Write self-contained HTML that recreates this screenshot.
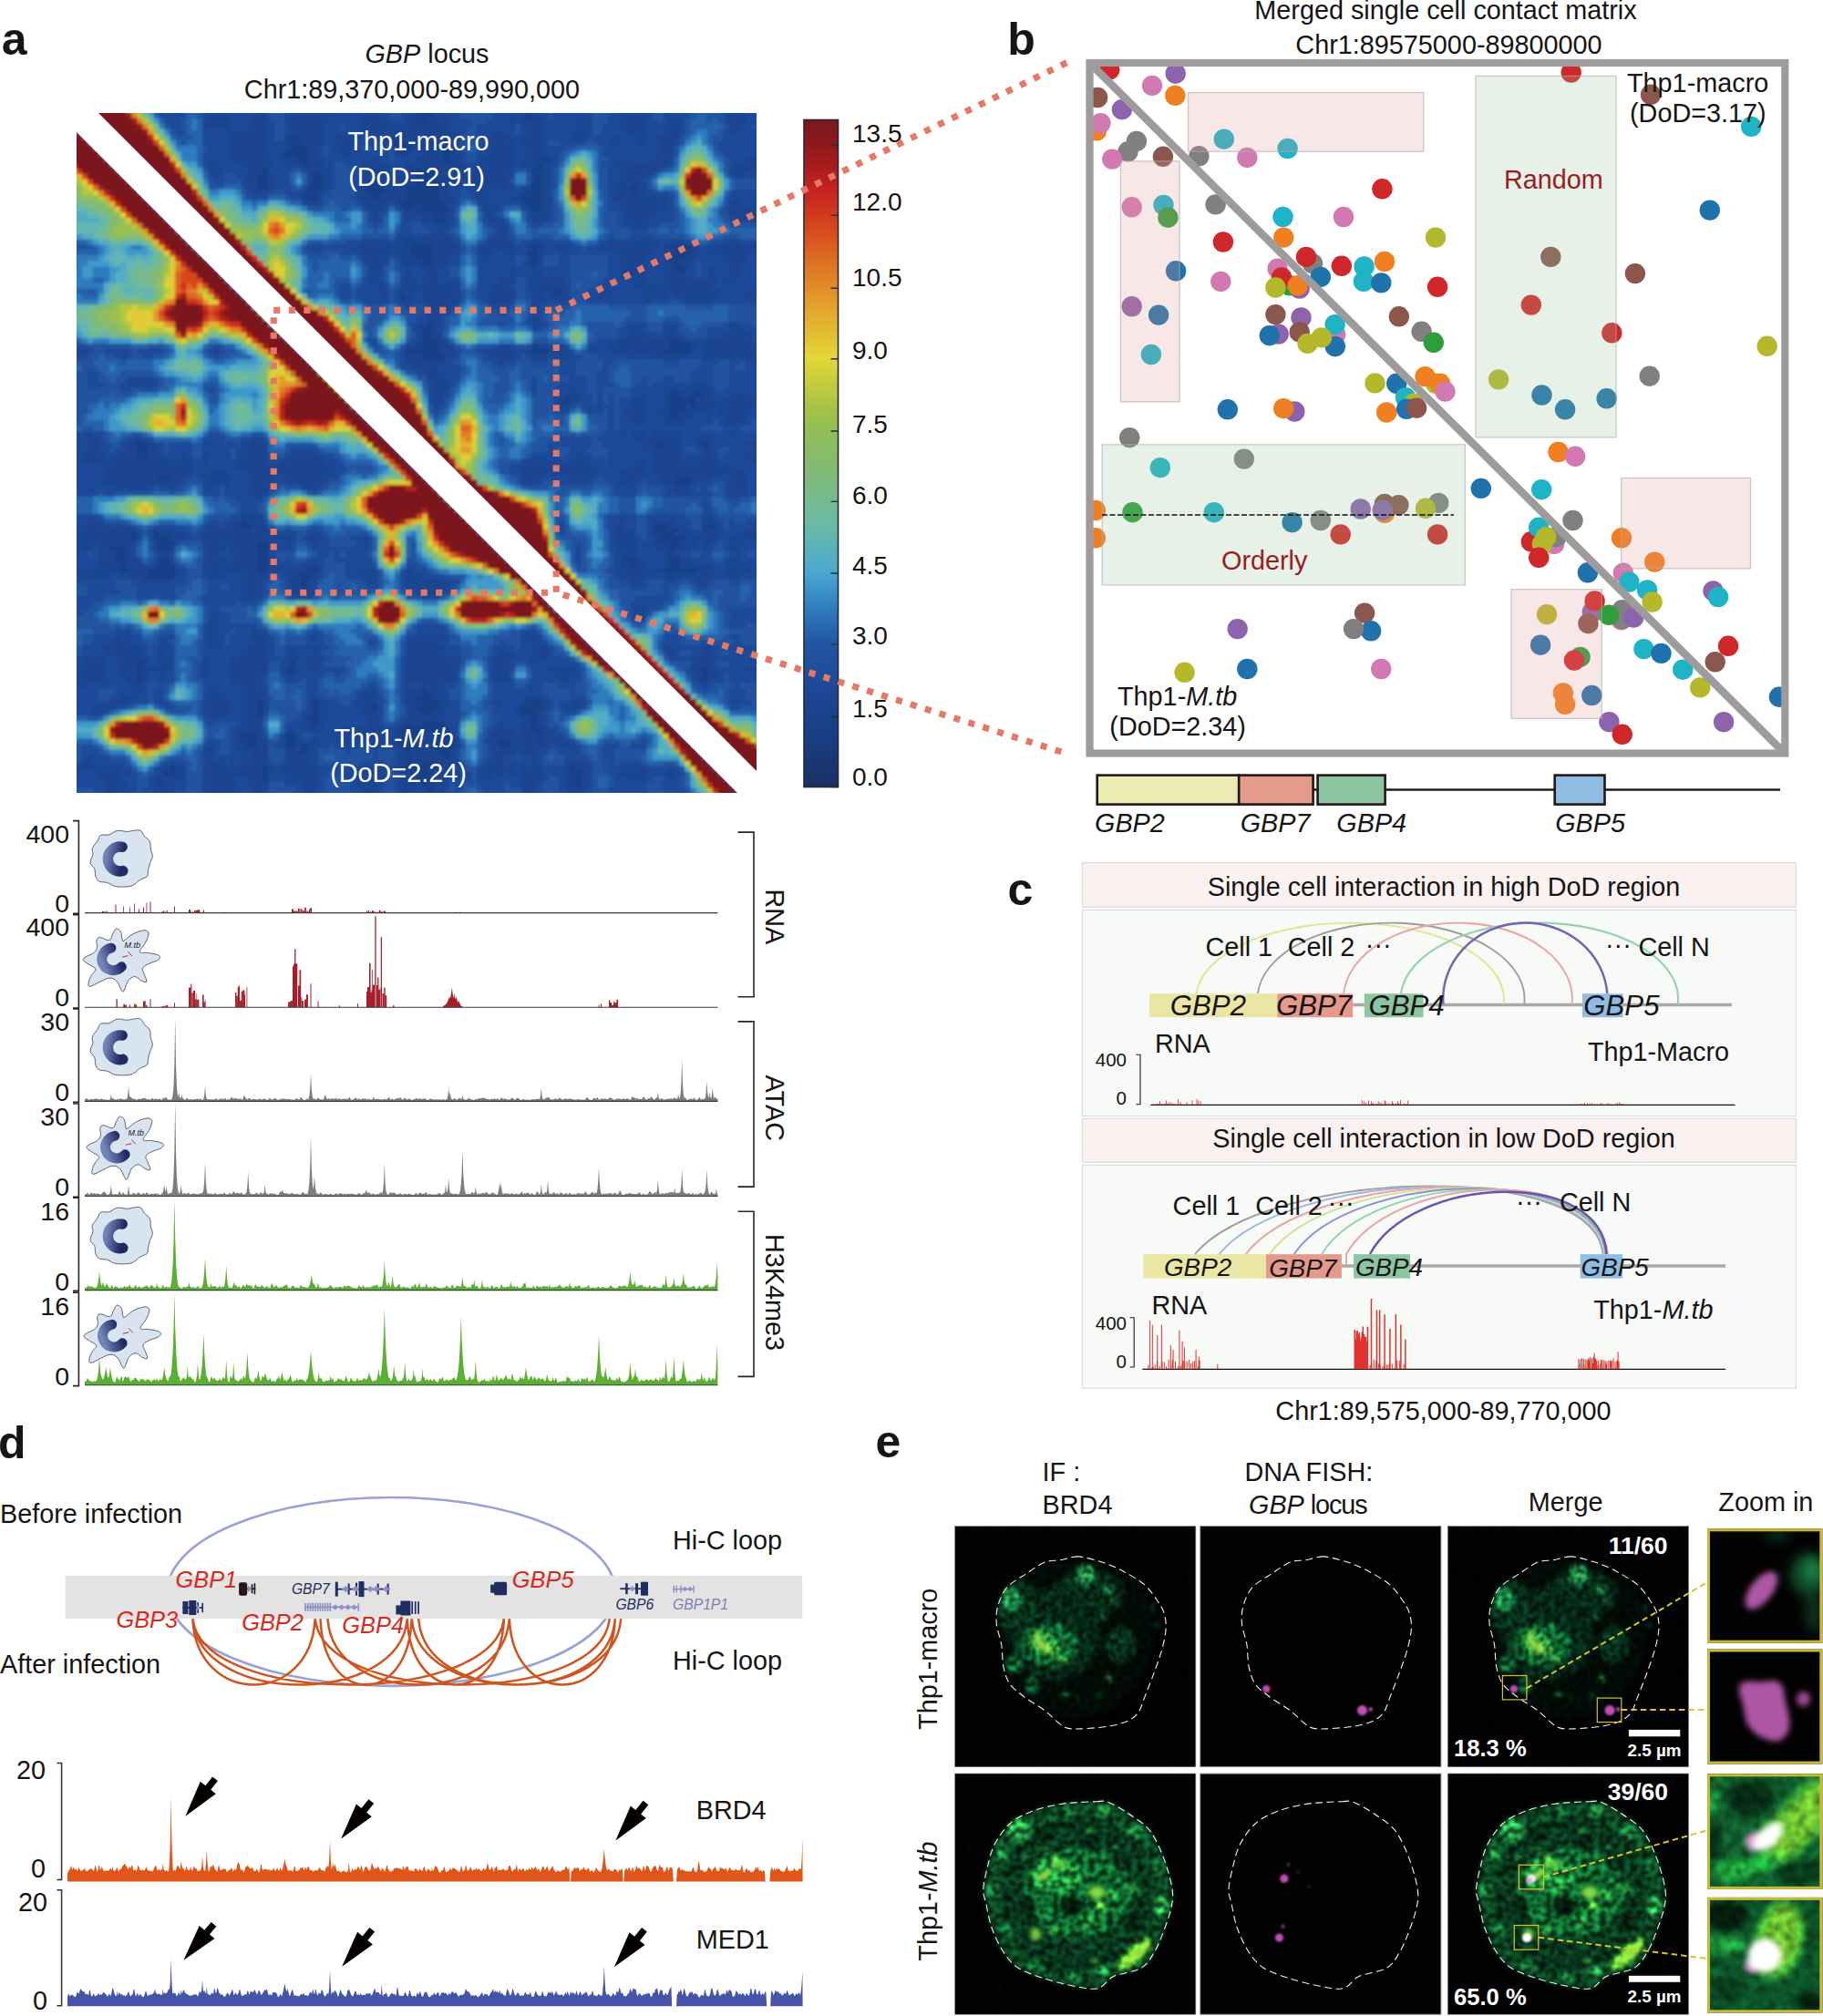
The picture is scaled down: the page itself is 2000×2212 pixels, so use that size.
<!DOCTYPE html>
<html><head><meta charset="utf-8"><title>Figure</title>
<style>
html,body{margin:0;padding:0;background:#fff}
svg{display:block}
text{font-family:"Liberation Sans",Arial,Helvetica,sans-serif}
.i{font-style:italic}
.b{font-weight:bold}
</style></head><body>
<svg fill="#161414" width="2000" height="2212" viewBox="0 0 2000 2212">
<rect width="2000" height="2212" fill="#fff"/>
<!-- pa -->
<defs>
<clipPath id="hmclip"><rect x="84" y="124" width="746" height="746"/></clipPath>
<filter id="hmblur" x="-2%" y="-2%" width="104%" height="104%"><feGaussianBlur stdDeviation="0.3"/></filter>
<linearGradient id="cbg" x1="0" y1="0" x2="0" y2="1">

<stop offset="0.0000" stop-color="rgb(122,24,28)"/>
<stop offset="0.0357" stop-color="rgb(142,25,29)"/>
<stop offset="0.0714" stop-color="rgb(169,29,30)"/>
<stop offset="0.1071" stop-color="rgb(200,35,31)"/>
<stop offset="0.1429" stop-color="rgb(209,59,30)"/>
<stop offset="0.1786" stop-color="rgb(218,84,31)"/>
<stop offset="0.2143" stop-color="rgb(222,113,36)"/>
<stop offset="0.2500" stop-color="rgb(226,140,40)"/>
<stop offset="0.2857" stop-color="rgb(228,165,44)"/>
<stop offset="0.3214" stop-color="rgb(227,190,50)"/>
<stop offset="0.3571" stop-color="rgb(226,216,56)"/>
<stop offset="0.3929" stop-color="rgb(196,205,60)"/>
<stop offset="0.4286" stop-color="rgb(169,196,69)"/>
<stop offset="0.4643" stop-color="rgb(146,190,85)"/>
<stop offset="0.5000" stop-color="rgb(136,188,104)"/>
<stop offset="0.5357" stop-color="rgb(127,186,122)"/>
<stop offset="0.5714" stop-color="rgb(117,186,144)"/>
<stop offset="0.6071" stop-color="rgb(107,186,165)"/>
<stop offset="0.6429" stop-color="rgb(90,177,186)"/>
<stop offset="0.6786" stop-color="rgb(74,168,208)"/>
<stop offset="0.7143" stop-color="rgb(56,139,196)"/>
<stop offset="0.7500" stop-color="rgb(41,110,182)"/>
<stop offset="0.7857" stop-color="rgb(34,86,162)"/>
<stop offset="0.8214" stop-color="rgb(32,78,156)"/>
<stop offset="0.8571" stop-color="rgb(29,70,150)"/>
<stop offset="0.8929" stop-color="rgb(26,66,140)"/>
<stop offset="0.9286" stop-color="rgb(24,62,130)"/>
<stop offset="0.9643" stop-color="rgb(26,54,114)"/>
<stop offset="1.0000" stop-color="rgb(27,47,99)"/>
</linearGradient>
<linearGradient id="nucg" x1="0" y1="0" x2="1" y2="0.3"><stop offset="0" stop-color="#7283b6"/><stop offset="1" stop-color="#232a63"/></linearGradient>
<linearGradient id="nucg2" x1="0" y1="0.6" x2="1" y2="0.2"><stop offset="0" stop-color="#7283b6"/><stop offset="0.8" stop-color="#232a63"/></linearGradient>
</defs>
<text x="1.8" y="59.6" font-size="50" class="b">a</text>
<text x="468.5" y="69" font-size="28.8" text-anchor="middle"><tspan class="i">GBP</tspan> locus</text>
<text x="452" y="107.5" font-size="28.8" text-anchor="middle">Chr1:89,370,000-89,990,000</text>
<g clip-path="url(#hmclip)"><g filter="url(#hmblur)" transform="translate(71.9677,111.968) scale(6.01613)" fill="none" stroke-width="1.12">
<rect x="0" y="0" width="129" height="129" fill="rgb(25,64,135)"/>
<path transform="translate(0,.5)" stroke="rgb(28,68,145)" d="M0 0h129M0 1h65M67 1h62M0 2h64M67 2h17M85 2h44M0 3h64M66 3h63M0 4h129M0 5h129M0 6h41M42 6h87M0 7h41M43 7h17M62 7h67M0 8h41M44 8h17M63 8h6M70 8h59M0 9h40M44 9h25M70 9h59M0 10h42M44 10h25M70 10h17M88 10h41M0 11h13M15 11h28M44 11h42M87 11h42M0 12h14M16 12h20M37 12h27M68 12h17M87 12h42M0 13h15M17 13h18M37 13h8M47 13h17M68 13h17M87 13h42M0 14h15M18 14h17M37 14h8M47 14h9M57 14h7M68 14h17M87 14h42M0 15h15M19 15h16M37 15h7M47 15h8M58 15h4M68 15h17M87 15h16M104 15h25M0 16h15M16 16h2M19 16h25M46 16h9M58 16h4M68 16h16M87 16h16M104 16h25M0 17h15M16 17h28M46 17h10M57 17h5M68 17h15M87 17h42M0 18h61M69 18h15M87 18h42M0 19h19M20 19h42M63 19h1M70 19h15M87 19h42M0 20h67M69 20h60M0 21h67M69 21h60M0 22h129M0 23h129M0 24h129M0 25h62M64 25h65M0 26h63M67 26h18M86 26h25M114 26h15M0 27h63M67 27h17M86 27h25M114 27h15M0 28h64M67 28h18M86 28h25M113 28h16M0 29h65M67 29h18M86 29h25M112 29h17M0 30h111M113 30h16M0 31h129M0 32h129M0 33h129M0 34h89M90 34h39M0 35h61M62 35h67M0 36h129M0 37h129M0 38h129M0 39h129M0 40h66M67 40h62M0 41h65M67 41h62M0 42h45M46 42h19M67 42h62M0 43h45M47 43h18M68 43h42M112 43h17M0 44h45M47 44h17M68 44h17M86 44h24M114 44h15M0 45h62M68 45h17M88 45h21M114 45h15M0 46h43M44 46h21M69 46h60M0 47h129M0 48h129M0 49h129M0 50h129M0 51h129M0 52h129M0 53h110M112 53h2M116 53h13M0 54h91M92 54h18M115 54h14M0 55h56M57 55h53M113 55h1M115 55h14M0 56h56M57 56h53M113 56h16M0 57h110M112 57h17M0 58h129M0 59h129M0 60h129M0 61h129M0 62h13M15 62h45M62 62h46M109 62h7M117 62h12M0 63h13M15 63h46M62 63h67M0 64h13M15 64h114M0 65h129M0 66h129M0 67h129M0 68h17M19 68h92M114 68h15M0 69h111M114 69h15M0 70h129M0 71h129M0 72h129M0 73h129M0 74h129M0 75h129M0 76h32M33 76h96M0 77h32M34 77h73M110 77h7M118 77h11M0 78h12M13 78h3M17 78h90M111 78h18M0 79h12M13 79h3M19 79h89M113 79h16M0 80h17M20 80h15M37 80h72M112 80h17M0 81h8M11 81h6M19 81h16M37 81h73M111 81h18M0 82h9M11 82h24M37 82h92M0 83h9M11 83h6M19 83h16M37 83h46M86 83h16M104 83h6M112 83h17M0 84h10M11 84h6M20 84h15M37 84h45M87 84h16M104 84h6M112 84h17M0 85h10M11 85h4M20 85h15M37 85h7M46 85h36M87 85h22M115 85h14M0 86h15M20 86h23M45 86h65M111 86h18M0 87h43M44 87h85M0 88h43M44 88h85M0 89h43M44 89h85M0 90h129M0 91h129M0 92h129M0 93h129M0 94h129M0 95h129M0 96h129M0 97h129M0 98h129M0 99h129M0 100h129M0 101h129M0 102h13M14 102h27M42 102h87M0 103h13M14 103h26M42 103h74M117 103h12M0 104h13M14 104h102M117 104h12M0 105h13M14 105h102M117 105h12M0 106h129M0 107h65M66 107h63M0 108h64M67 108h62M0 109h35M36 109h9M46 109h18M68 109h16M87 109h24M113 109h16M0 110h35M36 110h9M46 110h10M57 110h7M68 110h15M87 110h24M114 110h15M0 111h35M36 111h9M46 111h19M67 111h16M86 111h25M115 111h14M0 112h44M46 112h39M86 112h27M115 112h14M0 113h45M46 113h16M63 113h2M69 113h16M86 113h29M116 113h13M0 114h61M70 114h15M87 114h24M117 114h12M0 115h32M35 115h5M42 115h19M65 115h2M71 115h15M87 115h26M118 115h11M0 116h32M35 116h5M42 116h18M64 116h3M71 116h8M81 116h5M87 116h27M118 116h11M0 117h33M35 117h5M42 117h1M44 117h17M64 117h3M71 117h8M81 117h33M118 117h11M0 118h43M44 118h18M63 118h5M70 118h59M0 119h62M63 119h6M70 119h59M0 120h62M63 120h2M68 120h61M0 121h19M20 121h16M37 121h25M68 121h24M93 121h36M0 122h18M20 122h16M37 122h26M67 122h25M94 122h35M0 123h36M37 123h26M67 123h25M94 123h35M0 124h17M18 124h47M67 124h25M94 124h35M0 125h66M67 125h62M0 126h129M0 127h129M0 128h129"/>
<path transform="translate(0,.5)" stroke="rgb(30,74,153)" d="M0 0h25M29 0h5M37 0h6M47 0h7M57 0h7M69 0h12M82 0h1M87 0h16M106 0h15M123 0h6M0 1h26M30 1h4M37 1h4M49 1h5M57 1h7M69 1h12M82 1h1M87 1h14M106 1h15M124 1h5M0 2h19M20 2h6M30 2h4M37 2h4M49 2h5M58 2h4M69 2h12M82 2h1M87 2h7M95 2h6M106 2h5M112 2h9M124 2h5M0 3h25M30 3h4M37 3h3M48 3h6M59 3h3M70 3h11M82 3h1M87 3h6M96 3h5M106 3h4M112 3h9M124 3h5M0 4h7M8 4h17M30 4h3M37 4h4M47 4h7M70 4h14M87 4h6M96 4h5M106 4h3M112 4h9M123 4h6M0 5h5M9 5h21M37 5h4M47 5h7M72 5h6M80 5h4M87 5h5M95 5h7M106 5h3M112 5h9M122 5h6M0 6h4M10 6h20M37 6h3M47 6h2M54 6h3M72 6h5M81 6h2M87 6h5M95 6h5M101 6h3M106 6h2M112 6h17M0 7h5M7 7h3M11 7h19M37 7h3M47 7h2M53 7h5M72 7h5M82 7h1M87 7h12M101 7h3M106 7h2M111 7h18M0 8h6M7 8h3M12 8h18M37 8h3M46 8h4M52 8h8M72 8h6M82 8h2M87 8h21M111 8h18M0 9h7M8 9h2M13 9h17M38 9h1M46 9h4M52 9h8M63 9h2M72 9h5M82 9h2M88 9h20M111 9h18M0 10h8M14 10h12M27 10h3M37 10h2M47 10h8M57 10h7M72 10h4M82 10h1M89 10h12M102 10h1M104 10h3M110 10h14M0 11h8M15 11h11M28 11h4M38 11h2M47 11h7M59 11h3M73 11h2M82 11h1M88 11h12M110 11h12M0 12h9M16 12h10M28 12h5M37 12h7M48 12h6M59 12h3M73 12h1M82 12h3M88 12h13M108 12h13M0 13h10M17 13h10M28 13h5M38 13h6M48 13h6M81 13h4M88 13h13M106 13h16M124 13h4M0 14h11M18 14h15M38 14h6M48 14h5M72 14h1M81 14h4M89 14h12M105 14h24M0 15h12M19 15h14M39 15h5M48 15h5M70 15h1M72 15h3M81 15h3M88 15h12M106 15h22M0 16h13M20 16h14M37 16h6M47 16h6M70 16h5M77 16h6M88 16h12M106 16h20M0 17h14M20 17h23M47 17h6M71 17h4M77 17h4M88 17h12M110 17h12M123 17h2M0 18h15M21 18h23M46 18h8M59 18h1M71 18h5M78 18h5M88 18h13M110 18h11M123 18h2M0 19h16M22 19h33M58 19h3M71 19h5M79 19h5M88 19h13M110 19h11M0 20h17M22 20h34M57 20h5M70 20h7M78 20h7M88 20h14M108 20h13M128 20h1M0 21h19M22 21h34M57 21h5M63 21h2M70 21h7M80 21h5M88 21h14M107 21h16M128 21h1M0 22h67M70 22h8M80 22h23M106 22h23M0 23h68M69 23h10M80 23h49M0 24h26M27 24h34M63 24h2M70 24h8M80 24h49M0 25h25M28 25h26M59 25h1M71 25h6M82 25h3M87 25h12M108 25h2M113 25h8M123 25h6M0 26h25M29 26h16M46 26h7M72 26h3M82 26h2M88 26h1M92 26h5M108 26h1M115 26h2M127 26h1M0 27h25M30 27h24M59 27h1M72 27h3M78 27h2M82 27h2M87 27h3M92 27h8M107 27h2M115 27h2M125 27h3M0 28h26M31 28h23M59 28h2M70 28h6M77 28h7M87 28h14M106 28h3M115 28h5M124 28h5M0 29h27M30 29h25M58 29h3M70 29h14M87 29h14M106 29h3M114 29h7M124 29h5M0 30h28M30 30h25M58 30h4M63 30h2M69 30h12M82 30h3M86 30h15M106 30h3M114 30h3M118 30h3M123 30h6M0 31h29M30 31h3M34 31h22M57 31h5M63 31h3M68 31h13M82 31h3M87 31h14M106 31h3M113 31h4M118 31h3M123 31h6M0 32h31M36 32h19M57 32h4M64 32h1M68 32h11M82 32h3M91 32h12M106 32h3M119 32h1M122 32h6M0 33h31M36 33h21M58 33h3M64 33h1M72 33h6M81 33h4M91 33h8M100 33h4M108 33h1M118 33h7M126 33h2M0 34h32M37 34h20M59 34h2M72 34h5M82 34h3M92 34h5M100 34h5M120 34h5M0 35h33M37 35h21M59 35h2M63 35h2M72 35h5M82 35h3M87 35h1M92 35h5M100 35h5M110 35h1M119 35h5M0 36h34M37 36h24M63 36h2M72 36h5M81 36h4M86 36h3M91 36h8M100 36h5M107 36h6M118 36h7M126 36h3M0 37h35M36 37h30M70 37h59M0 38h67M68 38h61M0 39h66M68 39h17M87 39h42M0 40h42M44 40h20M68 40h17M87 40h34M123 40h6M0 41h42M45 41h19M68 41h17M86 41h17M105 41h4M111 41h10M124 41h5M0 42h42M46 42h18M68 42h34M106 42h3M112 42h8M125 42h4M0 43h42M47 43h17M69 43h31M114 43h3M125 43h4M0 44h1M2 44h39M48 44h14M71 44h8M81 44h4M88 44h9M98 44h1M115 44h1M4 45h6M11 45h4M16 45h11M28 45h14M49 45h13M71 45h5M82 45h2M92 45h7M115 45h1M0 46h43M48 46h14M70 46h7M82 46h3M88 46h2M92 46h11M104 46h3M113 46h3M126 46h2M0 47h44M47 47h15M69 47h10M80 47h49M0 48h63M68 48h61M0 49h66M69 49h60M0 50h12M16 50h50M70 50h59M0 51h12M16 51h51M70 51h44M117 51h11M0 52h54M56 52h11M70 52h22M93 52h16M118 52h10M0 53h53M57 53h10M69 53h21M94 53h11M106 53h3M118 53h3M125 53h3M0 54h52M58 54h9M69 54h21M94 54h9M106 54h3M119 54h1M126 54h2M0 55h53M59 55h8M68 55h22M92 55h11M106 55h3M126 55h2M0 56h54M60 56h42M106 56h2M118 56h1M125 56h3M0 57h55M59 57h1M61 57h42M106 57h3M114 57h6M124 57h5M0 58h56M57 58h3M62 58h41M106 58h3M113 58h7M124 58h5M0 59h60M63 59h66M0 60h4M5 60h52M59 60h1M64 60h37M102 60h1M106 60h1M112 60h4M117 60h4M122 60h7M0 61h4M6 61h6M14 61h20M36 61h22M64 61h40M112 61h3M118 61h11M0 62h3M7 62h3M17 62h8M26 62h6M37 62h22M66 62h39M112 62h3M118 62h6M127 62h2M0 63h4M6 63h5M17 63h15M37 63h23M67 63h38M106 63h1M112 63h4M118 63h7M127 63h2M0 64h3M7 64h3M18 64h3M22 64h3M26 64h6M37 64h4M46 64h15M68 64h25M94 64h13M112 64h4M118 64h6M128 64h1M0 65h2M7 65h2M23 65h2M26 65h5M37 65h2M47 65h1M49 65h13M69 65h15M89 65h3M96 65h3M100 65h4M106 65h1M119 65h6M1 66h6M23 66h8M49 66h15M70 66h13M96 66h7M106 66h1M122 66h5M2 67h5M23 67h3M30 67h3M49 67h16M70 67h13M97 67h4M106 67h1M124 67h4M2 68h5M22 68h3M30 68h4M38 68h2M48 68h18M70 68h13M87 68h5M96 68h5M105 68h3M118 68h3M124 68h4M0 69h1M2 69h5M21 69h4M30 69h4M38 69h3M47 69h20M69 69h14M86 69h8M95 69h6M104 69h5M115 69h6M124 69h4M0 70h9M15 70h4M20 70h6M27 70h7M37 70h6M46 70h22M69 70h33M103 70h7M114 70h7M124 70h5M0 71h33M37 71h74M114 71h7M124 71h5M0 72h129M0 73h129M0 74h129M0 75h32M36 75h42M79 75h22M102 75h14M118 75h11M0 76h4M5 76h25M36 76h42M80 76h21M102 76h5M111 76h5M119 76h10M0 77h3M8 77h1M12 77h14M27 77h2M37 77h40M81 77h19M102 77h5M113 77h3M119 77h6M0 78h2M13 78h3M22 78h3M37 78h8M46 78h31M82 78h18M104 78h3M114 78h2M119 78h4M13 79h3M22 79h3M42 79h2M47 79h7M55 79h22M83 79h17M104 79h3M119 79h2M13 80h3M20 80h5M38 80h2M41 80h4M46 80h31M84 80h16M104 80h3M115 80h1M118 80h3M124 80h2M5 81h1M12 81h4M20 81h5M29 81h1M37 81h17M55 81h23M85 81h16M104 81h4M114 81h2M117 81h4M123 81h6M1 82h6M12 82h5M19 82h7M28 82h3M37 82h46M86 82h15M104 82h5M112 82h17M2 83h4M13 83h4M20 83h5M29 83h1M38 83h42M87 83h13M105 83h4M114 83h7M123 83h6M0 84h1M2 84h4M14 84h2M20 84h5M38 84h5M46 84h35M88 84h13M106 84h3M118 84h3M125 84h4M22 85h3M39 85h1M47 85h6M57 85h5M63 85h19M89 85h12M119 85h1M127 85h2M0 86h2M8 86h3M20 86h6M29 86h3M37 86h4M46 86h8M57 86h5M65 86h18M86 86h15M106 86h3M118 86h2M123 86h6M0 87h14M19 87h13M36 87h5M46 87h9M56 87h6M70 87h15M86 87h17M105 87h10M117 87h12M0 88h32M36 88h5M45 88h17M70 88h59M0 89h32M36 89h5M45 89h19M68 89h61M0 90h32M36 90h56M93 90h36M0 91h91M95 91h33M0 92h91M96 92h8M106 92h21M0 93h27M28 93h63M96 93h8M106 93h16M123 93h4M0 94h26M28 94h64M96 94h32M0 95h26M28 95h65M95 95h34M0 96h26M28 96h6M36 96h93M0 97h9M10 97h1M12 97h14M28 97h6M37 97h8M46 97h18M69 97h15M86 97h43M0 98h8M12 98h5M18 98h8M28 98h6M37 98h25M68 98h17M86 98h43M0 99h7M14 99h3M19 99h7M28 99h5M37 99h7M46 99h16M69 99h16M88 99h13M102 99h7M111 99h5M118 99h11M0 100h7M14 100h3M18 100h14M37 100h4M42 100h3M46 100h16M69 100h10M81 100h4M88 100h22M111 100h5M118 100h11M0 101h3M7 101h2M15 101h2M19 101h6M26 101h4M37 101h3M43 101h1M47 101h15M72 101h6M82 101h3M88 101h26M118 101h11M0 102h3M7 102h3M15 102h2M19 102h6M26 102h4M37 102h3M42 102h2M46 102h16M72 102h6M81 102h4M86 102h28M118 102h9M0 103h2M7 103h3M19 103h6M26 103h4M37 103h3M43 103h1M46 103h16M72 103h6M81 103h7M93 103h12M106 103h8M119 103h5M0 104h2M7 104h3M15 104h2M18 104h7M26 104h4M36 104h4M42 104h20M71 104h7M81 104h8M93 104h14M108 104h7M119 104h10M0 105h1M8 105h3M15 105h2M18 105h12M36 105h4M42 105h20M71 105h7M81 105h4M86 105h4M92 105h15M109 105h6M118 105h11M0 106h3M4 106h8M14 106h13M28 106h3M36 106h26M63 106h2M69 106h40M110 106h19M0 107h12M14 107h12M28 107h4M37 107h17M57 107h5M69 107h16M86 107h24M111 107h18M0 108h10M13 108h13M29 108h3M37 108h8M46 108h8M57 108h5M69 108h15M87 108h23M112 108h17M2 109h6M12 109h5M18 109h7M30 109h2M37 109h7M48 109h5M57 109h5M70 109h8M80 109h3M88 109h4M94 109h16M113 109h8M123 109h6M1 110h4M9 110h16M30 110h2M37 110h7M48 110h5M57 110h5M70 110h9M80 110h2M88 110h3M94 110h16M114 110h15M0 111h5M7 111h18M30 111h2M37 111h7M48 111h6M57 111h5M69 111h13M87 111h23M115 111h14M0 112h26M28 112h4M36 112h8M48 112h7M57 112h5M69 112h14M87 112h23M115 112h14M0 113h32M36 113h7M47 113h8M57 113h4M70 113h9M80 113h3M87 113h23M116 113h13M0 114h31M36 114h4M42 114h2M47 114h3M58 114h2M71 114h7M82 114h1M89 114h22M117 114h12M0 115h31M36 115h4M42 115h7M58 115h2M71 115h6M82 115h1M89 115h23M118 115h11M0 116h31M37 116h3M43 116h2M46 116h3M59 116h1M72 116h5M91 116h22M119 116h10M0 117h26M27 117h4M37 117h3M46 117h5M53 117h3M58 117h2M72 117h5M88 117h2M93 117h6M100 117h14M119 117h10M0 118h25M27 118h5M37 118h3M46 118h15M71 118h7M82 118h1M86 118h29M118 118h11M0 119h4M5 119h20M27 119h5M33 119h1M37 119h3M45 119h16M71 119h7M80 119h5M86 119h43M0 120h3M5 120h14M20 120h6M29 120h1M31 120h1M37 120h3M45 120h16M72 120h5M80 120h5M86 120h6M95 120h34M0 121h1M10 121h7M22 121h3M38 121h1M46 121h6M59 121h1M72 121h4M82 121h1M87 121h4M96 121h5M106 121h4M111 121h10M124 121h5M0 122h1M3 122h2M12 122h5M22 122h3M38 122h1M47 122h6M59 122h2M70 122h1M72 122h3M80 122h1M87 122h4M96 122h5M106 122h3M112 122h8M124 122h5M0 123h6M10 123h6M22 123h3M31 123h2M37 123h3M46 123h7M58 123h3M69 123h7M78 123h5M87 123h4M95 123h7M106 123h4M111 123h10M123 123h6M0 124h7M11 124h5M20 124h5M31 124h2M37 124h6M46 124h7M57 124h4M69 124h14M86 124h5M96 124h33M0 125h7M11 125h5M20 125h5M31 125h3M37 125h6M46 125h8M57 125h4M64 125h1M69 125h14M86 125h5M95 125h34M0 126h7M10 126h7M20 126h5M31 126h1M37 126h6M46 126h8M57 126h4M63 126h2M69 126h14M86 126h6M95 126h34M0 127h7M8 127h9M20 127h5M29 127h3M37 127h6M45 127h10M57 127h5M63 127h2M70 127h15M86 127h7M94 127h35M0 128h12M16 128h1M20 128h5M26 128h6M37 128h6M45 128h16M70 128h8M81 128h4M86 128h28M115 128h14"/>
<path transform="translate(0,.5)" stroke="rgb(33,82,159)" d="M1 0h15M22 0h3M37 0h3M59 0h1M72 0h5M87 0h3M95 0h6M107 0h2M114 0h6M125 0h3M1 1h3M5 1h12M22 1h3M37 1h3M59 1h2M72 1h6M88 1h1M96 1h3M108 1h1M114 1h6M126 1h2M2 2h2M6 2h11M22 2h3M37 2h3M59 2h2M72 2h6M88 2h1M96 2h3M107 2h2M114 2h6M126 2h2M7 3h11M21 3h4M38 3h2M74 3h3M96 3h3M108 3h1M113 3h7M0 4h1M8 4h11M21 4h4M38 4h2M50 4h1M74 4h1M82 4h1M96 4h2M113 4h8M125 4h1M0 5h2M9 5h11M22 5h3M38 5h2M73 5h2M82 5h1M96 5h2M113 5h7M0 6h3M10 6h15M38 6h2M72 6h3M112 6h8M0 7h5M11 7h14M72 7h3M88 7h2M95 7h2M112 7h7M0 8h5M12 8h14M47 8h1M54 8h2M72 8h3M91 8h7M111 8h8M0 9h6M13 9h12M47 9h1M59 9h1M73 9h2M90 9h8M111 9h9M0 10h7M14 10h11M59 10h1M73 10h2M90 10h9M111 10h10M0 11h8M15 11h10M49 11h2M90 11h8M111 11h10M0 12h9M16 12h10M41 12h2M49 12h3M82 12h2M89 12h10M109 12h12M0 13h10M17 13h9M29 13h2M41 13h3M49 13h3M82 13h3M89 13h10M107 13h14M0 14h11M18 14h9M29 14h3M41 14h3M49 14h3M81 14h4M89 14h10M106 14h22M0 15h12M19 15h13M41 15h2M49 15h3M82 15h1M89 15h10M106 15h20M0 16h13M20 16h13M38 16h2M48 16h5M72 16h1M89 16h10M108 16h1M110 16h11M0 17h14M21 17h13M37 17h4M47 17h5M72 17h2M89 17h10M111 17h10M0 18h15M21 18h22M47 18h6M72 18h3M89 18h10M111 18h10M0 19h16M22 19h32M59 19h1M71 19h5M80 19h3M89 19h10M111 19h9M0 20h17M23 20h32M58 20h3M71 20h5M79 20h5M89 20h12M111 20h10M0 21h18M23 21h32M58 21h3M71 21h5M80 21h4M89 21h12M111 21h10M0 22h20M22 22h34M57 22h4M63 22h2M71 22h6M81 22h4M87 22h14M108 22h18M128 22h1M0 23h25M26 23h35M63 23h3M70 23h8M81 23h22M106 23h23M0 24h25M27 24h33M71 24h6M81 24h18M100 24h3M107 24h22M0 25h25M28 25h23M72 25h4M82 25h1M92 25h5M114 25h4M2 26h22M29 26h15M72 26h3M94 26h1M0 27h25M30 27h14M47 27h3M72 27h3M0 28h26M31 28h23M59 28h1M72 28h3M82 28h2M87 28h3M92 28h7M0 29h26M32 29h22M59 29h2M72 29h3M82 29h1M87 29h3M92 29h7M115 29h1M0 30h28M33 30h22M58 30h3M70 30h5M92 30h7M115 30h1M0 31h29M35 31h20M58 31h3M70 31h5M92 31h7M115 31h1M0 32h30M36 32h18M58 32h3M72 32h3M82 32h2M92 32h6M0 33h31M37 33h13M52 33h2M59 33h2M72 33h3M82 33h2M92 33h5M0 34h32M37 34h13M52 34h1M59 34h1M72 34h3M82 34h2M92 34h3M0 35h33M38 35h12M52 35h1M59 35h1M72 35h3M82 35h2M92 35h3M0 36h34M37 36h17M59 36h1M72 36h4M82 36h3M92 36h3M110 36h2M0 37h35M37 37h25M63 37h3M71 37h7M81 37h4M87 37h42M0 38h65M70 38h9M80 38h5M87 38h42M0 39h42M43 39h21M69 39h15M87 39h42M0 40h40M44 40h19M69 40h10M80 40h4M88 40h14M106 40h3M112 40h8M125 40h3M0 41h40M45 41h18M69 41h16M87 41h14M106 41h3M112 41h5M126 41h2M0 42h40M46 42h18M69 42h32M113 42h4M126 42h2M0 43h40M47 43h8M57 43h6M70 43h27M4 44h23M28 44h13M48 44h8M57 44h5M71 44h7M82 44h2M92 44h3M5 45h2M12 45h1M18 45h8M29 45h13M49 45h12M72 45h3M93 45h2M4 46h5M12 46h2M16 46h11M28 46h15M50 46h11M72 46h4M83 46h1M94 46h3M0 47h44M47 47h2M51 47h10M71 47h7M82 47h3M88 47h2M93 47h5M100 47h9M112 47h4M119 47h2M123 47h1M127 47h1M0 48h46M47 48h2M52 48h9M72 48h7M80 48h10M93 48h5M99 48h16M118 48h3M122 48h2M0 49h4M6 49h45M53 49h11M72 49h18M93 49h4M99 49h15M118 49h3M0 50h4M6 50h5M17 50h35M54 50h12M72 50h13M86 50h6M95 50h2M99 50h6M106 50h3M111 50h3M118 50h3M0 51h4M7 51h3M17 51h32M50 51h1M55 51h11M71 51h14M86 51h4M95 51h2M100 51h4M106 51h1M118 51h3M0 52h10M12 52h2M16 52h10M27 52h23M56 52h10M70 52h15M86 52h3M95 52h2M98 52h5M119 52h1M0 53h51M57 53h9M70 53h15M86 53h3M96 53h1M98 53h1M100 53h3M0 54h52M58 54h8M69 54h20M96 54h1M98 54h1M100 54h1M1 55h52M59 55h8M69 55h20M93 55h1M100 55h1M2 56h52M60 56h7M68 56h21M92 56h3M98 56h1M100 56h1M0 57h55M61 57h38M100 57h1M126 57h1M0 58h55M62 58h37M100 58h1M118 58h1M125 58h3M0 59h56M59 59h1M63 59h36M100 59h1M116 59h4M123 59h6M7 60h19M28 60h29M64 60h34M126 60h3M7 61h4M16 61h9M29 61h3M37 61h21M65 61h25M96 61h1M8 62h2M18 62h1M23 62h2M37 62h22M66 62h22M96 62h2M0 63h1M8 63h1M18 63h1M23 63h2M30 63h1M37 63h4M46 63h14M67 63h21M89 63h3M95 63h4M113 63h2M119 63h2M23 64h2M30 64h1M37 64h3M49 64h12M68 64h17M90 64h1M96 64h3M119 64h1M50 65h12M69 65h14M51 66h12M70 66h11M51 67h13M70 67h11M23 68h1M50 68h15M71 68h12M97 68h1M22 69h3M48 69h18M72 69h11M87 69h3M96 69h3M105 69h1M118 69h2M16 70h1M21 70h4M28 70h1M38 70h5M47 70h21M74 70h26M104 70h5M115 70h1M117 70h3M6 71h1M9 71h16M28 71h1M37 71h34M72 71h1M74 71h26M104 71h5M118 71h2M126 71h2M0 72h31M36 72h80M117 72h4M123 72h6M0 73h32M35 73h81M118 73h11M0 74h32M35 74h81M118 74h11M0 75h2M6 75h24M36 75h41M79 75h20M104 75h2M113 75h3M119 75h9M0 76h1M7 76h19M28 76h1M37 76h39M80 76h10M91 76h8M104 76h2M114 76h2M120 76h1M122 76h2M13 77h3M22 77h3M37 77h8M46 77h29M81 77h9M91 77h8M104 77h2M114 77h2M120 77h1M14 78h1M23 78h1M42 78h2M47 78h28M82 78h8M91 78h8M104 78h2M14 79h1M42 79h1M48 79h4M56 79h20M83 79h16M105 79h1M13 80h3M21 80h4M42 80h2M48 80h5M56 80h21M84 80h9M94 80h5M119 80h1M13 81h3M20 81h5M42 81h3M56 81h22M85 81h8M94 81h5M118 81h2M4 82h1M13 82h3M20 82h5M38 82h8M48 82h1M50 82h1M55 82h24M86 82h7M94 82h6M114 82h2M118 82h3M124 82h5M14 83h2M20 83h5M39 83h1M41 83h3M47 83h2M56 83h24M87 83h6M94 83h6M118 83h2M126 83h3M21 84h4M47 84h4M56 84h6M64 84h17M88 84h5M94 84h6M22 85h3M47 85h4M57 85h4M66 85h16M89 85h10M22 86h3M38 86h1M47 86h4M57 86h4M69 86h14M88 86h1M90 86h10M0 87h2M9 87h3M22 87h4M37 87h3M46 87h8M57 87h4M72 87h12M87 87h14M106 87h3M112 87h2M118 87h3M123 87h6M0 88h4M9 88h4M20 88h6M28 88h2M37 88h3M46 88h9M57 88h4M71 88h14M87 88h4M92 88h11M106 88h3M110 88h5M117 88h12M0 89h4M10 89h3M20 89h6M37 89h3M46 89h16M70 89h16M88 89h2M93 89h16M110 89h19M0 90h2M7 90h6M16 90h1M20 90h5M36 90h5M45 90h20M68 90h22M94 90h10M110 90h17M0 91h1M5 91h20M31 91h1M35 91h54M95 91h8M109 91h17M4 92h22M28 92h62M96 92h7M108 92h13M3 93h23M30 93h61M97 93h6M106 93h15M2 94h24M30 94h61M98 94h5M106 94h15M0 95h25M35 95h29M69 95h23M96 95h25M124 95h5M0 96h9M12 96h13M30 96h1M37 96h8M46 96h18M70 96h13M86 96h7M95 96h34M0 97h5M14 97h3M20 97h5M29 97h1M38 97h6M47 97h15M70 97h13M87 97h7M96 97h4M101 97h8M112 97h9M123 97h6M0 98h5M14 98h3M19 98h6M29 98h1M38 98h6M47 98h8M57 98h5M70 98h9M80 98h3M88 98h7M96 98h4M102 98h7M112 98h4M117 98h5M123 98h6M0 99h3M15 99h1M20 99h5M38 99h2M48 99h14M72 99h6M82 99h1M89 99h7M98 99h1M103 99h6M126 99h3M0 100h3M15 100h1M20 100h5M38 100h2M47 100h15M72 100h6M89 100h8M98 100h2M104 100h5M112 100h2M119 100h2M125 100h2M20 101h5M48 101h13M72 101h5M92 101h6M105 101h5M20 102h4M37 102h2M47 102h14M72 102h5M82 102h2M94 102h5M106 102h8M119 102h2M20 103h4M37 103h2M51 103h10M72 103h5M82 103h3M94 103h6M107 103h6M20 104h4M37 104h2M47 104h2M50 104h11M72 104h5M81 104h4M94 104h7M108 104h6M120 104h1M20 105h5M37 105h3M43 105h1M46 105h15M72 105h5M82 105h3M94 105h8M109 105h5M120 105h1M126 105h1M15 106h2M18 106h7M37 106h7M46 106h9M57 106h4M71 106h7M82 106h2M87 106h3M93 106h14M110 106h5M118 106h4M123 106h6M6 107h3M15 107h1M18 107h7M37 107h7M46 107h7M57 107h4M70 107h8M87 107h5M93 107h16M111 107h5M117 107h4M124 107h5M6 108h2M15 108h1M18 108h7M37 108h7M47 108h6M58 108h3M70 108h8M88 108h4M95 108h14M112 108h9M124 108h5M15 109h1M19 109h6M37 109h7M50 109h2M58 109h3M72 109h5M89 109h1M95 109h14M113 109h8M125 109h4M11 110h7M20 110h5M37 110h7M58 110h4M72 110h6M89 110h1M95 110h12M114 110h7M123 110h6M8 111h17M37 111h6M58 111h4M72 111h6M88 111h3M93 111h15M115 111h14M0 112h25M36 112h6M58 112h3M72 112h7M88 112h21M115 112h14M0 113h26M27 113h4M36 113h4M58 113h2M72 113h6M88 113h22M116 113h13M0 114h30M36 114h4M72 114h5M90 114h21M117 114h12M0 115h30M37 115h2M43 115h2M72 115h5M91 115h21M118 115h11M0 116h26M28 116h2M37 116h2M72 116h4M93 116h12M106 116h7M119 116h10M0 117h3M5 117h20M28 117h2M37 117h1M48 117h1M72 117h5M94 117h4M101 117h2M106 117h8M120 117h9M0 118h3M6 118h19M28 118h2M37 118h3M46 118h5M52 118h4M57 118h3M72 118h5M88 118h2M94 118h4M100 118h15M118 118h11M0 119h3M8 119h17M37 119h3M46 119h10M57 119h3M72 119h5M82 119h1M87 119h4M95 119h3M100 119h16M118 119h3M122 119h7M0 120h1M11 120h7M22 120h3M38 120h1M46 120h8M58 120h2M72 120h4M87 120h4M96 120h3M100 120h1M105 120h12M118 120h3M123 120h6M12 121h4M22 121h3M73 121h2M96 121h2M112 121h7M124 121h5M13 122h3M22 122h3M48 122h1M59 122h1M74 122h1M96 122h3M113 122h7M125 122h4M13 123h2M22 123h3M47 123h3M59 123h1M74 123h1M88 123h2M96 123h4M107 123h2M112 123h9M126 123h3M13 124h2M22 124h3M37 124h3M47 124h5M58 124h2M70 124h1M72 124h3M80 124h1M87 124h3M96 124h4M106 124h3M112 124h9M124 124h5M1 125h4M13 125h1M22 125h3M37 125h5M47 125h5M58 125h2M70 125h1M72 125h4M80 125h3M87 125h3M96 125h3M106 125h3M113 125h9M123 125h5M0 126h6M12 126h2M22 126h3M38 126h4M47 126h5M58 126h2M72 126h5M80 126h3M87 126h3M96 126h3M106 126h3M114 126h14M0 127h5M22 127h3M38 127h4M46 127h5M58 127h2M72 127h5M82 127h1M88 127h2M95 127h4M104 127h5M115 127h13M0 128h2M22 128h3M38 128h3M46 128h5M59 128h1M71 128h5M82 128h1M88 128h2M95 128h4M104 128h4M117 128h11"/>
<path transform="translate(0,.5)" stroke="rgb(37,98,172)" d="M4 0h11M23 0h1M72 0h3M96 0h3M115 0h3M5 1h11M23 1h1M74 1h1M97 1h2M115 1h2M6 2h11M22 2h2M115 2h2M7 3h11M22 3h3M114 3h3M118 3h1M0 4h1M8 4h10M22 4h3M114 4h6M0 5h2M9 5h10M22 5h3M114 5h5M0 6h3M10 6h10M23 6h2M113 6h5M0 7h4M11 7h10M22 7h3M113 7h5M0 8h5M12 8h13M73 8h2M93 8h4M112 8h6M0 9h6M13 9h12M91 9h6M112 9h7M0 10h7M14 10h11M91 10h6M111 10h9M0 11h8M15 11h10M90 11h7M111 11h9M0 12h9M16 12h9M90 12h7M110 12h10M0 13h10M17 13h9M41 13h3M82 13h2M90 13h7M108 13h13M0 14h11M18 14h8M41 14h3M82 14h2M90 14h7M107 14h15M0 15h12M19 15h7M29 15h3M42 15h1M90 15h7M107 15h15M0 16h13M20 16h12M89 16h9M111 16h10M0 17h14M21 17h12M37 17h3M89 17h9M111 17h9M0 18h15M22 18h21M48 18h1M72 18h3M90 18h8M111 18h9M0 19h16M22 19h22M47 19h3M52 19h2M59 19h1M72 19h3M80 19h3M90 19h8M112 19h7M0 20h17M23 20h32M59 20h2M71 20h5M80 20h4M90 20h8M112 20h7M0 21h18M24 21h31M58 21h3M72 21h4M81 21h3M90 21h8M112 21h8M0 22h19M23 22h1M26 22h29M58 22h3M72 22h4M81 22h3M89 22h9M112 22h9M0 23h21M22 23h3M27 23h29M57 23h3M71 23h6M82 23h3M86 23h13M108 23h2M111 23h16M0 24h22M23 24h2M28 24h26M59 24h1M72 24h5M82 24h3M89 24h9M113 24h7M123 24h3M2 25h22M29 25h15M47 25h1M72 25h3M93 25h4M115 25h2M5 26h19M30 26h13M73 26h1M2 27h23M31 27h12M73 27h1M0 28h25M31 28h13M48 28h2M52 28h1M72 28h3M0 29h26M32 29h13M46 29h8M59 29h1M72 29h3M0 30h27M33 30h12M46 30h8M59 30h1M72 30h3M0 31h29M35 31h19M59 31h2M72 31h3M96 31h1M0 32h30M36 32h13M52 32h2M59 32h2M72 32h3M0 33h31M37 33h12M52 33h1M59 33h1M72 33h3M93 33h1M0 34h4M5 34h27M38 34h6M45 34h4M73 34h1M0 35h33M38 35h11M73 35h1M0 36h34M39 36h11M52 36h1M73 36h2M82 36h2M0 37h35M37 37h18M58 37h3M72 37h5M82 37h2M92 37h7M106 37h7M118 37h3M0 38h36M37 38h3M42 38h14M58 38h3M71 38h6M81 38h3M88 38h2M91 38h12M106 38h15M126 38h2M0 39h40M43 39h12M58 39h4M70 39h6M82 39h2M88 39h14M106 39h3M112 39h9M0 40h38M44 40h11M57 40h5M70 40h5M82 40h1M89 40h6M100 40h1M113 40h3M0 41h39M45 41h10M56 41h7M70 41h15M88 41h7M114 41h1M0 42h40M46 42h9M56 42h7M69 42h27M2 43h38M47 43h8M57 43h5M70 43h15M88 43h7M12 44h3M18 44h8M29 44h12M48 44h7M58 44h3M72 44h3M92 44h3M19 45h6M31 45h11M49 45h7M59 45h1M93 45h1M6 46h1M18 46h8M30 46h13M50 46h10M72 46h3M5 47h5M11 47h33M51 47h9M72 47h4M0 48h3M6 48h40M52 48h9M73 48h4M82 48h1M101 48h2M0 49h2M7 49h3M16 49h31M53 49h9M73 49h5M81 49h2M100 49h3M0 50h1M8 50h1M18 50h30M54 50h10M72 50h7M81 50h2M87 50h1M100 50h3M18 51h7M28 51h21M55 51h10M72 51h6M81 51h3M101 51h2M17 52h8M28 52h22M56 52h10M71 52h7M81 52h3M8 53h1M12 53h14M28 53h23M57 53h9M71 53h7M80 53h5M6 54h20M28 54h24M58 54h8M70 54h7M80 54h5M4 55h49M59 55h7M70 55h15M4 56h50M60 56h6M69 56h16M92 56h2M3 57h51M61 57h6M68 57h17M88 57h1M91 57h4M3 58h52M62 58h23M86 58h3M91 58h5M0 59h3M5 59h51M63 59h34M126 59h2M8 60h4M14 60h12M29 60h5M36 60h21M64 60h25M93 60h1M8 61h2M16 61h9M37 61h21M65 61h14M80 61h6M37 62h3M46 62h13M66 62h13M80 62h5M37 63h3M47 63h13M67 63h18M50 64h11M68 64h16M51 65h11M69 65h10M56 66h7M70 66h9M52 67h1M56 67h8M71 67h8M50 68h15M72 68h9M50 69h16M73 69h9M22 70h3M39 70h1M48 70h20M74 70h10M88 70h2M96 70h3M118 70h1M16 71h3M20 71h5M38 71h6M46 71h23M75 71h14M92 71h7M105 71h1M0 72h27M28 72h1M37 72h38M76 72h25M104 72h5M118 72h2M125 72h3M0 73h30M36 73h65M104 73h5M114 73h1M118 73h3M123 73h6M0 74h31M36 74h41M78 74h23M104 74h3M113 74h3M119 74h2M122 74h7M7 75h19M37 75h38M79 75h10M91 75h7M11 76h14M37 76h38M80 76h9M91 76h7M14 77h1M23 77h1M38 77h2M41 77h3M47 77h27M81 77h8M92 77h6M48 78h3M55 78h20M82 78h7M92 78h7M14 79h1M56 79h20M83 79h7M95 79h4M14 80h1M56 80h7M64 80h13M84 80h8M95 80h4M13 81h2M20 81h4M42 81h2M56 81h7M64 81h14M85 81h7M95 81h4M13 82h3M20 82h5M42 82h3M56 82h7M64 82h15M86 82h6M95 82h4M118 82h2M14 83h1M20 83h4M56 83h6M64 83h16M87 83h5M95 83h4M22 84h2M57 84h5M66 84h15M88 84h5M95 84h4M58 85h3M67 85h15M89 85h4M95 85h3M48 86h1M58 86h3M73 86h10M90 86h9M23 87h2M38 87h1M47 87h2M58 87h3M72 87h12M91 87h8M23 88h2M37 88h2M46 88h3M52 88h1M58 88h3M72 88h13M88 88h1M92 88h7M112 88h2M123 88h2M22 89h3M37 89h3M46 89h3M56 89h5M71 89h15M93 89h8M111 89h4M118 89h2M123 89h2M21 90h3M37 90h3M46 90h3M50 90h12M69 90h18M94 90h7M111 90h6M118 90h1M123 90h1M7 91h18M36 91h53M95 91h6M111 91h8M6 92h19M33 92h1M35 92h55M96 92h6M109 92h10M5 93h20M33 93h58M97 93h5M107 93h13M6 94h19M35 94h30M67 94h24M98 94h5M106 94h14M8 95h1M10 95h1M12 95h13M36 95h27M70 95h15M86 95h6M99 95h5M105 95h5M111 95h9M1 96h4M14 96h3M20 96h5M37 96h7M47 96h15M70 96h11M87 96h6M96 96h3M100 96h9M112 96h9M126 96h3M1 97h2M14 97h2M20 97h5M39 97h1M49 97h5M57 97h5M72 97h6M87 97h7M97 97h2M101 97h8M113 97h7M126 97h3M0 98h3M20 98h4M39 98h1M49 98h6M57 98h4M72 98h6M88 98h7M98 98h1M102 98h6M20 99h4M50 99h5M57 99h4M74 99h3M90 99h6M103 99h5M20 100h4M49 100h12M74 100h3M91 100h6M104 100h5M20 101h2M52 101h9M74 101h2M93 101h5M105 101h4M20 102h3M51 102h10M73 102h4M94 102h5M106 102h4M20 103h3M52 103h9M72 103h5M82 103h2M95 103h5M107 103h5M20 104h3M37 104h2M52 104h9M72 104h5M82 104h3M95 104h6M108 104h5M20 105h3M37 105h2M47 105h2M51 105h4M57 105h4M72 105h5M82 105h2M95 105h7M109 105h5M19 106h6M37 106h3M47 106h7M57 106h4M72 106h5M95 106h8M110 106h4M126 106h3M19 107h6M37 107h3M42 107h1M48 107h1M50 107h2M58 107h2M72 107h5M95 107h9M106 107h1M111 107h4M119 107h1M126 107h3M18 108h7M38 108h2M41 108h2M58 108h3M72 108h5M95 108h10M106 108h2M112 108h8M126 108h3M20 109h4M42 109h1M59 109h2M72 109h4M96 109h10M113 109h7M127 109h1M12 110h5M23 110h1M42 110h1M58 110h3M72 110h4M95 110h12M114 110h7M8 111h11M22 111h2M37 111h2M58 111h3M73 111h4M89 111h1M94 111h14M115 111h12M0 112h4M6 112h19M37 112h3M58 112h2M72 112h5M89 112h1M91 112h18M116 112h12M0 113h25M36 113h4M72 113h5M90 113h20M116 113h12M0 114h26M28 114h1M37 114h3M72 114h4M91 114h20M117 114h11M0 115h26M27 115h2M37 115h2M72 115h4M92 115h13M106 115h6M118 115h10M0 116h25M72 116h4M93 116h5M101 116h2M107 116h6M119 116h10M0 117h2M6 117h19M73 117h3M95 117h2M106 117h8M120 117h9M0 118h2M7 118h17M72 118h4M95 118h2M106 118h9M121 118h8M0 119h2M11 119h8M22 119h2M47 119h2M72 119h4M88 119h1M96 119h1M105 119h11M119 119h1M122 119h7M12 120h5M23 120h1M73 120h2M106 120h3M111 120h6M123 120h6M13 121h3M23 121h1M113 121h5M124 121h5M14 122h1M113 122h6M126 122h3M97 123h2M113 123h7M127 123h2M97 124h2M113 124h8M128 124h1M73 125h2M114 125h8M39 126h1M72 126h3M115 126h8M39 127h1M47 127h1M72 127h3M117 127h7M23 128h1M47 128h2M72 128h3M117 128h8"/>
<path transform="translate(0,.5)" stroke="rgb(47,124,190)" d="M4 0h10M5 1h10M6 2h10M7 3h10M23 3h1M0 4h1M8 4h10M23 4h1M0 5h2M9 5h10M115 5h2M0 6h3M10 6h9M114 6h3M0 7h4M11 7h9M113 7h4M0 8h5M12 8h12M112 8h6M0 9h6M13 9h11M92 9h5M112 9h6M0 10h7M14 10h10M91 10h6M112 10h7M0 11h8M15 11h9M91 11h6M112 11h8M0 12h9M16 12h9M90 12h7M111 12h9M0 13h10M17 13h8M42 13h1M82 13h2M90 13h7M108 13h12M0 14h11M18 14h8M42 14h1M82 14h2M90 14h7M107 14h14M0 15h12M19 15h7M90 15h7M108 15h13M0 16h13M20 16h12M90 16h7M112 16h8M0 17h14M21 17h11M90 17h7M112 17h8M0 18h15M22 18h12M35 18h6M73 18h1M90 18h8M112 18h8M0 19h16M23 19h21M72 19h3M91 19h6M112 19h7M0 20h17M23 20h26M51 20h3M59 20h2M72 20h3M80 20h3M91 20h6M113 20h6M0 21h18M25 21h24M52 21h2M59 21h2M72 21h3M81 21h2M91 21h6M113 21h6M0 22h19M26 22h28M59 22h1M72 22h4M82 22h2M91 22h6M113 22h7M0 23h21M23 23h1M27 23h27M59 23h1M72 23h4M82 23h2M90 23h8M113 23h8M0 24h22M28 24h22M72 24h4M92 24h5M114 24h4M4 25h19M29 25h15M73 25h2M94 25h1M6 26h18M30 26h13M6 27h19M31 27h12M2 28h23M31 28h13M73 28h1M2 29h24M32 29h12M52 29h1M73 29h1M2 30h25M34 30h10M52 30h2M72 30h3M1 31h28M35 31h9M47 31h1M52 31h2M59 31h1M72 31h3M1 32h4M7 32h23M36 32h8M47 32h1M52 32h1M59 32h1M73 32h2M1 33h30M37 33h7M46 33h2M73 33h1M6 34h25M38 34h5M0 35h3M6 35h26M39 35h5M46 35h3M0 36h34M40 36h10M73 36h1M0 37h35M38 37h2M41 37h13M59 37h1M72 37h3M82 37h2M0 38h36M38 38h2M42 38h13M59 38h1M72 38h3M82 38h1M93 38h1M108 38h1M0 39h37M43 39h12M59 39h3M72 39h3M82 39h1M93 39h1M0 40h38M44 40h10M58 40h4M72 40h3M92 40h2M0 41h39M45 41h9M57 41h5M70 41h9M82 41h2M90 41h5M1 42h39M46 42h9M57 42h5M70 42h15M88 42h7M3 43h37M47 43h7M57 43h5M71 43h14M91 43h4M19 44h6M31 44h10M48 44h7M58 44h3M73 44h1M92 44h3M20 45h5M32 45h10M49 45h7M19 46h6M34 46h9M50 46h7M16 47h11M29 47h15M51 47h9M73 47h2M8 48h1M16 48h29M52 48h8M74 48h1M17 49h30M53 49h9M74 49h1M20 50h6M28 50h20M54 50h10M73 50h2M20 51h5M28 51h21M55 51h10M72 51h4M82 51h1M19 52h6M29 52h21M56 52h9M72 52h4M82 52h1M13 53h12M28 53h23M57 53h9M71 53h5M81 53h3M11 54h15M28 54h24M58 54h8M71 54h5M81 54h4M6 55h1M8 55h18M28 55h25M59 55h7M70 55h6M80 55h5M5 56h21M27 56h26M60 56h6M70 56h7M79 56h6M93 56h1M4 57h50M61 57h6M69 57h16M92 57h3M7 58h48M62 58h5M68 58h17M92 58h3M7 59h19M28 59h28M63 59h22M87 59h2M92 59h3M9 60h1M15 60h10M30 60h2M37 60h20M64 60h14M80 60h5M23 61h1M37 61h21M65 61h13M81 61h4M38 62h2M46 62h13M66 62h12M82 62h2M50 63h10M67 63h12M81 63h2M51 64h10M68 64h11M81 64h2M56 65h6M69 65h9M57 66h6M70 66h8M57 67h7M71 67h8M51 68h3M55 68h10M72 68h8M51 69h15M73 69h8M23 70h1M50 70h17M74 70h9M22 71h2M39 71h5M47 71h22M75 71h14M92 71h2M96 71h2M5 72h20M37 72h33M76 72h13M91 72h8M104 72h3M5 73h21M37 73h34M72 73h3M77 73h12M91 73h8M104 73h3M125 73h1M5 74h22M37 74h39M78 74h11M91 74h8M104 74h2M125 74h1M7 75h18M37 75h35M74 75h1M79 75h10M92 75h5M12 76h5M20 76h5M37 76h36M80 76h9M92 76h6M49 77h1M54 77h20M81 77h8M92 77h6M56 78h19M82 78h7M95 78h3M57 79h5M64 79h12M83 79h6M96 79h2M14 80h1M57 80h5M64 80h13M84 80h7M96 80h2M14 81h1M21 81h1M57 81h5M64 81h14M85 81h6M96 81h2M14 82h1M20 82h4M42 82h2M56 82h6M64 82h15M86 82h6M95 82h4M21 83h2M57 83h5M65 83h15M87 83h5M96 83h2M57 84h5M66 84h15M88 84h4M96 84h1M58 85h3M68 85h14M89 85h4M58 86h2M73 86h10M90 86h7M59 87h1M73 87h11M91 87h7M58 88h2M72 88h13M92 88h6M57 89h4M71 89h15M93 89h6M112 89h2M37 90h3M47 90h1M55 90h7M70 90h17M94 90h5M112 90h4M10 91h3M14 91h5M20 91h3M36 91h53M95 91h6M111 91h6M7 92h18M35 92h55M96 92h5M110 92h8M6 93h19M35 93h55M97 93h4M107 93h12M8 94h17M36 94h28M68 94h23M98 94h4M106 94h13M13 95h5M20 95h4M37 95h8M46 95h7M54 95h9M70 95h14M86 95h6M99 95h4M106 95h3M112 95h7M14 96h2M20 96h4M39 96h1M42 96h1M49 96h3M56 96h6M71 96h8M87 96h6M100 96h9M112 96h7M21 97h3M50 97h3M57 97h4M72 97h3M88 97h6M101 97h7M21 98h2M51 98h3M58 98h3M74 98h1M89 98h6M102 98h6M58 99h3M91 99h5M103 99h5M57 100h4M92 100h5M104 100h4M55 101h5M93 101h5M105 101h4M21 102h1M54 102h6M73 102h3M95 102h4M106 102h4M53 103h7M73 103h3M82 103h2M95 103h5M107 103h4M21 104h1M53 104h2M57 104h3M72 104h5M82 104h2M95 104h6M108 104h5M21 105h1M58 105h2M73 105h3M96 105h6M109 105h4M20 106h4M38 106h1M58 106h2M73 106h4M96 106h7M110 106h4M19 107h5M59 107h1M73 107h4M97 107h7M111 107h3M19 108h5M59 108h1M73 108h3M96 108h9M112 108h4M59 109h1M74 109h1M96 109h3M100 109h6M113 109h6M13 110h3M59 110h1M96 110h5M102 110h5M114 110h6M9 111h9M59 111h1M74 111h1M94 111h7M102 111h6M115 111h6M7 112h17M37 112h2M59 112h1M73 112h3M92 112h9M102 112h7M116 112h11M0 113h25M37 113h2M72 113h4M91 113h19M116 113h11M0 114h25M37 114h2M72 114h4M92 114h19M117 114h10M0 115h25M37 115h1M72 115h3M92 115h7M100 115h4M107 115h5M118 115h10M0 116h2M5 116h20M73 116h2M94 116h3M107 116h6M119 116h10M0 117h1M7 117h17M73 117h2M107 117h7M120 117h9M0 118h1M8 118h13M22 118h1M73 118h2M106 118h9M121 118h8M12 119h6M73 119h2M106 119h10M122 119h7M12 120h5M74 120h1M112 120h5M123 120h6M13 121h2M113 121h5M125 121h4M114 122h5M126 122h3M114 123h6M127 123h2M114 124h7M128 124h1M114 125h8M74 126h1M116 126h7M73 127h2M117 127h7M72 128h3M118 128h7"/>
<path transform="translate(0,.5)" stroke="rgb(65,153,202)" d="M4 0h10M5 1h10M6 2h10M7 3h10M0 4h1M8 4h9M0 5h2M9 5h9M0 6h3M10 6h9M115 6h1M0 7h4M11 7h9M114 7h2M0 8h5M12 8h8M113 8h4M0 9h6M13 9h8M93 9h3M112 9h6M0 10h7M14 10h7M92 10h4M112 10h6M0 11h8M15 11h9M91 11h5M112 11h7M0 12h9M16 12h9M91 12h5M112 12h7M0 13h10M17 13h8M91 13h6M109 13h11M0 14h11M18 14h7M42 14h1M91 14h6M108 14h13M0 15h12M19 15h7M90 15h7M108 15h1M111 15h10M0 16h13M20 16h6M28 16h3M90 16h7M112 16h8M0 17h14M21 17h11M90 17h7M112 17h8M0 18h15M22 18h10M37 18h3M91 18h6M112 18h7M0 19h16M23 19h11M35 19h8M72 19h3M91 19h6M113 19h5M0 20h17M23 20h22M52 20h2M59 20h1M72 20h3M81 20h2M91 20h6M113 20h5M0 21h18M25 21h23M52 21h2M59 21h1M72 21h3M82 21h1M91 21h6M114 21h3M0 22h19M26 22h23M52 22h1M59 22h1M72 22h3M91 22h6M114 22h4M0 23h20M27 23h23M72 23h3M91 23h6M114 23h5M1 24h20M28 24h20M73 24h2M92 24h5M115 24h2M5 25h17M29 25h14M7 26h5M14 26h9M30 26h12M7 27h17M31 27h11M6 28h19M32 28h11M4 29h22M33 29h10M3 30h2M8 30h19M34 30h10M52 30h1M73 30h1M3 31h2M8 31h20M35 31h9M52 31h1M73 31h1M8 32h21M36 32h7M73 32h1M7 33h23M37 33h6M7 34h24M38 34h5M6 35h26M39 35h5M0 36h2M6 36h27M40 36h9M0 37h35M41 37h10M52 37h2M73 37h2M0 38h36M42 38h12M72 38h3M0 39h37M43 39h11M59 39h2M72 39h2M0 40h38M44 40h10M58 40h4M72 40h1M1 41h38M45 41h9M57 41h5M71 41h4M92 41h3M2 42h37M46 42h8M57 42h5M70 42h15M89 42h1M91 42h4M4 43h1M8 43h18M28 43h12M47 43h7M58 43h4M71 43h8M82 43h3M92 43h3M20 44h5M31 44h10M48 44h7M59 44h1M93 44h1M20 45h4M33 45h9M49 45h7M20 46h5M34 46h9M50 46h7M18 47h8M31 47h13M51 47h7M17 48h28M52 48h8M18 49h8M28 49h19M53 49h8M21 50h4M28 50h20M54 50h9M29 51h20M55 51h10M73 51h2M20 52h4M30 52h20M56 52h9M72 52h3M17 53h8M29 53h5M35 53h16M57 53h8M72 53h3M82 53h1M12 54h13M29 54h23M58 54h8M71 54h4M82 54h2M10 55h16M28 55h25M59 55h7M71 55h5M81 55h3M9 56h17M28 56h25M60 56h6M70 56h6M80 56h4M8 57h18M28 57h26M61 57h5M70 57h7M79 57h5M92 57h3M8 58h18M28 58h27M62 58h5M69 58h8M79 58h5M92 58h3M8 59h18M29 59h27M63 59h15M79 59h6M92 59h3M16 60h9M37 60h20M64 60h13M80 60h4M38 61h20M65 61h12M82 61h2M50 62h9M66 62h11M50 63h10M67 63h11M52 64h1M55 64h6M68 64h10M57 65h5M69 65h8M59 66h4M70 66h7M58 67h6M71 67h7M57 68h8M72 68h7M52 69h14M73 69h7M51 70h16M74 70h8M23 71h1M41 71h2M50 71h19M75 71h13M9 72h16M38 72h32M76 72h12M92 72h6M6 73h19M37 73h34M77 73h12M92 73h5M105 73h1M6 74h20M37 74h34M78 74h11M91 74h6M10 75h15M37 75h35M79 75h10M92 75h5M13 76h3M23 76h1M38 76h7M47 76h3M51 76h22M80 76h9M92 76h5M55 77h19M81 77h8M93 77h4M56 78h7M64 78h11M82 78h7M96 78h1M57 79h5M64 79h12M83 79h6M96 79h1M57 80h5M64 80h13M84 80h6M96 80h2M57 81h5M64 81h14M85 81h6M96 81h1M21 82h2M57 82h5M65 82h14M86 82h6M96 82h2M57 83h5M66 83h14M87 83h5M57 84h4M67 84h14M88 84h4M58 85h2M70 85h12M89 85h3M59 86h1M74 86h1M76 86h7M90 86h3M73 87h11M91 87h6M73 88h12M92 88h5M57 89h3M72 89h14M93 89h5M55 90h7M70 90h17M94 90h5M113 90h1M15 91h2M20 91h1M37 91h28M68 91h20M95 91h5M112 91h5M8 92h16M36 92h54M96 92h4M110 92h7M8 93h16M35 93h55M97 93h4M108 93h10M10 94h14M36 94h28M69 94h22M98 94h3M107 94h2M112 94h6M14 95h3M37 95h7M55 95h7M71 95h10M82 95h1M87 95h5M99 95h4M106 95h3M112 95h6M22 96h2M56 96h6M72 96h5M88 96h5M100 96h4M106 96h2M113 96h4M58 97h3M89 97h5M101 97h6M58 98h2M90 98h5M102 98h5M58 99h2M91 99h5M103 99h4M58 100h2M92 100h5M104 100h4M57 101h3M94 101h4M105 101h4M56 102h4M74 102h1M95 102h4M106 102h3M57 103h3M73 103h3M96 103h4M107 103h4M58 104h2M73 104h3M82 104h2M96 104h5M108 104h4M59 105h1M73 105h3M97 105h5M109 105h4M20 106h2M59 106h1M74 106h1M98 106h5M110 106h4M20 107h3M99 107h5M111 107h3M19 108h4M100 108h5M112 108h3M102 109h4M113 109h4M15 110h1M59 110h1M96 110h3M103 110h4M114 110h6M10 111h8M95 111h4M103 111h5M115 111h6M7 112h17M74 112h1M93 112h7M104 112h5M116 112h10M0 113h25M37 113h2M72 113h3M92 113h9M102 113h8M116 113h11M0 114h25M37 114h2M72 114h3M92 114h9M102 114h3M106 114h5M117 114h10M0 115h25M72 115h3M93 115h5M108 115h4M118 115h9M0 116h1M6 116h19M73 116h2M95 116h2M108 116h5M119 116h10M7 117h14M22 117h1M108 117h6M120 117h9M11 118h9M74 118h1M107 118h8M121 118h8M12 119h5M74 119h1M107 119h9M122 119h7M13 120h3M112 120h5M123 120h6M14 121h1M113 121h5M125 121h4M114 122h5M126 122h3M114 123h6M127 123h2M114 124h7M128 124h1M115 125h7M117 126h6M118 127h6M118 128h7"/>
<path transform="translate(0,.5)" stroke="rgb(82,172,197)" d="M4 0h10M5 1h10M6 2h10M7 3h9M0 4h1M8 4h9M0 5h2M9 5h9M0 6h3M10 6h9M0 7h4M11 7h8M115 7h1M0 8h5M12 8h8M113 8h4M0 9h6M13 9h8M94 9h1M113 9h4M0 10h7M14 10h7M92 10h4M112 10h6M0 11h8M15 11h7M92 11h4M112 11h7M0 12h9M16 12h8M91 12h5M112 12h7M0 13h10M17 13h8M91 13h5M111 13h9M0 14h11M18 14h7M91 14h5M108 14h12M0 15h12M19 15h6M91 15h5M112 15h8M0 16h13M20 16h6M91 16h6M112 16h8M0 17h14M21 17h5M28 17h3M91 17h6M112 17h7M0 18h15M22 18h10M37 18h2M91 18h6M112 18h7M1 19h15M23 19h9M35 19h7M73 19h2M91 19h6M113 19h4M0 20h17M24 20h20M72 20h3M81 20h2M92 20h5M114 20h3M0 21h18M25 21h22M72 21h3M92 21h4M115 21h2M0 22h19M26 22h23M73 22h2M92 22h4M115 22h2M0 23h20M27 23h22M73 23h2M92 23h5M115 23h2M3 24h18M28 24h16M73 24h1M93 24h3M6 25h16M29 25h14M8 26h3M15 26h8M30 26h11M8 27h3M15 27h9M31 27h10M7 28h18M32 28h11M8 29h18M33 29h10M10 30h17M34 30h9M9 31h19M35 31h8M9 32h20M36 32h7M7 33h23M37 33h6M7 34h24M38 34h5M7 35h25M39 35h5M6 36h27M40 36h5M46 36h2M0 37h35M41 37h9M0 38h36M42 38h9M52 38h2M73 38h1M0 39h37M43 39h11M1 40h37M44 40h10M59 40h2M2 41h36M45 41h9M58 41h4M72 41h2M92 41h2M3 42h36M46 42h8M57 42h5M71 42h8M82 42h3M91 42h4M12 43h5M18 43h8M29 43h11M47 43h7M58 43h3M72 43h3M82 43h2M92 43h3M20 44h5M32 44h9M48 44h7M59 44h1M93 44h1M20 45h2M33 45h9M49 45h6M20 46h4M35 46h8M50 46h7M19 47h6M35 47h9M51 47h7M18 48h8M30 48h15M52 48h7M20 49h5M28 49h19M53 49h8M23 50h1M29 50h19M54 50h8M30 51h19M55 51h9M20 52h2M35 52h15M56 52h9M73 52h1M20 53h4M36 53h15M57 53h8M72 53h3M13 54h12M30 54h4M35 54h17M58 54h7M72 54h3M82 54h1M12 55h13M29 55h5M35 55h18M59 55h7M71 55h4M82 55h1M10 56h16M29 56h24M60 56h6M71 56h5M82 56h1M9 57h17M29 57h25M61 57h5M70 57h6M80 57h3M92 57h2M10 58h16M29 58h26M62 58h5M70 58h6M80 58h4M92 58h2M11 59h14M30 59h4M36 59h20M63 59h4M68 59h9M80 59h4M92 59h2M16 60h8M37 60h20M64 60h13M82 60h1M39 61h1M45 61h13M65 61h12M82 61h1M51 62h8M66 62h11M51 63h9M67 63h10M56 64h5M68 64h9M57 65h5M69 65h8M59 66h4M70 66h6M59 67h5M71 67h6M57 68h8M72 68h7M53 69h13M73 69h6M52 70h15M74 70h7M51 71h17M75 71h10M11 72h14M38 72h32M76 72h12M92 72h2M96 72h1M7 73h18M37 73h33M77 73h11M92 73h5M7 74h18M37 74h34M78 74h10M92 74h5M11 75h13M37 75h12M51 75h21M79 75h9M92 75h4M14 76h1M38 76h2M41 76h3M53 76h20M80 76h9M92 76h5M55 77h19M81 77h8M96 77h1M57 78h5M64 78h11M82 78h7M57 79h5M64 79h12M83 79h6M57 80h5M65 80h12M84 80h5M57 81h5M65 81h13M85 81h5M21 82h1M57 82h5M65 82h14M86 82h5M57 83h5M67 83h13M87 83h4M57 84h4M68 84h13M88 84h4M59 85h1M73 85h9M89 85h3M78 86h5M90 86h3M79 87h5M91 87h5M74 88h1M80 88h5M92 88h5M58 89h2M72 89h14M93 89h4M56 90h5M71 90h16M94 90h4M15 91h2M37 91h8M46 91h2M54 91h10M68 91h20M95 91h4M112 91h4M10 92h13M36 92h53M96 92h4M112 92h5M8 93h15M36 93h29M68 93h22M97 93h3M110 93h7M12 94h10M36 94h16M54 94h9M70 94h21M98 94h3M107 94h2M112 94h5M14 95h3M38 95h2M41 95h3M55 95h7M71 95h9M87 95h5M99 95h3M107 95h1M112 95h5M57 96h4M88 96h5M100 96h3M113 96h3M58 97h2M89 97h5M101 97h6M59 98h1M91 98h4M102 98h5M59 99h1M91 99h5M103 99h4M59 100h1M92 100h5M104 100h3M94 101h4M105 101h3M95 102h4M106 102h3M73 103h3M96 103h4M107 103h3M59 104h1M73 104h3M97 104h4M108 104h3M74 105h1M98 105h4M109 105h3M99 106h4M110 106h3M20 107h2M100 107h4M111 107h3M20 108h2M100 108h5M112 108h3M102 109h4M113 109h3M103 110h4M114 110h5M11 111h6M96 111h3M104 111h4M115 111h6M8 112h12M93 112h6M104 112h5M116 112h9M6 113h18M37 113h2M73 113h2M92 113h7M104 113h6M117 113h9M0 114h25M72 114h3M92 114h6M103 114h1M107 114h4M117 114h10M0 115h1M5 115h20M73 115h2M93 115h4M108 115h4M118 115h9M6 116h18M108 116h5M119 116h9M8 117h13M108 117h6M120 117h9M11 118h8M108 118h7M121 118h8M12 119h5M112 119h4M122 119h7M13 120h3M112 120h5M123 120h6M113 121h5M125 121h4M114 122h5M126 122h3M114 123h6M127 123h2M114 124h7M128 124h1M115 125h7M117 126h6M118 127h6M119 128h6"/>
<path transform="translate(0,.5)" stroke="rgb(99,182,176)" d="M4 0h9M5 1h9M6 2h9M7 3h9M0 4h1M8 4h9M0 5h2M9 5h9M0 6h3M10 6h8M0 7h4M11 7h8M0 8h5M12 8h8M114 8h2M0 9h6M13 9h7M113 9h4M0 10h7M14 10h7M92 10h3M113 10h4M0 11h8M15 11h7M92 11h4M112 11h6M0 12h9M16 12h7M91 12h5M112 12h7M0 13h10M17 13h7M91 13h5M112 13h7M0 14h11M18 14h7M91 14h5M108 14h12M0 15h12M19 15h6M91 15h5M112 15h8M0 16h13M20 16h6M91 16h5M112 16h8M1 17h13M21 17h5M91 17h5M113 17h6M1 18h14M22 18h9M91 18h5M113 18h5M2 19h14M23 19h9M36 19h4M73 19h1M92 19h4M114 19h3M4 20h13M24 20h8M35 20h9M72 20h3M92 20h4M114 20h3M6 21h12M25 21h9M35 21h10M73 21h1M92 21h4M1 22h18M26 22h22M92 22h4M1 23h19M27 23h21M93 23h3M5 24h16M28 24h16M94 24h1M8 25h14M29 25h13M15 26h8M30 26h4M36 26h5M9 27h1M16 27h8M31 27h10M8 28h3M13 28h1M15 28h10M32 28h10M9 29h1M11 29h15M33 29h10M11 30h16M34 30h9M11 31h17M35 31h8M11 32h18M36 32h7M8 33h22M37 33h6M8 34h3M12 34h19M38 34h4M7 35h25M39 35h5M7 36h26M40 36h5M0 37h35M41 37h8M0 38h36M42 38h8M52 38h1M0 39h37M43 39h11M2 40h36M44 40h10M59 40h2M3 41h35M45 41h9M58 41h4M93 41h1M4 42h35M46 42h8M58 42h4M71 42h4M77 42h1M82 42h2M92 42h3M12 43h3M18 43h8M30 43h10M47 43h7M58 43h3M72 43h3M92 43h2M20 44h4M32 44h9M48 44h6M21 45h1M34 45h8M49 45h6M21 46h1M35 46h8M50 46h6M20 47h5M36 47h8M51 47h7M19 48h6M35 48h10M52 48h7M22 49h3M29 49h18M53 49h8M29 50h19M54 50h8M31 51h1M35 51h14M55 51h9M21 52h1M36 52h14M56 52h9M20 53h3M36 53h15M57 53h8M16 54h9M31 54h1M36 54h16M58 54h7M72 54h3M13 55h12M30 55h4M36 55h16M59 55h6M72 55h3M12 56h13M30 56h4M36 56h17M60 56h6M71 56h4M10 57h16M30 57h24M61 57h5M70 57h6M81 57h2M93 57h1M11 58h14M30 58h4M36 58h19M62 58h5M70 58h6M81 58h2M92 58h2M13 59h12M31 59h1M37 59h19M63 59h4M69 59h8M80 59h3M93 59h1M20 60h3M38 60h19M64 60h3M69 60h7M82 60h1M46 61h3M50 61h8M65 61h11M52 62h1M54 62h5M66 62h10M55 63h5M67 63h10M57 64h4M68 64h9M58 65h4M69 65h7M59 66h4M70 66h6M60 67h4M71 67h5M58 68h7M72 68h6M55 69h11M73 69h6M52 70h15M74 70h6M52 71h16M75 71h9M11 72h13M39 72h9M50 72h19M76 72h12M92 72h2M8 73h17M38 73h32M77 73h11M92 73h3M8 74h17M37 74h34M78 74h10M92 74h4M12 75h5M22 75h2M38 75h8M51 75h21M79 75h9M92 75h3M42 76h2M54 76h19M80 76h8M93 76h1M56 77h18M81 77h8M57 78h5M65 78h10M82 78h7M57 79h5M65 79h11M83 79h6M57 80h5M65 80h12M84 80h5M57 81h5M65 81h13M85 81h5M57 82h5M66 82h13M86 82h5M57 83h5M67 83h13M87 83h4M58 84h3M68 84h13M88 84h3M75 85h7M89 85h3M78 86h5M90 86h3M80 87h4M91 87h4M80 88h5M92 88h5M72 89h7M80 89h6M93 89h4M56 90h5M71 90h16M94 90h3M37 91h3M42 91h3M55 91h8M69 91h19M95 91h4M113 91h3M12 92h10M36 92h29M68 92h21M96 92h3M112 92h5M10 93h12M36 93h29M68 93h22M97 93h2M112 93h5M13 94h6M20 94h1M37 94h12M55 94h8M70 94h21M98 94h2M112 94h5M15 95h2M42 95h1M56 95h6M72 95h7M88 95h4M99 95h2M113 95h4M57 96h4M88 96h5M100 96h3M114 96h2M59 97h1M90 97h4M101 97h5M91 98h4M102 98h5M92 99h4M103 99h4M93 100h4M104 100h3M94 101h4M105 101h3M96 102h3M106 102h3M74 103h1M97 103h3M107 103h3M73 104h2M98 104h3M108 104h3M99 105h3M109 105h3M100 106h3M110 106h3M20 107h1M100 107h4M111 107h2M20 108h1M101 108h4M112 108h3M103 109h3M113 109h3M104 110h3M114 110h4M12 111h5M105 111h3M115 111h5M8 112h11M94 112h3M105 112h4M116 112h5M6 113h18M73 113h2M92 113h5M106 113h4M117 113h9M5 114h19M73 114h2M93 114h4M108 114h3M117 114h9M5 115h19M73 115h2M93 115h4M109 115h3M118 115h8M7 116h16M109 116h4M119 116h9M8 117h12M110 117h4M120 117h9M12 118h7M108 118h1M110 118h5M121 118h8M13 119h4M112 119h4M122 119h7M14 120h1M113 120h4M124 120h5M113 121h5M125 121h4M114 122h5M126 122h3M115 123h5M127 123h2M115 124h6M128 124h1M116 125h6M117 126h6M118 127h6M119 128h6"/>
<path transform="translate(0,.5)" stroke="rgb(112,186,154)" d="M4 0h9M5 1h9M6 2h9M7 3h9M0 4h1M8 4h9M0 5h2M9 5h8M0 6h3M10 6h8M0 7h4M11 7h8M0 8h5M12 8h7M0 9h6M13 9h7M114 9h2M0 10h7M14 10h7M93 10h2M113 10h4M0 11h8M15 11h6M92 11h3M113 11h5M0 12h9M16 12h6M92 12h3M112 12h7M0 13h10M17 13h6M91 13h5M112 13h7M0 14h11M18 14h6M91 14h5M109 14h1M112 14h8M1 15h11M19 15h6M91 15h5M112 15h8M1 16h12M20 16h5M91 16h5M112 16h7M1 17h13M21 17h5M91 17h5M113 17h5M2 18h13M22 18h5M28 18h2M91 18h5M113 18h5M4 19h12M23 19h7M37 19h3M92 19h4M114 19h3M6 20h11M24 20h8M35 20h8M73 20h1M92 20h4M115 20h1M7 21h11M25 21h7M35 21h9M93 21h2M7 22h12M26 22h19M93 22h2M6 23h14M27 23h18M93 23h2M6 24h15M28 24h15M8 25h2M14 25h8M29 25h12M16 26h7M30 26h4M37 26h3M17 27h7M31 27h4M37 27h3M16 28h9M32 28h9M13 29h1M16 29h10M33 29h9M12 30h15M34 30h8M12 31h16M35 31h8M12 32h17M36 32h6M9 33h1M13 33h17M37 33h5M8 34h2M16 34h15M38 34h4M8 35h6M16 35h16M39 35h4M8 36h25M40 36h5M4 37h30M41 37h8M1 38h35M42 38h7M2 39h34M43 39h7M52 39h2M4 40h33M44 40h7M52 40h2M4 41h34M45 41h9M58 41h3M5 42h1M8 42h31M46 42h8M58 42h3M72 42h3M82 42h1M92 42h2M19 43h6M31 43h9M47 43h7M58 43h3M72 43h2M92 43h2M20 44h2M33 44h8M48 44h6M34 45h8M49 45h6M36 46h7M50 46h6M20 47h2M23 47h1M36 47h8M51 47h7M20 48h5M36 48h9M52 48h7M31 49h1M35 49h12M53 49h7M30 50h4M35 50h13M54 50h8M36 51h13M55 51h8M37 52h13M56 52h8M20 53h2M37 53h14M57 53h8M19 54h5M37 54h15M58 54h7M73 54h1M14 55h11M31 55h2M36 55h16M59 55h6M72 55h3M13 56h12M31 56h3M36 56h17M60 56h6M71 56h4M12 57h13M31 57h3M36 57h18M61 57h5M71 57h4M93 57h1M12 58h13M31 58h1M37 58h18M62 58h4M70 58h6M82 58h1M93 58h1M14 59h11M37 59h19M63 59h4M70 59h6M82 59h1M21 60h1M39 60h18M64 60h3M69 60h7M47 61h1M51 61h7M65 61h3M69 61h7M54 62h5M66 62h10M56 63h4M67 63h9M57 64h4M68 64h8M58 65h4M69 65h6M59 66h4M70 66h5M60 67h4M71 67h4M58 68h7M72 68h5M56 69h10M73 69h5M53 70h14M74 70h5M52 71h16M75 71h8M12 72h4M20 72h3M40 72h5M51 72h18M76 72h12M10 73h14M38 73h11M50 73h20M77 73h11M92 73h2M10 74h15M38 74h11M50 74h21M78 74h10M92 74h3M13 75h4M38 75h7M53 75h19M79 75h9M93 75h1M55 76h18M80 76h8M56 77h8M65 77h9M81 77h7M57 78h5M65 78h10M82 78h7M58 79h3M65 79h11M83 79h6M57 80h5M65 80h12M84 80h5M57 81h5M65 81h13M85 81h4M57 82h5M66 82h13M86 82h4M57 83h4M67 83h13M87 83h3M58 84h3M69 84h12M88 84h3M75 85h7M89 85h3M79 86h4M90 86h3M80 87h4M91 87h3M80 88h5M92 88h4M73 89h5M80 89h6M93 89h4M57 90h4M71 90h16M94 90h3M38 91h2M42 91h2M55 91h7M69 91h19M95 91h3M114 91h1M14 92h7M37 92h16M54 92h11M68 92h21M96 92h3M113 92h4M12 93h10M36 93h17M54 93h10M69 93h21M97 93h2M112 93h5M14 94h4M37 94h11M55 94h8M70 94h16M87 94h4M98 94h2M112 94h5M15 95h1M56 95h6M72 95h6M88 95h4M99 95h2M113 95h4M58 96h3M89 96h4M100 96h2M90 97h4M101 97h2M104 97h1M91 98h4M102 98h4M92 99h4M103 99h3M93 100h4M104 100h3M94 101h4M105 101h2M96 102h3M106 102h2M74 103h1M97 103h3M107 103h2M74 104h1M98 104h3M108 104h2M100 105h2M109 105h2M100 106h3M110 106h3M101 107h3M111 107h2M102 108h3M112 108h2M103 109h3M113 109h3M104 110h3M114 110h3M13 111h4M105 111h3M115 111h5M8 112h11M94 112h2M106 112h3M116 112h5M7 113h15M93 113h4M107 113h3M117 113h8M6 114h18M73 114h2M93 114h4M108 114h3M118 114h8M6 115h18M73 115h1M94 115h2M109 115h3M118 115h8M7 116h14M110 116h3M119 116h8M8 117h12M110 117h4M121 117h8M12 118h7M111 118h4M122 118h7M13 119h3M112 119h4M123 119h6M14 120h1M113 120h4M124 120h5M114 121h4M125 121h4M114 122h5M126 122h3M115 123h5M127 123h2M115 124h6M128 124h1M116 125h6M117 126h6M118 127h6M119 128h6"/>
<path transform="translate(0,.5)" stroke="rgb(122,186,133)" d="M4 0h8M5 1h9M6 2h9M7 3h9M0 4h1M8 4h8M0 5h2M9 5h8M0 6h3M10 6h8M0 7h4M11 7h8M0 8h5M12 8h7M0 9h6M13 9h7M115 9h1M0 10h7M14 10h7M113 10h4M0 11h8M15 11h6M92 11h3M113 11h4M0 12h9M16 12h6M92 12h3M113 12h5M0 13h10M17 13h6M92 13h4M112 13h7M0 14h11M18 14h6M91 14h5M112 14h8M1 15h11M19 15h6M91 15h5M112 15h8M1 16h12M20 16h5M91 16h5M112 16h7M2 17h12M21 17h5M91 17h5M113 17h5M3 18h12M22 18h5M92 18h4M113 18h4M5 19h11M23 19h4M28 19h2M37 19h2M92 19h4M114 19h2M7 20h10M24 20h7M36 20h7M73 20h1M93 20h2M8 21h10M25 21h6M35 21h9M93 21h2M8 22h11M26 22h18M93 22h1M7 23h13M27 23h17M7 24h14M28 24h15M15 25h7M29 25h5M36 25h5M16 26h7M30 26h4M37 26h3M17 27h7M31 27h3M37 27h3M17 28h8M32 28h3M36 28h5M17 29h9M33 29h8M16 30h11M34 30h8M13 31h15M35 31h7M15 32h14M36 32h6M16 33h14M37 33h4M16 34h15M38 34h4M8 35h2M16 35h16M39 35h4M8 36h25M40 36h4M6 37h28M41 37h7M4 38h31M42 38h7M4 39h32M43 39h7M52 39h1M5 40h32M44 40h7M52 40h2M5 41h33M45 41h9M59 41h2M9 42h17M28 42h11M46 42h8M58 42h3M72 42h3M92 42h2M20 43h5M32 43h8M47 43h7M59 43h1M93 43h1M21 44h1M33 44h8M48 44h6M35 45h7M49 45h6M36 46h7M50 46h6M37 47h7M51 47h6M23 48h1M36 48h9M52 48h7M36 49h10M53 49h7M35 50h13M54 50h7M36 51h13M55 51h8M37 52h13M56 52h8M20 53h2M37 53h14M57 53h8M20 54h3M37 54h15M58 54h7M16 55h8M37 55h15M59 55h6M72 55h2M14 56h11M37 56h16M60 56h6M72 56h3M14 57h11M37 57h17M61 57h5M71 57h4M14 58h11M37 58h18M62 58h4M70 58h5M93 58h1M14 59h10M37 59h19M63 59h4M70 59h6M41 60h16M64 60h3M70 60h6M52 61h6M65 61h3M69 61h7M55 62h4M66 62h10M56 63h4M67 63h9M57 64h4M68 64h8M58 65h4M69 65h6M59 66h4M70 66h5M60 67h4M71 67h4M59 68h1M61 68h4M72 68h3M57 69h9M73 69h2M54 70h13M74 70h5M53 71h15M75 71h8M41 72h4M51 72h18M76 72h11M11 73h13M39 73h9M51 73h19M77 73h11M92 73h2M11 74h13M38 74h10M51 74h20M78 74h10M92 74h2M13 75h3M41 75h4M53 75h19M79 75h9M93 75h1M55 76h18M80 76h8M57 77h7M65 77h9M81 77h7M57 78h4M65 78h10M82 78h7M58 79h3M65 79h11M83 79h6M57 80h5M65 80h12M84 80h5M57 81h5M65 81h13M85 81h4M57 82h5M67 82h12M86 82h4M58 83h3M68 83h12M87 83h3M58 84h3M70 84h11M88 84h3M76 85h6M89 85h3M79 86h4M90 86h3M81 87h3M91 87h3M81 88h4M92 88h3M73 89h4M81 89h5M93 89h3M57 90h4M72 90h15M94 90h3M55 91h7M70 91h18M95 91h2M14 92h4M20 92h1M37 92h11M50 92h1M54 92h10M68 92h21M96 92h2M113 92h3M13 93h8M37 93h12M54 93h10M69 93h21M97 93h2M113 93h4M14 94h4M37 94h8M55 94h7M71 94h14M87 94h4M98 94h2M113 94h4M56 95h5M73 95h4M88 95h4M99 95h2M113 95h3M58 96h2M89 96h4M100 96h2M90 97h4M101 97h2M91 98h4M102 98h4M92 99h4M103 99h3M93 100h4M104 100h2M94 101h4M105 101h2M96 102h3M106 102h2M97 103h3M107 103h2M74 104h1M99 104h2M108 104h2M100 105h2M109 105h2M101 106h2M110 106h2M101 107h3M111 107h2M102 108h3M112 108h2M104 109h2M113 109h3M105 110h2M114 110h3M13 111h4M106 111h2M115 111h4M9 112h10M106 112h3M116 112h5M7 113h14M93 113h3M107 113h3M117 113h5M123 113h1M6 114h17M73 114h1M93 114h3M108 114h3M118 114h7M6 115h17M109 115h3M118 115h8M7 116h14M110 116h3M119 116h8M10 117h9M111 117h3M121 117h8M12 118h6M111 118h4M122 118h7M13 119h3M112 119h4M123 119h6M113 120h4M124 120h5M114 121h4M125 121h4M115 122h4M126 122h3M115 123h5M127 123h2M115 124h6M128 124h1M117 125h5M118 126h5M118 127h6M119 128h6"/>
<path transform="translate(0,.5)" stroke="rgb(132,187,113)" d="M4 0h8M5 1h8M6 2h8M7 3h8M0 4h1M8 4h8M0 5h2M9 5h8M0 6h3M10 6h8M0 7h4M11 7h7M0 8h5M12 8h7M0 9h6M13 9h7M0 10h7M14 10h6M114 10h2M0 11h8M15 11h6M93 11h2M113 11h4M0 12h9M16 12h6M92 12h3M113 12h5M0 13h10M17 13h6M92 13h3M112 13h7M1 14h10M18 14h5M91 14h5M112 14h7M2 15h10M19 15h5M91 15h5M112 15h7M2 16h11M20 16h5M91 16h5M113 16h6M2 17h12M21 17h5M91 17h5M113 17h5M4 18h11M22 18h4M92 18h4M114 18h3M6 19h10M23 19h4M37 19h1M93 19h2M115 19h1M8 20h9M24 20h6M36 20h6M93 20h2M8 21h10M25 21h5M36 21h7M8 22h11M26 22h6M35 22h9M8 23h12M27 23h16M8 24h13M28 24h14M15 25h7M29 25h5M37 25h3M16 26h7M30 26h3M37 26h3M17 27h7M31 27h3M37 27h2M18 28h7M32 28h3M37 28h3M18 29h8M33 29h3M37 29h4M17 30h10M34 30h7M16 31h12M35 31h7M16 32h13M36 32h5M16 33h14M37 33h4M17 34h14M38 34h4M17 35h15M39 35h4M9 36h5M16 36h17M40 36h4M7 37h27M41 37h5M5 38h30M42 38h7M5 39h31M43 39h6M52 39h1M6 40h31M44 40h6M52 40h1M8 41h30M45 41h6M52 41h2M59 41h2M11 42h6M18 42h8M29 42h10M46 42h8M58 42h3M72 42h2M93 42h1M20 43h5M32 43h8M47 43h7M59 43h1M21 44h1M33 44h8M48 44h6M35 45h7M49 45h6M36 46h7M50 46h6M37 47h7M51 47h6M37 48h8M52 48h6M36 49h10M53 49h7M36 50h12M54 50h7M37 51h12M55 51h8M37 52h13M56 52h8M20 53h2M37 53h14M57 53h7M20 54h3M37 54h14M58 54h7M16 55h1M18 55h6M37 55h15M59 55h6M16 56h9M37 56h16M60 56h5M72 56h3M14 57h11M37 57h17M61 57h5M71 57h4M14 58h11M37 58h18M62 58h4M71 58h4M15 59h9M38 59h18M63 59h4M70 59h6M42 60h2M45 60h4M51 60h6M64 60h3M70 60h5M54 61h4M65 61h3M70 61h6M55 62h4M66 62h3M70 62h5M56 63h4M67 63h9M57 64h4M68 64h7M58 65h4M69 65h6M59 66h4M70 66h5M60 67h4M71 67h4M61 68h4M72 68h3M57 69h9M73 69h2M54 70h13M74 70h5M53 71h15M75 71h7M41 72h3M52 72h17M76 72h10M12 73h5M19 73h4M39 73h8M51 73h19M77 73h10M93 73h1M11 74h7M20 74h4M39 74h8M51 74h20M78 74h10M93 74h1M14 75h1M41 75h4M54 75h18M79 75h9M55 76h18M80 76h8M57 77h6M65 77h9M81 77h7M58 78h3M65 78h10M82 78h6M58 79h3M65 79h11M83 79h6M58 80h3M66 80h11M84 80h5M57 81h5M66 81h12M85 81h4M57 82h5M67 82h12M86 82h3M58 83h3M68 83h12M87 83h3M58 84h2M72 84h9M88 84h3M76 85h6M89 85h3M79 86h4M90 86h3M81 87h3M91 87h3M81 88h4M92 88h2M74 89h1M81 89h5M93 89h2M57 90h3M72 90h15M94 90h2M55 91h7M70 91h18M95 91h2M14 92h4M37 92h11M55 92h8M69 92h20M96 92h2M113 92h3M14 93h5M20 93h1M37 93h11M55 93h8M70 93h20M97 93h2M113 93h4M14 94h4M37 94h8M55 94h7M71 94h14M88 94h3M98 94h2M113 94h3M57 95h4M74 95h3M89 95h3M99 95h2M113 95h3M58 96h2M89 96h4M100 96h2M90 97h4M101 97h2M91 98h4M102 98h4M92 99h4M103 99h3M93 100h4M104 100h2M95 101h3M105 101h2M96 102h3M106 102h2M98 103h2M107 103h2M99 104h2M108 104h2M100 105h2M109 105h2M101 106h2M110 106h2M102 107h2M111 107h2M103 108h2M112 108h2M104 109h2M113 109h3M105 110h2M114 110h3M14 111h2M106 111h2M115 111h4M9 112h9M107 112h2M116 112h4M7 113h13M93 113h3M107 113h3M117 113h4M6 114h15M93 114h3M108 114h3M118 114h7M7 115h14M109 115h3M119 115h7M7 116h14M110 116h3M120 116h7M11 117h8M111 117h3M121 117h8M13 118h5M111 118h4M122 118h7M14 119h2M112 119h4M123 119h6M113 120h4M124 120h5M114 121h4M125 121h4M115 122h4M126 122h3M115 123h5M127 123h2M116 124h5M128 124h1M117 125h5M118 126h5M119 127h5M119 128h6"/>
<path transform="translate(0,.5)" stroke="rgb(141,189,94)" d="M4 0h8M5 1h8M6 2h8M7 3h8M0 4h1M8 4h8M0 5h2M9 5h8M0 6h3M10 6h7M0 7h4M11 7h7M0 8h5M12 8h7M0 9h6M13 9h7M0 10h7M14 10h6M115 10h1M0 11h8M15 11h6M93 11h1M113 11h4M0 12h9M16 12h6M92 12h3M113 12h5M1 13h9M17 13h5M92 13h3M112 13h7M1 14h10M18 14h5M91 14h4M112 14h7M2 15h10M19 15h5M91 15h5M112 15h7M2 16h11M20 16h5M91 16h5M113 16h6M3 17h11M21 17h4M92 17h4M113 17h5M7 18h8M22 18h4M92 18h3M114 18h3M8 19h8M23 19h4M93 19h2M9 20h8M24 20h4M37 20h3M10 21h8M25 21h4M36 21h7M9 22h10M26 22h5M35 22h8M8 23h12M27 23h16M9 24h2M14 24h7M28 24h6M35 24h7M15 25h7M29 25h3M37 25h3M16 26h7M30 26h3M38 26h1M18 27h6M31 27h3M37 27h2M18 28h7M32 28h3M37 28h3M18 29h8M33 29h3M37 29h4M18 30h9M34 30h7M17 31h11M35 31h6M17 32h12M36 32h4M17 33h13M37 33h4M18 34h13M38 34h4M17 35h15M39 35h4M16 36h17M40 36h4M8 37h26M41 37h5M6 38h29M42 38h6M6 39h30M43 39h6M9 40h28M44 40h6M52 40h1M10 41h28M45 41h6M52 41h2M59 41h1M12 42h4M18 42h8M29 42h10M46 42h8M59 42h2M20 43h4M32 43h8M47 43h7M34 44h7M48 44h6M35 45h7M49 45h5M36 46h7M50 46h5M38 47h6M51 47h6M37 48h8M52 48h6M37 49h9M53 49h6M37 50h11M54 50h7M37 51h12M55 51h7M37 52h13M56 52h8M21 53h1M37 53h14M57 53h7M20 54h2M37 54h14M58 54h7M20 55h4M37 55h15M59 55h6M16 56h3M20 56h4M37 56h16M60 56h5M72 56h2M15 57h9M37 57h17M61 57h5M72 57h3M15 58h9M37 58h18M62 58h4M71 58h4M15 59h8M38 59h18M63 59h4M70 59h5M46 60h2M52 60h5M64 60h3M70 60h5M54 61h4M65 61h3M70 61h5M55 62h4M66 62h3M70 62h5M56 63h4M67 63h8M57 64h4M68 64h7M59 65h3M69 65h6M60 66h3M70 66h4M61 67h3M71 67h3M62 68h3M72 68h2M57 69h9M73 69h2M55 70h12M74 70h4M54 71h14M75 71h7M41 72h3M52 72h17M76 72h9M12 73h5M20 73h3M40 73h6M52 73h18M77 73h10M12 74h5M20 74h3M40 74h6M52 74h19M78 74h9M93 74h1M41 75h3M54 75h18M79 75h9M55 76h18M80 76h8M57 77h5M65 77h9M81 77h7M58 78h3M65 78h10M82 78h6M58 79h3M66 79h10M83 79h6M58 80h3M66 80h11M84 80h5M58 81h3M66 81h12M85 81h4M57 82h4M68 82h11M86 82h3M58 83h3M69 83h11M87 83h3M59 84h1M73 84h8M88 84h3M77 85h5M89 85h3M80 86h3M90 86h3M82 87h2M91 87h3M82 88h3M92 88h2M82 89h4M93 89h2M57 90h3M72 90h15M94 90h2M56 91h6M70 91h18M95 91h2M14 92h4M37 92h9M55 92h8M69 92h20M96 92h2M113 92h3M14 93h4M37 93h10M55 93h8M70 93h20M97 93h2M113 93h3M14 94h3M38 94h7M56 94h6M71 94h14M88 94h3M98 94h2M113 94h3M57 95h4M89 95h3M99 95h2M114 95h2M59 96h1M90 96h3M100 96h2M90 97h4M101 97h2M91 98h4M102 98h3M92 99h4M103 99h2M93 100h4M104 100h2M95 101h3M105 101h2M96 102h3M106 102h2M98 103h2M107 103h2M99 104h2M108 104h2M101 105h1M109 105h2M101 106h2M110 106h2M102 107h2M111 107h2M103 108h2M112 108h2M104 109h2M113 109h2M105 110h2M114 110h3M106 111h2M115 111h3M9 112h9M107 112h2M116 112h4M7 113h13M94 113h2M107 113h3M117 113h4M7 114h14M94 114h1M108 114h3M118 114h7M7 115h14M109 115h3M119 115h6M8 116h12M110 116h3M120 116h6M12 117h7M111 117h3M121 117h7M13 118h4M112 118h3M122 118h7M14 119h1M112 119h4M123 119h6M113 120h4M124 120h5M114 121h4M125 121h4M115 122h4M126 122h3M116 123h4M127 123h2M116 124h5M128 124h1M117 125h5M118 126h5M119 127h5M119 128h6"/>
<path transform="translate(0,.5)" stroke="rgb(157,193,77)" d="M4 0h8M5 1h8M6 2h8M7 3h8M0 4h1M8 4h8M0 5h2M9 5h7M0 6h3M10 6h7M0 7h4M11 7h7M0 8h5M12 8h7M0 9h6M13 9h6M0 10h7M14 10h6M0 11h8M15 11h6M114 11h3M0 12h9M16 12h6M92 12h3M113 12h5M1 13h9M17 13h5M92 13h3M113 13h5M2 14h9M18 14h5M92 14h3M112 14h7M3 15h9M19 15h5M91 15h5M112 15h7M3 16h10M20 16h4M91 16h5M113 16h5M6 17h8M21 17h4M92 17h3M113 17h4M7 18h8M22 18h4M92 18h3M114 18h2M9 19h7M23 19h4M93 19h1M10 20h7M24 20h4M37 20h3M11 21h7M25 21h4M36 21h6M10 22h9M26 22h4M36 22h7M9 23h11M27 23h5M35 23h8M14 24h7M28 24h6M36 24h5M16 25h6M29 25h3M37 25h3M17 26h6M30 26h3M18 27h6M31 27h3M19 28h6M32 28h3M37 28h2M18 29h8M33 29h3M37 29h3M18 30h9M34 30h7M18 31h10M35 31h6M18 32h11M36 32h4M17 33h13M37 33h4M18 34h13M38 34h4M18 35h14M39 35h4M17 36h16M40 36h4M9 37h25M41 37h5M8 38h27M42 38h6M8 39h28M43 39h6M10 40h27M44 40h6M52 40h1M10 41h28M45 41h6M52 41h1M13 42h2M19 42h6M30 42h9M46 42h8M59 42h1M20 43h2M32 43h8M47 43h7M34 44h7M48 44h6M35 45h7M49 45h5M37 46h6M50 46h5M38 47h6M51 47h6M37 48h8M52 48h6M37 49h9M53 49h6M37 50h11M54 50h7M37 51h12M55 51h7M37 52h13M56 52h8M37 53h14M57 53h7M20 54h2M37 54h14M58 54h6M20 55h3M37 55h15M59 55h6M20 56h4M37 56h16M60 56h5M15 57h9M37 57h17M61 57h5M72 57h3M15 58h9M38 58h17M62 58h4M71 58h4M16 59h7M38 59h18M63 59h3M71 59h4M47 60h1M53 60h4M64 60h3M71 60h4M54 61h4M65 61h3M71 61h4M55 62h4M66 62h3M70 62h5M56 63h4M67 63h2M70 63h5M58 64h3M68 64h7M59 65h3M69 65h5M60 66h3M70 66h4M61 67h3M71 67h2M62 68h3M72 68h2M58 69h8M73 69h2M55 70h12M74 70h4M54 71h14M75 71h6M42 72h2M52 72h17M76 72h9M12 73h4M21 73h1M41 73h4M52 73h18M77 73h10M12 74h5M40 74h6M52 74h19M78 74h9M42 75h2M55 75h17M79 75h8M56 76h17M80 76h8M57 77h5M65 77h9M81 77h7M58 78h3M65 78h10M82 78h6M58 79h3M66 79h10M83 79h5M58 80h3M66 80h11M84 80h5M58 81h3M67 81h11M85 81h4M58 82h3M68 82h11M86 82h3M58 83h3M69 83h11M87 83h3M59 84h1M74 84h7M88 84h3M77 85h5M89 85h3M80 86h3M90 86h3M82 87h2M91 87h3M82 88h3M92 88h2M82 89h4M93 89h2M58 90h2M72 90h7M81 90h6M94 90h2M56 91h5M71 91h17M95 91h2M15 92h2M37 92h8M55 92h8M70 92h19M96 92h2M114 92h1M14 93h4M37 93h9M55 93h8M70 93h20M97 93h2M113 93h3M14 94h3M38 94h2M41 94h4M56 94h6M72 94h8M82 94h3M88 94h3M98 94h2M113 94h3M57 95h4M89 95h3M99 95h2M114 95h1M90 96h3M100 96h2M91 97h3M101 97h2M91 98h4M102 98h2M92 99h4M103 99h2M93 100h4M104 100h2M95 101h3M105 101h2M96 102h3M106 102h2M98 103h2M107 103h2M99 104h2M108 104h2M101 105h1M109 105h2M101 106h2M110 106h2M102 107h2M111 107h2M103 108h2M112 108h2M104 109h2M113 109h2M105 110h2M114 110h3M106 111h2M115 111h3M10 112h8M107 112h2M116 112h4M8 113h11M94 113h1M108 113h2M117 113h4M7 114h13M108 114h3M118 114h4M7 115h14M109 115h3M119 115h6M8 116h12M110 116h3M120 116h6M12 117h7M111 117h3M121 117h7M13 118h4M112 118h3M122 118h7M14 119h1M112 119h4M123 119h6M113 120h4M124 120h5M114 121h4M125 121h4M115 122h4M126 122h3M116 123h4M127 123h2M116 124h5M128 124h1M117 125h5M118 126h5M119 127h5M120 128h5"/>
<path transform="translate(0,.5)" stroke="rgb(181,199,62)" d="M4 0h7M5 1h8M6 2h8M7 3h8M0 4h1M8 4h8M0 5h2M9 5h7M0 6h3M10 6h7M0 7h4M11 7h7M0 8h5M12 8h7M0 9h6M13 9h6M0 10h7M14 10h6M0 11h8M15 11h6M114 11h3M0 12h9M16 12h5M93 12h1M113 12h5M2 13h8M17 13h5M92 13h3M113 13h5M2 14h9M18 14h5M92 14h3M112 14h7M3 15h9M19 15h5M92 15h3M113 15h6M3 16h10M20 16h4M91 16h5M113 16h5M6 17h8M21 17h4M92 17h3M114 17h3M8 18h7M22 18h4M92 18h3M114 18h2M9 19h7M23 19h4M10 20h7M24 20h4M37 20h2M11 21h7M25 21h4M37 21h3M12 22h7M26 22h4M36 22h7M14 23h6M27 23h3M36 23h6M15 24h6M28 24h4M37 24h4M16 25h6M29 25h3M37 25h2M17 26h6M30 26h3M18 27h6M31 27h3M19 28h6M32 28h3M38 28h1M19 29h7M33 29h3M37 29h3M19 30h8M34 30h6M18 31h10M35 31h5M18 32h11M36 32h4M18 33h12M37 33h4M18 34h13M38 34h4M18 35h14M39 35h4M17 36h16M40 36h4M10 37h24M41 37h5M10 38h25M42 38h6M10 39h26M43 39h6M11 40h26M44 40h6M12 41h14M28 41h10M45 41h6M52 41h1M20 42h5M30 42h9M46 42h8M59 42h1M20 43h2M33 43h7M47 43h7M34 44h7M48 44h5M36 45h6M49 45h5M37 46h6M50 46h5M38 47h6M51 47h5M38 48h7M52 48h6M37 49h9M53 49h6M37 50h10M54 50h6M37 51h12M55 51h7M38 52h11M56 52h7M38 53h12M57 53h7M20 54h2M37 54h14M58 54h6M20 55h2M37 55h15M59 55h6M20 56h3M37 56h16M60 56h5M16 57h3M20 57h4M37 57h17M61 57h5M72 57h2M15 58h8M38 58h17M62 58h4M72 58h3M16 59h3M20 59h2M39 59h17M63 59h3M71 59h4M53 60h4M64 60h3M71 60h4M54 61h4M65 61h3M71 61h4M55 62h4M66 62h2M71 62h4M56 63h4M67 63h2M70 63h5M58 64h3M68 64h2M71 64h3M59 65h3M69 65h2M72 65h2M60 66h3M70 66h3M61 67h3M71 67h2M62 68h3M72 68h2M58 69h8M73 69h2M56 70h11M74 70h4M54 71h14M75 71h6M42 72h1M53 72h16M76 72h8M13 73h3M41 73h4M52 73h18M77 73h10M13 74h3M41 74h4M53 74h18M78 74h9M42 75h2M55 75h17M79 75h8M56 76h17M80 76h8M57 77h5M65 77h9M81 77h7M58 78h2M66 78h9M82 78h6M59 79h1M66 79h10M83 79h5M58 80h3M66 80h11M84 80h4M58 81h3M67 81h11M85 81h4M58 82h3M68 82h11M86 82h3M58 83h3M70 83h10M87 83h3M59 84h1M74 84h7M88 84h3M77 85h5M89 85h3M80 86h3M90 86h3M82 87h2M91 87h3M83 88h2M92 88h2M84 89h2M93 89h2M58 90h2M72 90h7M81 90h6M94 90h2M56 91h5M71 91h17M95 91h2M15 92h2M38 92h7M55 92h7M70 92h19M96 92h2M14 93h4M37 93h9M55 93h7M70 93h20M97 93h2M113 93h3M15 94h2M41 94h3M56 94h6M72 94h8M82 94h2M88 94h3M98 94h2M113 94h3M57 95h4M89 95h3M99 95h2M90 96h3M100 96h2M91 97h3M101 97h2M92 98h3M102 98h2M92 99h4M103 99h2M94 100h3M104 100h2M95 101h3M105 101h2M96 102h3M106 102h2M98 103h2M107 103h2M99 104h2M108 104h2M101 105h1M109 105h2M102 106h1M110 106h2M102 107h2M111 107h2M103 108h2M112 108h2M104 109h2M113 109h2M105 110h2M114 110h3M106 111h2M115 111h3M10 112h8M107 112h2M116 112h3M8 113h11M108 113h2M117 113h4M7 114h13M108 114h3M118 114h4M7 115h13M109 115h3M119 115h6M8 116h12M110 116h3M120 116h6M12 117h7M111 117h3M121 117h7M13 118h4M112 118h3M122 118h7M113 119h3M123 119h6M113 120h4M124 120h5M114 121h4M125 121h4M115 122h4M126 122h3M116 123h4M127 123h2M117 124h4M128 124h1M117 125h5M118 126h5M119 127h5M120 128h5"/>
<path transform="translate(0,.5)" stroke="rgb(211,210,58)" d="M4 0h7M5 1h7M6 2h7M7 3h7M0 4h1M8 4h7M0 5h2M9 5h7M0 6h3M10 6h7M0 7h4M11 7h7M0 8h5M12 8h6M0 9h6M13 9h6M0 10h7M14 10h6M0 11h8M15 11h6M114 11h2M1 12h8M16 12h5M93 12h1M113 12h4M2 13h8M17 13h5M92 13h3M113 13h5M3 14h8M18 14h5M92 14h3M112 14h7M4 15h8M19 15h5M92 15h3M113 15h6M5 16h8M20 16h4M92 16h3M113 16h5M7 17h7M21 17h4M92 17h3M114 17h3M8 18h7M22 18h4M93 18h2M115 18h1M9 19h7M23 19h4M10 20h7M24 20h4M11 21h7M25 21h4M37 21h3M13 22h6M26 22h4M36 22h6M14 23h6M27 23h3M36 23h5M15 24h6M28 24h3M37 24h3M16 25h6M29 25h3M17 26h6M30 26h3M18 27h6M31 27h3M19 28h6M32 28h3M19 29h7M33 29h3M38 29h1M19 30h8M34 30h3M38 30h2M19 31h9M35 31h5M18 32h11M36 32h3M18 33h12M37 33h3M19 34h6M26 34h5M38 34h4M18 35h8M27 35h5M39 35h4M18 36h15M40 36h4M12 37h1M16 37h18M41 37h4M11 38h24M42 38h5M11 39h25M43 39h6M12 40h25M44 40h6M12 41h3M18 41h8M28 41h10M45 41h6M52 41h1M20 42h5M32 42h7M46 42h5M52 42h2M21 43h1M33 43h7M47 43h6M35 44h6M48 44h5M36 45h6M49 45h5M37 46h6M50 46h5M38 47h6M51 47h5M38 48h7M52 48h6M37 49h3M41 49h5M53 49h6M37 50h10M54 50h6M38 51h10M55 51h7M38 52h11M56 52h7M38 53h12M57 53h7M20 54h2M38 54h13M58 54h6M20 55h2M37 55h15M59 55h6M20 56h3M38 56h15M60 56h5M16 57h3M20 57h3M38 57h16M61 57h4M72 57h2M16 58h7M38 58h17M62 58h4M72 58h3M16 59h2M20 59h2M39 59h17M63 59h3M71 59h4M53 60h4M64 60h3M71 60h4M54 61h4M65 61h3M71 61h4M55 62h4M66 62h2M71 62h4M57 63h3M67 63h2M71 63h4M58 64h3M68 64h2M72 64h2M59 65h3M69 65h2M72 65h1M60 66h3M70 66h2M61 67h3M71 67h2M62 68h3M72 68h2M59 69h7M73 69h2M56 70h11M74 70h3M54 71h14M75 71h6M53 72h16M76 72h8M14 73h1M41 73h4M53 73h17M77 73h10M13 74h3M41 74h4M53 74h18M78 74h9M42 75h2M55 75h17M79 75h8M56 76h8M65 76h8M80 76h7M58 77h3M66 77h8M81 77h7M59 78h1M66 78h9M82 78h6M59 79h1M66 79h10M83 79h5M58 80h3M66 80h11M84 80h4M58 81h3M67 81h11M85 81h4M58 82h3M69 82h10M86 82h3M58 83h3M70 83h10M87 83h3M75 84h6M88 84h3M77 85h5M89 85h3M80 86h3M90 86h3M82 87h2M91 87h2M83 88h2M92 88h2M84 89h2M93 89h2M73 90h6M81 90h6M94 90h2M56 91h5M71 91h17M95 91h2M15 92h2M38 92h2M41 92h4M55 92h7M70 92h19M96 92h2M14 93h4M37 93h8M55 93h7M70 93h20M97 93h2M114 93h2M15 94h2M42 94h2M56 94h6M72 94h7M82 94h2M88 94h3M98 94h2M114 94h2M57 95h3M89 95h3M99 95h2M90 96h3M100 96h2M91 97h3M101 97h2M92 98h3M102 98h2M93 99h3M103 99h2M94 100h3M104 100h2M95 101h3M105 101h2M97 102h2M106 102h2M98 103h2M107 103h2M99 104h2M108 104h2M101 105h1M109 105h2M102 106h1M110 106h2M102 107h2M111 107h2M103 108h2M112 108h2M104 109h2M113 109h2M105 110h2M114 110h2M106 111h2M115 111h3M11 112h6M107 112h2M116 112h3M8 113h11M108 113h2M117 113h3M7 114h13M109 114h2M118 114h4M7 115h13M109 115h3M119 115h5M8 116h11M110 116h3M120 116h6M12 117h6M111 117h3M121 117h6M13 118h3M112 118h3M122 118h7M113 119h3M123 119h6M113 120h4M124 120h5M114 121h4M125 121h4M115 122h4M126 122h3M116 123h4M127 123h2M117 124h4M128 124h1M118 125h4M118 126h5M119 127h5M120 128h5"/>
<path transform="translate(0,.5)" stroke="rgb(226,203,53)" d="M4 0h7M5 1h7M6 2h7M7 3h7M0 4h1M8 4h7M0 5h2M9 5h7M0 6h3M10 6h7M0 7h4M11 7h6M0 8h5M12 8h6M0 9h6M13 9h6M0 10h7M14 10h6M0 11h8M15 11h5M114 11h2M1 12h8M16 12h5M113 12h4M2 13h8M17 13h5M92 13h3M113 13h5M3 14h8M18 14h5M92 14h3M113 14h6M4 15h8M19 15h4M92 15h3M113 15h5M6 16h7M20 16h4M92 16h3M113 16h5M7 17h7M21 17h4M92 17h3M114 17h3M8 18h7M22 18h4M93 18h1M9 19h7M23 19h4M10 20h7M24 20h4M12 21h6M25 21h4M37 21h2M13 22h6M26 22h3M37 22h3M14 23h6M27 23h3M36 23h5M15 24h6M28 24h3M37 24h3M16 25h6M29 25h3M17 26h6M30 26h3M18 27h6M31 27h3M20 28h5M32 28h3M20 29h6M33 29h3M38 29h1M19 30h8M34 30h3M38 30h1M19 31h9M35 31h4M19 32h10M36 32h3M19 33h11M37 33h3M20 34h5M26 34h5M38 34h3M19 35h7M27 35h5M39 35h3M18 36h15M40 36h4M16 37h18M41 37h4M12 38h2M15 38h20M42 38h5M12 39h24M43 39h6M12 40h3M16 40h21M44 40h6M14 41h1M19 41h7M29 41h9M45 41h5M52 41h1M20 42h5M32 42h7M46 42h5M52 42h1M21 43h1M33 43h7M47 43h6M35 44h6M48 44h5M36 45h6M49 45h5M37 46h6M50 46h5M38 47h6M51 47h5M40 48h5M52 48h5M38 49h2M41 49h5M53 49h6M38 50h3M42 50h5M54 50h6M38 51h10M55 51h6M38 52h11M56 52h7M38 53h12M57 53h7M20 54h2M38 54h13M58 54h6M20 55h2M38 55h14M59 55h5M20 56h2M38 56h15M60 56h5M16 57h1M20 57h2M38 57h16M61 57h4M16 58h3M20 58h2M38 58h17M62 58h4M72 58h2M20 59h2M40 59h9M52 59h4M63 59h3M72 59h3M53 60h4M64 60h3M72 60h3M54 61h4M65 61h3M72 61h3M55 62h4M66 62h2M72 62h2M57 63h3M67 63h2M72 63h2M58 64h3M68 64h2M72 64h2M59 65h3M69 65h2M60 66h3M70 66h2M61 67h3M71 67h2M62 68h3M72 68h2M59 69h1M61 69h5M73 69h2M56 70h11M74 70h3M55 71h13M75 71h5M53 72h16M76 72h7M41 73h4M53 73h17M77 73h9M14 74h2M41 74h4M54 74h17M78 74h9M55 75h17M79 75h8M57 76h7M66 76h7M80 76h7M58 77h3M66 77h8M81 77h7M59 78h1M66 78h9M82 78h6M59 79h1M66 79h10M83 79h5M58 80h3M67 80h10M84 80h4M58 81h3M68 81h10M85 81h3M58 82h3M69 82h10M86 82h3M58 83h3M71 83h9M87 83h3M75 84h6M88 84h3M78 85h4M89 85h3M80 86h3M90 86h2M82 87h2M91 87h2M83 88h2M92 88h2M84 89h2M93 89h2M73 90h5M82 90h5M94 90h2M56 91h5M71 91h17M95 91h2M15 92h2M41 92h4M56 92h6M70 92h19M96 92h2M14 93h4M38 93h7M56 93h6M71 93h15M87 93h3M97 93h2M114 93h2M15 94h2M42 94h2M56 94h5M72 94h7M88 94h3M98 94h2M114 94h1M58 95h2M89 95h3M99 95h2M90 96h3M100 96h2M91 97h3M101 97h2M92 98h3M102 98h2M93 99h3M103 99h2M94 100h3M104 100h2M95 101h3M105 101h2M97 102h2M106 102h2M98 103h2M107 103h2M99 104h2M108 104h2M101 105h1M109 105h2M102 106h1M110 106h2M102 107h2M111 107h2M103 108h2M112 108h2M104 109h2M113 109h2M105 110h2M114 110h2M106 111h2M115 111h3M12 112h5M107 112h2M116 112h3M8 113h11M108 113h2M117 113h3M7 114h13M109 114h2M118 114h4M8 115h12M109 115h3M119 115h5M9 116h10M110 116h3M120 116h5M13 117h5M111 117h3M121 117h6M14 118h2M112 118h3M122 118h7M113 119h3M123 119h6M114 120h3M124 120h5M114 121h4M125 121h4M115 122h4M126 122h3M116 123h4M127 123h2M117 124h4M128 124h1M118 125h4M118 126h5M119 127h5M120 128h5"/>
<path transform="translate(0,.5)" stroke="rgb(228,178,47)" d="M4 0h7M5 1h7M6 2h7M7 3h7M0 4h1M8 4h7M0 5h2M9 5h7M0 6h3M10 6h6M0 7h4M11 7h6M0 8h5M12 8h6M0 9h6M13 9h6M0 10h7M14 10h6M0 11h8M15 11h5M115 11h1M1 12h8M16 12h5M114 12h3M2 13h8M17 13h5M92 13h3M113 13h5M4 14h7M18 14h5M92 14h3M113 14h5M5 15h7M19 15h4M92 15h3M113 15h5M6 16h7M20 16h4M92 16h3M113 16h5M7 17h7M21 17h4M92 17h3M114 17h3M8 18h7M22 18h4M93 18h1M10 19h6M23 19h4M11 20h6M24 20h4M12 21h6M25 21h3M37 21h2M13 22h6M26 22h3M37 22h3M14 23h6M27 23h3M37 23h3M15 24h6M28 24h3M37 24h3M16 25h6M29 25h3M17 26h6M30 26h3M19 27h5M31 27h3M20 28h5M32 28h3M20 29h6M33 29h3M20 30h7M34 30h3M20 31h8M35 31h3M20 32h9M36 32h3M20 33h10M37 33h3M20 34h5M26 34h5M38 34h3M20 35h5M27 35h5M39 35h3M18 36h8M28 36h5M40 36h4M16 37h18M41 37h4M16 38h19M42 38h5M16 39h20M43 39h5M18 40h19M44 40h5M20 41h5M29 41h9M45 41h5M52 41h1M20 42h4M32 42h7M46 42h5M52 42h1M34 43h6M47 43h6M35 44h6M48 44h5M36 45h6M49 45h5M37 46h6M50 46h5M39 47h5M51 47h5M40 48h5M52 48h5M41 49h5M53 49h6M38 50h2M42 50h5M54 50h6M38 51h10M55 51h6M38 52h11M56 52h7M38 53h12M57 53h7M21 54h1M38 54h13M58 54h6M20 55h2M38 55h14M59 55h5M20 56h2M38 56h15M60 56h5M20 57h2M38 57h16M61 57h4M16 58h2M20 58h2M39 58h16M62 58h4M72 58h2M41 59h8M52 59h4M63 59h3M72 59h3M53 60h4M64 60h3M72 60h2M54 61h4M65 61h3M72 61h2M56 62h3M66 62h2M72 62h2M57 63h3M67 63h2M72 63h2M58 64h3M68 64h2M59 65h3M69 65h2M60 66h3M70 66h2M61 67h3M71 67h2M62 68h3M72 68h2M63 69h3M73 69h2M57 70h10M74 70h3M55 71h13M75 71h5M54 72h15M76 72h7M42 73h3M54 73h16M77 73h9M14 74h1M41 74h4M54 74h17M78 74h9M55 75h17M79 75h8M57 76h7M66 76h7M80 76h7M58 77h3M66 77h8M81 77h6M59 78h1M66 78h9M82 78h6M59 79h1M66 79h10M83 79h5M58 80h2M67 80h10M84 80h4M58 81h3M68 81h10M85 81h3M58 82h3M69 82h10M86 82h3M58 83h2M72 83h8M87 83h3M76 84h5M88 84h3M78 85h4M89 85h2M81 86h2M90 86h2M82 87h2M91 87h2M83 88h2M92 88h2M84 89h2M93 89h2M73 90h5M82 90h5M94 90h2M57 91h4M72 91h16M95 91h2M15 92h2M42 92h3M56 92h6M71 92h18M96 92h2M14 93h3M38 93h2M41 93h4M56 93h6M71 93h15M87 93h3M97 93h2M114 93h1M15 94h2M42 94h2M56 94h5M72 94h7M88 94h3M98 94h2M58 95h2M89 95h3M99 95h2M90 96h3M100 96h2M91 97h3M101 97h2M92 98h3M102 98h2M93 99h3M103 99h2M94 100h3M104 100h2M95 101h3M105 101h2M97 102h2M106 102h2M98 103h2M107 103h2M99 104h2M108 104h2M101 105h1M109 105h2M102 106h1M110 106h2M103 107h1M111 107h2M103 108h2M112 108h2M104 109h2M113 109h2M105 110h2M114 110h2M106 111h2M115 111h2M13 112h4M107 112h2M116 112h3M8 113h11M108 113h2M117 113h3M8 114h11M109 114h2M118 114h4M8 115h12M110 115h2M119 115h5M9 116h10M110 116h3M120 116h5M13 117h5M111 117h3M121 117h6M14 118h2M112 118h3M122 118h7M113 119h3M123 119h6M114 120h3M124 120h5M115 121h3M125 121h4M115 122h4M126 122h3M116 123h4M127 123h2M117 124h4M128 124h1M118 125h4M119 126h4M119 127h5M120 128h5"/>
<path transform="translate(0,.5)" stroke="rgb(227,152,42)" d="M4 0h7M5 1h7M6 2h7M7 3h7M0 4h1M8 4h7M0 5h2M9 5h7M0 6h3M10 6h6M0 7h4M11 7h6M0 8h5M12 8h6M0 9h6M13 9h6M0 10h7M14 10h5M0 11h8M15 11h5M2 12h7M16 12h5M114 12h3M3 13h7M17 13h5M92 13h3M113 13h5M4 14h7M18 14h4M92 14h3M113 14h5M5 15h7M19 15h4M92 15h3M113 15h5M6 16h7M20 16h4M92 16h3M113 16h5M7 17h7M21 17h4M92 17h3M114 17h2M9 18h6M22 18h4M93 18h1M10 19h6M23 19h4M11 20h6M24 20h4M12 21h6M25 21h3M13 22h6M26 22h3M37 22h3M14 23h6M27 23h3M37 23h3M15 24h6M28 24h3M37 24h2M17 25h5M29 25h3M18 26h5M30 26h3M19 27h5M31 27h3M20 28h5M32 28h3M20 29h6M33 29h3M20 30h7M34 30h3M20 31h8M35 31h3M20 32h9M36 32h3M20 33h10M37 33h3M20 34h4M26 34h5M38 34h3M20 35h5M27 35h5M39 35h3M18 36h8M28 36h5M40 36h3M17 37h17M41 37h4M16 38h19M42 38h5M16 39h20M43 39h5M18 40h8M28 40h9M44 40h5M20 41h5M30 41h8M45 41h5M20 42h2M23 42h1M33 42h6M46 42h5M52 42h1M34 43h6M47 43h6M35 44h6M48 44h5M36 45h6M49 45h5M38 46h5M50 46h5M39 47h5M51 47h5M40 48h5M52 48h5M41 49h5M53 49h5M39 50h1M42 50h5M54 50h6M39 51h9M55 51h6M39 52h10M56 52h6M39 53h11M57 53h6M21 54h1M38 54h13M58 54h6M20 55h2M38 55h14M59 55h5M20 56h2M38 56h15M60 56h5M20 57h2M38 57h16M61 57h4M20 58h2M39 58h10M51 58h4M62 58h4M72 58h2M41 59h3M45 59h3M52 59h4M63 59h3M72 59h2M53 60h4M64 60h3M72 60h2M55 61h3M65 61h2M72 61h2M56 62h3M66 62h2M57 63h3M67 63h2M72 63h2M58 64h3M68 64h2M59 65h3M69 65h2M60 66h3M70 66h2M61 67h3M71 67h2M62 68h3M72 68h2M63 69h3M73 69h2M57 70h10M74 70h3M55 71h13M75 71h5M54 72h15M76 72h6M42 73h2M54 73h16M77 73h8M42 74h3M54 74h17M78 74h8M56 75h9M66 75h6M79 75h8M57 76h6M66 76h7M80 76h7M58 77h3M66 77h8M81 77h6M66 78h9M82 78h6M67 79h9M83 79h5M59 80h1M67 80h10M84 80h4M58 81h3M68 81h10M85 81h3M58 82h3M70 82h9M86 82h3M59 83h1M72 83h8M87 83h3M76 84h5M88 84h3M78 85h4M89 85h2M81 86h2M90 86h2M82 87h2M91 87h2M83 88h2M92 88h2M84 89h2M93 89h2M73 90h5M82 90h2M85 90h2M94 90h2M57 91h4M72 91h16M95 91h2M15 92h2M42 92h3M56 92h6M71 92h18M96 92h2M15 93h2M41 93h4M56 93h6M71 93h15M88 93h2M97 93h2M15 94h2M42 94h1M57 94h4M73 94h5M88 94h3M98 94h2M58 95h2M89 95h3M99 95h2M90 96h3M100 96h2M91 97h3M101 97h2M92 98h3M102 98h2M93 99h3M103 99h2M94 100h3M104 100h2M95 101h3M105 101h2M97 102h2M106 102h2M98 103h2M107 103h2M99 104h2M108 104h2M101 105h1M109 105h2M102 106h1M110 106h2M103 107h1M111 107h2M103 108h2M112 108h2M104 109h2M113 109h2M105 110h2M114 110h2M106 111h2M115 111h2M13 112h4M107 112h2M116 112h3M8 113h11M108 113h2M117 113h3M8 114h11M109 114h2M118 114h4M8 115h11M110 115h2M119 115h4M9 116h10M110 116h3M120 116h5M13 117h5M111 117h3M121 117h6M14 118h1M112 118h3M122 118h6M113 119h3M123 119h6M114 120h3M124 120h5M115 121h3M125 121h4M115 122h4M126 122h3M116 123h4M127 123h2M117 124h4M128 124h1M118 125h4M119 126h4M120 127h4M120 128h5"/>
<path transform="translate(0,.5)" stroke="rgb(224,128,38)" d="M4 0h6M5 1h6M6 2h7M7 3h7M0 4h1M8 4h7M0 5h2M9 5h6M0 6h3M10 6h6M0 7h4M11 7h6M0 8h5M12 8h6M0 9h6M13 9h6M0 10h7M14 10h5M1 11h7M15 11h5M2 12h7M16 12h5M114 12h3M3 13h7M17 13h5M93 13h1M113 13h5M4 14h7M18 14h4M92 14h3M113 14h5M5 15h7M19 15h4M92 15h3M113 15h5M6 16h7M20 16h4M92 16h3M114 16h4M8 17h6M21 17h4M92 17h3M115 17h1M9 18h6M22 18h4M10 19h6M23 19h4M11 20h6M24 20h3M12 21h6M25 21h3M13 22h6M26 22h3M37 22h2M15 23h5M27 23h3M37 23h3M16 24h5M28 24h3M38 24h1M17 25h5M29 25h3M18 26h5M30 26h3M19 27h5M31 27h3M20 28h5M32 28h3M21 29h5M33 29h3M20 30h7M34 30h3M20 31h8M35 31h3M20 32h9M36 32h3M20 33h4M25 33h5M37 33h3M20 34h4M26 34h5M38 34h3M20 35h5M27 35h5M39 35h3M19 36h6M28 36h5M40 36h3M17 37h17M41 37h4M17 38h18M42 38h5M17 39h19M43 39h5M19 40h7M28 40h9M44 40h5M20 41h5M30 41h8M45 41h5M20 42h2M33 42h6M46 42h5M52 42h1M34 43h6M47 43h6M35 44h6M48 44h5M37 45h5M49 45h5M38 46h5M50 46h4M39 47h5M51 47h5M40 48h5M52 48h5M41 49h5M53 49h5M42 50h5M54 50h5M42 51h6M55 51h6M39 52h10M56 52h6M39 53h11M57 53h6M39 54h12M58 54h6M20 55h2M39 55h13M59 55h5M20 56h2M38 56h15M60 56h5M20 57h2M39 57h15M61 57h4M20 58h2M39 58h10M51 58h4M62 58h4M42 59h1M46 59h2M52 59h4M63 59h3M72 59h2M54 60h3M64 60h3M72 60h2M55 61h3M65 61h2M73 61h1M56 62h3M66 62h2M57 63h3M67 63h2M58 64h3M68 64h2M59 65h3M69 65h2M60 66h3M70 66h1M61 67h3M71 67h2M62 68h3M72 68h2M63 69h3M73 69h2M57 70h10M74 70h3M56 71h12M75 71h5M54 72h15M76 72h6M42 73h2M54 73h16M77 73h8M42 74h2M55 74h16M78 74h8M56 75h9M66 75h6M79 75h8M57 76h6M66 76h7M80 76h7M59 77h1M66 77h8M81 77h6M67 78h8M82 78h6M67 79h9M83 79h5M59 80h1M68 80h9M84 80h4M58 81h3M69 81h9M85 81h3M58 82h3M70 82h9M86 82h3M59 83h1M73 83h7M87 83h3M76 84h5M88 84h2M78 85h4M89 85h2M81 86h2M90 86h2M82 87h2M91 87h2M83 88h2M92 88h2M84 89h2M93 89h2M74 90h3M83 90h1M85 90h2M94 90h1M57 91h4M72 91h16M95 91h2M15 92h2M42 92h2M56 92h6M71 92h15M87 92h2M96 92h2M15 93h2M41 93h4M56 93h6M71 93h15M88 93h2M97 93h2M15 94h2M57 94h4M73 94h5M88 94h3M98 94h2M58 95h2M89 95h3M99 95h2M90 96h3M100 96h2M91 97h3M101 97h2M92 98h3M102 98h2M93 99h3M103 99h2M94 100h3M104 100h2M96 101h2M105 101h2M97 102h2M106 102h2M98 103h2M107 103h2M100 104h1M108 104h2M101 105h1M109 105h2M102 106h1M110 106h2M103 107h1M111 107h2M104 108h1M112 108h2M104 109h2M113 109h2M105 110h2M114 110h2M106 111h2M115 111h2M13 112h4M107 112h2M116 112h2M9 113h9M108 113h2M117 113h3M8 114h11M109 114h2M118 114h3M8 115h11M110 115h2M119 115h4M11 116h8M110 116h3M120 116h5M13 117h4M111 117h3M121 117h5M112 118h3M122 118h6M113 119h3M123 119h6M114 120h3M124 120h5M115 121h3M125 121h4M116 122h3M126 122h3M116 123h4M127 123h2M117 124h4M128 124h1M118 125h4M119 126h4M120 127h4M120 128h5"/>
<path transform="translate(0,.5)" stroke="rgb(220,99,34)" d="M4 0h6M5 1h6M6 2h6M7 3h6M0 4h1M8 4h6M0 5h2M9 5h6M0 6h3M10 6h6M0 7h4M11 7h6M0 8h5M12 8h6M0 9h6M13 9h5M0 10h7M14 10h5M1 11h7M15 11h5M2 12h7M16 12h5M114 12h3M3 13h7M17 13h4M93 13h1M113 13h5M4 14h7M18 14h4M92 14h3M113 14h5M5 15h7M19 15h4M92 15h3M113 15h5M7 16h6M20 16h4M92 16h3M114 16h3M8 17h6M21 17h4M92 17h3M115 17h1M9 18h6M22 18h4M10 19h6M23 19h3M11 20h6M24 20h3M12 21h6M25 21h3M14 22h5M26 22h3M38 22h1M15 23h5M27 23h3M37 23h2M16 24h5M28 24h3M17 25h5M29 25h3M18 26h5M30 26h3M19 27h5M31 27h3M20 28h5M32 28h3M21 29h5M33 29h3M21 30h6M34 30h3M20 31h8M35 31h3M20 32h9M36 32h3M20 33h4M25 33h5M37 33h3M20 34h2M26 34h5M38 34h3M20 35h4M27 35h5M39 35h3M20 36h5M28 36h5M40 36h3M18 37h16M41 37h3M17 38h18M42 38h4M17 39h19M43 39h5M20 40h5M29 40h8M44 40h5M20 41h5M32 41h6M45 41h5M20 42h2M33 42h6M46 42h5M52 42h1M34 43h6M47 43h6M36 44h5M48 44h5M37 45h5M49 45h4M38 46h5M50 46h4M39 47h5M51 47h4M40 48h5M52 48h5M41 49h5M53 49h5M42 50h5M54 50h5M43 51h5M55 51h6M40 52h9M56 52h6M39 53h11M57 53h6M39 54h12M58 54h6M20 55h2M39 55h13M59 55h5M20 56h2M39 56h14M60 56h5M20 57h2M39 57h15M61 57h4M21 58h1M40 58h9M51 58h4M62 58h4M47 59h1M53 59h3M63 59h3M72 59h2M54 60h3M64 60h3M55 61h3M65 61h2M56 62h3M66 62h2M57 63h3M67 63h2M58 64h3M68 64h2M59 65h3M69 65h2M60 66h3M70 66h1M61 67h3M71 67h2M62 68h3M72 68h2M63 69h3M73 69h2M58 70h9M74 70h3M56 71h12M75 71h4M54 72h15M76 72h6M42 73h2M54 73h16M77 73h7M42 74h2M55 74h16M78 74h8M56 75h9M66 75h6M79 75h7M57 76h5M66 76h7M80 76h7M59 77h1M66 77h8M81 77h6M67 78h8M82 78h5M67 79h9M83 79h5M59 80h1M68 80h9M84 80h4M58 81h2M69 81h9M85 81h3M58 82h3M70 82h9M86 82h3M59 83h1M73 83h7M87 83h2M76 84h5M88 84h2M79 85h3M89 85h2M81 86h2M90 86h2M83 87h1M91 87h2M84 88h1M92 88h2M84 89h2M93 89h2M74 90h3M85 90h2M94 90h1M57 91h3M72 91h16M95 91h1M16 92h1M42 92h2M56 92h5M71 92h15M87 92h2M96 92h2M15 93h2M41 93h4M56 93h6M72 93h13M88 93h2M97 93h2M57 94h4M73 94h5M89 94h2M98 94h2M89 95h3M99 95h2M90 96h3M100 96h2M91 97h3M101 97h2M92 98h3M102 98h2M93 99h3M103 99h2M94 100h3M104 100h2M96 101h2M105 101h2M97 102h2M106 102h2M98 103h2M107 103h2M100 104h1M108 104h2M101 105h1M109 105h2M102 106h1M110 106h2M103 107h1M111 107h2M104 108h1M112 108h2M104 109h2M113 109h2M105 110h2M114 110h2M106 111h2M115 111h2M14 112h2M107 112h2M116 112h2M9 113h9M108 113h2M117 113h3M8 114h11M109 114h2M118 114h3M8 115h11M110 115h2M119 115h4M12 116h7M111 116h2M120 116h5M13 117h4M111 117h3M121 117h5M112 118h3M122 118h6M113 119h3M123 119h6M114 120h3M124 120h5M115 121h3M125 121h4M116 122h3M126 122h3M116 123h4M127 123h2M117 124h4M128 124h1M118 125h4M119 126h4M120 127h4M120 128h5"/>
<path transform="translate(0,.5)" stroke="rgb(214,71,30)" d="M4 0h6M5 1h6M6 2h6M7 3h6M0 4h1M8 4h6M0 5h2M9 5h6M0 6h3M10 6h6M0 7h4M11 7h6M0 8h5M12 8h5M0 9h6M13 9h5M0 10h7M14 10h5M1 11h7M15 11h5M2 12h7M16 12h5M114 12h3M3 13h7M17 13h4M93 13h1M113 13h4M4 14h7M18 14h4M92 14h3M113 14h5M6 15h6M19 15h4M92 15h3M113 15h5M7 16h6M20 16h4M92 16h3M114 16h3M8 17h6M21 17h4M93 17h2M115 17h1M9 18h6M22 18h3M10 19h6M23 19h3M11 20h6M24 20h3M13 21h5M25 21h3M14 22h5M26 22h3M15 23h5M27 23h3M38 23h1M16 24h5M28 24h3M17 25h5M29 25h3M18 26h5M30 26h3M19 27h5M31 27h3M20 28h5M32 28h3M21 29h5M33 29h3M22 30h5M34 30h3M21 31h7M35 31h3M21 32h8M36 32h3M21 33h1M23 33h1M25 33h5M37 33h3M21 34h1M26 34h5M38 34h3M20 35h2M27 35h5M39 35h3M20 36h5M28 36h5M40 36h3M18 37h8M27 37h7M41 37h3M17 38h18M42 38h4M18 39h8M27 39h9M43 39h5M20 40h5M29 40h8M44 40h5M20 41h4M32 41h6M45 41h5M21 42h1M33 42h6M46 42h5M34 43h6M47 43h5M36 44h5M48 44h4M37 45h5M49 45h4M38 46h5M50 46h4M39 47h5M51 47h4M40 48h5M52 48h5M42 49h4M53 49h5M43 50h4M54 50h5M44 51h4M55 51h5M41 52h8M56 52h6M40 53h10M57 53h6M39 54h12M58 54h5M21 55h1M39 55h13M59 55h5M21 56h1M39 56h14M60 56h4M21 57h1M39 57h15M61 57h4M40 58h8M51 58h4M62 58h3M53 59h3M63 59h3M54 60h3M64 60h2M55 61h3M65 61h2M56 62h3M66 62h2M57 63h3M67 63h2M58 64h3M68 64h2M59 65h3M69 65h2M60 66h3M70 66h1M61 67h3M71 67h2M62 68h3M72 68h2M63 69h3M73 69h2M58 70h9M74 70h3M56 71h12M75 71h4M55 72h14M76 72h6M42 73h2M55 73h15M77 73h7M42 74h2M55 74h16M78 74h8M56 75h9M66 75h6M79 75h7M57 76h5M66 76h7M80 76h7M59 77h1M67 77h7M81 77h6M67 78h8M82 78h5M67 79h9M83 79h5M59 80h1M68 80h9M84 80h4M59 81h1M69 81h9M85 81h3M58 82h3M71 82h8M86 82h2M59 83h1M74 83h6M87 83h2M77 84h4M88 84h2M79 85h3M89 85h2M81 86h2M90 86h2M83 87h1M91 87h2M84 88h1M92 88h2M85 89h1M93 89h2M74 90h1M85 90h2M94 90h1M57 91h3M72 91h13M86 91h2M95 91h1M42 92h2M56 92h5M71 92h15M87 92h2M96 92h1M15 93h2M42 93h3M56 93h5M72 93h13M88 93h2M97 93h2M57 94h4M73 94h4M89 94h2M98 94h2M89 95h3M99 95h2M90 96h3M100 96h2M91 97h3M101 97h2M92 98h3M102 98h2M93 99h3M103 99h2M94 100h3M104 100h2M96 101h2M105 101h2M97 102h2M106 102h2M98 103h2M107 103h2M100 104h1M108 104h2M101 105h1M109 105h2M102 106h1M110 106h2M103 107h1M111 107h2M104 108h1M112 108h2M105 109h1M113 109h2M105 110h2M114 110h2M106 111h2M115 111h2M14 112h2M107 112h2M116 112h2M9 113h9M108 113h2M117 113h3M8 114h11M109 114h2M118 114h3M8 115h11M110 115h2M119 115h4M12 116h7M111 116h2M120 116h4M13 117h4M111 117h3M121 117h5M112 118h3M122 118h6M113 119h3M123 119h6M114 120h3M124 120h5M115 121h3M125 121h4M116 122h3M126 122h3M117 123h3M127 123h2M117 124h4M128 124h1M118 125h4M119 126h4M120 127h4M121 128h4"/>
<path transform="translate(0,.5)" stroke="rgb(205,47,31)" d="M4 0h6M5 1h6M6 2h6M7 3h6M0 4h1M8 4h6M0 5h2M9 5h6M0 6h3M10 6h6M0 7h4M11 7h5M0 8h5M12 8h5M0 9h6M13 9h5M0 10h7M14 10h5M1 11h7M15 11h5M2 12h7M16 12h4M114 12h2M4 13h6M17 13h4M93 13h1M113 13h4M5 14h6M18 14h4M92 14h3M113 14h5M6 15h6M19 15h4M92 15h3M113 15h5M7 16h6M20 16h4M92 16h3M114 16h3M8 17h6M21 17h3M93 17h1M9 18h6M22 18h3M11 19h5M23 19h3M12 20h5M24 20h3M13 21h5M25 21h3M14 22h5M26 22h3M15 23h5M27 23h3M16 24h5M28 24h3M17 25h5M29 25h3M18 26h5M30 26h3M19 27h5M31 27h2M20 28h5M32 28h3M21 29h5M33 29h3M22 30h5M34 30h3M24 31h4M35 31h3M25 32h4M36 32h3M21 33h1M26 33h4M37 33h3M27 34h4M38 34h3M20 35h2M27 35h5M39 35h3M20 36h4M28 36h5M40 36h3M18 37h8M28 37h6M41 37h3M18 38h8M27 38h8M42 38h4M18 39h8M28 39h8M43 39h5M20 40h5M30 40h7M44 40h5M20 41h2M23 41h1M32 41h6M45 41h5M21 42h1M33 42h6M46 42h5M35 43h5M47 43h4M36 44h5M48 44h4M37 45h5M49 45h4M38 46h5M50 46h4M40 47h4M51 47h4M41 48h4M52 48h4M42 49h4M53 49h5M43 50h4M54 50h5M44 51h4M55 51h5M41 52h8M56 52h6M40 53h10M57 53h6M39 54h12M58 54h5M21 55h1M39 55h13M59 55h5M21 56h1M39 56h14M60 56h4M21 57h1M39 57h10M50 57h4M61 57h4M41 58h7M52 58h3M62 58h3M53 59h3M63 59h3M54 60h3M64 60h2M55 61h3M65 61h2M56 62h3M66 62h2M57 63h3M67 63h2M58 64h3M68 64h2M60 65h2M69 65h2M61 66h2M70 66h1M62 67h2M71 67h1M62 68h3M72 68h2M63 69h3M73 69h2M58 70h9M74 70h2M56 71h12M75 71h4M55 72h14M76 72h5M43 73h1M55 73h15M77 73h7M42 74h2M55 74h16M78 74h8M56 75h8M66 75h6M79 75h7M58 76h4M66 76h7M80 76h6M67 77h7M81 77h6M67 78h8M82 78h5M67 79h9M83 79h5M68 80h9M84 80h4M59 81h1M70 81h8M85 81h3M58 82h2M71 82h8M86 82h2M74 83h6M87 83h2M77 84h4M88 84h2M79 85h3M89 85h2M81 86h2M90 86h2M83 87h1M91 87h2M84 88h1M92 88h2M85 89h1M93 89h2M85 90h2M94 90h1M57 91h3M72 91h8M81 91h4M86 91h2M95 91h1M42 92h2M56 92h5M71 92h15M87 92h2M96 92h1M15 93h2M42 93h2M56 93h5M72 93h13M88 93h2M97 93h1M57 94h4M74 94h3M89 94h2M98 94h2M90 95h2M99 95h2M90 96h3M100 96h2M91 97h3M101 97h2M92 98h3M102 98h2M93 99h3M103 99h2M94 100h3M104 100h2M96 101h2M105 101h2M97 102h2M106 102h2M98 103h2M107 103h2M100 104h1M108 104h2M101 105h1M109 105h2M102 106h1M110 106h2M103 107h1M111 107h2M104 108h1M112 108h2M105 109h1M113 109h2M105 110h2M114 110h2M106 111h2M115 111h2M107 112h2M116 112h2M9 113h9M108 113h2M117 113h2M8 114h11M109 114h2M118 114h3M8 115h11M110 115h2M119 115h4M12 116h6M111 116h2M120 116h4M14 117h3M112 117h2M121 117h5M112 118h3M122 118h5M113 119h3M123 119h6M114 120h3M124 120h5M115 121h3M125 121h4M116 122h3M126 122h3M117 123h3M127 123h2M117 124h4M128 124h1M118 125h4M119 126h4M120 127h4M121 128h4"/>
<path transform="translate(0,.5)" stroke="rgb(184,32,31)" d="M4 0h6M5 1h6M6 2h6M7 3h6M0 4h1M8 4h6M0 5h2M9 5h6M0 6h3M10 6h6M0 7h4M11 7h5M0 8h5M12 8h5M0 9h6M13 9h5M0 10h7M14 10h5M2 11h6M15 11h5M3 12h6M16 12h4M114 12h2M4 13h6M17 13h4M114 13h3M5 14h6M18 14h4M92 14h3M113 14h5M6 15h6M19 15h4M92 15h3M113 15h5M7 16h6M20 16h4M92 16h3M114 16h3M9 17h5M21 17h3M93 17h1M10 18h5M22 18h3M11 19h5M23 19h3M12 20h5M24 20h3M13 21h5M25 21h3M14 22h5M26 22h3M15 23h5M27 23h3M16 24h5M28 24h3M17 25h5M29 25h3M18 26h5M30 26h3M20 27h4M31 27h2M21 28h4M32 28h2M22 29h4M33 29h2M23 30h4M34 30h3M24 31h4M35 31h3M25 32h4M36 32h3M26 33h4M37 33h3M27 34h4M38 34h3M21 35h1M28 35h4M39 35h3M20 36h2M28 36h5M40 36h3M19 37h6M29 37h5M41 37h3M18 38h8M28 38h7M42 38h4M19 39h6M28 39h8M43 39h5M20 40h5M32 40h5M44 40h5M20 41h2M33 41h5M45 41h4M21 42h1M34 42h5M46 42h4M35 43h5M47 43h4M36 44h5M48 44h4M37 45h5M49 45h4M38 46h5M50 46h4M40 47h4M51 47h4M41 48h4M52 48h4M42 49h4M53 49h5M43 50h4M54 50h5M44 51h4M55 51h5M42 52h7M56 52h5M41 53h9M57 53h6M40 54h11M58 54h5M39 55h13M59 55h5M21 56h1M39 56h14M60 56h4M21 57h1M39 57h10M50 57h4M61 57h4M41 58h3M45 58h3M52 58h3M62 58h3M53 59h3M63 59h3M54 60h3M64 60h2M55 61h3M65 61h2M56 62h3M66 62h2M57 63h3M67 63h2M59 64h2M68 64h2M60 65h2M69 65h2M61 66h2M70 66h1M62 67h2M71 67h1M63 68h2M72 68h2M63 69h3M73 69h2M59 70h8M74 70h2M57 71h11M75 71h4M55 72h14M76 72h5M55 73h15M77 73h6M42 74h2M55 74h16M78 74h8M57 75h7M66 75h6M79 75h7M58 76h4M67 76h6M80 76h6M67 77h7M81 77h6M67 78h8M82 78h5M68 79h8M83 79h5M69 80h8M84 80h4M59 81h1M70 81h8M85 81h3M59 82h1M72 82h7M86 82h2M75 83h5M87 83h2M77 84h4M88 84h2M79 85h3M89 85h2M81 86h2M90 86h2M83 87h1M91 87h2M84 88h1M92 88h2M85 89h1M93 89h2M85 90h2M94 90h1M57 91h3M72 91h7M81 91h4M86 91h2M95 91h1M42 92h2M56 92h5M72 92h14M87 92h2M96 92h1M15 93h2M42 93h2M56 93h5M72 93h8M81 93h4M88 93h2M97 93h1M57 94h4M74 94h3M89 94h2M98 94h1M90 95h2M99 95h2M91 96h2M100 96h2M91 97h3M101 97h2M92 98h3M102 98h2M93 99h3M103 99h2M95 100h2M104 100h2M96 101h2M105 101h2M97 102h2M106 102h2M98 103h2M107 103h2M100 104h1M108 104h2M101 105h1M109 105h2M102 106h1M110 106h2M103 107h1M111 107h2M104 108h1M112 108h2M105 109h1M113 109h2M105 110h2M114 110h2M106 111h2M115 111h2M107 112h2M116 112h2M9 113h9M108 113h2M117 113h2M8 114h11M109 114h2M118 114h3M9 115h10M110 115h2M119 115h4M12 116h6M111 116h2M120 116h4M14 117h3M112 117h2M121 117h5M112 118h3M122 118h5M113 119h3M123 119h6M114 120h3M124 120h5M115 121h3M125 121h4M116 122h3M126 122h3M117 123h3M127 123h2M118 124h3M128 124h1M118 125h4M119 126h4M120 127h4M121 128h4"/>
<path transform="translate(0,.5)" stroke="rgb(153,27,30)" d="M4 0h6M5 1h6M6 2h6M7 3h6M0 4h1M8 4h6M0 5h2M9 5h6M0 6h3M10 6h5M0 7h4M11 7h5M0 8h5M12 8h5M0 9h6M13 9h5M1 10h6M14 10h5M2 11h6M15 11h4M3 12h6M16 12h4M115 12h1M4 13h6M17 13h4M114 13h3M5 14h6M18 14h4M92 14h3M113 14h5M6 15h6M19 15h4M92 15h3M113 15h5M8 16h5M20 16h3M92 16h3M114 16h3M9 17h5M21 17h3M93 17h1M10 18h5M22 18h3M11 19h5M23 19h3M12 20h5M24 20h3M13 21h5M25 21h3M14 22h5M26 22h3M15 23h5M27 23h3M16 24h5M28 24h3M18 25h4M29 25h3M19 26h4M30 26h2M20 27h4M31 27h2M21 28h4M32 28h2M22 29h4M33 29h2M23 30h4M34 30h2M24 31h4M35 31h3M25 32h4M36 32h3M26 33h4M37 33h3M27 34h4M38 34h3M21 35h1M28 35h4M39 35h3M20 36h2M29 36h4M40 36h3M19 37h6M29 37h5M41 37h3M18 38h7M28 38h7M42 38h4M19 39h6M29 39h7M43 39h4M20 40h5M32 40h5M44 40h4M20 41h2M33 41h5M45 41h4M21 42h1M34 42h5M46 42h4M35 43h5M47 43h4M36 44h5M48 44h4M38 45h4M49 45h4M39 46h4M50 46h4M40 47h4M51 47h4M41 48h4M52 48h4M42 49h4M53 49h4M43 50h4M54 50h5M44 51h4M55 51h5M42 52h7M56 52h5M41 53h9M57 53h5M40 54h11M58 54h5M40 55h12M59 55h5M21 56h1M40 56h13M60 56h4M40 57h9M51 57h3M61 57h4M42 58h1M46 58h1M52 58h3M62 58h3M53 59h3M63 59h3M54 60h3M64 60h2M55 61h3M65 61h2M56 62h3M66 62h2M57 63h3M67 63h2M59 64h2M68 64h2M60 65h2M69 65h1M61 66h2M70 66h1M62 67h2M71 67h1M63 68h2M72 68h2M63 69h3M73 69h2M59 70h3M64 70h3M74 70h2M57 71h11M75 71h4M55 72h14M76 72h5M55 73h15M77 73h6M43 74h1M56 74h9M66 74h5M78 74h7M57 75h7M66 75h6M79 75h7M58 76h3M67 76h6M80 76h6M67 77h7M81 77h6M67 78h8M82 78h5M68 79h8M83 79h4M69 80h8M84 80h4M59 81h1M70 81h8M85 81h3M59 82h1M72 82h7M86 82h2M75 83h5M87 83h2M77 84h4M88 84h2M79 85h3M89 85h2M81 86h2M90 86h2M83 87h1M91 87h2M84 88h1M92 88h2M85 89h1M93 89h2M85 90h2M94 90h1M58 91h2M72 91h7M81 91h4M86 91h2M95 91h1M43 92h1M57 92h4M72 92h14M87 92h2M96 92h1M15 93h2M42 93h2M57 93h4M72 93h8M82 93h3M88 93h2M97 93h1M57 94h3M89 94h2M98 94h1M90 95h2M99 95h1M91 96h2M100 96h1M92 97h2M101 97h1M92 98h3M102 98h1M93 99h3M103 99h1M95 100h2M104 100h1M96 101h2M105 101h1M97 102h2M106 102h1M99 103h1M107 103h1M100 104h1M108 104h1M101 105h1M109 105h1M102 106h1M110 106h1M103 107h1M111 107h2M104 108h1M112 108h2M105 109h1M113 109h2M106 110h1M114 110h2M106 111h2M115 111h2M107 112h2M116 112h2M10 113h8M108 113h2M117 113h2M8 114h11M109 114h2M118 114h3M9 115h10M110 115h2M119 115h3M13 116h5M111 116h2M120 116h4M14 117h2M112 117h2M121 117h5M113 118h2M122 118h5M113 119h3M123 119h5M114 120h3M124 120h5M115 121h3M125 121h4M116 122h3M126 122h3M117 123h3M127 123h2M118 124h3M128 124h1M119 125h3M119 126h4M120 127h4M121 128h4"/>
<path transform="translate(0,.5)" stroke="rgb(132,25,29)" d="M4 0h5M5 1h5M6 2h5M7 3h5M0 4h1M8 4h5M0 5h2M9 5h5M0 6h3M10 6h5M0 7h4M11 7h5M0 8h5M12 8h5M0 9h6M13 9h5M1 10h6M14 10h5M2 11h6M15 11h4M3 12h6M16 12h4M115 12h1M4 13h6M17 13h4M114 13h3M5 14h6M18 14h4M92 14h3M113 14h5M7 15h5M19 15h4M92 15h3M114 15h4M8 16h5M20 16h3M92 16h3M114 16h3M9 17h5M21 17h3M93 17h1M10 18h5M22 18h3M11 19h5M23 19h3M12 20h5M24 20h3M13 21h5M25 21h3M14 22h5M26 22h3M16 23h4M27 23h3M17 24h4M28 24h3M18 25h4M29 25h2M19 26h4M30 26h2M20 27h4M31 27h2M21 28h4M32 28h2M22 29h4M33 29h2M23 30h4M34 30h2M24 31h4M35 31h2M25 32h4M36 32h3M26 33h4M37 33h3M27 34h4M38 34h3M28 35h4M39 35h3M20 36h2M29 36h4M40 36h3M20 37h5M30 37h4M41 37h3M19 38h6M29 38h6M42 38h4M20 39h5M30 39h6M43 39h4M20 40h4M32 40h5M44 40h4M21 41h1M33 41h5M45 41h4M34 42h5M46 42h4M35 43h5M47 43h4M37 44h4M48 44h4M38 45h4M49 45h4M39 46h4M50 46h4M40 47h4M51 47h4M41 48h4M52 48h4M42 49h4M53 49h4M43 50h4M54 50h5M44 51h4M55 51h5M43 52h6M56 52h5M41 53h9M57 53h5M41 54h10M58 54h5M40 55h12M59 55h5M40 56h9M50 56h3M60 56h4M40 57h9M51 57h3M61 57h4M52 58h3M62 58h3M53 59h3M63 59h3M54 60h3M64 60h2M55 61h3M65 61h2M56 62h3M66 62h2M58 63h2M67 63h2M59 64h2M68 64h2M60 65h2M69 65h1M61 66h2M70 66h1M62 67h2M71 67h1M63 68h2M72 68h1M63 69h3M73 69h2M59 70h3M64 70h3M74 70h2M57 71h11M75 71h3M55 72h14M76 72h5M55 73h15M77 73h6M56 74h9M66 74h5M78 74h7M57 75h7M66 75h6M79 75h7M58 76h3M67 76h6M80 76h6M67 77h7M81 77h6M68 78h7M82 78h5M68 79h8M83 79h4M69 80h8M84 80h4M59 81h1M70 81h8M85 81h3M59 82h1M73 82h6M86 82h2M75 83h5M87 83h2M77 84h4M88 84h2M79 85h3M89 85h2M81 86h2M90 86h2M83 87h1M91 87h2M84 88h1M92 88h2M85 89h1M93 89h2M86 90h1M94 90h1M58 91h2M73 91h6M82 91h3M86 91h2M95 91h1M57 92h4M72 92h13M87 92h2M96 92h1M15 93h2M42 93h2M57 93h4M72 93h7M82 93h3M88 93h2M97 93h1M57 94h3M89 94h2M98 94h1M90 95h2M99 95h1M91 96h2M100 96h1M92 97h2M101 97h1M93 98h2M102 98h1M94 99h2M103 99h1M95 100h2M104 100h1M96 101h2M105 101h1M97 102h2M106 102h1M99 103h1M107 103h1M100 104h1M108 104h1M101 105h1M109 105h1M102 106h1M110 106h1M103 107h1M111 107h1M104 108h1M112 108h2M105 109h1M113 109h2M106 110h1M114 110h2M106 111h2M115 111h2M107 112h2M116 112h2M10 113h7M108 113h2M117 113h2M9 114h9M109 114h2M118 114h3M9 115h10M110 115h2M119 115h3M13 116h5M111 116h2M120 116h4M14 117h2M112 117h2M121 117h4M113 118h2M122 118h5M114 119h2M123 119h5M114 120h3M124 120h5M115 121h3M125 121h4M116 122h3M126 122h3M117 123h3M127 123h2M118 124h3M128 124h1M119 125h3M120 126h3M120 127h4M121 128h4"/>
<path transform="translate(0,.5)" stroke="rgb(122,24,28)" d="M4 0h5M5 1h5M6 2h5M7 3h5M0 4h1M8 4h5M0 5h2M9 5h5M0 6h3M10 6h5M0 7h4M11 7h5M0 8h5M12 8h5M0 9h6M13 9h5M1 10h6M14 10h4M2 11h6M15 11h4M3 12h6M16 12h4M115 12h1M4 13h6M17 13h4M114 13h3M6 14h5M18 14h4M93 14h1M113 14h5M7 15h5M19 15h3M92 15h3M114 15h3M8 16h5M20 16h3M92 16h3M114 16h3M9 17h5M21 17h3M93 17h1M10 18h5M22 18h3M11 19h5M23 19h3M12 20h5M24 20h3M14 21h4M25 21h3M15 22h4M26 22h3M16 23h4M27 23h3M17 24h4M28 24h2M18 25h4M29 25h2M19 26h4M30 26h2M20 27h4M31 27h2M21 28h4M32 28h2M22 29h4M33 29h2M23 30h4M34 30h2M24 31h4M35 31h2M25 32h4M36 32h2M26 33h4M37 33h3M27 34h4M38 34h3M28 35h4M39 35h3M20 36h2M29 36h4M40 36h3M20 37h4M30 37h4M41 37h3M19 38h6M31 38h4M42 38h3M20 39h5M31 39h5M43 39h4M20 40h2M32 40h5M44 40h4M21 41h1M33 41h5M45 41h4M34 42h5M46 42h4M36 43h4M47 43h4M37 44h4M48 44h4M38 45h4M49 45h4M39 46h4M50 46h4M40 47h4M51 47h4M41 48h4M52 48h4M42 49h4M53 49h4M43 50h4M54 50h4M44 51h4M55 51h5M44 52h5M56 52h5M41 53h9M57 53h5M41 54h10M58 54h5M40 55h12M59 55h4M40 56h9M50 56h3M60 56h4M41 57h7M51 57h3M61 57h4M52 58h3M62 58h3M53 59h3M63 59h3M54 60h3M64 60h2M55 61h3M65 61h2M57 62h2M66 62h2M58 63h2M67 63h2M59 64h2M68 64h2M60 65h2M69 65h1M61 66h2M70 66h1M62 67h2M71 67h1M63 68h2M72 68h1M63 69h3M73 69h2M59 70h1M64 70h3M74 70h2M57 71h7M65 71h3M75 71h3M56 72h13M76 72h4M55 73h15M77 73h6M56 74h9M66 74h5M78 74h7M57 75h6M67 75h5M79 75h7M59 76h2M67 76h6M80 76h6M67 77h7M81 77h5M68 78h7M82 78h5M68 79h8M83 79h4M70 80h7M84 80h4M59 81h1M71 81h7M85 81h3M59 82h1M73 82h6M86 82h2M76 83h4M87 83h2M77 84h4M88 84h2M79 85h3M89 85h2M81 86h2M90 86h2M83 87h1M91 87h2M84 88h1M92 88h2M85 89h1M93 89h1M86 90h1M94 90h1M58 91h2M73 91h6M82 91h3M86 91h2M95 91h1M57 92h4M72 92h13M87 92h2M96 92h1M15 93h2M42 93h2M57 93h4M72 93h7M82 93h3M88 93h2M97 93h1M58 94h2M89 94h2M98 94h1M90 95h2M99 95h1M91 96h2M100 96h1M92 97h2M101 97h1M93 98h2M102 98h1M94 99h2M103 99h1M95 100h2M104 100h1M96 101h2M105 101h1M97 102h2M106 102h1M99 103h1M107 103h1M100 104h1M108 104h1M101 105h1M109 105h1M102 106h1M110 106h1M103 107h1M111 107h1M104 108h1M112 108h2M105 109h1M113 109h2M106 110h1M114 110h2M107 111h1M115 111h2M107 112h2M116 112h2M12 113h5M108 113h2M117 113h2M9 114h9M109 114h2M118 114h3M9 115h10M110 115h2M119 115h3M13 116h5M111 116h2M120 116h4M112 117h2M121 117h4M113 118h2M122 118h5M114 119h2M123 119h5M114 120h3M124 120h5M115 121h3M125 121h4M116 122h3M126 122h3M117 123h3M127 123h2M118 124h3M128 124h1M119 125h3M120 126h3M120 127h4M121 128h4"/>
</g></g>
<polygon points="84,124 108,124 830,846 830,870 809,870 84,145" fill="#fff"/>
<text x="459" y="165" font-size="28.8" text-anchor="middle" fill="#fff">Thp1-macro</text>
<text x="457" y="203.5" font-size="28.8" text-anchor="middle" fill="#fff">(DoD=2.91)</text>
<text x="432" y="820" font-size="28.8" text-anchor="middle" fill="#fff">Thp1-<tspan class="i">M.tb</tspan></text>
<text x="437" y="858" font-size="28.8" text-anchor="middle" fill="#fff">(DoD=2.24)</text>
<rect x="882" y="131.5" width="37.5" height="732" fill="url(#cbg)" stroke="#2a2a33" stroke-width="1.6"/>
<text x="935" y="155.6" font-size="28">13.5</text>
<text x="935" y="231" font-size="28">12.0</text>
<text x="935" y="313.5" font-size="28">10.5</text>
<text x="935" y="394.4" font-size="28">9.0</text>
<text x="935" y="475" font-size="28">7.5</text>
<text x="935" y="553.2" font-size="28">6.0</text>
<text x="935" y="629.8" font-size="28">4.5</text>
<text x="935" y="707.1" font-size="28">3.0</text>
<text x="935" y="786.5" font-size="28">1.5</text>
<text x="935" y="861.9" font-size="28">0.0</text>
<path d="M911.5 159.5h8M911.5 236.1h8M911.5 316.3h8M911.5 393.7h8M911.5 473h8M911.5 550.4h8M911.5 629h8M911.5 707.1h8M911.5 786.5h8M911.5 863.5h8" stroke="#2a2a33" stroke-width="1.4" fill="none"/>
<g fill="none" stroke="#e47a65" stroke-width="7.1" stroke-dasharray="7.1 9.45"><rect x="300.2" y="340.4" width="310" height="309.8"/><path d="M1170.4 68.7L610.2 340.4" stroke-dasharray="7.1 9.54"/><path d="M1164.4 824.9L610.2 650.2" stroke-dasharray="7.1 9.55"/></g>
<path d="M80 900.6h6.4v101.8h-6.4M80 1003.7h6.4v102.3h-6.4M80 1106.9h6.4v102.3h-6.4M80 1211h6.4v102.3h-6.4M80 1314.1h6.4v102.3h-6.4M80 1418.3h6.4v102.3h-6.4" fill="none" stroke="#2e2222" stroke-width="1.6"/>
<text x="76" y="924.6" font-size="28.5" text-anchor="end">400</text>
<text x="76" y="1000.6" font-size="28.5" text-anchor="end">0</text>
<text x="76" y="1027" font-size="28.5" text-anchor="end">400</text>
<text x="76" y="1104" font-size="28.5" text-anchor="end">0</text>
<text x="76" y="1130.7" font-size="28.5" text-anchor="end">30</text>
<text x="76" y="1208.4" font-size="28.5" text-anchor="end">0</text>
<text x="76" y="1234.5" font-size="28.5" text-anchor="end">30</text>
<text x="76" y="1312" font-size="28.5" text-anchor="end">0</text>
<text x="76" y="1338.5" font-size="28.5" text-anchor="end">16</text>
<text x="76" y="1415.5" font-size="28.5" text-anchor="end">0</text>
<text x="76" y="1442.5" font-size="28.5" text-anchor="end">16</text>
<text x="76" y="1519.5" font-size="28.5" text-anchor="end">0</text>
<path d="M112.0 1001.6v-1.7h1.8v1.7zM113.8 1001.6v-1.4h0.8v1.4zM114.7 1001.6v-1.2h1.2v1.2zM116.5 1001.6v-2.0h1.3v2.0zM126.5 1001.6v-9h1v9zM135 1001.6v-7h0.8v7zM142 1001.6v-6h0.8v6zM147 1001.6v-10h0.8v10zM152 1001.6v-4h1v4zM157 1001.6v-6h1v6zM160.5 1001.6v-11h0.8v11zM164.5 1001.6v-12h1v12zM177.0 1001.6v-1.2h2.0v1.2zM179.0 1001.6v-2.3h1.3v2.3zM180.9 1001.6v-1.1h0.9v1.1zM182.6 1001.6v-2.9h1.1v2.9zM191 1001.6v-7h1v7zM207.0 1001.6v-3.6h2.0v3.6zM209.1 1001.6v-1.1h0.9v1.1zM210.9 1001.6v-1.3h1.3v1.3zM213.1 1001.6v-2.6h1.7v2.6zM215.1 1001.6v-3.1h1.9v3.1zM217.1 1001.6v-3.3h2.2v3.3zM223 1001.6v-3h1v3zM240.0 1001.6v-0.5h1.9v0.5zM242.2 1001.6v-0.6h2.1v0.6zM245.1 1001.6v-0.5h0.8v0.5zM246.0 1001.6v-0.8h0.9v0.8zM247.7 1001.6v-0.6h0.7v0.6zM250.1 1001.6v-0.4h1.5v0.4zM253.8 1001.6v-0.3h1.3v0.3zM257.1 1001.6v-0.6h0.7v0.6zM259.4 1001.6v-0.7h1.4v0.7zM320.0 1001.6v-4.1h2.0v4.1zM322.2 1001.6v-2.1h1.9v2.1zM324.5 1001.6v-2.2h2.1v2.2zM326.9 1001.6v-4.9h1.8v4.9zM329.5 1001.6v-4.3h1.8v4.3zM331.7 1001.6v-2.7h2.0v2.7zM334.2 1001.6v-5.8h1.7v5.8zM336.4 1001.6v-2.0h2.1v2.0zM339.0 1001.6v-4.1h1.3v4.1zM340.5 1001.6v-5.6h1.5v5.6zM402.0 1001.6v-2.1h1.1v2.1zM403.8 1001.6v-2.7h1.2v2.7zM406.0 1001.6v-2.2h0.6v2.2zM407.8 1001.6v-2.3h2.2v2.3zM410.2 1001.6v-1.1h2.1v1.1zM413.1 1001.6v-0.9h1.8v0.9zM415.8 1001.6v-2.8h1.7v2.8zM417.7 1001.6v-0.8h0.6v0.8zM418.4 1001.6v-1.3h2.0v1.3zM421.0 1001.6v-2.0h1.9v2.0zM488.0 1001.6v-0.5h1.5v0.5zM492.4 1001.6v-0.7h0.6v0.7zM495.5 1001.6v-0.4h1.9v0.4zM498.5 1001.6v-0.9h1.8v0.9zM502.0 1001.6v-0.4h0.7v0.4zM503.1 1001.6v-0.3h0.8v0.3zM504.5 1001.6v-0.8h1.5v0.8z" fill="#a31f2a"/>
<path d="M127.5 1105.2v-9h1.3v9zM135.0 1105.2v-3.5h0.6v3.5zM135.9 1105.2v-3.5h1.3v3.5zM137.4 1105.2v-2.4h1.6v2.4zM142 1105.2v-3h1v3zM147.0 1105.2v-3.6h1.6v3.6zM148.8 1105.2v-2.8h1.4v2.8zM157.0 1105.2v-6.7h2.0v6.7zM159.2 1105.2v-7.1h0.7v7.1zM160.1 1105.2v-2.4h1.3v2.4zM164.5 1105.2v-9h1v9zM177.0 1105.2v-1.0h1.6v1.0zM178.7 1105.2v-1.0h1.0v1.0zM179.9 1105.2v-1.8h0.9v1.8zM181.2 1105.2v-1.8h1.4v1.8zM182.8 1105.2v-2.5h1.5v2.5zM191 1105.2v-5h1v5zM207.0 1105.2v-21.7h2.1v21.7zM209.2 1105.2v-25.7h1.1v25.7zM210.5 1105.2v-16.0h1.3v16.0zM212.0 1105.2v-18.2h2.1v18.2zM214.2 1105.2v-8.7h1.2v8.7zM215.5 1105.2v-15.5h0.6v15.5zM216.2 1105.2v-8.4h2.2v8.4zM222.0 1105.2v-13.6h1.6v13.6zM223.7 1105.2v-6.0h1.1v6.0zM224.9 1105.2v-8.3h0.7v8.3zM258.0 1105.2v-16.3h1.4v16.3zM259.5 1105.2v-12.5h1.2v12.5zM260.8 1105.2v-22.5h1.2v22.5zM262.0 1105.2v-23.7h1.0v23.7zM263.1 1105.2v-7.5h1.7v7.5zM264.8 1105.2v-17.4h1.3v17.4zM266.2 1105.2v-18.6h2.2v18.6zM268.3 1105.2v-13.6h0.7v13.6zM270.5 1105.2v-22h0.8v22zM316.0 1105.2v-5.9h0.9v5.9zM317.1 1105.2v-5.9h1.7v5.9zM318.8 1105.2v-7.3h1.8v7.3zM320.7 1105.2v-7.2h1.8v7.2zM321.0 1105.2v-44.7h1.0v44.7zM322.0 1105.2v-47.2h1.2v47.2zM323.1 1105.2v-63.6h1.3v63.6zM324.4 1105.2v-48.0h1.9v48.0zM327.0 1105.2v-23.7h1.5v23.7zM328.5 1105.2v-41.0h1.7v41.0zM330.5 1105.2v-10.9h0.8v10.9zM331.3 1105.2v-7.2h1.6v7.2zM334.0 1105.2v-8.2h0.8v8.2zM334.8 1105.2v-8.6h1.1v8.6zM335.9 1105.2v-13.9h2.0v13.9zM340.5 1105.2v-26h1v26zM348.5 1105.2v-7h1v7zM372 1105.2v-2h1v2zM392 1105.2v-4h1v4zM402.0 1105.2v-17.2h1.0v17.2zM403.0 1105.2v-22.3h2.0v22.3zM405.0 1105.2v-48.4h1.6v48.4zM406.6 1105.2v-16.4h1.0v16.4zM407.6 1105.2v-18.9h0.6v18.9zM408.2 1105.2v-41.5h0.7v41.5zM408.9 1105.2v-17.0h1.2v17.0zM409.0 1105.2v-24.7h2.0v24.7zM411.3 1105.2v-100h1.3v100zM413.0 1105.2v-24.3h1.1v24.3zM414.1 1105.2v-32.8h1.3v32.8zM415.4 1105.2v-19.3h1.3v19.3zM416.7 1105.2v-21.9h0.7v21.9zM417.8 1105.2v-77h1.2v77zM419.5 1105.2v-15.3h1.7v15.3zM421.3 1105.2v-21.7h1.4v21.7zM422.8 1105.2v-13.0h1.4v13.0zM431 1105.2v-2h1.5v2zM656.6 1105.2v-2.5h1v2.5zM659 1105.2v-4h1v4zM668.0 1105.2v-8.0h1.3v8.0zM669.3 1105.2v-5.3h1.7v5.3zM671.1 1105.2v-2.4h2.1v2.4zM673.2 1105.2v-6.7h1.1v6.7zM674.3 1105.2v-4.9h2.1v4.9zM676.4 1105.2v-8.4h1.7v8.4z" fill="#a31f2a"/>
<path d="M486 1105.2L486 1104.0L486.7 1103.7L487.4 1103.3L488.1 1102.9L488.8 1102.2L489.5 1101.5L490.2 1100.5L490.9 1099.2L491.6 1097.7L492.3 1095.7L493 1093.2L493.7 1095.7L494.4 1093.6L495.1 1089.2L495.8 1083.2L496.5 1089.2L497.2 1093.6L497.9 1095.2L498.6 1089.2L499.3 1095.2L500 1096.7L500.7 1093.2L501.4 1096.7L502.1 1099.2L502.8 1100.2L503.5 1097.2L504.2 1100.2L504.9 1102.1L505.6 1103.2L506.3 1104.0L507 1104.4L507.7 1104.7L508.4 1104.9L509 1105.2Z" fill="#a31f2a"/>
<path d="M93 1208.4L93 1205.9L93.8 1206.0L94.6 1205.6L95.4 1204.7L96.2 1206.0L97 1206.8L97.8 1206.5L98.6 1206.6L99.4 1206.3L100.2 1205.8L101 1205.8L101.8 1206.2L102.6 1206.2L103.4 1205.9L104.2 1205.4L105 1205.4L105.8 1205.4L106.6 1205.6L107.4 1206.3L108.2 1206.2L109 1205.9L109.8 1206.2L110.6 1205.8L111.4 1205.3L112.2 1206.0L113 1206.6L113.8 1206.3L114.6 1206.3L115.4 1206.6L116.2 1206.6L117 1206.6L117.8 1206.7L118.6 1206.7L119.4 1206.8L120.2 1207.0L121 1205.5L121.8 1200.4L122.6 1205.2L123.4 1204.7L124.2 1205.4L125 1206.0L125.8 1206.0L126.6 1206.5L127.4 1206.7L128.2 1205.8L129 1205.8L129.8 1206.6L130.6 1206.3L131.4 1205.2L132.2 1205.2L133 1205.9L133.8 1205.9L134.6 1205.8L135.4 1206.2L136.2 1206.6L137 1206.5L137.8 1205.8L138.6 1205.9L139.4 1205.5L140.2 1201.4L141 1191.4L141.8 1201.4L142.6 1203.7L143.4 1203.5L144.2 1204.1L145 1205.4L145.8 1205.8L146.6 1205.2L147.4 1205.5L148.2 1206.2L149 1206.4L149.8 1206.4L150.6 1206.4L151.4 1206.1L152.2 1205.5L153 1205.5L153.8 1206.0L154.6 1206.1L155.4 1205.5L156.2 1205.0L157 1205.0L157.8 1205.0L158.6 1204.9L159.4 1204.8L160.2 1205.2L161 1206.0L161.8 1206.2L162.6 1206.0L163.4 1206.1L164.2 1206.6L165 1206.7L165.8 1206.3L166.6 1205.1L167.4 1204.7L168.2 1206.1L169 1206.6L169.8 1205.8L170.6 1205.3L171.4 1205.6L172.2 1206.0L173 1206.3L173.8 1206.1L174.6 1205.5L175.4 1205.6L176.2 1206.3L177 1206.9L177.8 1206.4L178.6 1204.7L179.4 1204.5L180.2 1205.4L181 1204.7L181.8 1203.8L182.6 1204.2L183.4 1205.5L184.2 1206.4L185 1206.4L185.8 1206.5L186.6 1206.7L187.4 1206.6L188.2 1206.2L189 1204.6L189.8 1200.1L190.6 1189.8L191.4 1167.1L192.2 1116.4L193 1167.1L193.8 1189.8L194.6 1200.1L195.4 1203.9L196.2 1198.4L197 1203.9L197.8 1204.4L198.6 1204.8L199.4 1200.4L200.2 1204.8L201 1205.4L201.8 1205.8L202.6 1206.7L203.4 1206.8L204.2 1205.8L205 1204.4L205.8 1205.1L206.6 1206.5L207.4 1206.4L208.2 1205.8L209 1205.9L209.8 1206.4L210.6 1206.6L211.4 1206.5L212.2 1206.2L213 1205.9L213.8 1206.0L214.6 1206.1L215.4 1205.8L216.2 1205.5L217 1205.8L217.8 1206.3L218.6 1206.2L219.4 1205.6L220.2 1205.8L221 1206.6L221.8 1206.8L222.6 1206.7L223.4 1205.5L224.2 1201.4L225 1191.4L225.8 1201.4L226.6 1205.2L227.4 1206.1L228.2 1206.3L229 1206.1L229.8 1206.1L230.6 1206.3L231.4 1206.4L232.2 1206.2L233 1206.3L233.8 1206.6L234.6 1206.5L235.4 1206.1L236.2 1206.0L237 1205.3L237.8 1205.3L238.6 1206.4L239.4 1207.0L240.2 1206.4L241 1205.2L241.8 1205.4L242.6 1206.0L243.4 1205.5L244.2 1205.3L245 1206.1L245.8 1206.2L246.6 1205.0L247.4 1204.9L248.2 1206.2L249 1206.9L249.8 1206.2L250.6 1205.7L251.4 1206.3L252.2 1206.2L253 1205.0L253.8 1203.8L254.6 1203.9L255.4 1205.2L256.2 1205.5L257 1205.1L257.8 1205.3L258.6 1205.1L259.4 1205.0L260.2 1205.6L261 1206.1L261.8 1205.4L262.6 1205.4L263.4 1205.7L264.2 1205.5L265 1206.2L265.8 1206.8L266.6 1205.5L267.4 1202.5L268.2 1201.7L269 1204.0L269.8 1205.0L270.6 1205.6L271.4 1206.5L272.2 1206.1L273 1204.7L273.8 1204.4L274.6 1205.6L275.4 1206.4L276.2 1206.4L277 1206.1L277.8 1205.7L278.6 1206.0L279.4 1206.1L280.2 1205.9L281 1206.2L281.8 1206.5L282.6 1206.2L283.4 1206.0L284.2 1206.1L285 1205.5L285.8 1205.6L286.6 1206.6L287.4 1206.7L288.2 1206.0L289 1205.8L289.8 1205.6L290.6 1205.4L291.4 1205.9L292.2 1206.7L293 1206.9L293.8 1206.7L294.6 1206.3L295.4 1205.2L296.2 1204.9L297 1205.8L297.8 1206.6L298.6 1206.7L299.4 1206.2L300.2 1205.5L301 1205.4L301.8 1205.1L302.6 1205.0L303.4 1206.0L304.2 1206.9L305 1206.7L305.8 1206.3L306.6 1206.5L307.4 1206.2L308.2 1205.5L309 1205.5L309.8 1206.0L310.6 1205.7L311.4 1205.1L312.2 1205.4L313 1206.0L313.8 1206.0L314.6 1206.2L315.4 1205.9L316.2 1205.5L317 1206.0L317.8 1206.3L318.6 1206.3L319.4 1206.5L320.2 1206.6L321 1206.6L321.8 1206.7L322.6 1207.0L323.4 1206.4L324.2 1205.5L325 1205.6L325.8 1205.4L326.6 1205.4L327.4 1206.2L328.2 1206.5L329 1205.4L329.8 1203.9L330.6 1204.2L331.4 1205.1L332.2 1205.9L333 1206.7L333.8 1207.1L334.6 1206.9L335.4 1206.3L336.2 1205.5L337 1205.5L337.8 1206.0L338.6 1205.6L339.4 1202.1L340.2 1194.5L341 1177.4L341.8 1194.5L342.6 1202.1L343.4 1205.2L344.2 1205.4L345 1205.6L345.8 1205.8L346.6 1206.5L347.4 1206.2L348.2 1205.1L349 1204.4L349.8 1204.9L350.6 1205.9L351.4 1206.1L352.2 1206.3L353 1206.5L353.8 1206.3L354.6 1206.3L355.4 1205.3L356.2 1202.4L357 1201.3L357.8 1203.7L358.6 1205.8L359.4 1206.0L360.2 1205.5L361 1205.3L361.8 1205.8L362.6 1205.9L363.4 1205.7L364.2 1205.1L365 1205.2L365.8 1205.6L366.6 1205.7L367.4 1205.6L368.2 1205.0L369 1204.8L369.8 1205.7L370.6 1206.2L371.4 1205.6L372.2 1205.1L373 1205.6L373.8 1206.2L374.6 1206.0L375.4 1205.9L376.2 1205.9L377 1205.7L377.8 1205.2L378.6 1205.2L379.4 1206.0L380.2 1206.1L381 1205.8L381.8 1205.5L382.6 1204.7L383.4 1204.0L384.2 1204.7L385 1206.5L385.8 1207.2L386.6 1206.6L387.4 1206.2L388.2 1206.0L389 1205.4L389.8 1204.4L390.6 1204.3L391.4 1205.6L392.2 1206.4L393 1205.7L393.8 1205.1L394.6 1205.8L395.4 1206.6L396.2 1206.2L397 1205.5L397.8 1205.5L398.6 1205.5L399.4 1205.6L400.2 1205.7L401 1205.3L401.8 1205.4L402.6 1206.3L403.4 1206.4L404.2 1205.7L405 1205.4L405.8 1206.2L406.6 1206.5L407.4 1206.5L408.2 1206.7L409 1204.9L409.8 1203.3L410.6 1205.0L411.4 1206.5L412.2 1206.1L413 1205.8L413.8 1205.7L414.6 1205.7L415.4 1206.0L416.2 1206.3L417 1205.9L417.8 1206.2L418.6 1206.7L419.4 1206.5L420.2 1206.2L421 1205.9L421.8 1205.6L422.6 1205.8L423.4 1206.5L424.2 1206.2L425 1205.6L425.8 1204.9L426.6 1203.6L427.4 1204.5L428.2 1206.5L429 1206.5L429.8 1205.5L430.6 1205.4L431.4 1206.2L432.2 1206.6L433 1206.3L433.8 1205.7L434.6 1205.3L435.4 1204.9L436.2 1205.1L437 1205.4L437.8 1205.1L438.6 1204.1L439.4 1204.2L440.2 1205.5L441 1206.2L441.8 1206.4L442.6 1206.1L443.4 1205.1L444.2 1204.4L445 1205.1L445.8 1206.3L446.6 1206.5L447.4 1206.0L448.2 1205.7L449 1205.4L449.8 1205.5L450.6 1206.3L451.4 1207.0L452.2 1207.1L453 1206.7L453.8 1206.1L454.6 1206.2L455.4 1205.8L456.2 1204.8L457 1204.9L457.8 1205.5L458.6 1206.1L459.4 1205.6L460.2 1205.2L461 1205.6L461.8 1205.6L462.6 1206.1L463.4 1206.1L464.2 1205.5L465 1205.7L465.8 1205.3L466.6 1204.9L467.4 1206.1L468.2 1207.0L469 1206.8L469.8 1206.8L470.6 1206.4L471.4 1205.7L472.2 1205.4L473 1205.4L473.8 1206.2L474.6 1206.2L475.4 1205.9L476.2 1206.6L477 1206.9L477.8 1206.3L478.6 1205.9L479.4 1206.3L480.2 1206.5L481 1206.4L481.8 1206.2L482.6 1206.1L483.4 1206.4L484.2 1206.6L485 1206.6L485.8 1206.4L486.6 1206.0L487.4 1206.4L488.2 1206.9L489 1206.6L489.8 1206.0L490.6 1205.4L491.4 1201.7L492.2 1193.4L493 1201.7L493.8 1198.4L494.6 1203.9L495.4 1205.7L496.2 1206.2L497 1206.2L497.8 1206.1L498.6 1205.3L499.4 1205.0L500.2 1206.3L501 1207.1L501.8 1206.4L502.6 1205.6L503.4 1205.0L504.2 1204.5L505 1205.3L505.8 1206.2L506.6 1205.3L507.4 1201.4L508.2 1205.3L509 1206.1L509.8 1206.4L510.6 1206.4L511.4 1206.6L512.2 1206.6L513 1206.0L513.8 1204.9L514.6 1204.7L515.4 1205.7L516.2 1206.2L517 1206.1L517.8 1206.4L518.6 1206.8L519.4 1207.0L520.2 1206.9L521 1206.5L521.8 1206.0L522.6 1205.9L523.4 1205.9L524.2 1205.5L525 1205.4L525.8 1205.1L526.6 1205.0L527.4 1205.2L528.2 1205.0L529 1204.8L529.8 1204.6L530.6 1204.8L531.4 1204.8L532.2 1205.0L533 1205.2L533.8 1205.7L534.6 1206.2L535.4 1205.8L536.2 1205.9L537 1206.4L537.8 1206.7L538.6 1206.1L539.4 1205.4L540.2 1205.4L541 1206.2L541.8 1205.9L542.6 1205.0L543.4 1205.8L544.2 1206.6L545 1205.7L545.8 1204.9L546.6 1205.8L547.4 1206.8L548.2 1206.7L549 1205.5L549.8 1204.4L550.6 1204.6L551.4 1205.3L552.2 1206.1L553 1205.7L553.8 1204.9L554.6 1205.4L555.4 1205.9L556.2 1206.2L557 1206.5L557.8 1206.5L558.6 1206.3L559.4 1206.3L560.2 1206.2L561 1204.6L561.8 1203.9L562.6 1205.2L563.4 1205.9L564.2 1206.2L565 1206.5L565.8 1206.2L566.6 1205.3L567.4 1204.8L568.2 1205.0L569 1204.9L569.8 1205.6L570.6 1206.7L571.4 1206.9L572.2 1206.8L573 1206.6L573.8 1206.0L574.6 1206.0L575.4 1206.5L576.2 1206.6L577 1206.9L577.8 1206.8L578.6 1206.4L579.4 1206.4L580.2 1206.9L581 1207.0L581.8 1206.6L582.6 1206.5L583.4 1206.3L584.2 1205.9L585 1206.1L585.8 1206.4L586.6 1206.3L587.4 1206.1L588.2 1205.9L589 1206.0L589.8 1205.7L590.6 1205.4L591.4 1206.1L592.2 1205.9L593 1202.2L593.8 1193.4L594.6 1202.2L595.4 1205.9L596.2 1206.0L597 1206.0L597.8 1205.9L598.6 1205.0L599.4 1204.3L600.2 1204.6L601 1204.3L601.8 1203.7L602.6 1204.6L603.4 1205.7L604.2 1205.9L605 1205.9L605.8 1206.4L606.6 1206.4L607.4 1206.3L608.2 1205.9L609 1205.2L609.8 1205.2L610.6 1205.8L611.4 1206.5L612.2 1206.1L613 1204.9L613.8 1204.6L614.6 1205.0L615.4 1205.6L616.2 1206.3L617 1206.5L617.8 1206.3L618.6 1206.1L619.4 1205.4L620.2 1205.2L621 1205.6L621.8 1205.8L622.6 1206.0L623.4 1205.7L624.2 1205.4L625 1205.4L625.8 1205.2L626.6 1205.7L627.4 1206.1L628.2 1205.9L629 1206.2L629.8 1206.5L630.6 1206.5L631.4 1206.5L632.2 1206.6L633 1206.4L633.8 1206.1L634.6 1206.1L635.4 1206.3L636.2 1206.5L637 1206.6L637.8 1206.6L638.6 1206.5L639.4 1206.7L640.2 1206.7L641 1206.4L641.8 1206.5L642.6 1205.7L643.4 1204.5L644.2 1204.1L645 1204.6L645.8 1205.9L646.6 1206.6L647.4 1206.4L648.2 1206.7L649 1207.1L649.8 1206.8L650.6 1205.4L651.4 1204.6L652.2 1205.0L653 1205.1L653.8 1205.8L654.6 1205.3L655.4 1203.8L656.2 1205.0L657 1206.4L657.8 1206.5L658.6 1206.2L659.4 1205.6L660.2 1205.3L661 1205.6L661.8 1205.9L662.6 1205.4L663.4 1205.4L664.2 1205.7L665 1205.5L665.8 1205.9L666.6 1206.0L667.4 1205.9L668.2 1204.8L669 1203.8L669.8 1204.6L670.6 1205.2L671.4 1205.1L672.2 1205.6L673 1206.4L673.8 1206.7L674.6 1206.4L675.4 1205.9L676.2 1205.4L677 1205.4L677.8 1205.6L678.6 1205.8L679.4 1205.6L680.2 1205.5L681 1206.0L681.8 1206.1L682.6 1205.9L683.4 1205.8L684.2 1205.1L685 1205.4L685.8 1206.1L686.6 1205.7L687.4 1205.6L688.2 1205.5L689 1205.3L689.8 1206.0L690.6 1206.5L691.4 1206.7L692.2 1206.3L693 1203.9L693.8 1202.5L694.6 1204.3L695.4 1204.6L696.2 1203.8L697 1205.4L697.8 1205.6L698.6 1204.4L699.4 1205.2L700.2 1206.3L701 1205.8L701.8 1205.4L702.6 1205.9L703.4 1206.0L704.2 1205.7L705 1204.7L705.8 1203.4L706.6 1203.5L707.4 1204.9L708.2 1205.9L709 1206.3L709.8 1206.4L710.6 1205.9L711.4 1205.1L712.2 1204.9L713 1205.2L713.8 1204.2L714.6 1203.2L715.4 1204.1L716.2 1205.3L717 1206.1L717.8 1206.5L718.6 1206.0L719.4 1204.9L720.2 1204.4L721 1203.9L721.8 1198.4L722.6 1203.9L723.4 1205.9L724.2 1206.2L725 1205.6L725.8 1205.1L726.6 1205.5L727.4 1206.2L728.2 1206.4L729 1206.4L729.8 1206.1L730.6 1206.2L731.4 1205.9L732.2 1205.3L733 1205.8L733.8 1205.9L734.6 1205.6L735.4 1205.4L736.2 1205.0L737 1205.5L737.8 1205.8L738.6 1205.5L739.4 1204.9L740.2 1204.1L741 1204.8L741.8 1205.9L742.6 1205.4L743.4 1204.8L744.2 1200.4L745 1204.8L745.8 1205.2L746.6 1200.6L747.4 1189.5L748.2 1162.4L749 1189.5L749.8 1200.6L750.6 1204.6L751.4 1204.6L752.2 1204.6L753 1205.8L753.8 1206.9L754.6 1206.7L755.4 1206.2L756.2 1206.1L757 1206.0L757.8 1205.3L758.6 1205.5L759.4 1206.2L760.2 1205.9L761 1204.6L761.8 1204.4L762.6 1205.8L763.4 1206.7L764.2 1206.9L765 1206.7L765.8 1205.8L766.6 1204.5L767.4 1204.1L768.2 1205.3L769 1206.5L769.8 1206.6L770.6 1205.9L771.4 1205.4L772.2 1205.8L773 1205.9L773.8 1204.0L774.6 1198.5L775.4 1186.4L776.2 1198.5L777 1204.0L777.8 1203.9L778.6 1198.4L779.4 1203.9L780.2 1205.4L781 1201.7L781.8 1193.4L782.6 1201.7L783.4 1205.4L784.2 1203.3L785 1204.4L785.8 1205.8L786.6 1205.1L787.4 1205.8L787.4 1208.4Z" fill="#7d7d7d"/>
<path d="M93 1312.5L93 1310.8L93.8 1310.3L94.6 1310.0L95.4 1309.3L96.2 1309.1L97 1309.5L97.8 1310.5L98.6 1310.8L99.4 1309.2L100.2 1308.0L101 1309.2L101.8 1310.1L102.6 1309.5L103.4 1309.0L104.2 1309.4L105 1310.1L105.8 1309.9L106.6 1309.5L107.4 1309.4L108.2 1309.5L109 1310.2L109.8 1310.6L110.6 1310.4L111.4 1310.0L112.2 1308.9L113 1307.9L113.8 1307.9L114.6 1307.8L115.4 1308.1L116.2 1309.4L117 1310.5L117.8 1310.9L118.6 1310.9L119.4 1310.3L120.2 1310.0L121 1307.6L121.8 1300.5L122.6 1307.6L123.4 1310.5L124.2 1310.4L125 1310.4L125.8 1310.3L126.6 1309.9L127.4 1310.2L128.2 1310.6L129 1310.6L129.8 1309.9L130.6 1307.7L131.4 1307.1L132.2 1309.2L133 1310.4L133.8 1309.9L134.6 1308.8L135.4 1308.3L136.2 1309.4L137 1310.7L137.8 1310.8L138.6 1310.5L139.4 1310.9L140.2 1308.1L141 1300.5L141.8 1308.1L142.6 1310.7L143.4 1310.4L144.2 1310.4L145 1310.1L145.8 1309.3L146.6 1309.1L147.4 1309.3L148.2 1309.8L149 1310.5L149.8 1310.1L150.6 1309.0L151.4 1308.4L152.2 1308.4L153 1308.9L153.8 1310.0L154.6 1310.6L155.4 1310.4L156.2 1309.9L157 1309.0L157.8 1309.0L158.6 1310.2L159.4 1310.1L160.2 1309.0L161 1308.5L161.8 1308.8L162.6 1310.0L163.4 1310.6L164.2 1310.6L165 1310.2L165.8 1309.6L166.6 1309.7L167.4 1310.1L168.2 1310.2L169 1309.9L169.8 1309.4L170.6 1309.3L171.4 1310.0L172.2 1310.2L173 1309.4L173.8 1309.5L174.6 1310.7L175.4 1311.1L176.2 1310.8L177 1310.1L177.8 1309.6L178.6 1308.4L179.4 1305.5L180.2 1300.5L181 1305.5L181.8 1307.6L182.6 1301.5L183.4 1307.6L184.2 1310.0L185 1309.9L185.8 1309.3L186.6 1309.2L187.4 1309.1L188.2 1308.8L189 1306.8L189.8 1300.8L190.6 1288.2L191.4 1262.2L192.2 1208.5L193 1262.2L193.8 1288.2L194.6 1300.8L195.4 1306.8L196.2 1309.8L197 1309.2L197.8 1307.1L198.6 1300.5L199.4 1307.1L200.2 1310.1L201 1310.3L201.8 1309.0L202.6 1309.1L203.4 1309.7L204.2 1309.7L205 1309.7L205.8 1309.2L206.6 1308.3L207.4 1309.1L208.2 1310.3L209 1310.6L209.8 1310.0L210.6 1309.7L211.4 1310.2L212.2 1309.6L213 1309.1L213.8 1310.1L214.6 1310.3L215.4 1309.9L216.2 1309.9L217 1310.2L217.8 1310.3L218.6 1310.0L219.4 1309.6L220.2 1309.8L221 1309.4L221.8 1308.6L222.6 1308.6L223.4 1305.0L224.2 1295.9L225 1275.5L225.8 1295.9L226.6 1305.0L227.4 1309.1L228.2 1309.7L229 1309.3L229.8 1309.9L230.6 1310.0L231.4 1309.4L232.2 1309.8L233 1310.1L233.8 1310.4L234.6 1310.2L235.4 1309.3L236.2 1309.1L237 1309.8L237.8 1310.4L238.6 1310.6L239.4 1310.4L240.2 1310.0L241 1310.1L241.8 1310.1L242.6 1309.6L243.4 1309.8L244.2 1310.4L245 1309.8L245.8 1308.5L246.6 1308.8L247.4 1309.9L248.2 1310.4L249 1310.4L249.8 1310.4L250.6 1310.2L251.4 1309.5L252.2 1309.1L253 1309.8L253.8 1310.1L254.6 1309.9L255.4 1308.5L256.2 1306.9L257 1307.9L257.8 1309.3L258.6 1309.3L259.4 1308.9L260.2 1309.0L261 1308.8L261.8 1308.8L262.6 1309.8L263.4 1309.7L264.2 1308.4L265 1308.4L265.8 1309.6L266.6 1310.4L267.4 1310.6L268.2 1310.6L269 1310.1L269.8 1309.2L270.6 1307.9L271.4 1301.4L272.2 1285.5L273 1301.4L273.8 1307.9L274.6 1309.7L275.4 1309.5L276.2 1309.9L277 1310.2L277.8 1310.2L278.6 1310.0L279.4 1310.2L280.2 1309.5L281 1308.3L281.8 1308.9L282.6 1309.8L283.4 1310.0L284.2 1310.0L285 1310.0L285.8 1308.7L286.6 1307.7L287.4 1309.2L288.2 1310.2L289 1309.5L289.8 1307.7L290.6 1299.5L291.4 1307.7L292.2 1309.6L293 1309.6L293.8 1310.1L294.6 1310.4L295.4 1310.3L296.2 1309.6L297 1309.0L297.8 1309.4L298.6 1309.8L299.4 1309.6L300.2 1309.4L301 1309.8L301.8 1310.1L302.6 1310.2L303.4 1310.7L304.2 1311.1L305 1310.9L305.8 1310.6L306.6 1308.9L307.4 1307.0L308.2 1308.0L309 1307.8L309.8 1305.5L310.6 1307.8L311.4 1309.3L312.2 1309.1L313 1309.4L313.8 1309.5L314.6 1308.6L315.4 1309.4L316.2 1310.6L317 1310.0L317.8 1309.4L318.6 1309.7L319.4 1309.4L320.2 1309.0L321 1309.3L321.8 1309.7L322.6 1310.1L323.4 1310.2L324.2 1310.0L325 1310.1L325.8 1310.3L326.6 1310.1L327.4 1310.0L328.2 1310.5L329 1310.7L329.8 1310.6L330.6 1310.1L331.4 1308.7L332.2 1307.9L333 1308.6L333.8 1309.3L334.6 1310.0L335.4 1310.1L336.2 1309.8L337 1310.3L337.8 1308.9L338.6 1305.1L339.4 1297.1L340.2 1280.6L341 1246.5L341.8 1280.6L342.6 1297.1L343.4 1305.1L344.2 1301.2L345 1290.5L345.8 1301.2L346.6 1306.7L347.4 1309.5L348.2 1309.5L349 1309.9L349.8 1310.3L350.6 1310.0L351.4 1308.5L352.2 1308.1L353 1309.8L353.8 1310.8L354.6 1310.7L355.4 1310.3L356.2 1310.0L357 1310.0L357.8 1309.9L358.6 1310.2L359.4 1310.7L360.2 1310.8L361 1310.4L361.8 1309.9L362.6 1309.8L363.4 1310.1L364.2 1310.8L365 1311.0L365.8 1310.8L366.6 1310.6L367.4 1310.5L368.2 1309.7L369 1309.0L369.8 1309.9L370.6 1310.7L371.4 1310.3L372.2 1309.6L373 1309.4L373.8 1309.3L374.6 1309.2L375.4 1309.9L376.2 1310.4L377 1309.9L377.8 1309.5L378.6 1310.0L379.4 1310.3L380.2 1310.3L381 1309.8L381.8 1309.6L382.6 1310.0L383.4 1310.0L384.2 1309.8L385 1309.7L385.8 1309.9L386.6 1309.8L387.4 1309.6L388.2 1310.1L389 1310.6L389.8 1310.5L390.6 1310.6L391.4 1310.8L392.2 1310.2L393 1309.3L393.8 1309.0L394.6 1309.4L395.4 1310.1L396.2 1310.7L397 1310.7L397.8 1310.0L398.6 1309.3L399.4 1309.2L400.2 1309.3L401 1307.8L401.8 1305.5L402.6 1307.8L403.4 1309.4L404.2 1308.5L405 1308.0L405.8 1309.1L406.6 1310.4L407.4 1310.6L408.2 1309.9L409 1309.4L409.8 1309.8L410.6 1310.2L411.4 1310.4L412.2 1310.8L413 1310.6L413.8 1310.0L414.6 1310.1L415.4 1310.2L416.2 1309.8L417 1308.8L417.8 1308.2L418.6 1308.6L419.4 1309.4L420.2 1306.4L421 1297.7L421.8 1276.5L422.6 1297.7L423.4 1306.4L424.2 1309.4L425 1310.0L425.8 1310.9L426.6 1310.6L427.4 1309.0L428.2 1308.1L429 1308.8L429.8 1309.1L430.6 1308.8L431.4 1309.0L432.2 1308.7L433 1308.6L433.8 1309.5L434.6 1310.2L435.4 1310.4L436.2 1310.3L437 1310.0L437.8 1310.0L438.6 1309.4L439.4 1308.9L440.2 1309.9L441 1310.7L441.8 1310.8L442.6 1310.6L443.4 1309.9L444.2 1309.7L445 1310.1L445.8 1310.2L446.6 1310.4L447.4 1310.6L448.2 1310.0L449 1309.6L449.8 1310.1L450.6 1310.5L451.4 1310.6L452.2 1310.8L453 1310.9L453.8 1311.1L454.6 1310.8L455.4 1309.6L456.2 1309.0L457 1309.6L457.8 1310.4L458.6 1310.5L459.4 1309.8L460.2 1308.7L461 1308.2L461.8 1309.0L462.6 1310.0L463.4 1309.9L464.2 1309.5L465 1309.7L465.8 1309.6L466.6 1308.8L467.4 1308.1L468.2 1309.3L469 1310.8L469.8 1310.6L470.6 1309.9L471.4 1309.8L472.2 1310.4L473 1310.5L473.8 1310.2L474.6 1310.4L475.4 1310.8L476.2 1310.5L477 1310.4L477.8 1310.6L478.6 1310.6L479.4 1310.6L480.2 1310.0L481 1309.1L481.8 1309.3L482.6 1309.5L483.4 1309.8L484.2 1310.8L485 1311.0L485.8 1309.9L486.6 1309.0L487.4 1309.1L488.2 1307.7L489 1299.5L489.8 1306.9L490.6 1308.5L491.4 1304.3L492.2 1292.5L493 1304.3L493.8 1309.0L494.6 1309.1L495.4 1309.8L496.2 1309.8L497 1310.0L497.8 1310.3L498.6 1310.0L499.4 1309.7L500.2 1309.5L501 1309.9L501.8 1310.2L502.6 1310.6L503.4 1310.5L504.2 1309.0L505 1305.7L505.8 1299.3L506.6 1286.8L507.4 1262.5L508.2 1286.8L509 1299.3L509.8 1305.7L510.6 1309.0L511.4 1310.3L512.2 1310.4L513 1310.1L513.8 1309.9L514.6 1309.9L515.4 1309.9L516.2 1310.3L517 1309.1L517.8 1307.4L518.6 1308.5L519.4 1309.6L520.2 1309.3L521 1308.0L521.8 1302.5L522.6 1308.0L523.4 1310.5L524.2 1310.3L525 1309.6L525.8 1309.6L526.6 1309.8L527.4 1309.7L528.2 1309.5L529 1309.0L529.8 1309.0L530.6 1309.3L531.4 1309.0L532.2 1309.2L533 1308.3L533.8 1307.4L534.6 1308.9L535.4 1310.0L536.2 1310.2L537 1310.2L537.8 1310.1L538.6 1310.0L539.4 1309.1L540.2 1308.3L541 1308.5L541.8 1309.4L542.6 1309.5L543.4 1309.9L544.2 1310.7L545 1311.0L545.8 1310.3L546.6 1308.3L547.4 1304.3L548.2 1296.5L549 1304.3L549.8 1298.5L550.6 1306.2L551.4 1309.7L552.2 1310.3L553 1309.5L553.8 1309.4L554.6 1309.2L555.4 1309.0L556.2 1310.1L557 1310.0L557.8 1309.1L558.6 1309.7L559.4 1310.4L560.2 1310.0L561 1309.3L561.8 1309.3L562.6 1309.8L563.4 1310.5L564.2 1310.5L565 1310.1L565.8 1309.8L566.6 1309.6L567.4 1309.9L568.2 1310.6L569 1310.4L569.8 1309.6L570.6 1309.7L571.4 1308.9L572.2 1307.3L573 1308.2L573.8 1310.1L574.6 1309.9L575.4 1309.1L576.2 1309.4L577 1309.5L577.8 1309.1L578.6 1308.7L579.4 1308.5L580.2 1309.0L581 1310.0L581.8 1310.8L582.6 1310.0L583.4 1308.8L584.2 1309.4L585 1310.4L585.8 1310.8L586.6 1310.8L587.4 1310.7L588.2 1308.9L589 1306.9L589.8 1307.7L590.6 1308.9L591.4 1309.9L592.2 1310.2L593 1307.7L593.8 1299.5L594.6 1307.7L595.4 1309.9L596.2 1310.0L597 1309.9L597.8 1308.7L598.6 1307.8L599.4 1309.2L600.2 1306.2L601 1295.5L601.8 1306.2L602.6 1309.5L603.4 1309.9L604.2 1310.1L605 1310.1L605.8 1309.8L606.6 1309.1L607.4 1308.2L608.2 1308.3L609 1309.6L609.8 1310.2L610.6 1309.5L611.4 1309.3L612.2 1309.9L613 1310.6L613.8 1310.3L614.6 1308.8L615.4 1308.2L616.2 1309.0L617 1309.6L617.8 1310.3L618.6 1310.5L619.4 1310.1L620.2 1309.4L621 1308.7L621.8 1309.4L622.6 1310.7L623.4 1310.6L624.2 1309.3L625 1308.6L625.8 1309.3L626.6 1310.2L627.4 1310.5L628.2 1310.5L629 1310.3L629.8 1309.9L630.6 1310.2L631.4 1310.6L632.2 1310.4L633 1309.5L633.8 1308.7L634.6 1309.2L635.4 1309.7L636.2 1309.3L637 1309.8L637.8 1310.0L638.6 1309.4L639.4 1309.8L640.2 1309.9L641 1308.9L641.8 1307.6L642.6 1307.3L643.4 1308.9L644.2 1310.3L645 1310.6L645.8 1310.5L646.6 1310.3L647.4 1310.0L648.2 1309.3L649 1308.2L649.8 1307.4L650.6 1308.5L651.4 1309.7L652.2 1308.9L653 1308.4L653.8 1309.2L654.6 1308.9L655.4 1305.0L656.2 1297.0L657 1280.5L657.8 1297.0L658.6 1305.0L659.4 1308.9L660.2 1310.7L661 1310.4L661.8 1309.4L662.6 1309.6L663.4 1310.3L664.2 1309.8L665 1309.6L665.8 1310.1L666.6 1310.1L667.4 1309.4L668.2 1308.9L669 1309.4L669.8 1309.3L670.6 1308.9L671.4 1310.0L672.2 1310.6L673 1309.7L673.8 1308.9L674.6 1308.7L675.4 1308.9L676.2 1309.8L677 1310.8L677.8 1310.1L678.6 1309.2L679.4 1307.8L680.2 1305.5L681 1307.8L681.8 1309.4L682.6 1310.4L683.4 1311.0L684.2 1310.9L685 1310.4L685.8 1309.9L686.6 1310.1L687.4 1309.9L688.2 1309.6L689 1309.8L689.8 1309.7L690.6 1309.0L691.4 1309.0L692.2 1309.5L693 1309.8L693.8 1310.0L694.6 1310.0L695.4 1310.0L696.2 1310.1L697 1310.2L697.8 1310.1L698.6 1310.0L699.4 1310.1L700.2 1309.3L701 1308.0L701.8 1308.3L702.6 1309.7L703.4 1310.6L704.2 1311.0L705 1310.3L705.8 1309.5L706.6 1310.1L707.4 1310.8L708.2 1310.7L709 1310.4L709.8 1310.3L710.6 1310.4L711.4 1309.5L712.2 1307.5L713 1306.8L713.8 1308.0L714.6 1309.2L715.4 1309.8L716.2 1309.9L717 1309.4L717.8 1308.9L718.6 1308.3L719.4 1308.2L720.2 1309.2L721 1305.1L721.8 1294.5L722.6 1305.1L723.4 1309.5L724.2 1310.0L725 1310.3L725.8 1309.7L726.6 1309.1L727.4 1309.2L728.2 1309.7L729 1309.8L729.8 1309.2L730.6 1308.9L731.4 1309.1L732.2 1309.3L733 1309.0L733.8 1308.5L734.6 1308.1L735.4 1308.3L736.2 1308.6L737 1308.1L737.8 1307.6L738.6 1308.5L739.4 1308.8L740.2 1302.5L741 1308.8L741.8 1308.9L742.6 1309.1L743.4 1308.8L744.2 1309.1L745 1308.7L745.8 1308.0L746.6 1307.4L747.4 1300.2L748.2 1282.5L749 1300.2L749.8 1307.4L750.6 1308.4L751.4 1308.9L752.2 1308.9L753 1310.0L753.8 1310.1L754.6 1309.1L755.4 1309.0L756.2 1309.4L757 1309.8L757.8 1310.1L758.6 1310.2L759.4 1309.5L760.2 1308.9L761 1310.1L761.8 1311.0L762.6 1310.3L763.4 1309.8L764.2 1310.2L765 1310.7L765.8 1310.3L766.6 1309.8L767.4 1309.5L768.2 1308.8L769 1308.8L769.8 1309.5L770.6 1310.2L771.4 1310.4L772.2 1309.6L773 1308.7L773.8 1306.6L774.6 1299.5L775.4 1283.5L776.2 1299.5L777 1306.6L777.8 1309.5L778.6 1310.7L779.4 1309.5L780.2 1307.9L781 1307.8L781.8 1309.0L782.6 1309.9L783.4 1309.8L784.2 1310.0L785 1308.9L785.8 1304.5L786.6 1308.9L787.4 1310.9L787.4 1312.5Z" fill="#7d7d7d"/>
<path d="M93 1415.6L93 1413.2L93.8 1412.8L94.6 1413.4L95.4 1412.1L96.2 1410.6L97 1411.3L97.8 1411.8L98.6 1411.5L99.4 1411.3L100.2 1411.6L101 1411.9L101.8 1411.9L102.6 1412.6L103.4 1413.0L104.2 1412.8L105 1413.2L105.8 1412.6L106.6 1410.9L107.4 1407.9L108.2 1402.9L109 1394.6L109.8 1402.9L110.6 1407.9L111.4 1410.9L112.2 1409.6L113 1406.6L113.8 1409.6L114.6 1411.6L115.4 1411.4L116.2 1410.2L117 1407.6L117.8 1410.2L118.6 1410.2L119.4 1412.2L120.2 1413.3L121 1413.2L121.8 1411.4L122.6 1409.5L123.4 1411.2L124.2 1413.4L125 1413.0L125.8 1411.7L126.6 1411.4L127.4 1411.7L128.2 1411.7L129 1412.4L129.8 1412.9L130.6 1413.4L131.4 1413.2L132.2 1412.3L133 1412.7L133.8 1413.2L134.6 1413.0L135.4 1412.4L136.2 1411.1L137 1411.0L137.8 1412.6L138.6 1412.3L139.4 1411.2L140.2 1412.1L141 1411.8L141.8 1409.8L142.6 1410.0L143.4 1411.9L144.2 1412.6L145 1412.7L145.8 1413.1L146.6 1413.2L147.4 1412.0L148.2 1410.2L149 1410.0L149.8 1411.5L150.6 1412.7L151.4 1412.4L152.2 1411.5L153 1411.6L153.8 1412.3L154.6 1412.9L155.4 1413.2L156.2 1413.0L157 1412.3L157.8 1411.8L158.6 1412.1L159.4 1411.2L160.2 1410.2L161 1410.9L161.8 1411.1L162.6 1411.8L163.4 1413.1L164.2 1412.4L165 1411.2L165.8 1410.2L166.6 1409.6L167.4 1410.9L168.2 1411.9L169 1412.5L169.8 1413.2L170.6 1412.6L171.4 1411.5L172.2 1407.6L173 1411.5L173.8 1412.3L174.6 1412.6L175.4 1413.0L176.2 1413.5L177 1413.1L177.8 1411.3L178.6 1409.7L179.4 1410.7L180.2 1413.0L181 1412.7L181.8 1411.2L182.6 1411.8L183.4 1412.4L184.2 1412.3L185 1412.3L185.8 1412.7L186.6 1412.4L187.4 1409.9L188.2 1405.4L189 1397.6L189.8 1383.7L190.6 1359.1L191.4 1315.6L192.2 1359.1L193 1383.7L193.8 1397.6L194.6 1405.4L195.4 1409.9L196.2 1411.7L197 1412.4L197.8 1412.7L198.6 1413.2L199.4 1413.7L200.2 1413.2L201 1412.1L201.8 1412.0L202.6 1412.3L203.4 1412.2L204.2 1412.5L205 1412.1L205.8 1411.3L206.6 1411.6L207.4 1406.6L208.2 1411.1L209 1412.0L209.8 1412.5L210.6 1412.4L211.4 1412.7L212.2 1412.5L213 1412.3L213.8 1412.9L214.6 1413.2L215.4 1413.0L216.2 1411.9L217 1410.8L217.8 1411.8L218.6 1413.0L219.4 1413.4L220.2 1413.3L221 1412.7L221.8 1411.5L222.6 1408.5L223.4 1403.6L224.2 1395.1L225 1380.6L225.8 1395.1L226.6 1403.6L227.4 1408.5L228.2 1411.5L229 1412.5L229.8 1412.1L230.6 1412.0L231.4 1407.6L232.2 1411.9L233 1411.1L233.8 1411.3L234.6 1411.8L235.4 1411.1L236.2 1411.1L237 1412.0L237.8 1412.8L238.6 1412.8L239.4 1412.5L240.2 1411.7L241 1410.7L241.8 1411.8L242.6 1413.2L243.4 1412.2L244.2 1410.9L245 1412.1L245.8 1411.9L246.6 1408.5L247.4 1401.7L248.2 1388.6L249 1401.7L249.8 1408.5L250.6 1411.9L251.4 1413.1L252.2 1412.7L253 1412.4L253.8 1412.8L254.6 1413.4L255.4 1411.6L256.2 1407.6L257 1407.6L257.8 1410.8L258.6 1410.6L259.4 1409.8L260.2 1412.0L261 1412.7L261.8 1411.1L262.6 1411.2L263.4 1412.8L264.2 1413.4L265 1412.4L265.8 1411.3L266.6 1410.3L267.4 1410.1L268.2 1411.4L269 1412.3L269.8 1410.5L270.6 1408.2L271.4 1409.7L272.2 1411.2L273 1409.8L273.8 1409.7L274.6 1411.3L275.4 1411.1L276.2 1410.4L277 1412.3L277.8 1413.9L278.6 1413.0L279.4 1411.3L280.2 1408.6L281 1410.3L281.8 1411.4L282.6 1411.7L283.4 1411.3L284.2 1411.8L285 1412.3L285.8 1411.8L286.6 1410.8L287.4 1409.9L288.2 1410.7L289 1411.9L289.8 1412.6L290.6 1413.2L291.4 1412.0L292.2 1410.7L293 1411.7L293.8 1412.3L294.6 1412.2L295.4 1413.0L296.2 1413.5L297 1411.8L297.8 1408.6L298.6 1408.3L299.4 1410.4L300.2 1412.1L301 1412.0L301.8 1411.3L302.6 1410.7L303.4 1409.9L304.2 1411.3L305 1412.9L305.8 1412.8L306.6 1412.9L307.4 1412.6L308.2 1412.4L309 1412.2L309.8 1411.8L310.6 1412.0L311.4 1411.1L312.2 1409.9L313 1410.4L313.8 1410.2L314.6 1409.3L315.4 1410.8L316.2 1412.7L317 1412.9L317.8 1413.1L318.6 1413.5L319.4 1412.2L320.2 1410.9L321 1410.8L321.8 1410.7L322.6 1411.6L323.4 1412.6L324.2 1413.0L325 1413.0L325.8 1412.5L326.6 1412.6L327.4 1413.2L328.2 1413.3L329 1411.5L329.8 1409.7L330.6 1410.7L331.4 1411.6L332.2 1412.0L333 1412.3L333.8 1411.7L334.6 1412.0L335.4 1412.9L336.2 1412.9L337 1412.6L337.8 1413.0L338.6 1412.2L339.4 1410.5L340.2 1408.0L341 1404.2L341.8 1398.6L342.6 1404.2L343.4 1408.0L344.2 1409.3L345 1408.9L345.8 1411.1L346.6 1413.2L347.4 1412.9L348.2 1411.0L349 1406.6L349.8 1411.0L350.6 1412.4L351.4 1412.6L352.2 1412.6L353 1412.9L353.8 1413.5L354.6 1413.3L355.4 1412.5L356.2 1412.7L357 1413.2L357.8 1412.9L358.6 1412.7L359.4 1412.4L360.2 1411.9L361 1411.9L361.8 1411.0L362.6 1409.5L363.4 1410.8L364.2 1412.3L365 1412.3L365.8 1413.1L366.6 1413.7L367.4 1412.9L368.2 1411.8L369 1412.2L369.8 1412.9L370.6 1412.4L371.4 1411.9L372.2 1411.9L373 1412.1L373.8 1411.8L374.6 1412.2L375.4 1413.1L376.2 1412.7L377 1411.7L377.8 1410.8L378.6 1410.6L379.4 1411.8L380.2 1411.9L381 1410.8L381.8 1410.8L382.6 1411.1L383.4 1411.0L384.2 1411.3L385 1412.5L385.8 1412.6L386.6 1412.6L387.4 1413.1L388.2 1413.2L389 1413.4L389.8 1413.6L390.6 1413.6L391.4 1413.4L392.2 1413.2L393 1411.8L393.8 1410.1L394.6 1411.1L395.4 1411.9L396.2 1411.9L397 1412.8L397.8 1411.6L398.6 1409.9L399.4 1411.5L400.2 1413.2L401 1412.4L401.8 1412.0L402.6 1412.8L403.4 1412.6L404.2 1412.2L405 1412.3L405.8 1412.4L406.6 1412.5L407.4 1411.7L408.2 1411.3L409 1411.4L409.8 1410.5L410.6 1410.3L411.4 1410.7L412.2 1410.4L413 1409.5L413.8 1409.8L414.6 1411.3L415.4 1412.5L416.2 1412.7L417 1411.6L417.8 1411.0L418.6 1412.2L419.4 1410.5L420.2 1406.3L421 1398.3L421.8 1383.6L422.6 1398.3L423.4 1406.3L424.2 1410.5L425 1411.4L425.8 1408.2L426.6 1406.6L427.4 1409.6L428.2 1412.5L429 1410.9L429.8 1407.0L430.6 1399.6L431.4 1407.0L432.2 1410.9L433 1411.7L433.8 1412.6L434.6 1412.7L435.4 1411.5L436.2 1410.6L437 1410.2L437.8 1408.8L438.6 1409.8L439.4 1412.5L440.2 1413.0L441 1412.5L441.8 1412.1L442.6 1411.8L443.4 1411.8L444.2 1412.6L445 1412.7L445.8 1412.7L446.6 1412.8L447.4 1412.4L448.2 1412.7L449 1413.4L449.8 1413.6L450.6 1413.4L451.4 1411.8L452.2 1410.4L453 1411.8L453.8 1411.7L454.6 1409.4L455.4 1408.7L456.2 1409.9L457 1412.4L457.8 1412.7L458.6 1410.5L459.4 1410.1L460.2 1406.6L461 1411.6L461.8 1412.4L462.6 1412.2L463.4 1412.4L464.2 1411.8L465 1411.5L465.8 1412.4L466.6 1411.4L467.4 1408.6L468.2 1409.0L469 1411.7L469.8 1412.8L470.6 1412.7L471.4 1412.4L472.2 1411.8L473 1411.9L473.8 1413.2L474.6 1413.6L475.4 1412.2L476.2 1411.2L477 1411.5L477.8 1411.8L478.6 1411.7L479.4 1412.1L480.2 1412.9L481 1413.1L481.8 1413.0L482.6 1413.0L483.4 1413.2L484.2 1413.4L485 1413.6L485.8 1412.9L486.6 1412.2L487.4 1412.5L488.2 1412.8L489 1411.9L489.8 1410.3L490.6 1410.8L491.4 1412.1L492.2 1412.6L493 1413.1L493.8 1413.3L494.6 1412.8L495.4 1410.6L496.2 1409.2L497 1411.0L497.8 1412.7L498.6 1413.1L499.4 1413.0L500.2 1411.7L501 1410.4L501.8 1410.7L502.6 1411.3L503.4 1411.1L504.2 1411.6L505 1412.1L505.8 1411.6L506.6 1407.9L507.4 1400.6L508.2 1407.9L509 1411.6L509.8 1410.8L510.6 1411.0L511.4 1412.5L512.2 1413.3L513 1413.1L513.8 1412.1L514.6 1412.0L515.4 1412.9L516.2 1412.9L517 1411.3L517.8 1409.1L518.6 1408.9L519.4 1410.2L520.2 1403.6L521 1410.2L521.8 1412.1L522.6 1411.2L523.4 1410.2L524.2 1412.0L525 1413.4L525.8 1413.7L526.6 1413.5L527.4 1412.6L528.2 1410.2L529 1403.6L529.8 1410.2L530.6 1412.8L531.4 1411.9L532.2 1412.1L533 1413.3L533.8 1413.3L534.6 1411.6L535.4 1411.5L536.2 1413.0L537 1413.6L537.8 1413.0L538.6 1411.7L539.4 1410.2L540.2 1410.4L541 1412.2L541.8 1413.6L542.6 1413.0L543.4 1411.7L544.2 1411.7L545 1411.9L545.8 1412.0L546.6 1413.1L547.4 1413.8L548.2 1413.5L549 1412.1L549.8 1409.5L550.6 1409.4L551.4 1411.8L552.2 1412.8L553 1412.3L553.8 1412.2L554.6 1412.3L555.4 1412.3L556.2 1412.1L557 1411.4L557.8 1411.4L558.6 1412.3L559.4 1411.1L560.2 1405.6L561 1410.6L561.8 1411.0L562.6 1412.3L563.4 1411.7L564.2 1410.8L565 1411.8L565.8 1412.8L566.6 1412.0L567.4 1411.0L568.2 1412.0L569 1413.2L569.8 1413.0L570.6 1412.7L571.4 1413.0L572.2 1412.4L573 1411.6L573.8 1410.3L574.6 1407.9L575.4 1408.6L576.2 1406.6L577 1411.0L577.8 1413.2L578.6 1413.1L579.4 1412.3L580.2 1412.5L581 1413.3L581.8 1413.0L582.6 1412.6L583.4 1413.3L584.2 1412.7L585 1410.9L585.8 1411.1L586.6 1412.9L587.4 1413.7L588.2 1412.3L589 1410.6L589.8 1410.9L590.6 1411.9L591.4 1412.4L592.2 1411.8L593 1411.3L593.8 1412.3L594.6 1412.4L595.4 1411.4L596.2 1410.9L597 1410.6L597.8 1411.2L598.6 1412.3L599.4 1411.4L600.2 1410.4L601 1412.2L601.8 1412.2L602.6 1409.9L603.4 1410.7L604.2 1413.0L605 1412.9L605.8 1411.6L606.6 1412.2L607.4 1412.7L608.2 1411.9L609 1411.9L609.8 1412.0L610.6 1411.7L611.4 1411.6L612.2 1411.8L613 1410.3L613.8 1409.2L614.6 1410.4L615.4 1411.2L616.2 1411.7L617 1412.4L617.8 1412.8L618.6 1413.3L619.4 1412.5L620.2 1411.3L621 1411.7L621.8 1411.6L622.6 1411.3L623.4 1411.9L624.2 1411.6L625 1406.6L625.8 1411.1L626.6 1411.4L627.4 1412.6L628.2 1413.1L629 1413.2L629.8 1412.7L630.6 1411.2L631.4 1410.9L632.2 1411.8L633 1411.7L633.8 1410.8L634.6 1410.5L635.4 1410.8L636.2 1410.9L637 1412.2L637.8 1413.4L638.6 1412.9L639.4 1412.3L640.2 1412.6L641 1413.2L641.8 1412.3L642.6 1411.2L643.4 1412.2L644.2 1412.6L645 1410.4L645.8 1409.4L646.6 1411.6L647.4 1413.3L648.2 1413.3L649 1413.0L649.8 1412.6L650.6 1412.7L651.4 1412.9L652.2 1412.7L653 1413.1L653.8 1413.5L654.6 1412.6L655.4 1412.0L656.2 1412.1L657 1411.8L657.8 1412.3L658.6 1413.2L659.4 1413.1L660.2 1412.5L661 1412.2L661.8 1412.1L662.6 1412.5L663.4 1413.1L664.2 1413.1L665 1412.6L665.8 1413.0L666.6 1413.1L667.4 1412.7L668.2 1412.4L669 1410.9L669.8 1410.1L670.6 1411.2L671.4 1411.7L672.2 1412.0L673 1412.7L673.8 1412.9L674.6 1413.2L675.4 1413.5L676.2 1413.3L677 1413.0L677.8 1412.6L678.6 1411.5L679.4 1410.4L680.2 1410.4L681 1411.6L681.8 1411.8L682.6 1411.0L683.4 1411.6L684.2 1410.8L685 1409.7L685.8 1410.7L686.6 1411.0L687.4 1411.7L688.2 1412.6L689 1411.1L689.8 1408.2L690.6 1403.5L691.4 1395.6L692.2 1403.5L693 1408.2L693.8 1409.5L694.6 1409.7L695.4 1409.1L696.2 1404.6L697 1409.1L697.8 1411.8L698.6 1411.7L699.4 1411.2L700.2 1411.2L701 1410.1L701.8 1409.4L702.6 1410.5L703.4 1410.3L704.2 1409.1L705 1410.6L705.8 1412.2L706.6 1412.1L707.4 1411.4L708.2 1411.5L709 1412.8L709.8 1412.8L710.6 1412.4L711.4 1412.7L712.2 1411.0L713 1409.4L713.8 1411.6L714.6 1413.6L715.4 1413.1L716.2 1412.6L717 1411.8L717.8 1411.1L718.6 1411.7L719.4 1411.7L720.2 1411.7L721 1412.8L721.8 1413.1L722.6 1412.6L723.4 1412.7L724.2 1413.0L725 1413.2L725.8 1412.5L726.6 1411.1L727.4 1409.1L728.2 1408.4L729 1411.4L729.8 1407.4L730.6 1398.6L731.4 1407.4L732.2 1411.0L733 1412.7L733.8 1412.4L734.6 1412.0L735.4 1412.2L736.2 1412.1L737 1410.9L737.8 1409.3L738.6 1408.8L739.4 1401.6L740.2 1408.8L741 1410.9L741.8 1410.9L742.6 1411.7L743.4 1410.7L744.2 1410.2L745 1411.3L745.8 1412.1L746.6 1411.2L747.4 1409.8L748.2 1409.0L749 1404.7L749.8 1397.6L750.6 1404.7L751.4 1409.0L752.2 1408.8L753 1410.3L753.8 1411.4L754.6 1412.4L755.4 1412.7L756.2 1412.6L757 1412.9L757.8 1412.2L758.6 1412.0L759.4 1412.1L760.2 1411.4L761 1410.6L761.8 1411.0L762.6 1412.6L763.4 1413.8L764.2 1413.7L765 1413.4L765.8 1412.9L766.6 1411.4L767.4 1410.3L768.2 1411.9L769 1413.4L769.8 1413.5L770.6 1412.9L771.4 1412.3L772.2 1412.1L773 1410.6L773.8 1409.8L774.6 1410.9L775.4 1410.3L776.2 1408.9L777 1409.9L777.8 1411.9L778.6 1412.7L779.4 1412.2L780.2 1411.7L781 1411.3L781.8 1411.5L782.6 1412.1L783.4 1411.4L784.2 1410.7L785 1407.7L785.8 1400.2L786.6 1385.6L787.4 1400.2L787.4 1415.6Z" fill="#5bb033"/>
<path d="M93 1519.8L93 1515.2L93.8 1515.8L94.6 1515.8L95.4 1512.9L96.2 1512.5L97 1514.1L97.8 1514.5L98.6 1515.3L99.4 1515.4L100.2 1514.9L101 1516.2L101.8 1516.4L102.6 1515.0L103.4 1515.3L104.2 1516.1L105 1515.5L105.8 1514.8L106.6 1513.1L107.4 1508.8L108.2 1501.6L109 1489.8L109.8 1501.6L110.6 1508.8L111.4 1510.5L112.2 1512.9L113 1514.2L113.8 1512.1L114.6 1509.3L115.4 1505.3L116.2 1499.8L117 1505.3L117.8 1509.3L118.6 1512.1L119.4 1510.8L120.2 1506.4L121 1499.8L121.8 1506.4L122.6 1510.8L123.4 1513.8L124.2 1515.8L125 1516.1L125.8 1516.5L126.6 1516.3L127.4 1512.6L128.2 1510.1L129 1512.5L129.8 1513.3L130.6 1513.5L131.4 1514.9L132.2 1512.5L133 1509.5L133.8 1511.7L134.6 1515.5L135.4 1514.9L136.2 1511.9L137 1510.5L137.8 1510.3L138.6 1511.7L139.4 1511.7L140.2 1510.6L141 1511.1L141.8 1512.2L142.6 1514.4L143.4 1515.9L144.2 1515.2L145 1514.0L145.8 1514.3L146.6 1514.1L147.4 1511.9L148.2 1511.1L149 1512.2L149.8 1512.7L150.6 1513.4L151.4 1514.9L152.2 1515.4L153 1515.8L153.8 1514.6L154.6 1512.6L155.4 1513.1L156.2 1513.8L157 1513.3L157.8 1513.3L158.6 1514.4L159.4 1515.5L160.2 1514.7L161 1513.2L161.8 1513.3L162.6 1513.9L163.4 1513.8L164.2 1514.0L165 1515.3L165.8 1516.3L166.6 1515.5L167.4 1514.2L168.2 1514.2L169 1513.6L169.8 1513.4L170.6 1514.9L171.4 1513.9L172.2 1512.0L173 1513.9L173.8 1516.0L174.6 1514.6L175.4 1512.8L176.2 1513.9L177 1514.3L177.8 1513.8L178.6 1510.8L179.4 1506.4L180.2 1499.8L181 1506.4L181.8 1510.8L182.6 1512.9L183.4 1514.2L184.2 1515.4L185 1513.5L185.8 1509.8L186.6 1510.6L187.4 1509.0L188.2 1502.9L189 1493.4L189.8 1478.7L190.6 1455.7L191.4 1419.8L192.2 1455.7L193 1478.7L193.8 1493.4L194.6 1502.9L195.4 1509.0L196.2 1510.1L197 1511.6L197.8 1515.4L198.6 1515.0L199.4 1513.4L200.2 1513.0L201 1511.4L201.8 1511.0L202.6 1513.3L203.4 1513.5L204.2 1513.1L205 1509.9L205.8 1497.8L206.6 1509.9L207.4 1511.7L208.2 1509.6L209 1511.0L209.8 1511.8L210.6 1513.0L211.4 1513.8L212.2 1513.0L213 1515.1L213.8 1517.1L214.6 1515.7L215.4 1513.2L216.2 1508.6L217 1494.8L217.8 1508.6L218.6 1513.5L219.4 1513.6L220.2 1510.2L221 1504.8L221.8 1496.4L222.6 1483.3L223.4 1462.8L224.2 1483.3L225 1496.4L225.8 1504.8L226.6 1510.2L227.4 1511.3L228.2 1513.5L229 1516.0L229.8 1516.4L230.6 1514.8L231.4 1511.1L232.2 1510.3L233 1512.4L233.8 1513.7L234.6 1512.2L235.4 1511.7L236.2 1513.7L237 1514.3L237.8 1514.5L238.6 1515.2L239.4 1515.0L240.2 1513.1L241 1512.6L241.8 1514.2L242.6 1514.6L243.4 1514.3L244.2 1512.4L245 1510.4L245.8 1511.8L246.6 1513.8L247.4 1507.2L248.2 1491.8L249 1507.2L249.8 1514.1L250.6 1516.0L251.4 1516.9L252.2 1512.9L253 1509.0L253.8 1510.9L254.6 1512.8L255.4 1508.6L256.2 1494.8L257 1508.6L257.8 1513.4L258.6 1513.8L259.4 1514.6L260.2 1515.5L261 1515.7L261.8 1514.7L262.6 1515.2L263.4 1513.8L264.2 1511.3L265 1513.2L265.8 1514.3L266.6 1511.2L267.4 1509.2L268.2 1512.0L269 1512.5L269.8 1507.4L270.6 1498.7L271.4 1483.8L272.2 1498.7L273 1507.4L273.8 1512.5L274.6 1514.5L275.4 1514.4L276.2 1515.6L277 1516.6L277.8 1516.6L278.6 1515.8L279.4 1513.1L280.2 1510.9L281 1513.1L281.8 1512.6L282.6 1509.1L283.4 1503.8L284.2 1509.1L285 1512.6L285.8 1515.0L286.6 1514.6L287.4 1510.7L288.2 1509.5L289 1511.8L289.8 1510.6L290.6 1507.5L291.4 1507.2L292.2 1511.0L293 1513.5L293.8 1514.0L294.6 1515.1L295.4 1513.6L296.2 1511.8L297 1513.4L297.8 1515.4L298.6 1515.8L299.4 1515.3L300.2 1514.8L301 1515.7L301.8 1516.4L302.6 1515.3L303.4 1513.5L304.2 1513.1L305 1511.9L305.8 1509.8L306.6 1511.7L307.4 1514.5L308.2 1510.9L309 1508.6L309.8 1505.8L310.6 1511.6L311.4 1515.0L312.2 1514.3L313 1513.0L313.8 1514.6L314.6 1515.7L315.4 1514.6L316.2 1513.3L317 1513.0L317.8 1510.8L318.6 1508.5L319.4 1510.9L320.2 1515.1L321 1516.4L321.8 1516.1L322.6 1515.1L323.4 1514.1L324.2 1515.4L325 1514.0L325.8 1511.5L326.6 1513.9L327.4 1515.0L328.2 1513.8L329 1513.4L329.8 1513.3L330.6 1513.6L331.4 1513.7L332.2 1514.2L333 1514.2L333.8 1514.3L334.6 1516.0L335.4 1516.5L336.2 1514.3L337 1512.9L337.8 1510.9L338.6 1507.0L339.4 1501.4L340.2 1493.4L341 1481.8L341.8 1493.4L342.6 1501.4L343.4 1507.0L344.2 1510.9L345 1513.6L345.8 1515.5L346.6 1515.8L347.4 1516.2L348.2 1515.0L349 1511.6L349.8 1505.8L350.6 1511.6L351.4 1513.3L352.2 1510.9L353 1513.4L353.8 1515.8L354.6 1515.6L355.4 1516.3L356.2 1516.1L357 1514.8L357.8 1514.5L358.6 1515.1L359.4 1515.1L360.2 1514.2L361 1515.2L361.8 1513.3L362.6 1509.6L363.4 1513.0L364.2 1514.4L365 1511.6L365.8 1513.6L366.6 1516.8L367.4 1516.5L368.2 1514.9L369 1514.9L369.8 1515.0L370.6 1513.0L371.4 1512.1L372.2 1513.0L373 1513.7L373.8 1513.5L374.6 1513.6L375.4 1514.4L376.2 1514.5L377 1515.0L377.8 1515.4L378.6 1512.4L379.4 1509.4L380.2 1511.0L381 1513.7L381.8 1515.3L382.6 1516.5L383.4 1516.0L384.2 1513.7L385 1511.6L385.8 1512.7L386.6 1514.7L387.4 1514.9L388.2 1514.9L389 1515.5L389.8 1515.7L390.6 1515.1L391.4 1513.1L392.2 1512.0L393 1514.0L393.8 1515.3L394.6 1514.5L395.4 1513.7L396.2 1514.7L397 1514.8L397.8 1513.4L398.6 1513.1L399.4 1512.2L400.2 1512.3L401 1513.7L401.8 1513.5L402.6 1513.5L403.4 1511.6L404.2 1509.1L405 1505.8L405.8 1509.1L406.6 1511.6L407.4 1513.5L408.2 1515.0L409 1516.1L409.8 1515.6L410.6 1514.6L411.4 1514.1L412.2 1515.1L413 1514.4L413.8 1511.7L414.6 1507.7L415.4 1501.8L416.2 1507.7L417 1511.7L417.8 1508.4L418.6 1502.8L419.4 1494.5L420.2 1482.1L421 1463.5L421.8 1435.8L422.6 1463.5L423.4 1482.1L424.2 1494.5L425 1502.8L425.8 1508.4L426.6 1512.2L427.4 1511.5L428.2 1514.1L429 1515.3L429.8 1513.8L430.6 1512.2L431.4 1506.9L432.2 1497.8L433 1506.9L433.8 1510.8L434.6 1510.8L435.4 1514.3L436.2 1515.3L437 1515.4L437.8 1515.8L438.6 1515.1L439.4 1514.8L440.2 1515.0L441 1514.7L441.8 1512.6L442.6 1511.9L443.4 1507.0L444.2 1494.8L445 1507.0L445.8 1513.2L446.6 1515.8L447.4 1514.7L448.2 1512.3L449 1513.6L449.8 1515.3L450.6 1514.9L451.4 1514.6L452.2 1513.3L453 1510.6L453.8 1501.8L454.6 1510.6L455.4 1509.5L456.2 1512.9L457 1516.1L457.8 1516.6L458.6 1515.8L459.4 1515.5L460.2 1515.6L461 1515.4L461.8 1514.9L462.6 1511.7L463.4 1501.8L464.2 1511.7L465 1509.8L465.8 1512.3L466.6 1514.9L467.4 1513.7L468.2 1513.3L469 1513.4L469.8 1514.5L470.6 1515.2L471.4 1513.9L472.2 1512.9L473 1514.1L473.8 1515.2L474.6 1515.0L475.4 1514.0L476.2 1512.6L477 1514.0L477.8 1515.7L478.6 1515.7L479.4 1516.3L480.2 1516.9L481 1515.8L481.8 1513.1L482.6 1512.1L483.4 1513.5L484.2 1513.6L485 1511.1L485.8 1510.9L486.6 1514.5L487.4 1515.8L488.2 1514.7L489 1514.5L489.8 1513.8L490.6 1513.5L491.4 1514.4L492.2 1515.0L493 1514.5L493.8 1513.4L494.6 1513.9L495.4 1513.9L496.2 1512.4L497 1512.5L497.8 1511.5L498.6 1510.9L499.4 1514.0L500.2 1514.7L501 1512.7L501.8 1509.5L502.6 1504.5L503.4 1496.9L504.2 1485.7L505 1468.9L505.8 1443.8L506.6 1468.9L507.4 1485.7L508.2 1496.9L509 1504.5L509.8 1509.5L510.6 1512.9L511.4 1513.9L512.2 1514.5L513 1514.1L513.8 1513.5L514.6 1511.3L515.4 1510.0L516.2 1511.4L517 1513.3L517.8 1514.5L518.6 1513.3L519.4 1512.5L520.2 1512.7L521 1505.9L521.8 1492.8L522.6 1505.9L523.4 1512.7L524.2 1515.1L525 1516.6L525.8 1516.9L526.6 1515.8L527.4 1515.2L528.2 1514.6L529 1514.2L529.8 1514.9L530.6 1514.0L531.4 1512.7L532.2 1514.1L533 1515.7L533.8 1515.3L534.6 1514.6L535.4 1515.6L536.2 1516.2L537 1515.1L537.8 1513.6L538.6 1513.8L539.4 1515.2L540.2 1512.6L541 1508.9L541.8 1511.4L542.6 1514.9L543.4 1514.4L544.2 1511.8L545 1507.8L545.8 1511.8L546.6 1514.4L547.4 1514.5L548.2 1514.0L549 1512.8L549.8 1511.8L550.6 1513.0L551.4 1513.7L552.2 1513.8L553 1512.7L553.8 1510.9L554.6 1509.6L555.4 1509.1L556.2 1511.5L557 1513.7L557.8 1513.3L558.6 1512.2L559.4 1513.0L560.2 1514.2L561 1511.9L561.8 1507.7L562.6 1507.7L563.4 1512.9L564.2 1515.0L565 1513.8L565.8 1514.7L566.6 1516.2L567.4 1515.6L568.2 1514.1L569 1514.6L569.8 1513.5L570.6 1510.2L571.4 1511.9L572.2 1513.1L573 1510.6L573.8 1512.6L574.6 1513.8L575.4 1510.8L576.2 1506.4L577 1499.8L577.8 1506.4L578.6 1510.8L579.4 1513.2L580.2 1514.1L581 1512.8L581.8 1510.3L582.6 1509.6L583.4 1510.2L584.2 1513.3L585 1514.1L585.8 1511.3L586.6 1510.7L587.4 1511.7L588.2 1513.5L589 1514.4L589.8 1512.9L590.6 1511.7L591.4 1511.6L592.2 1512.7L593 1513.9L593.8 1513.1L594.6 1512.4L595.4 1512.8L596.2 1513.1L597 1514.5L597.8 1515.8L598.6 1514.4L599.4 1511.8L600.2 1507.8L601 1511.8L601.8 1514.3L602.6 1514.5L603.4 1515.2L604.2 1515.3L605 1515.7L605.8 1513.9L606.6 1511.3L607.4 1513.7L608.2 1515.7L609 1513.5L609.8 1511.6L610.6 1513.2L611.4 1516.0L612.2 1517.2L613 1516.4L613.8 1515.5L614.6 1515.7L615.4 1516.1L616.2 1515.6L617 1515.5L617.8 1515.4L618.6 1514.8L619.4 1515.4L620.2 1516.0L621 1514.1L621.8 1510.8L622.6 1510.4L623.4 1511.6L624.2 1511.7L625 1512.2L625.8 1513.9L626.6 1515.5L627.4 1515.5L628.2 1514.9L629 1515.7L629.8 1516.1L630.6 1514.8L631.4 1514.5L632.2 1515.3L633 1515.3L633.8 1514.0L634.6 1512.9L635.4 1514.4L636.2 1516.5L637 1516.1L637.8 1513.5L638.6 1511.8L639.4 1513.3L640.2 1513.8L641 1512.3L641.8 1513.2L642.6 1514.7L643.4 1512.2L644.2 1510.4L645 1513.7L645.8 1515.9L646.6 1515.8L647.4 1515.6L648.2 1515.0L649 1513.7L649.8 1512.9L650.6 1514.0L651.4 1515.4L652.2 1516.0L653 1513.8L653.8 1510.5L654.6 1505.3L655.4 1497.2L656.2 1484.5L657 1464.8L657.8 1484.5L658.6 1497.2L659.4 1505.3L660.2 1510.5L661 1509.3L661.8 1511.8L662.6 1510.8L663.4 1506.4L664.2 1499.8L665 1506.4L665.8 1510.8L666.6 1513.8L667.4 1513.8L668.2 1511.3L669 1510.0L669.8 1512.2L670.6 1513.6L671.4 1513.9L672.2 1514.5L673 1514.6L673.8 1514.2L674.6 1514.8L675.4 1514.4L676.2 1512.0L677 1512.5L677.8 1514.3L678.6 1512.8L679.4 1510.3L680.2 1511.5L681 1514.7L681.8 1515.7L682.6 1515.3L683.4 1516.0L684.2 1516.7L685 1516.2L685.8 1515.5L686.6 1515.7L687.4 1514.9L688.2 1514.0L689 1513.5L689.8 1510.6L690.6 1504.6L691.4 1494.8L692.2 1504.6L693 1510.6L693.8 1514.2L694.6 1511.7L695.4 1509.9L696.2 1509.2L697 1501.8L697.8 1509.2L698.6 1511.0L699.4 1510.5L700.2 1514.0L701 1516.1L701.8 1515.6L702.6 1515.3L703.4 1513.9L704.2 1513.5L705 1514.9L705.8 1515.1L706.6 1515.5L707.4 1514.7L708.2 1513.6L709 1513.9L709.8 1513.3L710.6 1513.7L711.4 1515.1L712.2 1514.7L713 1513.9L713.8 1513.4L714.6 1513.5L715.4 1514.3L716.2 1514.7L717 1514.9L717.8 1514.3L718.6 1513.1L719.4 1511.9L720.2 1513.0L721 1514.2L721.8 1514.1L722.6 1515.6L723.4 1514.2L724.2 1510.8L725 1512.7L725.8 1514.3L726.6 1511.9L727.4 1510.4L728.2 1511.9L729 1512.4L729.8 1505.4L730.6 1491.8L731.4 1505.4L732.2 1512.4L733 1515.8L733.8 1515.7L734.6 1515.3L735.4 1513.0L736.2 1510.2L737 1511.1L737.8 1512.3L738.6 1504.3L739.4 1487.8L740.2 1504.3L741 1512.3L741.8 1516.2L742.6 1515.0L743.4 1514.6L744.2 1515.3L745 1515.1L745.8 1513.0L746.6 1512.9L747.4 1512.4L748.2 1508.3L749 1501.8L749.8 1491.8L750.6 1501.8L751.4 1508.3L752.2 1510.8L753 1512.9L753.8 1515.6L754.6 1516.4L755.4 1515.4L756.2 1514.3L757 1515.1L757.8 1515.6L758.6 1516.1L759.4 1516.4L760.2 1515.5L761 1514.7L761.8 1515.1L762.6 1516.1L763.4 1515.8L764.2 1514.3L765 1512.6L765.8 1513.3L766.6 1514.2L767.4 1513.7L768.2 1513.7L769 1511.6L769.8 1505.8L770.6 1511.6L771.4 1514.9L772.2 1512.5L773 1511.2L773.8 1514.0L774.6 1515.9L775.4 1515.6L776.2 1515.7L777 1513.3L777.8 1510.4L778.6 1511.8L779.4 1514.6L780.2 1514.8L781 1513.3L781.8 1511.9L782.6 1512.6L783.4 1514.3L784.2 1513.7L785 1510.7L785.8 1499.6L786.6 1474.8L787.4 1499.6L787.4 1519.8Z" fill="#5bb033"/>
<path d="M93 1001.6H787.4M93 1105.2H787.4M93 1208.4H787.4M93 1312.5H787.4M93 1415.6H787.4M93 1519.8H787.4" stroke="#3a3a3a" stroke-width="1.1" fill="none"/>
<path d="M128.6 911.4C132.6 910.7 135.8 912.5 139.5 912.4C143.3 912.4 144.5 911.3 147.5 911.1C150.5 910.9 152.2 910.2 154.4 911.4C156.6 912.7 156.4 915.0 158.4 917.4C160.4 919.8 163.0 920.5 164.4 923.3C165.7 926.2 164.7 928.5 165.3 931.8C165.9 935.1 167.5 936.5 167.3 939.7C167.1 942.9 165.3 944.5 164.4 947.7C163.4 950.8 163.0 952.8 162.4 955.6C161.8 958.4 163.2 959.6 161.4 961.5C159.6 963.5 156.6 963.5 153.4 965.5C150.3 967.5 149.1 970.0 145.5 971.5C141.9 973.0 139.5 972.8 135.6 973.0C131.6 973.1 129.2 973.1 125.7 972.3C122.1 971.4 121.1 969.5 117.7 968.5C114.4 967.4 111.4 968.4 108.8 967.0C106.2 965.6 105.8 964.2 104.8 961.5C103.8 958.9 105.0 956.6 103.8 953.6C102.7 950.6 99.5 949.8 99.1 946.7C98.7 943.5 101.4 940.9 101.9 937.7C102.3 934.6 100.4 933.8 101.4 930.8C102.3 927.8 104.9 925.7 106.8 922.9C108.7 920.0 108.2 917.8 110.8 916.4C113.4 915.0 116.1 916.9 119.7 915.9C123.3 914.9 124.7 912.1 128.6 911.4Z" fill="#d8e5f1" stroke="#3a3f4a" stroke-width="0.8"/><path d="M134.2 929.3A13.4 13.4 0 1 0 134.9 955.5" fill="none" stroke="url(#nucg)" stroke-width="11.4" stroke-linecap="round"/>
<path d="M128.6 1019.2C130.0 1019.8 131.4 1020.1 132.6 1022.6C133.8 1025.2 133.3 1028.5 134.1 1030.6C134.9 1032.7 133.8 1033.2 136.1 1032.1C138.4 1031.0 140.3 1028.0 144.5 1025.6C148.8 1023.2 151.7 1022.0 155.4 1021.2C159.1 1020.3 159.7 1020.7 161.4 1021.7C163.0 1022.6 163.3 1022.8 162.9 1025.6C162.4 1028.5 161.5 1030.4 159.4 1034.5C157.3 1038.7 152.8 1042.1 153.4 1044.5C154.1 1046.9 157.8 1044.6 162.4 1045.5C166.9 1046.3 171.9 1046.7 174.3 1048.4C176.7 1050.2 175.7 1051.4 173.3 1053.4C170.9 1055.4 167.1 1055.4 163.4 1057.4C159.6 1059.3 157.5 1059.7 156.4 1062.3C155.3 1064.9 157.4 1066.0 158.4 1069.3C159.4 1072.5 161.5 1075.7 160.9 1077.2C160.2 1078.7 158.2 1077.4 155.4 1076.2C152.7 1075.0 151.3 1072.2 148.5 1071.7C145.6 1071.3 144.5 1072.8 142.5 1074.2C140.6 1075.6 141.1 1075.3 139.5 1078.2C138.0 1081.1 137.1 1086.1 135.6 1087.6C134.1 1089.2 134.4 1087.7 132.6 1085.1C130.9 1082.6 130.5 1078.8 127.6 1076.2C124.8 1073.6 123.6 1073.0 119.7 1073.2C115.8 1073.5 114.4 1075.2 109.8 1077.2C105.2 1079.2 101.6 1082.2 98.9 1082.2C96.1 1082.2 96.9 1080.0 97.4 1077.2C97.8 1074.4 99.2 1072.3 100.9 1069.3C102.5 1066.2 105.5 1065.7 104.8 1063.3C104.2 1060.9 100.8 1060.5 97.9 1058.4C94.9 1056.2 92.1 1055.4 91.4 1053.4C90.8 1051.4 92.4 1051.2 94.9 1049.4C97.4 1047.7 100.3 1047.6 102.8 1045.5C105.4 1043.3 105.9 1042.5 106.6 1039.5C107.3 1036.6 105.3 1034.5 106.0 1032.1C106.7 1029.7 106.8 1028.7 109.8 1028.6C112.8 1028.5 116.7 1032.4 119.7 1031.6C122.8 1030.7 122.2 1027.2 123.7 1024.6C125.2 1022.1 125.4 1021.1 126.5 1019.9C127.5 1018.7 127.3 1018.6 128.6 1019.2Z" fill="#d8e5f1" stroke="#3a3f4a" stroke-width="0.8"/><path d="M122.0 1040.2A12.4 12.4 0 1 0 133.4 1060.7" fill="none" stroke="url(#nucg2)" stroke-width="10.9" stroke-linecap="round"/><path d="M134.1 1050.2L140.5 1048.6M140.5 1044.3L145.0 1049.2" stroke="#a3202a" stroke-width="0.9" fill="none"/><text x="136.6" y="1039.5" font-size="9" class="i">M.tb</text>
<path d="M128.6 1118.2C132.6 1117.5 135.8 1119.3 139.5 1119.2C143.3 1119.2 144.5 1118.1 147.5 1117.9C150.5 1117.7 152.2 1117.0 154.4 1118.2C156.6 1119.5 156.4 1121.8 158.4 1124.2C160.4 1126.6 163.0 1127.3 164.4 1130.1C165.7 1133.0 164.7 1135.3 165.3 1138.6C165.9 1141.9 167.5 1143.3 167.3 1146.5C167.1 1149.7 165.3 1151.3 164.4 1154.5C163.4 1157.6 163.0 1159.6 162.4 1162.4C161.8 1165.2 163.2 1166.4 161.4 1168.3C159.6 1170.3 156.6 1170.3 153.4 1172.3C150.3 1174.3 149.1 1176.8 145.5 1178.3C141.9 1179.8 139.5 1179.6 135.6 1179.8C131.6 1179.9 129.2 1179.9 125.7 1179.1C122.1 1178.2 121.1 1176.3 117.7 1175.3C114.4 1174.2 111.4 1175.2 108.8 1173.8C106.2 1172.4 105.8 1171.0 104.8 1168.3C103.8 1165.7 105.0 1163.4 103.8 1160.4C102.7 1157.4 99.5 1156.6 99.1 1153.5C98.7 1150.3 101.4 1147.7 101.9 1144.5C102.3 1141.4 100.4 1140.6 101.4 1137.6C102.3 1134.6 104.9 1132.5 106.8 1129.7C108.7 1126.8 108.2 1124.6 110.8 1123.2C113.4 1121.8 116.1 1123.7 119.7 1122.7C123.3 1121.7 124.7 1118.9 128.6 1118.2Z" fill="#d8e5f1" stroke="#3a3f4a" stroke-width="0.8"/><path d="M134.2 1136.1A13.4 13.4 0 1 0 134.9 1162.3" fill="none" stroke="url(#nucg)" stroke-width="11.4" stroke-linecap="round"/>
<path d="M132.4 1225.3C133.8 1225.9 135.2 1226.2 136.4 1228.7C137.6 1231.3 137.1 1234.6 137.9 1236.7C138.7 1238.8 137.6 1239.3 139.9 1238.2C142.2 1237.1 144.1 1234.1 148.3 1231.7C152.6 1229.3 155.5 1228.1 159.2 1227.3C162.9 1226.4 163.5 1226.8 165.2 1227.8C166.8 1228.7 167.1 1228.9 166.7 1231.7C166.2 1234.6 165.3 1236.5 163.2 1240.6C161.1 1244.8 156.6 1248.2 157.2 1250.6C157.9 1253.0 161.6 1250.7 166.2 1251.6C170.8 1252.4 175.7 1252.8 178.1 1254.5C180.5 1256.3 179.5 1257.5 177.1 1259.5C174.7 1261.5 170.9 1261.5 167.2 1263.5C163.4 1265.4 161.3 1265.8 160.2 1268.4C159.1 1271.0 161.2 1272.1 162.2 1275.4C163.2 1278.6 165.3 1281.8 164.7 1283.3C164.0 1284.8 162.0 1283.5 159.2 1282.3C156.5 1281.1 155.1 1278.3 152.3 1277.8C149.4 1277.4 148.3 1278.9 146.3 1280.3C144.4 1281.7 144.9 1281.4 143.3 1284.3C141.8 1287.2 140.9 1292.2 139.4 1293.7C137.9 1295.2 138.2 1293.8 136.4 1291.2C134.7 1288.7 134.3 1284.9 131.4 1282.3C128.6 1279.7 127.4 1279.1 123.5 1279.3C119.6 1279.6 118.2 1281.3 113.6 1283.3C109.0 1285.3 105.4 1288.3 102.7 1288.3C99.9 1288.3 100.8 1286.1 101.2 1283.3C101.6 1280.5 103.0 1278.4 104.7 1275.4C106.3 1272.3 109.3 1271.8 108.6 1269.4C108.0 1267.0 104.6 1266.6 101.7 1264.5C98.7 1262.3 95.9 1261.5 95.2 1259.5C94.6 1257.5 96.2 1257.3 98.7 1255.5C101.2 1253.8 104.1 1253.7 106.6 1251.6C109.2 1249.4 109.7 1248.6 110.4 1245.6C111.1 1242.7 109.1 1240.6 109.8 1238.2C110.5 1235.8 110.6 1234.8 113.6 1234.7C116.6 1234.6 120.5 1238.5 123.5 1237.7C126.6 1236.8 126.0 1233.3 127.5 1230.7C129.0 1228.2 129.2 1227.2 130.3 1226.0C131.3 1224.8 131.1 1224.7 132.4 1225.3Z" fill="#d8e5f1" stroke="#3a3f4a" stroke-width="0.8"/><path d="M125.8 1246.3A12.4 12.4 0 1 0 137.2 1266.8" fill="none" stroke="url(#nucg2)" stroke-width="10.9" stroke-linecap="round"/><path d="M137.9 1256.3L144.3 1254.7M144.3 1250.4L148.8 1255.3" stroke="#a3202a" stroke-width="0.9" fill="none"/><text x="140.4" y="1245.6" font-size="9" class="i">M.tb</text>
<path d="M128.6 1325.2C132.6 1324.5 135.8 1326.3 139.5 1326.2C143.3 1326.2 144.5 1325.1 147.5 1324.9C150.5 1324.7 152.2 1324.0 154.4 1325.2C156.6 1326.5 156.4 1328.8 158.4 1331.2C160.4 1333.6 163.0 1334.3 164.4 1337.1C165.7 1340.0 164.7 1342.3 165.3 1345.6C165.9 1348.9 167.5 1350.3 167.3 1353.5C167.1 1356.7 165.3 1358.3 164.4 1361.5C163.4 1364.6 163.0 1366.6 162.4 1369.4C161.8 1372.2 163.2 1373.4 161.4 1375.3C159.6 1377.3 156.6 1377.3 153.4 1379.3C150.3 1381.3 149.1 1383.8 145.5 1385.3C141.9 1386.8 139.5 1386.6 135.6 1386.8C131.6 1386.9 129.2 1386.9 125.7 1386.1C122.1 1385.2 121.1 1383.3 117.7 1382.3C114.4 1381.2 111.4 1382.2 108.8 1380.8C106.2 1379.4 105.8 1378.0 104.8 1375.3C103.8 1372.7 105.0 1370.4 103.8 1367.4C102.7 1364.4 99.5 1363.6 99.1 1360.5C98.7 1357.3 101.4 1354.7 101.9 1351.5C102.3 1348.4 100.4 1347.6 101.4 1344.6C102.3 1341.6 104.9 1339.5 106.8 1336.7C108.7 1333.8 108.2 1331.6 110.8 1330.2C113.4 1328.8 116.1 1330.7 119.7 1329.7C123.3 1328.7 124.7 1325.9 128.6 1325.2Z" fill="#d8e5f1" stroke="#3a3f4a" stroke-width="0.8"/><path d="M134.2 1343.1A13.4 13.4 0 1 0 134.9 1369.3" fill="none" stroke="url(#nucg)" stroke-width="11.4" stroke-linecap="round"/>
<path d="M129.4 1432.3C130.8 1432.9 132.2 1433.2 133.4 1435.7C134.6 1438.3 134.1 1441.6 134.9 1443.7C135.7 1445.8 134.6 1446.3 136.9 1445.2C139.2 1444.1 141.1 1441.1 145.3 1438.7C149.6 1436.3 152.5 1435.1 156.2 1434.3C159.9 1433.4 160.5 1433.8 162.2 1434.8C163.8 1435.7 164.1 1435.9 163.7 1438.7C163.2 1441.6 162.3 1443.5 160.2 1447.6C158.1 1451.8 153.6 1455.2 154.2 1457.6C154.9 1460.0 158.6 1457.7 163.2 1458.6C167.8 1459.4 172.7 1459.8 175.1 1461.5C177.5 1463.3 176.5 1464.5 174.1 1466.5C171.7 1468.5 167.9 1468.5 164.2 1470.5C160.4 1472.4 158.3 1472.8 157.2 1475.4C156.1 1478.0 158.2 1479.1 159.2 1482.4C160.2 1485.6 162.3 1488.8 161.7 1490.3C161.0 1491.8 159.0 1490.5 156.2 1489.3C153.5 1488.1 152.1 1485.3 149.3 1484.8C146.4 1484.4 145.3 1485.9 143.3 1487.3C141.4 1488.7 141.9 1488.4 140.3 1491.3C138.8 1494.2 137.9 1499.2 136.4 1500.7C134.9 1502.2 135.2 1500.8 133.4 1498.2C131.7 1495.7 131.3 1491.9 128.4 1489.3C125.6 1486.7 124.4 1486.1 120.5 1486.3C116.6 1486.6 115.2 1488.3 110.6 1490.3C106.0 1492.3 102.4 1495.3 99.7 1495.3C96.9 1495.3 97.8 1493.1 98.2 1490.3C98.6 1487.5 100.0 1485.4 101.7 1482.4C103.3 1479.3 106.3 1478.8 105.6 1476.4C105.0 1474.0 101.6 1473.6 98.7 1471.5C95.7 1469.3 92.9 1468.5 92.2 1466.5C91.6 1464.5 93.2 1464.3 95.7 1462.5C98.2 1460.8 101.1 1460.7 103.6 1458.6C106.2 1456.4 106.7 1455.6 107.4 1452.6C108.1 1449.7 106.1 1447.6 106.8 1445.2C107.5 1442.8 107.6 1441.8 110.6 1441.7C113.6 1441.6 117.5 1445.5 120.5 1444.7C123.6 1443.8 123.0 1440.3 124.5 1437.7C126.0 1435.2 126.2 1434.2 127.3 1433.0C128.3 1431.8 128.1 1431.7 129.4 1432.3Z" fill="#d8e5f1" stroke="#3a3f4a" stroke-width="0.8"/><path d="M122.8 1453.3A12.4 12.4 0 1 0 134.2 1473.8" fill="none" stroke="url(#nucg2)" stroke-width="10.9" stroke-linecap="round"/><path d="M134.9 1463.3L141.3 1461.7M141.3 1457.4L145.8 1462.3" stroke="#a3202a" stroke-width="0.9" fill="none"/>
<path d="M809.6 913.1h17.4v180.7h-17.4M809.6 1120.9h17.4v181.2h-17.4M809.6 1329.2h17.4v181.2h-17.4" fill="none" stroke="#2e2222" stroke-width="1.6"/>
<text transform="translate(839.5,1005.9) rotate(90)" font-size="28.8" text-anchor="middle">RNA</text>
<text transform="translate(839.5,1215.7) rotate(90)" font-size="28.8" text-anchor="middle">ATAC</text>
<text transform="translate(839.5,1418.1) rotate(90)" font-size="28.8" text-anchor="middle">H3K4me3</text>
<!-- pb -->
<text x="1105.3" y="59.7" font-size="50" class="b">b</text>
<text x="1586" y="21" font-size="28.8" text-anchor="middle">Merged single cell contact matrix</text>
<text x="1589.5" y="58.5" font-size="28.8" text-anchor="middle">Chr1:89575000-89800000</text>
<clipPath id="pbclip"><rect x="1195.5" y="69" width="763" height="757.5"/></clipPath>
<g clip-path="url(#pbclip)">
<circle cx="1217.3" cy="76.3" r="11.2" fill="#d0272a"/>
<circle cx="1289.7" cy="80.7" r="11.2" fill="#8c63ac"/>
<circle cx="1264.0" cy="93.9" r="11.2" fill="#d279b1"/>
<circle cx="1289.3" cy="104.9" r="11.2" fill="#f07f21"/>
<circle cx="1204.1" cy="107.0" r="11.2" fill="#8b564c"/>
<circle cx="1230.9" cy="120.2" r="11.2" fill="#8c63ac"/>
<circle cx="1203.0" cy="143.3" r="11.2" fill="#f07f21"/>
<circle cx="1207.4" cy="135.1" r="11.2" fill="#d279b1"/>
<circle cx="1246.9" cy="154.9" r="11.2" fill="#808080"/>
<circle cx="1237.5" cy="166.3" r="11.2" fill="#808080"/>
<circle cx="1220.2" cy="174.6" r="11.2" fill="#d279b1"/>
<circle cx="1275.9" cy="171.8" r="11.2" fill="#8b564c"/>
<circle cx="1315.4" cy="171.3" r="11.2" fill="#808080"/>
<circle cx="1342.8" cy="152.7" r="11.2" fill="#1fb3c6"/>
<circle cx="1368.3" cy="172.9" r="11.2" fill="#d279b1"/>
<circle cx="1412.6" cy="163.0" r="11.2" fill="#1fb3c6"/>
<circle cx="1516.4" cy="207.3" r="11.2" fill="#d0272a"/>
<circle cx="1333.6" cy="224.4" r="11.2" fill="#808080"/>
<circle cx="1241.7" cy="227.3" r="11.2" fill="#d279b1"/>
<circle cx="1276.5" cy="224.9" r="11.2" fill="#1fb3c6"/>
<circle cx="1281.4" cy="238.7" r="11.2" fill="#2f9e3a"/>
<circle cx="1407.5" cy="238.0" r="11.2" fill="#1fb3c6"/>
<circle cx="1474.0" cy="238.0" r="11.2" fill="#d279b1"/>
<circle cx="1575.0" cy="260.6" r="11.2" fill="#b5b82b"/>
<circle cx="1341.9" cy="265.5" r="11.2" fill="#d0272a"/>
<circle cx="1408.2" cy="260.6" r="11.2" fill="#f07f21"/>
<circle cx="1440.0" cy="289.2" r="11.2" fill="#808080"/>
<circle cx="1433.0" cy="281.9" r="11.2" fill="#d0272a"/>
<circle cx="1471.8" cy="291.8" r="11.2" fill="#d0272a"/>
<circle cx="1496.6" cy="292.5" r="11.2" fill="#1fb3c6"/>
<circle cx="1519.0" cy="287.0" r="11.2" fill="#f07f21"/>
<circle cx="1401.6" cy="294.7" r="11.2" fill="#d279b1"/>
<circle cx="1414.8" cy="313.3" r="11.2" fill="#2f9e3a"/>
<circle cx="1425.7" cy="316.6" r="11.2" fill="#8c63ac"/>
<circle cx="1406.0" cy="304.5" r="11.2" fill="#d0272a"/>
<circle cx="1448.8" cy="303.9" r="11.2" fill="#1f72ac"/>
<circle cx="1496.0" cy="308.9" r="11.2" fill="#1fb3c6"/>
<circle cx="1515.3" cy="310.4" r="11.2" fill="#1f72ac"/>
<circle cx="1290.1" cy="297.3" r="11.2" fill="#1f72ac"/>
<circle cx="1339.3" cy="308.9" r="11.2" fill="#d279b1"/>
<circle cx="1423.6" cy="313.3" r="11.2" fill="#f07f21"/>
<circle cx="1399.4" cy="315.5" r="11.2" fill="#b5b82b"/>
<circle cx="1577.1" cy="314.8" r="11.2" fill="#d0272a"/>
<circle cx="1241.7" cy="336.3" r="11.2" fill="#8c63ac"/>
<circle cx="1271.1" cy="345.6" r="11.2" fill="#1f72ac"/>
<circle cx="1399.4" cy="345.1" r="11.2" fill="#8b564c"/>
<circle cx="1427.5" cy="348.4" r="11.2" fill="#8c63ac"/>
<circle cx="1534.8" cy="347.3" r="11.2" fill="#8b564c"/>
<circle cx="1559.6" cy="363.8" r="11.2" fill="#808080"/>
<circle cx="1402.7" cy="366.6" r="11.2" fill="#8c63ac"/>
<circle cx="1392.8" cy="368.2" r="11.2" fill="#1f72ac"/>
<circle cx="1425.7" cy="364.4" r="11.2" fill="#8b564c"/>
<circle cx="1465.2" cy="367.1" r="11.2" fill="#d279b1"/>
<circle cx="1464.6" cy="356.1" r="11.2" fill="#1fb3c6"/>
<circle cx="1464.8" cy="380.2" r="11.2" fill="#1f72ac"/>
<circle cx="1449.9" cy="370.4" r="11.2" fill="#b5b82b"/>
<circle cx="1434.5" cy="376.9" r="11.2" fill="#b5b82b"/>
<circle cx="1572.8" cy="375.8" r="11.2" fill="#2f9e3a"/>
<circle cx="1262.9" cy="389.0" r="11.2" fill="#1fb3c6"/>
<circle cx="1508.5" cy="420.4" r="11.2" fill="#b5b82b"/>
<circle cx="1532.2" cy="420.8" r="11.2" fill="#1f72ac"/>
<circle cx="1542.0" cy="436.2" r="11.2" fill="#1fb3c6"/>
<circle cx="1575.0" cy="420.8" r="11.2" fill="#b5b82b"/>
<circle cx="1563.5" cy="413.1" r="11.2" fill="#f07f21"/>
<circle cx="1550.8" cy="442.8" r="11.2" fill="#b5b82b"/>
<circle cx="1420.3" cy="451.5" r="11.2" fill="#8c63ac"/>
<circle cx="1408.2" cy="448.2" r="11.2" fill="#f07f21"/>
<circle cx="1346.8" cy="449.3" r="11.2" fill="#1f72ac"/>
<circle cx="1723.7" cy="79.6" r="11.2" fill="#d0272a"/>
<circle cx="1811.0" cy="103.8" r="11.2" fill="#8b564c"/>
<circle cx="1921.2" cy="138.9" r="11.2" fill="#1fb3c6"/>
<circle cx="1875.8" cy="230.6" r="11.2" fill="#1f72ac"/>
<circle cx="1701.3" cy="281.9" r="11.2" fill="#8b564c"/>
<circle cx="1793.9" cy="300.1" r="11.2" fill="#8b564c"/>
<circle cx="1679.8" cy="334.6" r="11.2" fill="#d0272a"/>
<circle cx="1768.3" cy="365.3" r="11.2" fill="#d0272a"/>
<circle cx="1938.7" cy="379.8" r="11.2" fill="#b5b82b"/>
<circle cx="1809.7" cy="412.7" r="11.2" fill="#808080"/>
<circle cx="1644.1" cy="416.4" r="11.2" fill="#b5b82b"/>
<circle cx="1691.5" cy="433.5" r="11.2" fill="#1f72ac"/>
<circle cx="1762.6" cy="437.3" r="11.2" fill="#1f72ac"/>
<circle cx="1717.1" cy="449.3" r="11.2" fill="#1f72ac"/>
<circle cx="1580.0" cy="420.8" r="11.2" fill="#f07f21"/>
<circle cx="1585.5" cy="429.6" r="11.2" fill="#d279b1"/>
<circle cx="1521.2" cy="452.5" r="11.2" fill="#f07f21"/>
<circle cx="1543.1" cy="448.8" r="11.2" fill="#1f72ac"/>
<circle cx="1554.1" cy="447.7" r="11.2" fill="#8b564c"/>
<circle cx="1239.2" cy="480.2" r="11.2" fill="#808080"/>
<circle cx="1272.8" cy="513.1" r="11.2" fill="#1fb3c6"/>
<circle cx="1364.8" cy="503.6" r="11.2" fill="#808080"/>
<circle cx="1201.9" cy="560.0" r="11.2" fill="#f07f21"/>
<circle cx="1242.5" cy="562.2" r="11.2" fill="#2f9e3a"/>
<circle cx="1331.8" cy="562.2" r="11.2" fill="#1fb3c6"/>
<circle cx="1417.6" cy="573.2" r="11.2" fill="#1f72ac"/>
<circle cx="1448.8" cy="571.0" r="11.2" fill="#808080"/>
<circle cx="1470.7" cy="586.4" r="11.2" fill="#d0272a"/>
<circle cx="1492.7" cy="558.5" r="11.2" fill="#8c63ac"/>
<circle cx="1519.0" cy="562.9" r="11.2" fill="#f07f21"/>
<circle cx="1519.0" cy="553.0" r="11.2" fill="#8b564c"/>
<circle cx="1534.4" cy="554.1" r="11.2" fill="#8b564c"/>
<circle cx="1516.8" cy="559.6" r="11.2" fill="#8c63ac"/>
<circle cx="1578.2" cy="551.9" r="11.2" fill="#808080"/>
<circle cx="1564.0" cy="557.8" r="11.2" fill="#b5b82b"/>
<circle cx="1577.1" cy="586.4" r="11.2" fill="#d0272a"/>
<circle cx="1201.9" cy="590.3" r="11.2" fill="#f07f21"/>
<circle cx="1497.1" cy="672.6" r="11.2" fill="#8b564c"/>
<circle cx="1504.1" cy="692.3" r="11.2" fill="#1f72ac"/>
<circle cx="1485.0" cy="690.1" r="11.2" fill="#808080"/>
<circle cx="1357.7" cy="690.1" r="11.2" fill="#8c63ac"/>
<circle cx="1299.6" cy="737.8" r="11.2" fill="#b5b82b"/>
<circle cx="1368.3" cy="734.0" r="11.2" fill="#1f72ac"/>
<circle cx="1515.3" cy="734.0" r="11.2" fill="#d279b1"/>
<circle cx="1709.5" cy="496.0" r="11.2" fill="#f07f21"/>
<circle cx="1728.1" cy="500.8" r="11.2" fill="#d279b1"/>
<circle cx="1624.8" cy="535.9" r="11.2" fill="#1f72ac"/>
<circle cx="1691.2" cy="537.2" r="11.2" fill="#1fb3c6"/>
<circle cx="1725.5" cy="571.0" r="11.2" fill="#808080"/>
<circle cx="1679.8" cy="594.3" r="11.2" fill="#d0272a"/>
<circle cx="1688.2" cy="578.7" r="11.2" fill="#1fb3c6"/>
<circle cx="1705.1" cy="596.9" r="11.2" fill="#d279b1"/>
<circle cx="1707.3" cy="589.2" r="11.2" fill="#808080"/>
<circle cx="1691.9" cy="596.9" r="11.2" fill="#b5b82b"/>
<circle cx="1696.3" cy="589.2" r="11.2" fill="#b5b82b"/>
<circle cx="1688.2" cy="611.8" r="11.2" fill="#d0272a"/>
<circle cx="1779.0" cy="590.3" r="11.2" fill="#f07f21"/>
<circle cx="1815.2" cy="616.6" r="11.2" fill="#f07f21"/>
<circle cx="1741.9" cy="628.3" r="11.2" fill="#1f72ac"/>
<circle cx="1780.8" cy="628.7" r="11.2" fill="#d279b1"/>
<circle cx="1787.4" cy="638.6" r="11.2" fill="#1fb3c6"/>
<circle cx="1807.1" cy="647.4" r="11.2" fill="#1fb3c6"/>
<circle cx="1812.6" cy="660.5" r="11.2" fill="#b5b82b"/>
<circle cx="1879.5" cy="648.4" r="11.2" fill="#8c63ac"/>
<circle cx="1885.0" cy="655.0" r="11.2" fill="#1fb3c6"/>
<circle cx="1746.8" cy="671.5" r="11.2" fill="#8c63ac"/>
<circle cx="1749.6" cy="659.4" r="11.2" fill="#d0272a"/>
<circle cx="1697.0" cy="674.1" r="11.2" fill="#b5b82b"/>
<circle cx="1742.4" cy="684.2" r="11.2" fill="#8b564c"/>
<circle cx="1778.6" cy="680.3" r="11.2" fill="#d279b1"/>
<circle cx="1779.7" cy="679.2" r="11.2" fill="#808080"/>
<circle cx="1779.7" cy="669.3" r="11.2" fill="#808080"/>
<circle cx="1765.0" cy="674.8" r="11.2" fill="#2f9e3a"/>
<circle cx="1792.2" cy="677.6" r="11.2" fill="#8c63ac"/>
<circle cx="1690.1" cy="707.7" r="11.2" fill="#1f72ac"/>
<circle cx="1733.6" cy="720.9" r="11.2" fill="#2f9e3a"/>
<circle cx="1727.0" cy="724.6" r="11.2" fill="#d0272a"/>
<circle cx="1803.4" cy="712.1" r="11.2" fill="#1fb3c6"/>
<circle cx="1822.5" cy="716.9" r="11.2" fill="#1f72ac"/>
<circle cx="1896.0" cy="708.8" r="11.2" fill="#d0272a"/>
<circle cx="1881.7" cy="726.3" r="11.2" fill="#8b564c"/>
<circle cx="1846.2" cy="734.7" r="11.2" fill="#1fb3c6"/>
<circle cx="1865.2" cy="754.4" r="11.2" fill="#b5b82b"/>
<circle cx="1714.9" cy="760.4" r="11.2" fill="#f07f21"/>
<circle cx="1717.1" cy="772.9" r="11.2" fill="#f07f21"/>
<circle cx="1746.3" cy="763.0" r="11.2" fill="#1f72ac"/>
<circle cx="1951.9" cy="764.7" r="11.2" fill="#1f72ac"/>
<circle cx="1765.4" cy="792.2" r="11.2" fill="#8c63ac"/>
<circle cx="1779.7" cy="805.8" r="11.2" fill="#d0272a"/>
<circle cx="1891.1" cy="792.2" r="11.2" fill="#8c63ac"/>
</g>
<rect x="1303.5" y="101.6" width="258.3" height="64.7" fill="rgba(225,150,150,0.23)" stroke="rgba(170,170,170,0.6)" stroke-width="1.3"/>
<rect x="1229.4" y="176.8" width="64.7" height="264.2" fill="rgba(225,150,150,0.23)" stroke="rgba(170,170,170,0.6)" stroke-width="1.3"/>
<rect x="1778.6" y="524.5" width="141.9" height="99.4" fill="rgba(225,150,150,0.23)" stroke="rgba(170,170,170,0.6)" stroke-width="1.3"/>
<rect x="1657.9" y="646.7" width="99.4" height="141.7" fill="rgba(225,150,150,0.23)" stroke="rgba(170,170,170,0.6)" stroke-width="1.3"/>
<rect x="1619" y="83.4" width="154" height="396.5" fill="rgba(150,195,150,0.23)" stroke="rgba(170,170,170,0.6)" stroke-width="1.3"/>
<rect x="1209.2" y="487.8" width="398.2" height="154.1" fill="rgba(150,195,150,0.23)" stroke="rgba(170,170,170,0.6)" stroke-width="1.3"/>
<path d="M1209 565H1595" stroke="#111" stroke-width="1.4" stroke-dasharray="6 2.5" fill="none"/>
<path d="M1199.5 73L1954 822.5" stroke="#9d9b9b" stroke-width="8.6" fill="none"/>
<rect x="1195.5" y="69" width="762.8" height="757.5" fill="none" stroke="#9d9b9b" stroke-width="8.2"/>
<text x="1785" y="100.5" font-size="28.8">Thp1-macro</text>
<text x="1788" y="133.5" font-size="28.8">(DoD=3.17)</text>
<text x="1226" y="773.5" font-size="28.8">Thp1-<tspan class="i">M.tb</tspan></text>
<text x="1217.3" y="807" font-size="28.8">(DoD=2.34)</text>
<text x="1650" y="207" font-size="28.8" fill="#9b1c20">Random</text>
<text x="1340" y="624.5" font-size="28.8" fill="#9b1c20">Orderly</text>
<path d="M1440 866.5H1953" stroke="#231815" stroke-width="2.4" fill="none"/>
<rect x="1203.7" y="850.6" width="155.5" height="32" fill="#ebebb4" stroke="#231815" stroke-width="2.6"/>
<rect x="1359.2" y="850.6" width="81.4" height="32" fill="#e39c8c" stroke="#231815" stroke-width="2.6"/>
<rect x="1445.6" y="850.6" width="74" height="32" fill="#8dc5a2" stroke="#231815" stroke-width="2.6"/>
<rect x="1705.7" y="850.6" width="54.8" height="32" fill="#8fbce2" stroke="#231815" stroke-width="2.6"/>
<text x="1201" y="913" font-size="28.8" class="i">GBP2</text>
<text x="1360.7" y="913" font-size="28.8" class="i">GBP7</text>
<text x="1466.3" y="913" font-size="28.8" class="i">GBP4</text>
<text x="1706.2" y="913" font-size="28.8" class="i">GBP5</text>
<!-- pc -->
<text x="1105.4" y="992.8" font-size="50" class="b">c</text>
<rect x="1187.4" y="946.6" width="783" height="48.8" fill="#fbf1f1" stroke="#dcdcdc" stroke-width="1.2"/>
<rect x="1187.4" y="998.5" width="783" height="226.2" fill="#f7faf7" stroke="#dcdcdc" stroke-width="1.2"/>
<rect x="1187.4" y="1227.4" width="783" height="47.8" fill="#fbf1f1" stroke="#dcdcdc" stroke-width="1.2"/>
<rect x="1187.4" y="1278.4" width="783" height="244.8" fill="#f7faf7" stroke="#dcdcdc" stroke-width="1.2"/>
<text x="1584" y="983" font-size="28.8" text-anchor="middle">Single cell interaction in high DoD region</text>
<text x="1584" y="1259.3" font-size="28.8" text-anchor="middle">Single cell interaction in low DoD region</text>
<path d="M1484.17 1102.54H1899.85" stroke="#aaa9a9" stroke-width="3.6" fill="none"/>
<rect x="1261.07" y="1090.25" width="140.229" height="25.9516" fill="#e9e7a3"/>
<rect x="1401.3" y="1090.25" width="82.8629" height="25.9516" fill="#e5998b"/>
<rect x="1496.91" y="1090.25" width="64.6512" height="25.9516" fill="#8cc5a2"/>
<rect x="1735.94" y="1090.25" width="44.6185" height="25.9516" fill="#8ebce4"/>
<path d="M1312.5 1090.2A168.5 83.1 0 0 1 1649.4 1101.6" fill="none" stroke="#e6e38c" stroke-width="1.9"/>
<path d="M1379.9 1090.2A146.1 83.1 0 0 1 1672.2 1101.6" fill="none" stroke="#a59b9b" stroke-width="1.9"/>
<path d="M1474.2 1090.2A125.2 83.1 0 0 1 1724.6 1101.6" fill="none" stroke="#eaa3a3" stroke-width="1.9"/>
<path d="M1537.0 1090.2A151.8 83.1 0 0 1 1840.7 1101.6" fill="none" stroke="#8fd0b0" stroke-width="2"/>
<path d="M1583.4 1101.6A89.9 83.1 0 0 1 1763.3 1090.2" fill="none" stroke="#7464b0" stroke-width="2.5"/>
<text x="1283.8" y="1113.9" font-size="31.2" class="i">GBP2</text>
<text x="1399.9" y="1113.9" font-size="31.2" class="i">GBP7</text>
<text x="1501.5" y="1113.9" font-size="31.2" class="i">GBP4</text>
<text x="1737.3" y="1113.9" font-size="31.2" class="i">GBP5</text>
<text x="1322.5" y="1049.3" font-size="28.8">Cell 1</text>
<text x="1412.7" y="1049.3" font-size="28.8">Cell 2</text>
<text x="1497.8" y="1045.6" font-size="28.8">···</text>
<text x="1761.0" y="1045.6" font-size="28.8">···</text>
<text x="1797.4" y="1049.3" font-size="28.8">Cell N</text>
<text x="1267.0" y="1154.9" font-size="28.8">RNA</text>
<text x="1741.9" y="1164.0" font-size="28.8">Thp1-Macro</text>
<text x="1236.0" y="1169.9" font-size="20.5" text-anchor="end">400</text>
<text x="1236.0" y="1212.3" font-size="20.5" text-anchor="end">0</text>
<path d="M1246.5 1157.2h4.5v54.6h-4.5" fill="none" stroke="#231815" stroke-width="1.1"/>
<path d="M1262.4 1212.3H1903.5" stroke="#111" stroke-width="1.2" fill="none"/>
<path d="M1263.8 1212.3v-0.8h0.8v0.8zM1266.7 1212.3v-0.8h0.8v0.8zM1269.7 1212.3v-1.9h0.8v1.9zM1272.0 1212.3v-4.0h0.8v4.0zM1274.1 1212.3v-1.0h0.8v1.0zM1275.4 1212.3v-0.5h0.8v0.5zM1278.0 1212.3v-1.7h0.8v1.7zM1279.3 1212.3v-5.1h0.8v5.1zM1280.8 1212.3v-1.5h0.8v1.5zM1282.4 1212.3v-2.9h0.8v2.9zM1284.6 1212.3v-2.7h0.8v2.7zM1286.2 1212.3v-1.0h0.8v1.0zM1287.6 1212.3v-1.1h0.8v1.1zM1288.9 1212.3v-0.7h0.8v0.7zM1292.0 1212.3v-6.0h0.8v6.0zM1293.3 1212.3v-0.5h0.8v0.5zM1294.7 1212.3v-3.4h0.8v3.4zM1297.4 1212.3v-0.5h0.8v0.5zM1299.6 1212.3v-0.5h0.8v0.5zM1301.7 1212.3v-3.0h0.8v3.0zM1304.9 1212.3v-0.9h0.8v0.9zM1307.6 1212.3v-5.0h0.8v5.0zM1310.6 1212.3v-0.5h0.8v0.5zM1312.6 1212.3v-6.3h0.8v6.3zM1314.4 1212.3v-4.5h0.8v4.5zM1316.6 1212.3v-4.1h0.8v4.1zM1318.6 1212.3v-0.5h0.8v0.5zM1492.4 1212.3v-0.6h0.8v0.6zM1493.8 1212.3v-5.2h0.8v5.2zM1496.2 1212.3v-3.8h0.8v3.8zM1498.4 1212.3v-2.5h0.8v2.5zM1501.2 1212.3v-4.8h0.8v4.8zM1504.1 1212.3v-3.9h0.8v3.9zM1505.3 1212.3v-1.2h0.8v1.2zM1506.3 1212.3v-2.0h0.8v2.0zM1509.0 1212.3v-0.5h0.8v0.5zM1510.3 1212.3v-1.2h0.8v1.2zM1511.8 1212.3v-3.7h0.8v3.7zM1513.5 1212.3v-2.5h0.8v2.5zM1515.5 1212.3v-2.2h0.8v2.2zM1518.6 1212.3v-5.0h0.8v5.0zM1519.7 1212.3v-4.1h0.8v4.1zM1521.4 1212.3v-0.6h0.8v0.6zM1523.2 1212.3v-1.8h0.8v1.8zM1526.3 1212.3v-1.2h0.8v1.2zM1527.3 1212.3v-4.2h0.8v4.2zM1528.4 1212.3v-1.6h0.8v1.6zM1531.3 1212.3v-1.8h0.8v1.8zM1533.2 1212.3v-3.7h0.8v3.7zM1534.2 1212.3v-2.1h0.8v2.1zM1536.0 1212.3v-5.4h0.8v5.4zM1538.7 1212.3v-0.5h0.8v0.5zM1540.1 1212.3v-1.5h0.8v1.5zM1542.6 1212.3v-1.1h0.8v1.1zM1544.3 1212.3v-4.7h0.8v4.7zM1731.4 1212.3v-0.9h0.8v0.9zM1734.3 1212.3v-0.8h0.8v0.8zM1735.4 1212.3v-1.2h0.8v1.2zM1737.9 1212.3v-2.5h0.8v2.5zM1741.0 1212.3v-2.0h0.8v2.0zM1743.6 1212.3v-1.8h0.8v1.8zM1746.1 1212.3v-2.0h0.8v2.0zM1749.2 1212.3v-0.8h0.8v0.8zM1750.3 1212.3v-0.6h0.8v0.6zM1751.8 1212.3v-0.8h0.8v0.8zM1754.5 1212.3v-0.5h0.8v0.5zM1756.4 1212.3v-2.2h0.8v2.2zM1758.0 1212.3v-0.5h0.8v0.5zM1759.4 1212.3v-0.5h0.8v0.5zM1762.2 1212.3v-0.6h0.8v0.6zM1763.5 1212.3v-2.2h0.8v2.2zM1766.3 1212.3v-1.4h0.8v1.4zM1769.3 1212.3v-0.5h0.8v0.5zM1772.4 1212.3v-1.3h0.8v1.3zM1774.0 1212.3v-2.2h0.8v2.2zM1776.4 1212.3v-2.9h0.8v2.9zM1777.5 1212.3v-1.3h0.8v1.3zM1779.5 1212.3v-1.6h0.8v1.6zM1781.0 1212.3v-0.5h0.8v0.5z" fill="#e0201c"/>
<path d="M1471.87 1388.93H1893.02" stroke="#aaa9a9" stroke-width="3.6" fill="none"/>
<rect x="1254.25" y="1376.18" width="134.766" height="26.4068" fill="#e9e7a3"/>
<rect x="1389.01" y="1376.18" width="82.8629" height="26.4068" fill="#e5998b"/>
<rect x="1485.08" y="1376.18" width="61.9195" height="26.4068" fill="#8cc5a2"/>
<rect x="1733.67" y="1376.18" width="46.4396" height="26.4068" fill="#8ebce4"/>
<path d="M1310.9 1376.0C1391.5 1281.6 1749.5 1271.8 1758.5 1376.0" fill="none" stroke="#a59b9b" stroke-width="1.9"/>
<path d="M1337.7 1376.0C1413.6 1282.2 1751.1 1272.5 1759.5 1376.0" fill="none" stroke="#9bb6e2" stroke-width="1.9"/>
<path d="M1366.8 1376.0C1438.3 1282.9 1756.1 1273.2 1764.0 1376.0" fill="none" stroke="#eaa3a3" stroke-width="1.9"/>
<path d="M1392.9 1376.0C1459.1 1283.9 1753.1 1274.3 1760.5 1376.0" fill="none" stroke="#cfe08c" stroke-width="1.9"/>
<path d="M1419.8 1376.0C1481.3 1284.8 1754.7 1275.3 1761.5 1376.0" fill="none" stroke="#8a90d0" stroke-width="1.9"/>
<path d="M1450.0 1376.0C1506.2 1285.8 1755.8 1276.4 1762.0 1376.0" fill="none" stroke="#8fd0b0" stroke-width="1.9"/>
<path d="M1476.9 1388.0V1376.0C1528.4 1286.6 1757.3 1277.3 1763.0 1376.0" fill="none" stroke="#eaa3a3" stroke-width="1.9"/>
<path d="M1503.0 1376.0C1549.7 1289.5 1757.3 1280.5 1762.5 1376.0" fill="none" stroke="#6a55ad" stroke-width="2.5"/>
<text x="1277.0" y="1399.9" font-size="27.8" class="i">GBP2</text>
<text x="1392.2" y="1401.2" font-size="27.8" class="i">GBP7</text>
<text x="1486.9" y="1399.9" font-size="27.8" class="i">GBP4</text>
<text x="1734.6" y="1399.9" font-size="27.8" class="i">GBP5</text>
<text x="1286.6" y="1332.9" font-size="28.8">Cell 1</text>
<text x="1377.2" y="1332.9" font-size="28.8">Cell 2</text>
<text x="1456.8" y="1329.3" font-size="28.8">···</text>
<text x="1663.1" y="1327.5" font-size="28.8">···</text>
<text x="1710.9" y="1329.3" font-size="28.8">Cell N</text>
<text x="1263.4" y="1442.2" font-size="28.8">RNA</text>
<text x="1748.2" y="1446.8" font-size="28.8">Thp1-<tspan class="i">M.tb</tspan></text>
<text x="1236.0" y="1459.0" font-size="20.5" text-anchor="end">400</text>
<text x="1236.0" y="1501.4" font-size="20.5" text-anchor="end">0</text>
<path d="M1239.7 1445.8h4.5v54.2h-4.5" fill="none" stroke="#231815" stroke-width="1.1"/>
<path d="M1253.3 1502.3H1893.0" stroke="#111" stroke-width="1.2" fill="none"/>
<path d="M1261.1 1502.3V1449.0h1.0V1502.3zM1263.8 1502.3V1453.6h1.0V1502.3zM1269.3 1502.3V1465.0h1.0V1502.3zM1273.8 1502.3V1453.6h1.0V1502.3zM1283.8 1502.3V1476.3h1.0V1502.3zM1286.6 1502.3V1480.9h1.0V1502.3zM1293.4 1502.3V1459.5h1.0V1502.3zM1296.6 1502.3V1471.8h1.0V1502.3zM1298.9 1502.3V1478.6h1.0V1502.3zM1311.6 1502.3V1480.9h1.0V1502.3zM1314.8 1502.3V1488.6h1.0V1502.3zM1335.3 1502.3V1496.8h1.0V1502.3zM1503.7 1502.3V1424.9h1.5V1502.3zM1509.7 1502.3V1437.6h1.5V1502.3zM1512.9 1502.3V1437.6h1.5V1502.3zM1518.3 1502.3V1442.2h1.5V1502.3zM1524.2 1502.3V1458.1h1.5V1502.3zM1530.6 1502.3V1442.2h1.5V1502.3zM1536.1 1502.3V1453.6h1.5V1502.3zM1541.1 1502.3V1469.5h1.5V1502.3zM1485.5 1502.3V1458.8h1.5V1502.3zM1486.5 1502.3V1469.6h1.5V1502.3zM1487.5 1502.3V1460.7h1.5V1502.3zM1488.5 1502.3V1459.9h1.5V1502.3zM1489.5 1502.3V1464.3h1.5V1502.3zM1490.5 1502.3V1462.1h1.5V1502.3zM1491.5 1502.3V1471.0h1.5V1502.3zM1492.5 1502.3V1467.5h1.5V1502.3zM1493.5 1502.3V1461.5h1.5V1502.3zM1494.5 1502.3V1455.6h1.5V1502.3zM1495.5 1502.3V1463.7h1.5V1502.3zM1496.6 1502.3V1466.6h1.5V1502.3zM1497.6 1502.3V1466.8h1.5V1502.3zM1498.6 1502.3V1471.7h1.5V1502.3zM1499.6 1502.3V1455.8h1.5V1502.3zM1731.4 1502.3V1491.2h1.0V1502.3zM1733.2 1502.3V1491.2h1.0V1502.3zM1735.0 1502.3V1490.3h1.0V1502.3zM1736.9 1502.3V1490.7h1.0V1502.3zM1738.7 1502.3V1491.6h1.0V1502.3zM1740.5 1502.3V1492.2h1.0V1502.3zM1742.3 1502.3V1489.9h1.0V1502.3zM1744.1 1502.3V1488.8h1.0V1502.3zM1746.0 1502.3V1490.2h1.0V1502.3zM1747.8 1502.3V1488.8h1.0V1502.3zM1749.6 1502.3V1490.3h1.0V1502.3zM1751.4 1502.3V1493.3h1.0V1502.3zM1753.2 1502.3V1492.7h1.0V1502.3zM1755.1 1502.3V1495.9h1.0V1502.3zM1756.9 1502.3V1492.3h1.0V1502.3zM1758.7 1502.3V1492.2h1.0V1502.3zM1760.5 1502.3V1493.0h1.0V1502.3zM1762.3 1502.3V1493.7h1.0V1502.3zM1764.2 1502.3V1492.8h1.0V1502.3zM1766.0 1502.3V1492.6h1.0V1502.3zM1767.8 1502.3V1492.7h1.0V1502.3zM1769.6 1502.3V1490.6h1.0V1502.3zM1771.5 1502.3V1494.1h1.0V1502.3zM1773.3 1502.3V1492.7h1.0V1502.3zM1774.6 1502.3V1483.2h1.0V1502.3zM1748.7 1502.3V1484.5h1.0V1502.3zM1259.3 1502.3v-4.6h1v4.6zM1261.1 1502.3v-2.5h1v2.5zM1263.1 1502.3v-1.9h1v1.9zM1264.7 1502.3v-2.4h1v2.4zM1266.6 1502.3v-5.0h1v5.0zM1269.0 1502.3v-8.9h1v8.9zM1271.6 1502.3v-3.3h1v3.3zM1274.5 1502.3v-8.5h1v8.5zM1276.8 1502.3v-7.7h1v7.7zM1279.1 1502.3v-3.4h1v3.4zM1281.6 1502.3v-10.8h1v10.8zM1284.4 1502.3v-3.5h1v3.5zM1286.0 1502.3v-10.3h1v10.3zM1289.0 1502.3v-8.6h1v8.6zM1291.8 1502.3v-3.1h1v3.1zM1294.6 1502.3v-3.6h1v3.6zM1296.3 1502.3v-5.5h1v5.5zM1297.6 1502.3v-9.5h1v9.5zM1299.3 1502.3v-8.6h1v8.6zM1301.7 1502.3v-8.8h1v8.8zM1304.2 1502.3v-10.6h1v10.6zM1306.2 1502.3v-6.3h1v6.3zM1308.2 1502.3v-8.6h1v8.6zM1310.1 1502.3v-9.1h1v9.1zM1311.7 1502.3v-4.0h1v4.0zM1313.8 1502.3v-3.0h1v3.0zM1315.6 1502.3v-9.5h1v9.5zM1485.5 1502.3v-3.8h1v3.8zM1488.4 1502.3v-7.1h1v7.1zM1491.0 1502.3v-9.9h1v9.9zM1493.6 1502.3v-4.2h1v4.2zM1495.0 1502.3v-6.8h1v6.8zM1497.7 1502.3v-9.2h1v9.2zM1499.4 1502.3v-7.6h1v7.6zM1502.5 1502.3v-4.2h1v4.2zM1504.4 1502.3v-5.7h1v5.7zM1506.8 1502.3v-10.8h1v10.8zM1509.2 1502.3v-9.9h1v9.9zM1511.8 1502.3v-6.1h1v6.1zM1513.7 1502.3v-5.0h1v5.0zM1516.5 1502.3v-3.4h1v3.4zM1518.1 1502.3v-3.8h1v3.8zM1520.7 1502.3v-5.2h1v5.2zM1522.4 1502.3v-4.8h1v4.8zM1523.9 1502.3v-5.8h1v5.8zM1526.8 1502.3v-5.9h1v5.9zM1528.9 1502.3v-2.1h1v2.1zM1530.8 1502.3v-2.5h1v2.5zM1532.3 1502.3v-9.7h1v9.7zM1534.9 1502.3v-9.4h1v9.4zM1536.5 1502.3v-5.1h1v5.1zM1539.6 1502.3v-5.8h1v5.8zM1731.4 1502.3v-10.6h1v10.6zM1732.8 1502.3v-5.8h1v5.8zM1735.2 1502.3v-5.0h1v5.0zM1737.2 1502.3v-5.1h1v5.1zM1739.0 1502.3v-2.1h1v2.1zM1741.7 1502.3v-10.9h1v10.9zM1743.2 1502.3v-9.6h1v9.6zM1745.5 1502.3v-2.0h1v2.0zM1747.0 1502.3v-6.6h1v6.6zM1748.6 1502.3v-4.5h1v4.5zM1750.4 1502.3v-10.7h1v10.7zM1752.7 1502.3v-4.4h1v4.4zM1755.7 1502.3v-10.6h1v10.6zM1758.4 1502.3v-3.1h1v3.1zM1761.4 1502.3v-5.8h1v5.8zM1764.2 1502.3v-8.4h1v8.4zM1766.7 1502.3v-8.8h1v8.8zM1769.6 1502.3v-6.0h1v6.0zM1771.8 1502.3v-2.7h1v2.7zM1773.9 1502.3v-9.9h1v9.9zM1775.6 1502.3v-8.6h1v8.6z" fill="#e0322c"/>
<text x="1583.5" y="1558.3" font-size="28.8" text-anchor="middle">Chr1:89,575,000-89,770,000</text>
<!-- pd -->
<text x="-2" y="1599.5" font-size="50" class="b">d</text>
<text x="0" y="1671" font-size="28.8">Before infection</text>
<text x="0" y="1835.5" font-size="28.8">After infection</text>
<text x="738" y="1699.5" font-size="28.8">Hi-C loop</text>
<text x="738" y="1831.5" font-size="28.8">Hi-C loop</text>
<ellipse cx="429.3" cy="1746.4" rx="245.6" ry="103.4" fill="none" stroke="#9aa2d4" stroke-width="2.7"/>
<path d="M211.3 1774.2C214.0 1873.2 342.9 1873.2 345.6 1774.2M211.3 1774.2C216.0 1873.2 442.1 1873.2 446.8 1774.2M211.3 1774.2C218.1 1873.2 546.1 1873.2 552.9 1774.2M351.5 1774.2C353.5 1873.2 449.7 1873.2 451.7 1774.2M359.4 1774.2C363.4 1873.2 554.9 1873.2 558.8 1774.2M345.6 1774.2C352.0 1873.2 662.5 1873.2 668.9 1774.2M446.8 1774.2C448.9 1873.2 550.8 1873.2 552.9 1774.2M459.1 1774.2C463.4 1873.2 670.5 1873.2 674.9 1774.2M451.7 1774.2C456.3 1873.2 676.7 1873.2 681.3 1774.2M558.8 1774.2C561.2 1873.2 672.5 1873.2 674.9 1774.2" fill="none" stroke="#cf541e" stroke-width="2.5"/>
<rect x="71.6" y="1728.8" width="808.6" height="47.4" fill="#e3e3e3"/>
<rect x="262.1" y="1736.2" width="9" height="14.5" rx="2" fill="#231815"/>
<path d="M270.5 1743.2h10M276.5 1738.2v10M279.4 1737.2v12" stroke="#231815" stroke-width="1.6" fill="none"/>
<path d="M276.5 1743.2l-5 -4v8z" fill="#8f8fc8"/>
<rect x="200.4" y="1757.0" width="6" height="14" fill="#1f2d5f"/><rect x="207.3" y="1756.0" width="8" height="16" fill="#1f2d5f"/>
<path d="M200.4 1763.9h22M217.2 1758.0v12M222.2 1759.0v10" stroke="#1f2d5f" stroke-width="1.6" fill="none"/>
<path d="M220.2 1763.9l-4.5 -3.5v7z" fill="#8f8fc8"/>
<path d="M368.8 1743.6H427.5" stroke="#1f2d5f" stroke-width="1.8" fill="none"/>
<rect x="367.8" y="1735.6" width="3" height="16" fill="#1f2d5f"/>
<rect x="381.6" y="1737.6" width="2" height="12" fill="#1f2d5f"/>
<rect x="390.0" y="1736.6" width="2" height="14" fill="#1f2d5f"/>
<rect x="393.5" y="1735.1" width="6" height="17" fill="#1f2d5f"/>
<rect x="413.7" y="1737.6" width="2" height="12" fill="#1f2d5f"/>
<rect x="424.6" y="1737.6" width="2" height="12" fill="#1f2d5f"/>
<path d="M375.2 1743.6l4 -3.5l4 3.5l-4 3.5z" fill="#8f8fc8"/>
<path d="M386.1 1743.6l4 -3.5l4 3.5l-4 3.5z" fill="#8f8fc8"/>
<path d="M402.3 1743.6l4 -3.5l4 3.5l-4 3.5z" fill="#8f8fc8"/>
<path d="M408.8 1743.6l4 -3.5l4 3.5l-4 3.5z" fill="#8f8fc8"/>
<path d="M419.6 1743.6l4 -3.5l4 3.5l-4 3.5z" fill="#8f8fc8"/>
<path d="M334.2 1763.4H394.0" stroke="#8f8fc8" stroke-width="1.6" fill="none"/>
<rect x="334.2" y="1758.9" width="1.6" height="9" fill="#8f8fc8"/>
<rect x="336.9" y="1758.9" width="1.6" height="9" fill="#8f8fc8"/>
<rect x="339.7" y="1758.9" width="1.6" height="9" fill="#8f8fc8"/>
<rect x="342.4" y="1758.9" width="1.6" height="9" fill="#8f8fc8"/>
<rect x="345.1" y="1758.9" width="1.6" height="9" fill="#8f8fc8"/>
<rect x="347.8" y="1758.9" width="1.6" height="9" fill="#8f8fc8"/>
<rect x="350.5" y="1758.9" width="1.6" height="9" fill="#8f8fc8"/>
<rect x="353.2" y="1758.9" width="1.6" height="9" fill="#8f8fc8"/>
<rect x="355.9" y="1758.9" width="1.6" height="9" fill="#8f8fc8"/>
<rect x="358.7" y="1758.9" width="1.6" height="9" fill="#8f8fc8"/>
<rect x="361.4" y="1758.9" width="1.6" height="9" fill="#8f8fc8"/>
<rect x="392.5" y="1758.9" width="1.6" height="9" fill="#8f8fc8"/>
<path d="M364.3 1763.4l3.5 -3l3.5 3l-3.5 3z" fill="#8f8fc8"/>
<path d="M371.2 1763.4l3.5 -3l3.5 3l-3.5 3z" fill="#8f8fc8"/>
<path d="M378.2 1763.4l3.5 -3l3.5 3l-3.5 3z" fill="#8f8fc8"/>
<path d="M385.1 1763.4l3.5 -3l3.5 3l-3.5 3z" fill="#8f8fc8"/>
<rect x="434.4" y="1761.4" width="8" height="10" fill="#1f2d5f"/><rect x="439.4" y="1756.5" width="11" height="16" fill="#1f2d5f"/>
<path d="M452.2 1757.0v14M455.7 1757.0v14M459.1 1757.0v14" stroke="#1f2d5f" stroke-width="1.7" fill="none"/>
<rect x="538.1" y="1738.7" width="5" height="9" fill="#1f2d5f"/><rect x="542.1" y="1735.8" width="14" height="14.5" rx="1.5" fill="#1f2d5f"/>
<path d="M680.3 1743.2H710.9" stroke="#1f2d5f" stroke-width="1.8" fill="none"/>
<rect x="686.2" y="1737.2" width="2.5" height="12" fill="#1f2d5f"/>
<rect x="697.1" y="1737.2" width="3" height="12" fill="#1f2d5f"/>
<rect x="703.0" y="1735.7" width="8" height="15" fill="#1f2d5f"/>
<path d="M690.2 1743.2l3.5 -3l3.5 3l-3.5 3z" fill="#8f8fc8"/>
<path d="M738.5 1743.6H761.3" stroke="#8f8fc8" stroke-width="1.5" fill="none"/>
<rect x="738.5" y="1739.6" width="1.4" height="8" fill="#8f8fc8"/>
<rect x="741.5" y="1739.6" width="1.4" height="8" fill="#8f8fc8"/>
<rect x="746.4" y="1739.6" width="1.4" height="8" fill="#8f8fc8"/>
<rect x="760.3" y="1739.6" width="1.4" height="8" fill="#8f8fc8"/>
<path d="M748.4 1743.6l3 -2.7l3 2.7l-3 2.7z" fill="#8f8fc8"/>
<path d="M753.9 1743.6l3 -2.7l3 2.7l-3 2.7z" fill="#8f8fc8"/>
<text x="192.5" y="1741.6" font-size="25.4" class="i" fill="#da2a20">GBP1</text>
<text x="561.8" y="1741.6" font-size="25.4" class="i" fill="#da2a20">GBP5</text>
<text x="127.4" y="1785.9" font-size="25.4" class="i" fill="#da2a20">GBP3</text>
<text x="265.2" y="1789" font-size="25.4" class="i" fill="#da2a20">GBP2</text>
<text x="375.3" y="1791.8" font-size="25.4" class="i" fill="#da2a20">GBP4</text>
<text x="319.9" y="1748.9" font-size="15.7" class="i" fill="#1f2d5f">GBP7</text>
<text x="675.4" y="1766.4" font-size="15.7" class="i" fill="#1f2d5f">GBP6</text>
<text x="738" y="1766.4" font-size="15.7" class="i" fill="#7b7fb8">GBP1P1</text>
<path d="M74 2064.4L74 2055.4L74.8 2053.9L75.6 2052.1L76.4 2051.4L77.2 2049.0L78 2046.8L78.8 2050.4L79.6 2051.5L80.4 2048.6L81.2 2049.4L82 2051.4L82.8 2050.8L83.6 2050.5L84.4 2051.9L85.2 2052.9L86 2048.4L86.8 2050.0L87.6 2051.3L88.4 2052.6L89.2 2052.9L90 2052.3L90.8 2052.0L91.6 2051.7L92.4 2050.0L93.2 2050.6L94 2052.8L94.8 2053.0L95.6 2052.6L96.4 2052.9L97.2 2052.1L98 2050.8L98.8 2050.5L99.6 2050.2L100.4 2050.5L101.2 2051.4L102 2051.9L102.8 2052.8L103.6 2051.0L104.4 2047.1L105.2 2047.6L106 2051.9L106.8 2054.0L107.6 2050.9L108.4 2046.3L109.2 2047.4L110 2051.9L110.8 2050.8L111.6 2047.9L112.4 2049.8L113.2 2051.9L114 2052.6L114.8 2053.0L115.6 2052.9L116.4 2052.6L117.2 2051.9L118 2052.6L118.8 2053.0L119.6 2052.4L120.4 2050.9L121.2 2049.4L122 2051.2L122.8 2051.3L123.6 2047.4L124.4 2051.9L125.2 2053.2L126 2052.6L126.8 2052.2L127.6 2050.4L128.4 2049.0L129.2 2050.6L130 2053.2L130.8 2052.9L131.6 2050.6L132.4 2050.6L133.2 2050.7L134 2048.2L134.8 2047.1L135.6 2046.4L136.4 2045.1L137.2 2045.0L138 2046.6L138.8 2048.0L139.6 2048.8L140.4 2051.0L141.2 2050.2L142 2047.5L142.8 2049.1L143.6 2050.2L144.4 2046.8L145.2 2046.6L146 2050.8L146.8 2052.6L147.6 2051.8L148.4 2051.3L149.2 2052.7L150 2053.0L150.8 2049.6L151.6 2046.5L152.4 2048.1L153.2 2051.0L154 2052.0L154.8 2052.3L155.6 2051.8L156.4 2051.2L157.2 2051.9L158 2052.5L158.8 2052.3L159.6 2050.3L160.4 2048.2L161.2 2049.9L162 2052.3L162.8 2052.7L163.6 2052.1L164.4 2052.5L165.2 2053.3L166 2052.8L166.8 2053.0L167.6 2053.6L168.4 2051.8L169.2 2049.5L170 2048.0L170.8 2046.4L171.6 2048.4L172.4 2052.1L173.2 2052.4L174 2050.8L174.8 2050.7L175.6 2052.4L176.4 2052.3L177.2 2051.1L178 2051.0L178.8 2044.4L179.6 2051.0L180.4 2051.9L181.2 2052.9L182 2052.5L182.8 2051.7L183.6 2052.9L184.4 2053.9L185.2 2051.8L186 2042.7L186.8 2019.5L187.6 1971.4L188.4 2019.5L189.2 2042.7L190 2053.4L190.8 2052.1L191.6 2051.5L192.4 2052.7L193.2 2051.8L194 2048.1L194.8 2047.0L195.6 2047.4L196.4 2048.2L197.2 2051.5L198 2047.5L198.8 2042.4L199.6 2047.5L200.4 2050.1L201.2 2049.9L202 2051.5L202.8 2053.3L203.6 2050.9L204.4 2047.2L205.2 2049.8L206 2052.3L206.8 2051.5L207.6 2052.5L208.4 2050.8L209.2 2048.3L210 2051.2L210.8 2053.0L211.6 2051.1L212.4 2048.2L213.2 2047.3L214 2050.2L214.8 2050.4L215.6 2049.8L216.4 2052.4L217.2 2053.6L218 2052.4L218.8 2052.4L219.6 2052.7L220.4 2051.0L221.2 2048.0L222 2036.4L222.8 2048.0L223.6 2051.5L224.4 2052.9L225.2 2052.4L226 2043.9L226.8 2029.4L227.6 2043.9L228.4 2052.0L229.2 2053.5L230 2052.1L230.8 2048.2L231.6 2047.2L232.4 2048.4L233.2 2046.9L234 2045.8L234.8 2048.0L235.6 2050.7L236.4 2051.3L237.2 2052.4L238 2054.0L238.8 2052.1L239.6 2047.4L240.4 2047.0L241.2 2051.0L242 2052.1L242.8 2051.7L243.6 2051.9L244.4 2050.4L245.2 2050.2L246 2051.1L246.8 2050.3L247.6 2050.8L248.4 2053.3L249.2 2054.2L250 2053.1L250.8 2052.1L251.6 2051.6L252.4 2051.7L253.2 2050.7L254 2049.1L254.8 2051.0L255.6 2053.7L256.4 2052.5L257.2 2050.3L258 2051.0L258.8 2052.1L259.6 2049.9L260.4 2045.1L261.2 2043.6L262 2044.3L262.8 2045.9L263.6 2050.4L264.4 2052.2L265.2 2051.4L266 2051.6L266.8 2053.3L267.6 2054.6L268.4 2052.4L269.2 2048.3L270 2048.1L270.8 2048.4L271.6 2046.2L272.4 2047.5L273.2 2049.4L274 2049.3L274.8 2050.3L275.6 2050.6L276.4 2048.8L277.2 2049.1L278 2052.0L278.8 2053.0L279.6 2053.1L280.4 2053.0L281.2 2051.1L282 2050.7L282.8 2052.8L283.6 2053.9L284.4 2054.2L285.2 2051.6L286 2045.8L286.8 2045.4L287.6 2050.2L288.4 2052.2L289.2 2051.3L290 2050.9L290.8 2050.6L291.6 2050.8L292.4 2051.4L293.2 2051.1L294 2051.6L294.8 2051.8L295.6 2051.3L296.4 2052.2L297.2 2052.5L298 2051.9L298.8 2052.3L299.6 2050.7L300.4 2049.3L301.2 2051.7L302 2053.2L302.8 2052.2L303.6 2050.3L304.4 2050.1L305.2 2051.9L306 2052.9L306.8 2051.1L307.6 2049.3L308.4 2050.9L309.2 2052.9L310 2050.7L310.8 2047.6L311.6 2043.9L312.4 2039.4L313.2 2043.9L314 2047.3L314.8 2048.5L315.6 2052.1L316.4 2052.6L317.2 2052.6L318 2052.7L318.8 2052.0L319.6 2052.2L320.4 2053.2L321.2 2053.7L322 2051.2L322.8 2048.2L323.6 2047.4L324.4 2053.1L325.2 2052.7L326 2052.9L326.8 2052.7L327.6 2052.0L328.4 2051.9L329.2 2049.9L330 2049.1L330.8 2050.3L331.6 2049.0L332.4 2049.1L333.2 2052.0L334 2051.6L334.8 2049.1L335.6 2049.6L336.4 2051.2L337.2 2049.7L338 2047.5L338.8 2048.4L339.6 2050.8L340.4 2052.0L341.2 2052.0L342 2052.3L342.8 2052.8L343.6 2053.2L344.4 2052.9L345.2 2052.1L346 2052.5L346.8 2052.1L347.6 2052.0L348.4 2052.8L349.2 2051.4L350 2049.1L350.8 2049.3L351.6 2050.6L352.4 2051.8L353.2 2052.2L354 2052.1L354.8 2052.5L355.6 2053.4L356.4 2053.1L357.2 2050.4L358 2048.6L358.8 2048.2L359.6 2047.3L360.4 2049.0L361.2 2040.1L362 2019.4L362.8 2040.1L363.6 2051.2L364.4 2049.1L365.2 2044.4L366 2049.1L366.8 2047.4L367.6 2045.6L368.4 2048.6L369.2 2051.8L370 2053.0L370.8 2053.1L371.6 2052.4L372.4 2052.7L373.2 2054.0L374 2054.4L374.8 2053.8L375.6 2053.6L376.4 2052.9L377.2 2052.0L378 2053.1L378.8 2054.2L379.6 2054.0L380.4 2054.0L381.2 2053.7L382 2051.5L382.8 2042.4L383.6 2051.5L384.4 2054.4L385.2 2053.8L386 2050.9L386.8 2049.6L387.6 2052.4L388.4 2052.6L389.2 2050.4L390 2051.1L390.8 2051.8L391.6 2050.4L392.4 2048.5L393.2 2047.8L394 2050.0L394.8 2051.7L395.6 2049.2L396.4 2046.5L397.2 2048.6L398 2052.5L398.8 2053.9L399.6 2051.2L400.4 2048.4L401.2 2048.6L402 2048.3L402.8 2049.0L403.6 2050.8L404.4 2052.0L405.2 2052.2L406 2052.5L406.8 2049.9L407.6 2044.4L408.4 2044.7L409.2 2047.6L410 2049.2L410.8 2051.1L411.6 2050.3L412.4 2048.9L413.2 2050.6L414 2049.8L414.8 2047.6L415.6 2048.9L416.4 2050.6L417.2 2052.3L418 2053.6L418.8 2048.4L419.6 2051.5L420.4 2050.0L421.2 2052.1L422 2053.7L422.8 2052.5L423.6 2048.7L424.4 2045.9L425.2 2048.6L426 2051.4L426.8 2051.8L427.6 2052.9L428.4 2053.9L429.2 2053.6L430 2052.6L430.8 2052.7L431.6 2051.6L432.4 2049.4L433.2 2049.7L434 2050.5L434.8 2049.7L435.6 2048.8L436.4 2050.1L437.2 2050.2L438 2049.2L438.8 2050.5L439.6 2050.5L440.4 2051.2L441.2 2051.4L442 2048.0L442.8 2047.7L443.6 2051.1L444.4 2050.9L445.2 2048.6L446 2048.5L446.8 2048.0L447.6 2048.1L448.4 2051.6L449.2 2053.3L450 2052.0L450.8 2051.9L451.6 2052.8L452.4 2052.8L453.2 2053.2L454 2053.5L454.8 2051.2L455.6 2049.8L456.4 2050.3L457.2 2050.8L458 2052.3L458.8 2053.2L459.6 2051.6L460.4 2050.2L461.2 2051.4L462 2052.5L462.8 2052.6L463.6 2052.6L464.4 2050.3L465.2 2047.5L466 2049.1L466.8 2052.7L467.6 2053.5L468.4 2052.5L469.2 2050.9L470 2050.3L470.8 2051.2L471.6 2052.3L472.4 2052.9L473.2 2052.9L474 2048.4L474.8 2052.9L475.6 2052.5L476.4 2050.5L477.2 2047.5L478 2047.5L478.8 2047.8L479.6 2048.7L480.4 2051.0L481.2 2053.2L482 2054.5L482.8 2054.7L483.6 2053.9L484.4 2052.2L485.2 2052.1L486 2052.3L486.8 2049.3L487.6 2048.1L488.4 2051.8L489.2 2054.0L490 2053.9L490.8 2053.9L491.6 2053.1L492.4 2052.4L493.2 2050.7L494 2049.6L494.8 2051.9L495.6 2051.4L496.4 2049.5L497.2 2050.3L498 2049.6L498.8 2049.7L499.6 2050.9L500.4 2051.2L501.2 2051.9L502 2052.6L502.8 2053.4L503.6 2053.9L504.4 2053.6L505.2 2050.2L506 2046.8L506.8 2049.3L507.6 2053.0L508.4 2052.9L509.2 2052.3L510 2051.4L510.8 2047.5L511.6 2046.9L512.4 2051.5L513.2 2053.0L514 2051.7L514.8 2051.4L515.6 2049.8L516.4 2048.2L517.2 2050.2L518 2053.0L518.8 2052.6L519.6 2050.9L520.4 2051.1L521.2 2052.1L522 2050.6L522.8 2049.5L523.6 2051.3L524.4 2051.6L525.2 2050.2L526 2050.8L526.8 2052.0L527.6 2052.5L528.4 2052.7L529.2 2052.3L530 2050.4L530.8 2049.6L531.6 2051.7L532.4 2051.6L533.2 2050.8L534 2048.6L534.8 2044.0L535.6 2046.2L536.4 2051.1L537.2 2051.3L538 2051.4L538.8 2050.6L539.6 2048.0L540.4 2049.0L541.2 2052.9L542 2053.7L542.8 2048.4L543.6 2050.3L544.4 2047.3L545.2 2048.3L546 2051.7L546.8 2052.4L547.6 2051.5L548.4 2051.8L549.2 2052.0L550 2051.6L550.8 2051.6L551.6 2050.8L552.4 2050.4L553.2 2051.5L554 2052.6L554.8 2052.5L555.6 2051.5L556.4 2051.9L557.2 2051.2L558 2048.1L558.8 2047.0L559.6 2047.1L560.4 2049.3L561.2 2052.5L562 2053.3L562.8 2053.1L563.6 2051.6L564.4 2050.3L565.2 2051.5L566 2048.9L566.8 2045.3L567.6 2049.9L568.4 2054.0L569.2 2051.6L570 2049.8L570.8 2051.2L571.6 2052.4L572.4 2051.8L573.2 2050.5L574 2049.7L574.8 2050.9L575.6 2052.9L576.4 2053.1L577.2 2051.4L578 2050.6L578.8 2052.0L579.6 2051.9L580.4 2049.5L581.2 2050.0L582 2052.5L582.8 2050.7L583.6 2048.1L584.4 2050.2L585.2 2051.2L586 2050.1L586.8 2049.0L587.6 2048.1L588.4 2050.1L589.2 2052.1L590 2050.9L590.8 2050.0L591.6 2051.8L592.4 2053.2L593.2 2053.2L594 2051.3L594.8 2049.1L595.6 2047.9L596.4 2047.5L597.2 2050.9L598 2051.8L598.8 2050.2L599.6 2048.9L600.4 2047.0L601.2 2049.7L602 2052.9L602.8 2052.5L603.6 2050.7L604.4 2050.1L605.2 2049.5L606 2047.5L606.8 2048.0L607.6 2051.2L608.4 2052.5L609.2 2053.1L610 2054.2L610.8 2053.8L611.6 2052.4L612.4 2052.2L613.2 2053.0L614 2053.7L614.8 2053.5L615.6 2053.1L616.4 2052.6L617.2 2051.2L618 2051.4L618.8 2051.9L619.6 2050.8L620.4 2048.6L621.2 2047.3L622 2049.3L622.8 2051.3L623.6 2050.7L624.4 2048.3L625.2 2064.4L626 2064.4L626.8 2052.5L627.6 2053.0L628.4 2052.3L629.2 2051.3L630 2049.7L630.8 2048.9L631.6 2050.2L632.4 2050.1L633.2 2049.6L634 2049.3L634.8 2049.3L635.6 2052.1L636.4 2053.1L637.2 2050.9L638 2050.7L638.8 2052.0L639.6 2049.8L640.4 2048.3L641.2 2050.5L642 2051.5L642.8 2051.4L643.6 2051.8L644.4 2051.0L645.2 2049.4L646 2050.0L646.8 2052.9L647.6 2054.0L648.4 2052.4L649.2 2051.7L650 2053.1L650.8 2054.0L651.6 2054.2L652.4 2053.1L653.2 2051.0L654 2049.7L654.8 2049.8L655.6 2051.7L656.4 2052.8L657.2 2052.8L658 2053.9L658.8 2053.9L659.6 2053.0L660.4 2050.1L661.2 2044.9L662 2037.9L662.8 2028.4L663.6 2037.9L664.4 2044.9L665.2 2050.1L666 2052.0L666.8 2052.0L667.6 2050.6L668.4 2050.6L669.2 2052.3L670 2052.7L670.8 2052.4L671.6 2053.3L672.4 2053.6L673.2 2052.3L674 2051.0L674.8 2050.6L675.6 2051.2L676.4 2052.0L677.2 2053.5L678 2054.7L678.8 2053.0L679.6 2051.0L680.4 2052.5L681.2 2051.7L682 2049.9L682.8 2051.3L683.6 2064.4L684.4 2064.4L685.2 2052.6L686 2051.9L686.8 2049.0L687.6 2050.4L688.4 2052.3L689.2 2051.1L690 2048.7L690.8 2049.2L691.6 2052.0L692.4 2053.1L693.2 2050.9L694 2048.4L694.8 2050.5L695.6 2053.3L696.4 2053.4L697.2 2050.8L698 2047.1L698.8 2048.0L699.6 2050.6L700.4 2049.9L701.2 2049.4L702 2050.1L702.8 2051.2L703.6 2052.4L704.4 2053.1L705.2 2050.6L706 2046.5L706.8 2049.1L707.6 2052.5L708.4 2050.5L709.2 2046.8L710 2046.9L710.8 2048.5L711.6 2048.0L712.4 2050.5L713.2 2053.2L714 2053.6L714.8 2052.9L715.6 2050.3L716.4 2049.1L717.2 2048.3L718 2047.1L718.8 2047.3L719.6 2048.0L720.4 2050.7L721.2 2053.1L722 2052.7L722.8 2048.9L723.6 2045.6L724.4 2047.4L725.2 2049.0L726 2048.6L726.8 2049.2L727.6 2052.1L728.4 2053.9L729.2 2053.6L730 2052.8L730.8 2050.1L731.6 2047.9L732.4 2049.3L733.2 2052.5L734 2052.0L734.8 2048.8L735.6 2049.0L736.4 2049.1L737.2 2049.0L738 2052.3L738.8 2064.4L739.6 2064.4L740.4 2064.4L741.2 2064.4L742 2064.4L742.8 2052.2L743.6 2050.2L744.4 2049.2L745.2 2048.3L746 2050.0L746.8 2052.5L747.6 2052.1L748.4 2050.9L749.2 2051.5L750 2052.4L750.8 2052.1L751.6 2052.7L752.4 2053.5L753.2 2053.0L754 2052.9L754.8 2053.4L755.6 2053.4L756.4 2053.3L757.2 2053.2L758 2053.5L758.8 2053.0L759.6 2050.3L760.4 2048.4L761.2 2050.6L762 2053.1L762.8 2053.5L763.6 2054.2L764.4 2053.8L765.2 2051.2L766 2045.2L766.8 2041.6L767.6 2047.3L768.4 2052.2L769.2 2052.0L770 2051.5L770.8 2052.0L771.6 2053.7L772.4 2053.9L773.2 2053.2L774 2053.4L774.8 2053.8L775.6 2052.6L776.4 2050.6L777.2 2048.9L778 2048.7L778.8 2050.2L779.6 2050.7L780.4 2052.1L781.2 2053.4L782 2051.6L782.8 2050.2L783.6 2049.7L784.4 2048.1L785.2 2049.1L786 2052.1L786.8 2053.3L787.6 2053.1L788.4 2052.8L789.2 2052.9L790 2047.4L790.8 2050.3L791.6 2049.5L792.4 2050.3L793.2 2049.9L794 2050.5L794.8 2051.6L795.6 2050.8L796.4 2049.5L797.2 2051.1L798 2053.2L798.8 2052.7L799.6 2050.6L800.4 2048.7L801.2 2049.7L802 2051.6L802.8 2052.0L803.6 2052.0L804.4 2052.1L805.2 2052.8L806 2052.1L806.8 2050.5L807.6 2050.8L808.4 2051.7L809.2 2052.4L810 2052.3L810.8 2051.8L811.6 2052.3L812.4 2052.0L813.2 2048.2L814 2045.7L814.8 2050.0L815.6 2054.3L816.4 2054.4L817.2 2053.2L818 2051.5L818.8 2050.0L819.6 2050.2L820.4 2052.3L821.2 2052.6L822 2051.7L822.8 2053.0L823.6 2054.4L824.4 2054.1L825.2 2053.8L826 2053.9L826.8 2053.1L827.6 2051.8L828.4 2051.0L829.2 2047.4L830 2051.2L830.8 2049.2L831.6 2048.3L832.4 2051.8L833.2 2052.9L834 2051.6L834.8 2052.2L835.6 2053.4L836.4 2053.5L837.2 2052.7L838 2052.1L838.8 2052.9L839.6 2064.4L840.4 2064.4L841.2 2064.4L842 2064.4L842.8 2064.4L843.6 2064.4L844.4 2064.4L845.2 2052.7L846 2050.8L846.8 2048.4L847.6 2050.8L848.4 2052.9L849.2 2050.2L850 2049.8L850.8 2052.2L851.6 2051.2L852.4 2049.0L853.2 2051.0L854 2051.3L854.8 2049.8L855.6 2051.5L856.4 2052.7L857.2 2053.0L858 2053.7L858.8 2053.3L859.6 2053.3L860.4 2054.1L861.2 2052.7L862 2050.0L862.8 2049.7L863.6 2046.4L864.4 2051.5L865.2 2052.7L866 2053.3L866.8 2053.0L867.6 2052.6L868.4 2052.9L869.2 2052.7L870 2052.1L870.8 2050.9L871.6 2049.5L872.4 2051.6L873.2 2053.1L874 2052.3L874.8 2053.0L875.6 2052.0L876.4 2050.4L877.2 2050.4L878 2050.2L878.8 2051.2L879.6 2039.8L880.4 2016.4L880.6 2064.4Z" fill="#e0561a"/>
<path d="M74 2201.3L74 2191.1L74.8 2188.0L75.6 2187.7L76.4 2189.7L77.2 2190.0L78 2189.0L78.8 2188.6L79.6 2188.7L80.4 2189.4L81.2 2190.4L82 2191.2L82.8 2191.0L83.6 2189.4L84.4 2186.5L85.2 2185.3L86 2187.2L86.8 2187.5L87.6 2183.9L88.4 2181.8L89.2 2183.3L90 2184.8L90.8 2184.4L91.6 2185.5L92.4 2185.2L93.2 2186.8L94 2188.7L94.8 2188.1L95.6 2187.4L96.4 2188.7L97.2 2188.8L98 2184.4L98.8 2183.1L99.6 2188.2L100.4 2190.8L101.2 2190.2L102 2188.7L102.8 2187.1L103.6 2189.2L104.4 2190.7L105.2 2189.5L106 2189.4L106.8 2189.4L107.6 2187.7L108.4 2186.9L109.2 2188.8L110 2189.0L110.8 2187.9L111.6 2188.7L112.4 2187.4L113.2 2185.6L114 2186.3L114.8 2187.0L115.6 2187.6L116.4 2188.5L117.2 2189.9L118 2190.5L118.8 2189.3L119.6 2188.0L120.4 2188.1L121.2 2189.9L122 2189.2L122.8 2184.1L123.6 2181.1L124.4 2182.7L125.2 2185.6L126 2188.6L126.8 2190.2L127.6 2189.9L128.4 2184.3L129.2 2189.4L130 2187.7L130.8 2185.9L131.6 2187.3L132.4 2188.6L133.2 2187.9L134 2188.3L134.8 2189.4L135.6 2189.7L136.4 2189.3L137.2 2189.8L138 2190.2L138.8 2189.2L139.6 2188.3L140.4 2186.2L141.2 2185.1L142 2188.1L142.8 2190.3L143.6 2190.2L144.4 2189.1L145.2 2188.5L146 2186.3L146.8 2182.2L147.6 2183.4L148.4 2188.9L149.2 2190.5L150 2187.9L150.8 2186.6L151.6 2189.0L152.4 2190.0L153.2 2188.6L154 2188.1L154.8 2189.0L155.6 2190.2L156.4 2190.7L157.2 2190.9L158 2190.5L158.8 2187.8L159.6 2184.7L160.4 2185.1L161.2 2188.3L162 2190.1L162.8 2189.6L163.6 2189.2L164.4 2188.3L165.2 2188.2L166 2188.9L166.8 2188.0L167.6 2187.7L168.4 2187.1L169.2 2185.0L170 2182.3L170.8 2187.1L171.6 2186.5L172.4 2188.3L173.2 2188.3L174 2187.0L174.8 2187.9L175.6 2188.1L176.4 2188.8L177.2 2189.1L178 2188.2L178.8 2182.3L179.6 2188.0L180.4 2186.2L181.2 2187.0L182 2187.2L182.8 2186.7L183.6 2185.7L184.4 2184.0L185.2 2182.0L186 2182.9L186.8 2174.6L187.6 2149.3L188.4 2174.6L189.2 2187.5L190 2186.7L190.8 2187.0L191.6 2186.9L192.4 2187.0L193.2 2189.4L194 2190.3L194.8 2189.1L195.6 2187.0L196.4 2186.0L197.2 2188.7L198 2188.5L198.8 2183.3L199.6 2187.5L200.4 2186.0L201.2 2183.0L202 2184.1L202.8 2186.5L203.6 2187.0L204.4 2187.5L205.2 2188.0L206 2188.2L206.8 2189.1L207.6 2189.4L208.4 2189.4L209.2 2190.0L210 2189.6L210.8 2188.7L211.6 2188.9L212.4 2188.9L213.2 2188.1L214 2188.2L214.8 2188.4L215.6 2188.5L216.4 2190.0L217.2 2190.6L218 2187.5L218.8 2184.9L219.6 2185.7L220.4 2186.7L221.2 2183.7L222 2172.3L222.8 2183.7L223.6 2185.1L224.4 2184.2L225.2 2185.9L226 2187.9L226.8 2179.3L227.6 2187.8L228.4 2187.8L229.2 2188.4L230 2189.2L230.8 2189.0L231.6 2187.4L232.4 2186.2L233.2 2187.6L234 2188.0L234.8 2183.2L235.6 2181.4L236.4 2186.1L237.2 2187.0L238 2183.1L238.8 2181.0L239.6 2183.7L240.4 2186.7L241.2 2187.0L242 2188.6L242.8 2188.9L243.6 2187.7L244.4 2188.9L245.2 2190.3L246 2190.9L246.8 2190.8L247.6 2189.6L248.4 2188.0L249.2 2186.8L250 2186.8L250.8 2188.2L251.6 2189.7L252.4 2188.3L253.2 2186.7L254 2184.9L254.8 2182.1L255.6 2184.8L256.4 2189.1L257.2 2188.7L258 2186.6L258.8 2186.7L259.6 2188.3L260.4 2188.7L261.2 2188.1L262 2185.2L262.8 2182.4L263.6 2184.2L264.4 2188.1L265.2 2190.0L266 2189.7L266.8 2189.4L267.6 2189.3L268.4 2188.2L269.2 2188.1L270 2188.9L270.8 2187.0L271.6 2184.0L272.4 2185.0L273.2 2188.7L274 2187.8L274.8 2184.5L275.6 2185.3L276.4 2185.4L277.2 2185.4L278 2186.3L278.8 2183.7L279.6 2183.2L280.4 2185.3L281.2 2187.3L282 2188.5L282.8 2186.4L283.6 2184.3L284.4 2184.1L285.2 2185.2L286 2187.9L286.8 2189.1L287.6 2188.0L288.4 2186.3L289.2 2185.8L290 2184.1L290.8 2183.0L291.6 2183.9L292.4 2182.8L293.2 2183.7L294 2187.2L294.8 2189.0L295.6 2188.8L296.4 2188.1L297.2 2189.1L298 2189.8L298.8 2187.2L299.6 2185.7L300.4 2186.5L301.2 2185.8L302 2186.0L302.8 2186.6L303.6 2187.4L304.4 2189.5L305.2 2191.2L306 2191.0L306.8 2188.7L307.6 2187.9L308.4 2189.8L309.2 2190.1L310 2187.6L310.8 2184.5L311.6 2180.8L312.4 2176.3L313.2 2180.8L314 2184.5L314.8 2184.4L315.6 2181.8L316.4 2185.6L317.2 2189.4L318 2189.7L318.8 2188.0L319.6 2185.6L320.4 2183.3L321.2 2183.5L322 2187.6L322.8 2190.1L323.6 2189.6L324.4 2189.0L325.2 2189.9L326 2190.4L326.8 2189.6L327.6 2190.2L328.4 2190.6L329.2 2189.1L330 2187.9L330.8 2187.9L331.6 2188.7L332.4 2187.9L333.2 2186.7L334 2188.8L334.8 2189.9L335.6 2188.9L336.4 2189.2L337.2 2189.8L338 2189.9L338.8 2188.8L339.6 2186.9L340.4 2185.4L341.2 2186.0L342 2187.6L342.8 2184.6L343.6 2182.5L344.4 2187.2L345.2 2187.9L346 2182.9L346.8 2183.0L347.6 2187.9L348.4 2189.8L349.2 2187.2L350 2186.2L350.8 2188.0L351.6 2187.5L352.4 2184.5L353.2 2183.0L354 2184.2L354.8 2187.3L355.6 2189.6L356.4 2190.6L357.2 2190.1L358 2188.7L358.8 2187.6L359.6 2187.1L360.4 2187.8L361.2 2180.8L362 2161.3L362.8 2180.8L363.6 2188.9L364.4 2185.7L365.2 2185.4L366 2187.0L366.8 2184.8L367.6 2183.7L368.4 2184.9L369.2 2186.0L370 2188.7L370.8 2190.8L371.6 2189.8L372.4 2186.7L373.2 2183.5L374 2183.4L374.8 2186.5L375.6 2188.0L376.4 2188.0L377.2 2189.4L378 2190.4L378.8 2190.3L379.6 2190.4L380.4 2188.5L381.2 2184.1L382 2183.9L382.8 2182.3L383.6 2184.6L384.4 2186.5L385.2 2189.1L386 2189.6L386.8 2190.4L387.6 2190.0L388.4 2187.6L389.2 2184.9L390 2184.5L390.8 2185.9L391.6 2188.7L392.4 2189.2L393.2 2187.6L394 2189.0L394.8 2189.0L395.6 2187.1L396.4 2188.6L397.2 2189.5L398 2188.7L398.8 2188.9L399.6 2188.7L400.4 2189.1L401.2 2188.6L402 2186.9L402.8 2187.1L403.6 2187.7L404.4 2187.5L405.2 2186.7L406 2186.9L406.8 2188.7L407.6 2189.7L408.4 2188.6L409.2 2186.2L410 2183.9L410.8 2182.0L411.6 2183.3L412.4 2186.3L413.2 2186.2L414 2185.7L414.8 2185.9L415.6 2185.9L416.4 2188.2L417.2 2188.5L418 2187.3L418.8 2177.3L419.6 2189.0L420.4 2190.2L421.2 2188.0L422 2187.9L422.8 2187.8L423.6 2186.0L424.4 2187.7L425.2 2190.2L426 2190.9L426.8 2190.9L427.6 2189.6L428.4 2188.0L429.2 2187.6L430 2186.7L430.8 2186.9L431.6 2188.4L432.4 2187.6L433.2 2188.0L434 2190.1L434.8 2188.3L435.6 2182.1L436.4 2180.3L437.2 2186.4L438 2190.1L438.8 2189.6L439.6 2189.7L440.4 2189.8L441.2 2189.7L442 2190.1L442.8 2190.1L443.6 2187.5L444.4 2185.3L445.2 2187.0L446 2189.0L446.8 2190.0L447.6 2190.8L448.4 2187.8L449.2 2183.4L450 2184.8L450.8 2188.3L451.6 2190.0L452.4 2190.6L453.2 2190.3L454 2189.7L454.8 2189.4L455.6 2190.6L456.4 2191.2L457.2 2188.2L458 2185.7L458.8 2188.0L459.6 2188.4L460.4 2185.4L461.2 2185.2L462 2188.2L462.8 2190.6L463.6 2190.8L464.4 2190.0L465.2 2187.5L466 2185.8L466.8 2186.0L467.6 2185.4L468.4 2186.2L469.2 2188.7L470 2190.4L470.8 2191.1L471.6 2191.4L472.4 2190.7L473.2 2189.1L474 2189.1L474.8 2189.4L475.6 2187.6L476.4 2186.5L477.2 2187.7L478 2189.2L478.8 2188.2L479.6 2186.3L480.4 2185.9L481.2 2186.4L482 2189.3L482.8 2190.6L483.6 2188.0L484.4 2186.6L485.2 2186.4L486 2185.7L486.8 2186.6L487.6 2187.4L488.4 2186.6L489.2 2186.9L490 2187.5L490.8 2189.4L491.6 2189.0L492.4 2186.7L493.2 2187.7L494 2188.4L494.8 2186.7L495.6 2185.8L496.4 2185.5L497.2 2185.6L498 2187.2L498.8 2187.3L499.6 2186.2L500.4 2186.2L501.2 2187.4L502 2189.3L502.8 2190.3L503.6 2190.5L504.4 2189.5L505.2 2188.6L506 2188.9L506.8 2189.1L507.6 2188.7L508.4 2188.2L509.2 2187.7L510 2185.2L510.8 2182.2L511.6 2183.3L512.4 2184.8L513.2 2185.3L514 2185.4L514.8 2185.5L515.6 2187.6L516.4 2189.0L517.2 2189.7L518 2189.4L518.8 2189.0L519.6 2189.9L520.4 2189.9L521.2 2188.8L522 2188.9L522.8 2189.9L523.6 2190.5L524.4 2191.2L525.2 2190.9L526 2189.8L526.8 2188.9L527.6 2188.0L528.4 2186.4L529.2 2186.5L530 2189.5L530.8 2190.1L531.6 2187.5L532.4 2187.8L533.2 2188.5L534 2187.5L534.8 2188.5L535.6 2190.0L536.4 2190.3L537.2 2189.1L538 2186.7L538.8 2185.9L539.6 2185.3L540.4 2182.9L541.2 2183.1L542 2186.2L542.8 2185.3L543.6 2184.2L544.4 2185.8L545.2 2185.6L546 2184.6L546.8 2186.9L547.6 2185.9L548.4 2183.5L549.2 2187.2L550 2188.0L550.8 2185.9L551.6 2187.8L552.4 2189.1L553.2 2189.3L554 2189.8L554.8 2189.4L555.6 2185.5L556.4 2182.3L557.2 2183.8L558 2184.5L558.8 2187.4L559.6 2189.8L560.4 2188.8L561.2 2187.1L562 2183.5L562.8 2181.9L563.6 2184.8L564.4 2187.9L565.2 2189.7L566 2189.6L566.8 2188.0L567.6 2186.6L568.4 2186.2L569.2 2187.5L570 2189.0L570.8 2190.1L571.6 2189.9L572.4 2189.1L573.2 2189.7L574 2189.9L574.8 2189.1L575.6 2187.1L576.4 2185.6L577.2 2187.2L578 2188.8L578.8 2188.3L579.6 2188.1L580.4 2188.9L581.2 2186.9L582 2185.8L582.8 2189.3L583.6 2191.2L584.4 2190.5L585.2 2191.0L586 2189.9L586.8 2186.2L587.6 2184.6L588.4 2186.0L589.2 2187.5L590 2188.8L590.8 2189.9L591.6 2189.7L592.4 2189.4L593.2 2190.1L594 2188.6L594.8 2184.9L595.6 2185.2L596.4 2189.1L597.2 2190.5L598 2190.1L598.8 2190.3L599.6 2190.5L600.4 2188.6L601.2 2186.0L602 2186.8L602.8 2186.6L603.6 2185.2L604.4 2187.3L605.2 2186.6L606 2184.2L606.8 2187.7L607.6 2189.7L608.4 2188.1L609.2 2186.4L610 2184.3L610.8 2186.3L611.6 2188.1L612.4 2188.3L613.2 2189.2L614 2189.1L614.8 2188.9L615.6 2188.4L616.4 2188.0L617.2 2189.6L618 2190.1L618.8 2189.5L619.6 2187.7L620.4 2185.9L621.2 2188.2L622 2187.6L622.8 2184.5L623.6 2187.3L624.4 2190.4L625.2 2188.1L626 2185.1L626.8 2186.5L627.6 2187.6L628.4 2186.1L629.2 2186.3L630 2187.4L630.8 2188.7L631.6 2187.0L632.4 2183.9L633.2 2186.2L634 2189.4L634.8 2189.1L635.6 2186.8L636.4 2184.7L637.2 2186.0L638 2189.1L638.8 2189.2L639.6 2187.4L640.4 2187.7L641.2 2187.3L642 2186.1L642.8 2185.7L643.6 2185.6L644.4 2188.1L645.2 2190.2L646 2190.3L646.8 2188.9L647.6 2188.3L648.4 2189.1L649.2 2186.4L650 2183.8L650.8 2186.8L651.6 2189.6L652.4 2189.6L653.2 2189.5L654 2189.6L654.8 2190.5L655.6 2189.8L656.4 2187.8L657.2 2188.0L658 2189.2L658.8 2189.5L659.6 2189.6L660.4 2190.2L661.2 2185.1L662 2174.6L662.8 2157.3L663.6 2174.6L664.4 2185.1L665.2 2188.0L666 2188.8L666.8 2188.6L667.6 2187.4L668.4 2188.8L669.2 2190.2L670 2190.2L670.8 2190.5L671.6 2189.0L672.4 2187.0L673.2 2187.5L674 2188.7L674.8 2189.7L675.6 2188.6L676.4 2184.8L677.2 2184.9L678 2186.9L678.8 2183.7L679.6 2180.4L680.4 2182.4L681.2 2186.5L682 2187.4L682.8 2186.1L683.6 2188.1L684.4 2190.2L685.2 2190.1L686 2190.0L686.8 2190.4L687.6 2190.0L688.4 2188.3L689.2 2187.2L690 2187.0L690.8 2184.3L691.6 2181.6L692.4 2183.9L693.2 2185.9L694 2183.5L694.8 2181.5L695.6 2182.3L696.4 2182.7L697.2 2181.8L698 2184.7L698.8 2189.2L699.6 2190.2L700.4 2188.2L701.2 2187.1L702 2187.5L702.8 2187.9L703.6 2189.4L704.4 2190.1L705.2 2188.7L706 2188.3L706.8 2188.6L707.6 2188.3L708.4 2188.1L709.2 2187.3L710 2187.2L710.8 2187.7L711.6 2186.6L712.4 2186.6L713.2 2189.0L714 2190.6L714.8 2191.1L715.6 2189.4L716.4 2186.3L717.2 2187.0L718 2186.8L718.8 2183.5L719.6 2182.6L720.4 2181.8L721.2 2181.9L722 2186.5L722.8 2189.5L723.6 2185.7L724.4 2183.2L725.2 2184.0L726 2182.8L726.8 2185.1L727.6 2188.9L728.4 2189.2L729.2 2188.4L730 2186.4L730.8 2186.7L731.6 2188.8L732.4 2188.7L733.2 2186.9L734 2184.2L734.8 2182.4L735.6 2181.0L736.4 2179.5L737.2 2201.3L738 2201.3L738.8 2201.3L739.6 2201.3L740.4 2201.3L741.2 2201.3L742 2201.3L742.8 2187.7L743.6 2188.2L744.4 2184.6L745.2 2186.0L746 2185.3L746.8 2182.2L747.6 2184.4L748.4 2188.8L749.2 2187.9L750 2182.9L750.8 2181.7L751.6 2184.9L752.4 2187.9L753.2 2190.3L754 2190.6L754.8 2189.8L755.6 2188.4L756.4 2186.1L757.2 2186.2L758 2186.6L758.8 2185.0L759.6 2185.6L760.4 2188.3L761.2 2188.6L762 2186.8L762.8 2186.9L763.6 2187.9L764.4 2187.8L765.2 2188.6L766 2190.5L766.8 2191.5L767.6 2191.4L768.4 2190.2L769.2 2188.8L770 2189.1L770.8 2189.6L771.6 2190.0L772.4 2187.6L773.2 2182.7L774 2184.1L774.8 2188.7L775.6 2189.8L776.4 2190.2L777.2 2190.4L778 2190.2L778.8 2188.8L779.6 2184.9L780.4 2181.8L781.2 2181.1L782 2184.1L782.8 2188.1L783.6 2189.2L784.4 2189.8L785.2 2188.9L786 2186.1L786.8 2183.4L787.6 2182.6L788.4 2186.5L789.2 2189.7L790 2189.7L790.8 2188.9L791.6 2188.1L792.4 2188.2L793.2 2187.6L794 2186.7L794.8 2187.6L795.6 2189.0L796.4 2186.8L797.2 2183.1L798 2185.1L798.8 2187.0L799.6 2183.4L800.4 2183.0L801.2 2184.5L802 2183.8L802.8 2186.5L803.6 2190.1L804.4 2190.9L805.2 2190.4L806 2189.8L806.8 2187.2L807.6 2184.1L808.4 2184.9L809.2 2186.4L810 2187.6L810.8 2188.7L811.6 2187.5L812.4 2187.5L813.2 2189.3L814 2187.8L814.8 2186.4L815.6 2187.7L816.4 2188.3L817.2 2189.9L818 2189.7L818.8 2186.7L819.6 2187.2L820.4 2189.3L821.2 2189.7L822 2189.0L822.8 2185.7L823.6 2181.3L824.4 2182.3L825.2 2187.1L826 2188.6L826.8 2186.9L827.6 2183.7L828.4 2182.1L829.2 2183.3L830 2187.8L830.8 2188.2L831.6 2188.0L832.4 2185.0L833.2 2182.9L834 2186.3L834.8 2189.6L835.6 2188.5L836.4 2187.1L837.2 2187.8L838 2189.0L838.8 2187.0L839.6 2185.2L840.4 2186.1L841.2 2201.3L842 2201.3L842.8 2201.3L843.6 2201.3L844.4 2201.3L845.2 2201.3L846 2186.6L846.8 2184.0L847.6 2185.7L848.4 2188.9L849.2 2187.9L850 2185.9L850.8 2184.0L851.6 2184.4L852.4 2185.7L853.2 2185.1L854 2185.2L854.8 2187.2L855.6 2187.5L856.4 2186.6L857.2 2188.5L858 2189.8L858.8 2189.1L859.6 2188.3L860.4 2187.0L861.2 2186.5L862 2188.2L862.8 2186.0L863.6 2183.3L864.4 2186.0L865.2 2188.2L866 2189.4L866.8 2189.0L867.6 2188.1L868.4 2187.9L869.2 2187.3L870 2186.7L870.8 2188.3L871.6 2190.3L872.4 2189.5L873.2 2187.6L874 2187.3L874.8 2188.4L875.6 2188.1L876.4 2186.1L877.2 2186.9L878 2189.3L878.8 2184.2L879.6 2175.8L880.4 2163.3L880.6 2201.3Z" fill="#4553a8"/>
<path d="M62.5 1934.6h5.1V2062.4h-5.1M62.5 2073.8h5.1V2200.7h-5.1" fill="none" stroke="#3a2e2e" stroke-width="1.5"/>
<text x="50" y="1951.8" font-size="28.8" text-anchor="end">20</text>
<text x="50" y="2060.4" font-size="28.8" text-anchor="end">0</text>
<text x="52" y="2096.5" font-size="28.8" text-anchor="end">20</text>
<text x="52" y="2204.6" font-size="28.8" text-anchor="end">0</text>
<text x="763.7" y="1996.3" font-size="28.8">BRD4</text>
<text x="763.7" y="2138" font-size="28.8">MED1</text>
<polygon points="203.4,1992.8 219.8,1954.7 225.4,1959.2 233.1,1949.5 238.9,1954.1 231.2,1963.8 236.8,1968.3" fill="#040000"/>
<polygon points="374.2,2017.5 390.9,1979.5 396.5,1984.0 404.4,1974.2 410.2,1978.8 402.2,1988.7 407.8,1993.2" fill="#040000"/>
<polygon points="675.4,2019.5 691.8,1981.4 697.4,1985.9 705.5,1975.7 711.3,1980.3 703.2,1990.5 708.8,1995.0" fill="#040000"/>
<polygon points="201.4,2150.8 218.7,2113.1 224.3,2117.7 231.7,2108.9 237.3,2113.7 229.9,2122.5 235.5,2127.1" fill="#040000"/>
<polygon points="375.2,2157.7 392.1,2119.8 397.6,2124.4 405.4,2114.9 411.1,2119.6 403.4,2129.1 408.9,2133.6" fill="#040000"/>
<polygon points="673.9,2158.2 690.5,2120.2 696.1,2124.7 704.1,2114.9 709.8,2119.5 701.9,2129.4 707.5,2133.9" fill="#040000"/>
<!-- pe -->
<defs>
<filter id="cellblur" x="-5%" y="-5%" width="110%" height="110%"><feGaussianBlur stdDeviation="2.2"/></filter>
<filter id="spotblur" x="-50%" y="-50%" width="200%" height="200%"><feGaussianBlur stdDeviation="1.3"/></filter>
<filter id="zblur" x="-10%" y="-10%" width="120%" height="120%"><feGaussianBlur stdDeviation="3.4"/></filter><filter id="zblur2" x="-10%" y="-10%" width="120%" height="120%"><feGaussianBlur stdDeviation="6"/></filter>
<filter id="celltex0" x="0" y="0" width="100%" height="100%" color-interpolation-filters="sRGB"><feGaussianBlur in="SourceGraphic" stdDeviation="2.4" result="b"/><feTurbulence type="fractalNoise" baseFrequency="0.17" numOctaves="2" seed="4" result="n"/><feColorMatrix in="n" type="matrix" values="2.4 0 0 0 -0.75  2.4 0 0 0 -0.75  2.4 0 0 0 -0.75  0 0 0 0 1" result="n1"/><feGaussianBlur in="n1" stdDeviation="0.9" result="n2"/><feComposite in="b" in2="n2" operator="arithmetic" k1="1.1" k2="0.32" k3="0" k4="0"/></filter>
<filter id="celltex1" x="0" y="0" width="100%" height="100%" color-interpolation-filters="sRGB"><feGaussianBlur in="SourceGraphic" stdDeviation="2.6" result="b"/><feTurbulence type="fractalNoise" baseFrequency="0.15" numOctaves="2" seed="11" result="n"/><feColorMatrix in="n" type="matrix" values="2.4 0 0 0 -0.75  2.4 0 0 0 -0.75  2.4 0 0 0 -0.75  0 0 0 0 1" result="n1"/><feGaussianBlur in="n1" stdDeviation="0.9" result="n2"/><feComposite in="b" in2="n2" operator="arithmetic" k1="1.2" k2="0.4" k3="0" k4="0"/></filter>
<filter id="ztex" x="-10%" y="-10%" width="120%" height="120%" color-interpolation-filters="sRGB"><feGaussianBlur in="SourceGraphic" stdDeviation="3.6" result="b"/><feTurbulence type="fractalNoise" baseFrequency="0.1" numOctaves="2" seed="7" result="n"/><feColorMatrix in="n" type="matrix" values="1.6 0 0 0 -0.3  1.6 0 0 0 -0.3  1.6 0 0 0 -0.3  0 0 0 0 1" result="n1"/><feGaussianBlur in="n1" stdDeviation="1.2" result="n2"/><feComposite in="b" in2="n2" operator="arithmetic" k1="0.7" k2="0.68" k3="0" k4="0"/></filter>
<filter id="speck0" x="0" y="0" width="100%" height="100%"><feTurbulence type="fractalNoise" baseFrequency="0.11" numOctaves="2" seed="4"/><feColorMatrix type="matrix" values="0 0 0 0 0.16  0 0 0 0 0.72  0 0 0 0 0.3  5 0 0 0 -2.75"/></filter>
<filter id="speck1" x="0" y="0" width="100%" height="100%"><feTurbulence type="fractalNoise" baseFrequency="0.1" numOctaves="2" seed="9"/><feColorMatrix type="matrix" values="0 0 0 0 0.2  0 0 0 0 0.8  0 0 0 0 0.25  5 0 0 0 -2.5"/></filter>
</defs>
<text x="960.5" y="1599.2" font-size="50" class="b">e</text>
<text x="1143.6" y="1625.3" font-size="28.8">IF :</text>
<text x="1143.6" y="1661" font-size="28.8">BRD4</text>
<text x="1365.4" y="1625.3" font-size="28.8">DNA FISH:</text>
<text x="1370" y="1661" font-size="28.8"><tspan class="i">GBP</tspan><tspan letter-spacing="-1.1"> locus</tspan></text>
<text x="1676.8" y="1657.6" font-size="28.8">Merge</text>
<text x="1885.3" y="1657.6" font-size="28.8">Zoom in</text>
<text transform="translate(1027.7,1820.3) rotate(-90)" font-size="28.8" text-anchor="middle">Thp1-macro</text>
<text transform="translate(1027.7,2086) rotate(-90)" font-size="28.8" text-anchor="middle">Thp1-<tspan class="i">M.tb</tspan></text>
<g transform="translate(1048,1674.9)"><rect x="-0.4" y="-0.4" width="264.1" height="264.1" fill="#030202" stroke="#8a8a8a" stroke-width="0.9"/><clipPath id="cc00"><path d="M135.2 33.0C127.8 32.7 121.1 35.9 115.2 36.9C109.3 37.8 104.2 36.8 98.3 39.2C92.4 41.5 85.0 47.0 78.3 51.5C71.7 55.9 61.9 61.2 56.8 66.8C51.8 72.5 48.7 80.4 46.9 86.8C45.0 93.2 44.7 99.9 45.3 106.8C45.9 113.6 49.5 122.2 50.7 129.8C51.9 137.4 51.5 147.5 53.0 154.4C54.5 161.3 56.3 167.6 59.9 172.8C63.5 178.0 69.1 182.0 75.3 186.6C81.4 191.3 92.2 197.3 98.3 202.0C104.5 206.7 109.7 212.7 113.7 215.8C117.6 218.9 119.0 220.2 122.9 221.2C126.8 222.2 130.6 222.3 138.2 222.0C145.9 221.6 162.2 220.4 170.5 218.9C178.9 217.4 185.6 215.2 190.5 212.7C195.4 210.3 198.5 207.5 201.2 203.5C203.9 199.6 204.7 195.1 207.4 188.2C210.1 181.3 214.9 169.4 218.1 160.5C221.3 151.7 225.3 140.7 227.3 132.9C229.4 125.0 230.9 117.5 231.2 111.4C231.4 105.2 230.5 99.4 228.9 94.5C227.3 89.6 224.6 85.6 221.2 80.6C217.8 75.7 213.3 68.8 207.4 63.7C201.5 58.7 191.7 53.1 184.3 49.2C177.0 45.2 169.2 41.8 161.3 39.2C153.4 36.6 142.5 33.4 135.2 33.0Z"/></clipPath><clipPath id="pcc00"><rect width="263.3" height="263.3"/></clipPath><g clip-path="url(#pcc00)"><g filter="url(#celltex0)"><rect x="-20" y="-20" width="303.3" height="303.3" fill="#030202"/><g clip-path="url(#cc00)"><ellipse cx="130.6" cy="117.5" rx="86.0" ry="92.2" fill="#020d07"/><ellipse cx="109.1" cy="117.5" rx="50.7" ry="50.7" fill="#06301b"/><ellipse cx="69.1" cy="89.9" rx="23.0" ry="30.7" fill="#083a20"/><ellipse cx="145.9" cy="74.5" rx="39.9" ry="26.1" fill="#06301b"/><ellipse cx="181.3" cy="129.8" rx="16.9" ry="20.0" fill="#083a20"/><ellipse cx="61.4" cy="79.1" rx="11.5" ry="13.1" fill="#1c9a50"/><ellipse cx="59.9" cy="78.3" rx="5.4" ry="6.1" fill="#35c466"/><ellipse cx="142.9" cy="53.0" rx="10.8" ry="12.3" fill="#1f9a4c"/><ellipse cx="143.6" cy="53.0" rx="4.6" ry="6.1" fill="#45d070"/><ellipse cx="165.9" cy="68.4" rx="5.4" ry="5.4" fill="#2aa85a"/><ellipse cx="171.3" cy="81.4" rx="2.8" ry="2.8" fill="#2aa85a"/><ellipse cx="122.9" cy="59.1" rx="2.5" ry="2.5" fill="#229a50"/><ellipse cx="102.9" cy="129.8" rx="32.3" ry="23.0" fill="#117a3a"/><ellipse cx="98.3" cy="129.8" rx="18.4" ry="10.8" fill="#3fc048" transform="rotate(30 98.3 129.8)"/><ellipse cx="118.3" cy="146.7" rx="6.1" ry="3.8" fill="#4fcf50" transform="rotate(30 118.3 146.7)"/><ellipse cx="64.5" cy="151.3" rx="9.2" ry="9.2" fill="#128040"/><ellipse cx="84.5" cy="174.3" rx="7.7" ry="9.2" fill="#0f7038"/><ellipse cx="169.0" cy="166.7" rx="2.5" ry="4.0" fill="#48d460" transform="rotate(-30 169.0 166.7)"/><ellipse cx="121.4" cy="183.6" rx="5.4" ry="2.8" fill="#0f7038"/><ellipse cx="158.2" cy="185.1" rx="3.4" ry="2.8" fill="#0f7038"/><ellipse cx="162.8" cy="99.1" rx="2.5" ry="2.5" fill="#1f9a4c"/><ellipse cx="113.7" cy="108.3" rx="2.2" ry="2.2" fill="#1f9a4c"/><ellipse cx="135.2" cy="189.7" rx="1.5" ry="1.8" fill="#128040"/><ellipse cx="216.6" cy="89.9" rx="2.2" ry="4.6" fill="#0c5a30"/><ellipse cx="221.2" cy="108.3" rx="2.2" ry="2.8" fill="#0c5a30"/></g></g><g filter="url(#cellblur)" clip-path="url(#cc00)"><ellipse cx="96.8" cy="131.3" rx="10.8" ry="4.6" fill="#a8ec4c" transform="rotate(35 96.8 131.3)" opacity="0.8"/><ellipse cx="90.6" cy="120.6" rx="3.8" ry="7.7" fill="#8ae04c" transform="rotate(10 90.6 120.6)" opacity="0.7"/></g></g><path d="M135.2 33.0C127.8 32.7 121.1 35.9 115.2 36.9C109.3 37.8 104.2 36.8 98.3 39.2C92.4 41.5 85.0 47.0 78.3 51.5C71.7 55.9 61.9 61.2 56.8 66.8C51.8 72.5 48.7 80.4 46.9 86.8C45.0 93.2 44.7 99.9 45.3 106.8C45.9 113.6 49.5 122.2 50.7 129.8C51.9 137.4 51.5 147.5 53.0 154.4C54.5 161.3 56.3 167.6 59.9 172.8C63.5 178.0 69.1 182.0 75.3 186.6C81.4 191.3 92.2 197.3 98.3 202.0C104.5 206.7 109.7 212.7 113.7 215.8C117.6 218.9 119.0 220.2 122.9 221.2C126.8 222.2 130.6 222.3 138.2 222.0C145.9 221.6 162.2 220.4 170.5 218.9C178.9 217.4 185.6 215.2 190.5 212.7C195.4 210.3 198.5 207.5 201.2 203.5C203.9 199.6 204.7 195.1 207.4 188.2C210.1 181.3 214.9 169.4 218.1 160.5C221.3 151.7 225.3 140.7 227.3 132.9C229.4 125.0 230.9 117.5 231.2 111.4C231.4 105.2 230.5 99.4 228.9 94.5C227.3 89.6 224.6 85.6 221.2 80.6C217.8 75.7 213.3 68.8 207.4 63.7C201.5 58.7 191.7 53.1 184.3 49.2C177.0 45.2 169.2 41.8 161.3 39.2C153.4 36.6 142.5 33.4 135.2 33.0Z" fill="none" stroke="#f2f2f2" stroke-width="1.1" stroke-dasharray="8 4.5"/></g>
<g transform="translate(1317.2,1674.9)"><rect x="-0.4" y="-0.4" width="264.1" height="264.1" fill="#030202" stroke="#8a8a8a" stroke-width="0.9"/><circle cx="72.1" cy="178.2" r="4.2" fill="#c04fb8" filter="url(#spotblur)"/><circle cx="177.3" cy="201.7" r="5.6" fill="#c04fb8" filter="url(#spotblur)"/><circle cx="186.4" cy="200.5" r="2.2" fill="#c04fb8" filter="url(#spotblur)"/><path d="M135.2 33.0C127.8 32.7 121.1 35.9 115.2 36.9C109.3 37.8 104.2 36.8 98.3 39.2C92.4 41.5 85.0 47.0 78.3 51.5C71.7 55.9 61.9 61.2 56.8 66.8C51.8 72.5 48.7 80.4 46.9 86.8C45.0 93.2 44.7 99.9 45.3 106.8C45.9 113.6 49.5 122.2 50.7 129.8C51.9 137.4 51.5 147.5 53.0 154.4C54.5 161.3 56.3 167.6 59.9 172.8C63.5 178.0 69.1 182.0 75.3 186.6C81.4 191.3 92.2 197.3 98.3 202.0C104.5 206.7 109.7 212.7 113.7 215.8C117.6 218.9 119.0 220.2 122.9 221.2C126.8 222.2 130.6 222.3 138.2 222.0C145.9 221.6 162.2 220.4 170.5 218.9C178.9 217.4 185.6 215.2 190.5 212.7C195.4 210.3 198.5 207.5 201.2 203.5C203.9 199.6 204.7 195.1 207.4 188.2C210.1 181.3 214.9 169.4 218.1 160.5C221.3 151.7 225.3 140.7 227.3 132.9C229.4 125.0 230.9 117.5 231.2 111.4C231.4 105.2 230.5 99.4 228.9 94.5C227.3 89.6 224.6 85.6 221.2 80.6C217.8 75.7 213.3 68.8 207.4 63.7C201.5 58.7 191.7 53.1 184.3 49.2C177.0 45.2 169.2 41.8 161.3 39.2C153.4 36.6 142.5 33.4 135.2 33.0Z" fill="none" stroke="#f2f2f2" stroke-width="1.1" stroke-dasharray="8 4.5"/></g>
<g transform="translate(1588.8,1674.9)"><rect x="-0.4" y="-0.4" width="264.1" height="264.1" fill="#030202" stroke="#8a8a8a" stroke-width="0.9"/><clipPath id="cc20"><path d="M135.2 33.0C127.8 32.7 121.1 35.9 115.2 36.9C109.3 37.8 104.2 36.8 98.3 39.2C92.4 41.5 85.0 47.0 78.3 51.5C71.7 55.9 61.9 61.2 56.8 66.8C51.8 72.5 48.7 80.4 46.9 86.8C45.0 93.2 44.7 99.9 45.3 106.8C45.9 113.6 49.5 122.2 50.7 129.8C51.9 137.4 51.5 147.5 53.0 154.4C54.5 161.3 56.3 167.6 59.9 172.8C63.5 178.0 69.1 182.0 75.3 186.6C81.4 191.3 92.2 197.3 98.3 202.0C104.5 206.7 109.7 212.7 113.7 215.8C117.6 218.9 119.0 220.2 122.9 221.2C126.8 222.2 130.6 222.3 138.2 222.0C145.9 221.6 162.2 220.4 170.5 218.9C178.9 217.4 185.6 215.2 190.5 212.7C195.4 210.3 198.5 207.5 201.2 203.5C203.9 199.6 204.7 195.1 207.4 188.2C210.1 181.3 214.9 169.4 218.1 160.5C221.3 151.7 225.3 140.7 227.3 132.9C229.4 125.0 230.9 117.5 231.2 111.4C231.4 105.2 230.5 99.4 228.9 94.5C227.3 89.6 224.6 85.6 221.2 80.6C217.8 75.7 213.3 68.8 207.4 63.7C201.5 58.7 191.7 53.1 184.3 49.2C177.0 45.2 169.2 41.8 161.3 39.2C153.4 36.6 142.5 33.4 135.2 33.0Z"/></clipPath><clipPath id="pcc20"><rect width="263.3" height="263.3"/></clipPath><g clip-path="url(#pcc20)"><g filter="url(#celltex0)"><rect x="-20" y="-20" width="303.3" height="303.3" fill="#030202"/><g clip-path="url(#cc20)"><ellipse cx="130.6" cy="117.5" rx="86.0" ry="92.2" fill="#020d07"/><ellipse cx="109.1" cy="117.5" rx="50.7" ry="50.7" fill="#06301b"/><ellipse cx="69.1" cy="89.9" rx="23.0" ry="30.7" fill="#083a20"/><ellipse cx="145.9" cy="74.5" rx="39.9" ry="26.1" fill="#06301b"/><ellipse cx="181.3" cy="129.8" rx="16.9" ry="20.0" fill="#083a20"/><ellipse cx="61.4" cy="79.1" rx="11.5" ry="13.1" fill="#1c9a50"/><ellipse cx="59.9" cy="78.3" rx="5.4" ry="6.1" fill="#35c466"/><ellipse cx="142.9" cy="53.0" rx="10.8" ry="12.3" fill="#1f9a4c"/><ellipse cx="143.6" cy="53.0" rx="4.6" ry="6.1" fill="#45d070"/><ellipse cx="165.9" cy="68.4" rx="5.4" ry="5.4" fill="#2aa85a"/><ellipse cx="171.3" cy="81.4" rx="2.8" ry="2.8" fill="#2aa85a"/><ellipse cx="122.9" cy="59.1" rx="2.5" ry="2.5" fill="#229a50"/><ellipse cx="102.9" cy="129.8" rx="32.3" ry="23.0" fill="#117a3a"/><ellipse cx="98.3" cy="129.8" rx="18.4" ry="10.8" fill="#3fc048" transform="rotate(30 98.3 129.8)"/><ellipse cx="118.3" cy="146.7" rx="6.1" ry="3.8" fill="#4fcf50" transform="rotate(30 118.3 146.7)"/><ellipse cx="64.5" cy="151.3" rx="9.2" ry="9.2" fill="#128040"/><ellipse cx="84.5" cy="174.3" rx="7.7" ry="9.2" fill="#0f7038"/><ellipse cx="169.0" cy="166.7" rx="2.5" ry="4.0" fill="#48d460" transform="rotate(-30 169.0 166.7)"/><ellipse cx="121.4" cy="183.6" rx="5.4" ry="2.8" fill="#0f7038"/><ellipse cx="158.2" cy="185.1" rx="3.4" ry="2.8" fill="#0f7038"/><ellipse cx="162.8" cy="99.1" rx="2.5" ry="2.5" fill="#1f9a4c"/><ellipse cx="113.7" cy="108.3" rx="2.2" ry="2.2" fill="#1f9a4c"/><ellipse cx="135.2" cy="189.7" rx="1.5" ry="1.8" fill="#128040"/><ellipse cx="216.6" cy="89.9" rx="2.2" ry="4.6" fill="#0c5a30"/><ellipse cx="221.2" cy="108.3" rx="2.2" ry="2.8" fill="#0c5a30"/></g></g><g filter="url(#cellblur)" clip-path="url(#cc20)"><ellipse cx="96.8" cy="131.3" rx="10.8" ry="4.6" fill="#a8ec4c" transform="rotate(35 96.8 131.3)" opacity="0.8"/><ellipse cx="90.6" cy="120.6" rx="3.8" ry="7.7" fill="#8ae04c" transform="rotate(10 90.6 120.6)" opacity="0.7"/></g></g><circle cx="72.1" cy="178.2" r="4.2" fill="#c04fb8" filter="url(#spotblur)"/><circle cx="177.3" cy="201.7" r="5.6" fill="#c04fb8" filter="url(#spotblur)"/><circle cx="186.4" cy="200.5" r="2.2" fill="#c04fb8" filter="url(#spotblur)"/><path d="M135.2 33.0C127.8 32.7 121.1 35.9 115.2 36.9C109.3 37.8 104.2 36.8 98.3 39.2C92.4 41.5 85.0 47.0 78.3 51.5C71.7 55.9 61.9 61.2 56.8 66.8C51.8 72.5 48.7 80.4 46.9 86.8C45.0 93.2 44.7 99.9 45.3 106.8C45.9 113.6 49.5 122.2 50.7 129.8C51.9 137.4 51.5 147.5 53.0 154.4C54.5 161.3 56.3 167.6 59.9 172.8C63.5 178.0 69.1 182.0 75.3 186.6C81.4 191.3 92.2 197.3 98.3 202.0C104.5 206.7 109.7 212.7 113.7 215.8C117.6 218.9 119.0 220.2 122.9 221.2C126.8 222.2 130.6 222.3 138.2 222.0C145.9 221.6 162.2 220.4 170.5 218.9C178.9 217.4 185.6 215.2 190.5 212.7C195.4 210.3 198.5 207.5 201.2 203.5C203.9 199.6 204.7 195.1 207.4 188.2C210.1 181.3 214.9 169.4 218.1 160.5C221.3 151.7 225.3 140.7 227.3 132.9C229.4 125.0 230.9 117.5 231.2 111.4C231.4 105.2 230.5 99.4 228.9 94.5C227.3 89.6 224.6 85.6 221.2 80.6C217.8 75.7 213.3 68.8 207.4 63.7C201.5 58.7 191.7 53.1 184.3 49.2C177.0 45.2 169.2 41.8 161.3 39.2C153.4 36.6 142.5 33.4 135.2 33.0Z" fill="none" stroke="#f2f2f2" stroke-width="1.1" stroke-dasharray="8 4.5"/></g>
<g transform="translate(1048,1946.5)"><rect x="-0.4" y="-0.4" width="264.1" height="264.1" fill="#030202" stroke="#8a8a8a" stroke-width="0.9"/><clipPath id="cc01"><path d="M155.1 30.3C160.1 30.2 161.8 28.6 167.4 30.7C173.1 32.9 183.1 38.7 190.5 43.8C197.8 48.8 207.4 54.3 213.5 62.2C219.7 70.1 224.9 82.6 228.9 92.9C232.8 103.3 236.9 117.9 238.1 126.7C239.3 135.6 238.3 140.4 236.6 148.2C234.8 156.1 230.3 168.3 227.3 175.9C224.4 183.5 221.8 190.0 218.1 195.9C214.4 201.8 211.4 208.6 204.3 212.7C197.2 216.9 180.5 218.8 173.6 222.0C166.7 225.2 165.0 230.5 161.3 232.7C157.6 234.9 155.5 235.8 150.5 235.8C145.6 235.8 138.7 234.4 130.6 232.7C122.5 231.0 109.7 228.2 99.8 225.0C90.0 221.8 76.7 217.7 69.1 212.7C61.5 207.8 56.9 201.4 52.2 194.3C47.6 187.2 42.9 176.6 39.9 168.2C37.0 159.8 35.3 148.7 33.8 142.1C32.3 135.5 30.5 133.1 30.7 126.7C31.0 120.3 33.4 110.0 35.3 102.2C37.3 94.3 39.1 85.2 43.0 77.6C46.9 70.0 53.3 60.4 59.9 54.5C66.5 48.6 75.6 44.1 84.5 40.7C93.3 37.3 106.9 34.6 115.2 33.0C123.6 31.5 130.3 31.5 136.7 31.0C143.1 30.6 150.2 30.3 155.1 30.3Z"/></clipPath><clipPath id="pcc01"><rect width="263.3" height="263.3"/></clipPath><g clip-path="url(#pcc01)"><g filter="url(#celltex1)"><rect x="-20" y="-20" width="303.3" height="303.3" fill="#030202"/><g clip-path="url(#cc01)"><ellipse cx="135.2" cy="132.9" rx="107.5" ry="107.5" fill="#0b4a24"/><ellipse cx="135.2" cy="132.9" rx="86.0" ry="86.0" fill="#083a1e"/><ellipse cx="135.2" cy="129.8" rx="58.4" ry="50.7" fill="#0f6a30"/><ellipse cx="127.5" cy="145.2" rx="13.1" ry="10.8" fill="#031a0d"/><ellipse cx="145.9" cy="74.5" rx="10.8" ry="9.2" fill="#052612"/><ellipse cx="78.3" cy="145.2" rx="10.8" ry="9.2" fill="#052612"/><ellipse cx="196.6" cy="160.5" rx="10.8" ry="10.8" fill="#052612"/><ellipse cx="99.8" cy="65.3" rx="7.7" ry="7.7" fill="#052612"/><ellipse cx="184.3" cy="92.9" rx="10.8" ry="9.2" fill="#06301a"/><ellipse cx="109.1" cy="206.6" rx="9.2" ry="6.1" fill="#06301a"/><ellipse cx="69.1" cy="60.7" rx="11.5" ry="13.8" fill="#2aa84c" transform="rotate(-40 69.1 60.7)"/><ellipse cx="49.2" cy="86.8" rx="6.9" ry="7.7" fill="#1f9044"/><ellipse cx="39.9" cy="129.8" rx="6.1" ry="7.7" fill="#1f9044"/><ellipse cx="163.6" cy="40.7" rx="7.7" ry="6.5" fill="#2aa84c"/><ellipse cx="198.2" cy="62.2" rx="8.4" ry="6.9" fill="#249c48"/><ellipse cx="225.8" cy="145.2" rx="7.7" ry="10.8" fill="#2cae4c"/><ellipse cx="162.8" cy="217.4" rx="7.7" ry="7.7" fill="#249c48"/><ellipse cx="152.1" cy="208.1" rx="2.8" ry="3.4" fill="#55d44c"/><ellipse cx="56.8" cy="171.3" rx="6.1" ry="7.7" fill="#157a38"/><ellipse cx="87.6" cy="212.7" rx="7.7" ry="6.1" fill="#157a38"/><ellipse cx="130.6" cy="223.5" rx="7.7" ry="5.4" fill="#157a38"/><ellipse cx="222.7" cy="102.2" rx="6.1" ry="9.2" fill="#157a38"/><ellipse cx="124.4" cy="39.2" rx="7.7" ry="5.4" fill="#157a38"/><ellipse cx="109.1" cy="111.4" rx="29.2" ry="18.4" fill="#229a40"/><ellipse cx="109.1" cy="92.9" rx="3.8" ry="3.4" fill="#6cdc44"/><ellipse cx="159.0" cy="144.4" rx="4.6" ry="6.9" fill="#5fd444" transform="rotate(-20 159.0 144.4)"/><ellipse cx="170.5" cy="132.9" rx="6.1" ry="3.8" fill="#3cc04a"/><ellipse cx="107.5" cy="172.8" rx="3.8" ry="3.4" fill="#4ccc4a"/><ellipse cx="196.6" cy="197.4" rx="24.6" ry="8.0" fill="#5fd43c" transform="rotate(-42 196.6 197.4)"/><ellipse cx="144.4" cy="162.1" rx="6.1" ry="6.9" fill="#2fb048"/><ellipse cx="156.7" cy="163.6" rx="1.8" ry="1.8" fill="#55d44c"/><ellipse cx="193.5" cy="126.7" rx="9.2" ry="4.6" fill="#2fb048"/><ellipse cx="99.8" cy="83.7" rx="3.1" ry="2.2" fill="#4ccc4a"/><ellipse cx="145.9" cy="62.2" rx="2.8" ry="2.2" fill="#3cc04a"/><ellipse cx="175.1" cy="79.1" rx="2.2" ry="2.2" fill="#2fb048"/><ellipse cx="76.8" cy="92.9" rx="2.2" ry="2.2" fill="#3cc04a"/></g></g><g filter="url(#cellblur)" clip-path="url(#cc01)"><ellipse cx="96.8" cy="111.4" rx="9.5" ry="4.3" fill="#9aec44" transform="rotate(-33 96.8 111.4)" opacity="0.85"/><ellipse cx="113.7" cy="99.1" rx="8.9" ry="5.8" fill="#6cdc44" opacity="0.7"/><ellipse cx="155.1" cy="129.8" rx="8.9" ry="7.1" fill="#90e844" opacity="0.85"/><ellipse cx="88.3" cy="175.9" rx="5.5" ry="6.8" fill="#86e444" opacity="0.85"/><ellipse cx="198.9" cy="197.4" rx="19.2" ry="4.9" fill="#a4f040" transform="rotate(-42 198.9 197.4)" opacity="0.9"/></g></g><path d="M155.1 30.3C160.1 30.2 161.8 28.6 167.4 30.7C173.1 32.9 183.1 38.7 190.5 43.8C197.8 48.8 207.4 54.3 213.5 62.2C219.7 70.1 224.9 82.6 228.9 92.9C232.8 103.3 236.9 117.9 238.1 126.7C239.3 135.6 238.3 140.4 236.6 148.2C234.8 156.1 230.3 168.3 227.3 175.9C224.4 183.5 221.8 190.0 218.1 195.9C214.4 201.8 211.4 208.6 204.3 212.7C197.2 216.9 180.5 218.8 173.6 222.0C166.7 225.2 165.0 230.5 161.3 232.7C157.6 234.9 155.5 235.8 150.5 235.8C145.6 235.8 138.7 234.4 130.6 232.7C122.5 231.0 109.7 228.2 99.8 225.0C90.0 221.8 76.7 217.7 69.1 212.7C61.5 207.8 56.9 201.4 52.2 194.3C47.6 187.2 42.9 176.6 39.9 168.2C37.0 159.8 35.3 148.7 33.8 142.1C32.3 135.5 30.5 133.1 30.7 126.7C31.0 120.3 33.4 110.0 35.3 102.2C37.3 94.3 39.1 85.2 43.0 77.6C46.9 70.0 53.3 60.4 59.9 54.5C66.5 48.6 75.6 44.1 84.5 40.7C93.3 37.3 106.9 34.6 115.2 33.0C123.6 31.5 130.3 31.5 136.7 31.0C143.1 30.6 150.2 30.3 155.1 30.3Z" fill="none" stroke="#f2f2f2" stroke-width="1.1" stroke-dasharray="8 4.5"/></g>
<g transform="translate(1317.2,1946.5)"><rect x="-0.4" y="-0.4" width="264.1" height="264.1" fill="#030202" stroke="#8a8a8a" stroke-width="0.9"/><circle cx="91.7" cy="114.7" r="4.6" fill="#c04fb8" filter="url(#spotblur)"/><circle cx="86.3" cy="179.6" r="4.6" fill="#c04fb8" filter="url(#spotblur)"/><circle cx="96.3" cy="99.4" r="1.8" fill="#6a2c66" filter="url(#spotblur)"/><circle cx="90.3" cy="167.1" r="2.2" fill="#7a3276" filter="url(#spotblur)"/><circle cx="118.8" cy="123.5" r="1.5" fill="#4a2046" filter="url(#spotblur)"/><circle cx="106.8" cy="107.5" r="1.5" fill="#4a2046" filter="url(#spotblur)"/><path d="M155.1 30.3C160.1 30.2 161.8 28.6 167.4 30.7C173.1 32.9 183.1 38.7 190.5 43.8C197.8 48.8 207.4 54.3 213.5 62.2C219.7 70.1 224.9 82.6 228.9 92.9C232.8 103.3 236.9 117.9 238.1 126.7C239.3 135.6 238.3 140.4 236.6 148.2C234.8 156.1 230.3 168.3 227.3 175.9C224.4 183.5 221.8 190.0 218.1 195.9C214.4 201.8 211.4 208.6 204.3 212.7C197.2 216.9 180.5 218.8 173.6 222.0C166.7 225.2 165.0 230.5 161.3 232.7C157.6 234.9 155.5 235.8 150.5 235.8C145.6 235.8 138.7 234.4 130.6 232.7C122.5 231.0 109.7 228.2 99.8 225.0C90.0 221.8 76.7 217.7 69.1 212.7C61.5 207.8 56.9 201.4 52.2 194.3C47.6 187.2 42.9 176.6 39.9 168.2C37.0 159.8 35.3 148.7 33.8 142.1C32.3 135.5 30.5 133.1 30.7 126.7C31.0 120.3 33.4 110.0 35.3 102.2C37.3 94.3 39.1 85.2 43.0 77.6C46.9 70.0 53.3 60.4 59.9 54.5C66.5 48.6 75.6 44.1 84.5 40.7C93.3 37.3 106.9 34.6 115.2 33.0C123.6 31.5 130.3 31.5 136.7 31.0C143.1 30.6 150.2 30.3 155.1 30.3Z" fill="none" stroke="#f2f2f2" stroke-width="1.1" stroke-dasharray="8 4.5"/></g>
<g transform="translate(1588.8,1946.5)"><rect x="-0.4" y="-0.4" width="264.1" height="264.1" fill="#030202" stroke="#8a8a8a" stroke-width="0.9"/><clipPath id="cc21"><path d="M155.1 30.3C160.1 30.2 161.8 28.6 167.4 30.7C173.1 32.9 183.1 38.7 190.5 43.8C197.8 48.8 207.4 54.3 213.5 62.2C219.7 70.1 224.9 82.6 228.9 92.9C232.8 103.3 236.9 117.9 238.1 126.7C239.3 135.6 238.3 140.4 236.6 148.2C234.8 156.1 230.3 168.3 227.3 175.9C224.4 183.5 221.8 190.0 218.1 195.9C214.4 201.8 211.4 208.6 204.3 212.7C197.2 216.9 180.5 218.8 173.6 222.0C166.7 225.2 165.0 230.5 161.3 232.7C157.6 234.9 155.5 235.8 150.5 235.8C145.6 235.8 138.7 234.4 130.6 232.7C122.5 231.0 109.7 228.2 99.8 225.0C90.0 221.8 76.7 217.7 69.1 212.7C61.5 207.8 56.9 201.4 52.2 194.3C47.6 187.2 42.9 176.6 39.9 168.2C37.0 159.8 35.3 148.7 33.8 142.1C32.3 135.5 30.5 133.1 30.7 126.7C31.0 120.3 33.4 110.0 35.3 102.2C37.3 94.3 39.1 85.2 43.0 77.6C46.9 70.0 53.3 60.4 59.9 54.5C66.5 48.6 75.6 44.1 84.5 40.7C93.3 37.3 106.9 34.6 115.2 33.0C123.6 31.5 130.3 31.5 136.7 31.0C143.1 30.6 150.2 30.3 155.1 30.3Z"/></clipPath><clipPath id="pcc21"><rect width="263.3" height="263.3"/></clipPath><g clip-path="url(#pcc21)"><g filter="url(#celltex1)"><rect x="-20" y="-20" width="303.3" height="303.3" fill="#030202"/><g clip-path="url(#cc21)"><ellipse cx="135.2" cy="132.9" rx="107.5" ry="107.5" fill="#0b4a24"/><ellipse cx="135.2" cy="132.9" rx="86.0" ry="86.0" fill="#083a1e"/><ellipse cx="135.2" cy="129.8" rx="58.4" ry="50.7" fill="#0f6a30"/><ellipse cx="127.5" cy="145.2" rx="13.1" ry="10.8" fill="#031a0d"/><ellipse cx="145.9" cy="74.5" rx="10.8" ry="9.2" fill="#052612"/><ellipse cx="78.3" cy="145.2" rx="10.8" ry="9.2" fill="#052612"/><ellipse cx="196.6" cy="160.5" rx="10.8" ry="10.8" fill="#052612"/><ellipse cx="99.8" cy="65.3" rx="7.7" ry="7.7" fill="#052612"/><ellipse cx="184.3" cy="92.9" rx="10.8" ry="9.2" fill="#06301a"/><ellipse cx="109.1" cy="206.6" rx="9.2" ry="6.1" fill="#06301a"/><ellipse cx="69.1" cy="60.7" rx="11.5" ry="13.8" fill="#2aa84c" transform="rotate(-40 69.1 60.7)"/><ellipse cx="49.2" cy="86.8" rx="6.9" ry="7.7" fill="#1f9044"/><ellipse cx="39.9" cy="129.8" rx="6.1" ry="7.7" fill="#1f9044"/><ellipse cx="163.6" cy="40.7" rx="7.7" ry="6.5" fill="#2aa84c"/><ellipse cx="198.2" cy="62.2" rx="8.4" ry="6.9" fill="#249c48"/><ellipse cx="225.8" cy="145.2" rx="7.7" ry="10.8" fill="#2cae4c"/><ellipse cx="162.8" cy="217.4" rx="7.7" ry="7.7" fill="#249c48"/><ellipse cx="152.1" cy="208.1" rx="2.8" ry="3.4" fill="#55d44c"/><ellipse cx="56.8" cy="171.3" rx="6.1" ry="7.7" fill="#157a38"/><ellipse cx="87.6" cy="212.7" rx="7.7" ry="6.1" fill="#157a38"/><ellipse cx="130.6" cy="223.5" rx="7.7" ry="5.4" fill="#157a38"/><ellipse cx="222.7" cy="102.2" rx="6.1" ry="9.2" fill="#157a38"/><ellipse cx="124.4" cy="39.2" rx="7.7" ry="5.4" fill="#157a38"/><ellipse cx="109.1" cy="111.4" rx="29.2" ry="18.4" fill="#229a40"/><ellipse cx="109.1" cy="92.9" rx="3.8" ry="3.4" fill="#6cdc44"/><ellipse cx="159.0" cy="144.4" rx="4.6" ry="6.9" fill="#5fd444" transform="rotate(-20 159.0 144.4)"/><ellipse cx="170.5" cy="132.9" rx="6.1" ry="3.8" fill="#3cc04a"/><ellipse cx="107.5" cy="172.8" rx="3.8" ry="3.4" fill="#4ccc4a"/><ellipse cx="196.6" cy="197.4" rx="24.6" ry="8.0" fill="#5fd43c" transform="rotate(-42 196.6 197.4)"/><ellipse cx="144.4" cy="162.1" rx="6.1" ry="6.9" fill="#2fb048"/><ellipse cx="156.7" cy="163.6" rx="1.8" ry="1.8" fill="#55d44c"/><ellipse cx="193.5" cy="126.7" rx="9.2" ry="4.6" fill="#2fb048"/><ellipse cx="99.8" cy="83.7" rx="3.1" ry="2.2" fill="#4ccc4a"/><ellipse cx="145.9" cy="62.2" rx="2.8" ry="2.2" fill="#3cc04a"/><ellipse cx="175.1" cy="79.1" rx="2.2" ry="2.2" fill="#2fb048"/><ellipse cx="76.8" cy="92.9" rx="2.2" ry="2.2" fill="#3cc04a"/></g></g><g filter="url(#cellblur)" clip-path="url(#cc21)"><ellipse cx="96.8" cy="111.4" rx="9.5" ry="4.3" fill="#9aec44" transform="rotate(-33 96.8 111.4)" opacity="0.85"/><ellipse cx="113.7" cy="99.1" rx="8.9" ry="5.8" fill="#6cdc44" opacity="0.7"/><ellipse cx="155.1" cy="129.8" rx="8.9" ry="7.1" fill="#90e844" opacity="0.85"/><ellipse cx="88.3" cy="175.9" rx="5.5" ry="6.8" fill="#86e444" opacity="0.85"/><ellipse cx="198.9" cy="197.4" rx="19.2" ry="4.9" fill="#a4f040" transform="rotate(-42 198.9 197.4)" opacity="0.9"/></g></g><circle cx="91.7" cy="114.7" r="4.6" fill="#f4e8f4" filter="url(#spotblur)"/><circle cx="88.7" cy="117.0" r="3" fill="#e0a0d8" filter="url(#spotblur)"/><circle cx="86.3" cy="179.6" r="5" fill="#ffffff" filter="url(#spotblur)"/><path d="M155.1 30.3C160.1 30.2 161.8 28.6 167.4 30.7C173.1 32.9 183.1 38.7 190.5 43.8C197.8 48.8 207.4 54.3 213.5 62.2C219.7 70.1 224.9 82.6 228.9 92.9C232.8 103.3 236.9 117.9 238.1 126.7C239.3 135.6 238.3 140.4 236.6 148.2C234.8 156.1 230.3 168.3 227.3 175.9C224.4 183.5 221.8 190.0 218.1 195.9C214.4 201.8 211.4 208.6 204.3 212.7C197.2 216.9 180.5 218.8 173.6 222.0C166.7 225.2 165.0 230.5 161.3 232.7C157.6 234.9 155.5 235.8 150.5 235.8C145.6 235.8 138.7 234.4 130.6 232.7C122.5 231.0 109.7 228.2 99.8 225.0C90.0 221.8 76.7 217.7 69.1 212.7C61.5 207.8 56.9 201.4 52.2 194.3C47.6 187.2 42.9 176.6 39.9 168.2C37.0 159.8 35.3 148.7 33.8 142.1C32.3 135.5 30.5 133.1 30.7 126.7C31.0 120.3 33.4 110.0 35.3 102.2C37.3 94.3 39.1 85.2 43.0 77.6C46.9 70.0 53.3 60.4 59.9 54.5C66.5 48.6 75.6 44.1 84.5 40.7C93.3 37.3 106.9 34.6 115.2 33.0C123.6 31.5 130.3 31.5 136.7 31.0C143.1 30.6 150.2 30.3 155.1 30.3Z" fill="none" stroke="#f2f2f2" stroke-width="1.1" stroke-dasharray="8 4.5"/></g>
<text x="1829.5" y="1704.8" font-size="26.5" text-anchor="end" fill="#fff" class="b">11/60</text>
<text x="1595" y="1927.2" font-size="25.6" fill="#fff" class="b">18.3 %</text>
<rect x="1786.9" y="1897.9" width="56.4" height="7.4" fill="#fff"/>
<text x="1815" y="1927.2" font-size="18.8" text-anchor="middle" fill="#fff" class="b">2.5 µm</text>
<text x="1830" y="1974.9" font-size="26.5" text-anchor="end" fill="#fff" class="b">39/60</text>
<text x="1595" y="2199.6" font-size="25.6" fill="#fff" class="b">65.0 %</text>
<rect x="1786.9" y="2167.8" width="56.4" height="7" fill="#fff"/>
<text x="1815" y="2197.3" font-size="18.8" text-anchor="middle" fill="#fff" class="b">2.5 µm</text>
<g fill="none" stroke="#d9c32e" stroke-width="1.2"><rect x="1648.4" y="1838.5" width="26.5" height="26.4"/><rect x="1752.3" y="1863.1" width="26.5" height="26.5"/><rect x="1666.4" y="2046.3" width="27" height="26.5"/><rect x="1661.3" y="2112.5" width="26.5" height="26.7"/></g>
<g fill="none" stroke="#d9c32e" stroke-width="2" stroke-dasharray="6.5 4"><path d="M1674.9 1852.3L1871.4 1737.1"/><path d="M1778.8 1876H1871.4"/><path d="M1693.4 2059.5L1872.6 2008.3"/><path d="M1687.8 2125.8L1872.6 2148.9"/></g>
<clipPath id="z1677"><rect x="1873" y="1677.3" width="126.3" height="125.4"/></clipPath><rect x="1873" y="1677.3" width="126.3" height="125.4" fill="#030202"/><g clip-path="url(#z1677)"><g filter="url(#zblur)"><g filter="url(#zblur2)"><ellipse cx="1984.0" cy="1728.0" rx="20.0" ry="24.0" fill="#0b4a28"/><ellipse cx="1990.0" cy="1722.0" rx="11.0" ry="14.0" fill="#138044"/><ellipse cx="1990.0" cy="1770.0" rx="10.0" ry="22.0" fill="#07301a"/><ellipse cx="1950.0" cy="1684.0" rx="16.0" ry="5.0" fill="#0a4024"/></g><ellipse cx="1932.3" cy="1745.0" rx="24.5" ry="12.0" fill="#ad56a4" transform="rotate(-52 1932.3 1745.0)"/></g></g><rect x="1874.5" y="1678.8" width="123.3" height="122.4" fill="none" stroke="#cbb736" stroke-width="3"/>
<clipPath id="z1809"><rect x="1873" y="1809.5" width="126.3" height="126"/></clipPath><rect x="1873" y="1809.5" width="126.3" height="126" fill="#030202"/><g clip-path="url(#z1809)"><g filter="url(#zblur)"><path d="M1909.6 1848.1C1914.0 1842.5 1922.9 1845.7 1932.3 1845.4C1941.7 1845.1 1946.5 1841.8 1952.4 1846.8C1958.3 1851.8 1956.7 1858.5 1959.1 1868.2C1961.5 1877.9 1963.4 1882.7 1963.1 1891.0C1962.8 1899.2 1962.2 1901.6 1957.8 1905.7C1953.3 1909.8 1951.3 1911.8 1943.0 1909.7C1934.8 1907.7 1927.0 1904.9 1920.3 1896.3C1913.5 1887.8 1914.6 1881.5 1912.2 1870.9C1909.9 1860.3 1905.1 1853.7 1909.6 1848.1Z" fill="#ad56a4"/><ellipse cx="1978.5" cy="1864.2" rx="7.5" ry="8.0" fill="#a04c98"/></g></g><rect x="1874.5" y="1811" width="123.3" height="123" fill="none" stroke="#cbb736" stroke-width="3"/>
<clipPath id="z1946"><rect x="1873" y="1946.3" width="126.3" height="126.6"/></clipPath><rect x="1873" y="1946.3" width="126.3" height="126.6" fill="#030202"/><g clip-path="url(#z1946)"><g filter="url(#ztex)"><rect x="1860" y="1940" width="150" height="140" fill="#0e5a2a"/><ellipse cx="1920.7" cy="1973.7" rx="26.0" ry="20.0" fill="#062c14"/><ellipse cx="1974.7" cy="2054.7" rx="24.0" ry="14.0" fill="#07361a"/><ellipse cx="1880.2" cy="2020.9" rx="8.0" ry="20.0" fill="#062c14"/><ellipse cx="1877.5" cy="1976.4" rx="9.0" ry="12.0" fill="#1c9a40"/><path d="M1891.0 2054.7L1940.9 2042.5" stroke="#1fa83c" stroke-width="20" stroke-linecap="round" fill="none"/><path d="M1954.4 2018.3L1999.0 1973.7" stroke="#3fae34" stroke-width="50" stroke-linecap="round" fill="none"/><path d="M1957.1 2015.6L1999.0 1975.1" stroke="#6cbc2e" stroke-width="36" stroke-linecap="round" fill="none"/></g><g filter="url(#zblur)"><ellipse cx="1924.8" cy="2020.9" rx="10.0" ry="10.5" fill="#dc9ad0"/><ellipse cx="1939.6" cy="2015.6" rx="19.0" ry="10.5" fill="#ffffff" transform="rotate(-42 1939.6 2015.6)"/><ellipse cx="1946.3" cy="2007.5" rx="10.0" ry="7.0" fill="#ffffff" transform="rotate(-42 1946.3 2007.5)"/></g></g><rect x="1874.5" y="1947.8" width="123.3" height="123.6" fill="none" stroke="#cbb736" stroke-width="3"/>
<clipPath id="z2081"><rect x="1873" y="2081.9" width="126.3" height="126.4"/></clipPath><rect x="1873" y="2081.9" width="126.3" height="126.4" fill="#030202"/><g clip-path="url(#z2081)"><g filter="url(#ztex)"><rect x="1860" y="2070" width="150" height="150" fill="#0c5228"/><ellipse cx="1893.7" cy="2101.9" rx="24.0" ry="16.0" fill="#041c0c"/><ellipse cx="1985.5" cy="2196.3" rx="16.0" ry="10.0" fill="#041c0c"/><ellipse cx="1893.7" cy="2182.8" rx="20.0" ry="14.0" fill="#083c1c"/><ellipse cx="1985.5" cy="2115.4" rx="10.0" ry="30.0" fill="#0a4a22"/><ellipse cx="1893.7" cy="2134.3" rx="22.0" ry="9.0" fill="#1fa03c"/><ellipse cx="1951.7" cy="2128.9" rx="27.0" ry="44.0" fill="#3fae34" transform="rotate(12 1951.7 2128.9)"/><ellipse cx="1953.1" cy="2126.2" rx="19.0" ry="36.0" fill="#6cbc2e" transform="rotate(12 1953.1 2126.2)"/></g><g filter="url(#zblur)"><ellipse cx="1923.4" cy="2155.9" rx="9.0" ry="9.0" fill="#e6a8dc"/><ellipse cx="1936.2" cy="2145.7" rx="18.5" ry="18.5" fill="#ffffff"/></g></g><rect x="1874.5" y="2083.4" width="123.3" height="123.4" fill="none" stroke="#cbb736" stroke-width="3"/>
</svg>
</body></html>
